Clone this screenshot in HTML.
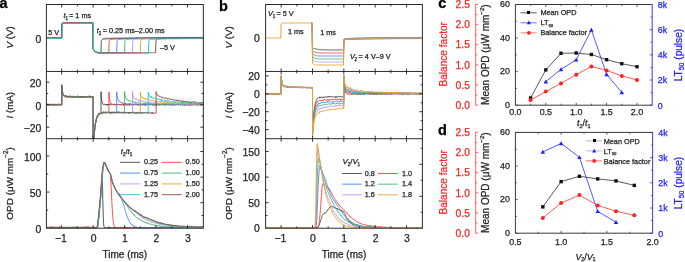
<!DOCTYPE html>
<html><head><meta charset="utf-8"><style>
html,body{margin:0;padding:0;background:#fff;width:685px;height:262px;overflow:hidden;}
svg{display:block;font-family:"Liberation Sans",sans-serif;will-change:transform;}
text{stroke-width:0.25px;paint-order:stroke;}
</style></head><body>
<svg width="685" height="262" viewBox="0 0 685 262">
<rect width="685" height="262" fill="#fff"/>
<defs>
<clipPath id="ca1"><rect x="46.4" y="4.5" width="156.95" height="66.95"/></clipPath>
<clipPath id="ca2"><rect x="46.4" y="71.45" width="156.95" height="67.25"/></clipPath>
<clipPath id="ca3"><rect x="46.4" y="138.7" width="156.95" height="89.5"/></clipPath>
<clipPath id="cb1"><rect x="265.6" y="4.5" width="156.8" height="66.95"/></clipPath>
<clipPath id="cb2"><rect x="265.6" y="71.45" width="156.8" height="67.25"/></clipPath>
<clipPath id="cb3"><rect x="265.6" y="138.7" width="156.8" height="89.5"/></clipPath>
</defs>
<g clip-path="url(#ca1)">
<polyline points="46.2,38.1 46.6,38.1 46.9,38.1 47.2,38.1 47.5,38.1 47.8,38.1 48.1,38.1 48.4,38.1 48.8,38.1 49.1,38.1 49.4,38.1 49.7,38.1 50,38.1 50.3,38.1 50.6,38.1 51,38.1 51.3,38.1 51.6,38.1 51.9,38.1 52.2,38.1 52.5,38.1 52.8,38.1 53.2,38.1 53.5,38.1 53.8,38.1 54.1,38.1 54.4,38.1 54.7,38.1 55,38.1 55.4,38.1 55.7,38.1 56,38.1 56.3,38.1 56.6,38.1 56.9,38.1 57.3,38.1 57.6,38.1 57.9,38.1 58.2,38.1 58.5,38.1 58.8,38.1 59.1,38.1 59.5,38.1 59.8,38.1 60.1,38.1 60.4,38.1 60.7,38.1 61,38.1 61.3,38.1 61.7,38.1 62,24.6 62.3,23.8 62.6,23.4 62.9,23.2 63.2,23.2 63.5,23.1 63.9,23.1 64.2,23.1 64.5,23.1 64.8,23.1 65.1,23.1 65.4,23.1 65.7,23.1 66.1,23.1 66.4,23.1 66.7,23.1 67,23.1 67.3,23.1 67.6,23.1 67.9,23.1 68.3,23.1 68.6,23.1 68.9,23.1 69.2,23.1 69.5,23.1 69.8,23.1 70.1,23.1 70.5,23.1 70.8,23.1 71.1,23.1 71.4,23.1 71.7,23.1 72,23.1 72.4,23.1 72.7,23.1 73,23.1 73.3,23.1 73.6,23.1 73.9,23.1 74.2,23.1 74.6,23.1 74.9,23.1 75.2,23.1 75.5,23.1 75.8,23.1 76.1,23.1 76.4,23.1 76.8,23.1 77.1,23.1 77.4,23.1 77.7,23.1 78,23.1 78.3,23.1 78.6,23.1 79,23.1 79.3,23.1 79.6,23.1 79.9,23.1 80.2,23.1 80.5,23.1 80.8,23.1 81.2,23.1 81.5,23.1 81.8,23.1 82.1,23.1 82.4,23.1 82.7,23.1 83,23.1 83.4,23.1 83.7,23.1 84,23.1 84.3,23.1 84.6,23.1 84.9,23.1 85.3,23.1 85.6,23.1 85.9,23.1 86.2,23.1 86.5,23.1 86.8,23.1 87.1,23.1 87.5,23.1 87.8,23.1 88.1,23.1 88.4,23.1 88.7,23.1 89,23.1 89.3,23.1 89.7,23.1 90,23.1 90.3,23.1 90.6,23.1 90.9,23.1 91.2,23.1 91.5,23.1 91.9,23.1 92.2,23.1 92.5,23.1 92.8,23.1 93.1,23.1 93.4,49.4 93.7,49.9 94.1,50.4 94.4,50.8 94.7,51.2 95,51.5 95.3,51.7 95.6,51.9 95.9,52.1 96.3,52.3 96.6,52.4 96.9,52.5 97.2,52.6 97.5,52.7 97.8,52.7 98.1,52.8 98.5,52.8 98.8,52.9 99.1,52.9 99.4,52.9 99.7,53.0 100,53.0 100.4,53.0 100.7,53.0 101,53.0 101.3,41.2 101.6,40.4 101.9,39.8 102.2,39.5 102.6,39.3 102.9,39.2 103.2,39.1 103.5,39.1 103.8,39.0 104.1,39.0 104.4,39.0 104.8,39.0 105.1,39.0 105.4,38.9 105.7,38.9 106,38.9 106.3,38.9 106.6,38.9 107,38.9 107.3,38.9 107.6,38.9 107.9,38.9 108.2,38.9 108.5,38.8 108.8,38.8 109.2,38.8 109.5,38.8 109.8,38.8 110.1,38.8 110.4,38.8 110.7,38.8 111,38.8 111.4,38.8 111.7,38.8 112,38.7 112.3,38.7 112.6,38.7 112.9,38.7 113.2,38.7 113.6,38.7 113.9,38.7 114.2,38.7 114.5,38.7 114.8,38.7 115.1,38.7 115.5,38.7 115.8,38.7 116.1,38.7 116.4,38.6 116.7,38.6 117,38.6 117.3,38.6 117.7,38.6 118,38.6 118.3,38.6 118.6,38.6 118.9,38.6 119.2,38.6 119.5,38.6 119.9,38.6 120.2,38.6 120.5,38.6 120.8,38.6 121.1,38.6 121.4,38.5 121.7,38.5 122.1,38.5 122.4,38.5 122.7,38.5 123,38.5 123.3,38.5 123.6,38.5 123.9,38.5 124.3,38.5 124.6,38.5 124.9,38.5 125.2,38.5 125.5,38.5 125.8,38.5 126.1,38.5 126.5,38.5 126.8,38.5 127.1,38.5 127.4,38.5 127.7,38.4 128,38.4 128.4,38.4 128.7,38.4 129,38.4 129.3,38.4 129.6,38.4 129.9,38.4 130.2,38.4 130.6,38.4 130.9,38.4 131.2,38.4 131.5,38.4 131.8,38.4 132.1,38.4 132.4,38.4 132.8,38.4 133.1,38.4 133.4,38.4 133.7,38.4 134,38.4 134.3,38.4 134.6,38.4 135,38.4 135.3,38.4 135.6,38.4 135.9,38.4 136.2,38.3 136.5,38.3 136.8,38.3 137.2,38.3 137.5,38.3 137.8,38.3 138.1,38.3 138.4,38.3 138.7,38.3 139,38.3 139.4,38.3 139.7,38.3 140,38.3 140.3,38.3 140.6,38.3 140.9,38.3 141.2,38.3 141.6,38.3 141.9,38.3 142.2,38.3 142.5,38.3 142.8,38.3 143.1,38.3 143.5,38.3 143.8,38.3 144.1,38.3 144.4,38.3 144.7,38.3 145,38.3 145.3,38.3 145.7,38.3 146,38.3 146.3,38.3 146.6,38.3 146.9,38.3 147.2,38.3 147.5,38.3 147.9,38.3 148.2,38.3 148.5,38.3 148.8,38.2 149.1,38.2 149.4,38.2 149.7,38.2 150.1,38.2 150.4,38.2 150.7,38.2 151,38.2 151.3,38.2 151.6,38.2 151.9,38.2 152.3,38.2 152.6,38.2 152.9,38.2 153.2,38.2 153.5,38.2 153.8,38.2 154.1,38.2 154.5,38.2 154.8,38.2 155.1,38.2 155.4,38.2 155.7,38.2 156,38.2 156.4,38.2 156.7,38.2 157,38.2 157.3,38.2 157.6,38.2 157.9,38.2 158.2,38.2 158.6,38.2 158.9,38.2 159.2,38.2 159.5,38.2 159.8,38.2 160.1,38.2 160.4,38.2 160.8,38.2 161.1,38.2 161.4,38.2 161.7,38.2 162,38.2 162.3,38.2 162.6,38.2 163,38.2 163.3,38.2 163.6,38.2 163.9,38.2 164.2,38.2 164.5,38.2 164.8,38.2 165.2,38.2 165.5,38.2 165.8,38.2 166.1,38.2 166.4,38.2 166.7,38.2 167,38.2 167.4,38.2 167.7,38.2 168,38.2 168.3,38.2 168.6,38.2 168.9,38.2 169.2,38.2 169.6,38.2 169.9,38.2 170.2,38.2 170.5,38.2 170.8,38.2 171.1,38.2 171.5,38.2 171.8,38.2 172.1,38.2 172.4,38.2 172.7,38.2 173,38.2 173.3,38.2 173.7,38.2 174,38.2 174.3,38.2 174.6,38.2 174.9,38.2 175.2,38.2 175.5,38.2 175.9,38.2 176.2,38.2 176.5,38.1 176.8,38.1 177.1,38.1 177.4,38.1 177.7,38.1 178.1,38.1 178.4,38.1 178.7,38.1 179,38.1 179.3,38.1 179.6,38.1 179.9,38.1 180.3,38.1 180.6,38.1 180.9,38.1 181.2,38.1 181.5,38.1 181.8,38.1 182.1,38.1 182.5,38.1 182.8,38.1 183.1,38.1 183.4,38.1 183.7,38.1 184,38.1 184.3,38.1 184.7,38.1 185,38.1 185.3,38.1 185.6,38.1 185.9,38.1 186.2,38.1 186.6,38.1 186.9,38.1 187.2,38.1 187.5,38.1 187.8,38.1 188.1,38.1 188.4,38.1 188.8,38.1 189.1,38.1 189.4,38.1 189.7,38.1 190,38.1 190.3,38.1 190.6,38.1 191,38.1 191.3,38.1 191.6,38.1 191.9,38.1 192.2,38.1 192.5,38.1 192.8,38.1 193.2,38.1 193.5,38.1 193.8,38.1 194.1,38.1 194.4,38.1 194.7,38.1 195,38.1 195.4,38.1 195.7,38.1 196,38.1 196.3,38.1 196.6,38.1 196.9,38.1 197.2,38.1 197.6,38.1 197.9,38.1 198.2,38.1 198.5,38.1 198.8,38.1 199.1,38.1 199.5,38.1 199.8,38.1 200.1,38.1 200.4,38.1 200.7,38.1 201,38.1 201.3,38.1 201.7,38.1 202,38.1 202.3,38.1 202.6,38.1 202.9,38.1 203.2,38.1 203.5,38.1" fill="none" stroke="#444444" stroke-width="0.9" stroke-linejoin="round" />
<polyline points="46.2,38.1 46.6,38.1 46.9,38.1 47.2,38.1 47.5,38.1 47.8,38.1 48.1,38.1 48.4,38.1 48.8,38.1 49.1,38.1 49.4,38.1 49.7,38.1 50,38.1 50.3,38.1 50.6,38.1 51,38.1 51.3,38.1 51.6,38.1 51.9,38.1 52.2,38.1 52.5,38.1 52.8,38.1 53.2,38.1 53.5,38.1 53.8,38.1 54.1,38.1 54.4,38.1 54.7,38.1 55,38.1 55.4,38.1 55.7,38.1 56,38.1 56.3,38.1 56.6,38.1 56.9,38.1 57.3,38.1 57.6,38.1 57.9,38.1 58.2,38.1 58.5,38.1 58.8,38.1 59.1,38.1 59.5,38.1 59.8,38.1 60.1,38.1 60.4,38.1 60.7,38.1 61,38.1 61.3,38.1 61.7,38.1 62,24.6 62.3,23.8 62.6,23.4 62.9,23.2 63.2,23.2 63.5,23.1 63.9,23.1 64.2,23.1 64.5,23.1 64.8,23.1 65.1,23.1 65.4,23.1 65.7,23.1 66.1,23.1 66.4,23.1 66.7,23.1 67,23.1 67.3,23.1 67.6,23.1 67.9,23.1 68.3,23.1 68.6,23.1 68.9,23.1 69.2,23.1 69.5,23.1 69.8,23.1 70.1,23.1 70.5,23.1 70.8,23.1 71.1,23.1 71.4,23.1 71.7,23.1 72,23.1 72.4,23.1 72.7,23.1 73,23.1 73.3,23.1 73.6,23.1 73.9,23.1 74.2,23.1 74.6,23.1 74.9,23.1 75.2,23.1 75.5,23.1 75.8,23.1 76.1,23.1 76.4,23.1 76.8,23.1 77.1,23.1 77.4,23.1 77.7,23.1 78,23.1 78.3,23.1 78.6,23.1 79,23.1 79.3,23.1 79.6,23.1 79.9,23.1 80.2,23.1 80.5,23.1 80.8,23.1 81.2,23.1 81.5,23.1 81.8,23.1 82.1,23.1 82.4,23.1 82.7,23.1 83,23.1 83.4,23.1 83.7,23.1 84,23.1 84.3,23.1 84.6,23.1 84.9,23.1 85.3,23.1 85.6,23.1 85.9,23.1 86.2,23.1 86.5,23.1 86.8,23.1 87.1,23.1 87.5,23.1 87.8,23.1 88.1,23.1 88.4,23.1 88.7,23.1 89,23.1 89.3,23.1 89.7,23.1 90,23.1 90.3,23.1 90.6,23.1 90.9,23.1 91.2,23.1 91.5,23.1 91.9,23.1 92.2,23.1 92.5,23.1 92.8,23.1 93.1,23.1 93.4,49.4 93.7,49.9 94.1,50.4 94.4,50.8 94.7,51.2 95,51.5 95.3,51.7 95.6,51.9 95.9,52.1 96.3,52.3 96.6,52.4 96.9,52.5 97.2,52.6 97.5,52.7 97.8,52.7 98.1,52.8 98.5,52.8 98.8,52.9 99.1,52.9 99.4,52.9 99.7,53.0 100,53.0 100.4,53.0 100.7,53.0 101,53.0 101.3,53.0 101.6,53.1 101.9,53.1 102.2,53.1 102.6,53.1 102.9,53.1 103.2,53.1 103.5,53.1 103.8,53.1 104.1,53.1 104.4,53.1 104.8,53.1 105.1,53.1 105.4,53.1 105.7,53.1 106,53.1 106.3,53.1 106.6,53.1 107,53.1 107.3,53.1 107.6,53.1 107.9,53.1 108.2,53.1 108.5,53.1 108.8,53.1 109.2,41.2 109.5,40.4 109.8,39.8 110.1,39.5 110.4,39.3 110.7,39.2 111,39.1 111.4,39.1 111.7,39.0 112,39.0 112.3,39.0 112.6,39.0 112.9,39.0 113.2,38.9 113.6,38.9 113.9,38.9 114.2,38.9 114.5,38.9 114.8,38.9 115.1,38.9 115.5,38.9 115.8,38.9 116.1,38.9 116.4,38.8 116.7,38.8 117,38.8 117.3,38.8 117.7,38.8 118,38.8 118.3,38.8 118.6,38.8 118.9,38.8 119.2,38.8 119.5,38.8 119.9,38.7 120.2,38.7 120.5,38.7 120.8,38.7 121.1,38.7 121.4,38.7 121.7,38.7 122.1,38.7 122.4,38.7 122.7,38.7 123,38.7 123.3,38.7 123.6,38.7 123.9,38.7 124.3,38.6 124.6,38.6 124.9,38.6 125.2,38.6 125.5,38.6 125.8,38.6 126.1,38.6 126.5,38.6 126.8,38.6 127.1,38.6 127.4,38.6 127.7,38.6 128,38.6 128.4,38.6 128.7,38.6 129,38.6 129.3,38.5 129.6,38.5 129.9,38.5 130.2,38.5 130.6,38.5 130.9,38.5 131.2,38.5 131.5,38.5 131.8,38.5 132.1,38.5 132.4,38.5 132.8,38.5 133.1,38.5 133.4,38.5 133.7,38.5 134,38.5 134.3,38.5 134.6,38.5 135,38.5 135.3,38.5 135.6,38.4 135.9,38.4 136.2,38.4 136.5,38.4 136.8,38.4 137.2,38.4 137.5,38.4 137.8,38.4 138.1,38.4 138.4,38.4 138.7,38.4 139,38.4 139.4,38.4 139.7,38.4 140,38.4 140.3,38.4 140.6,38.4 140.9,38.4 141.2,38.4 141.6,38.4 141.9,38.4 142.2,38.4 142.5,38.4 142.8,38.4 143.1,38.4 143.5,38.4 143.8,38.4 144.1,38.3 144.4,38.3 144.7,38.3 145,38.3 145.3,38.3 145.7,38.3 146,38.3 146.3,38.3 146.6,38.3 146.9,38.3 147.2,38.3 147.5,38.3 147.9,38.3 148.2,38.3 148.5,38.3 148.8,38.3 149.1,38.3 149.4,38.3 149.7,38.3 150.1,38.3 150.4,38.3 150.7,38.3 151,38.3 151.3,38.3 151.6,38.3 151.9,38.3 152.3,38.3 152.6,38.3 152.9,38.3 153.2,38.3 153.5,38.3 153.8,38.3 154.1,38.3 154.5,38.3 154.8,38.3 155.1,38.3 155.4,38.3 155.7,38.3 156,38.3 156.4,38.3 156.7,38.2 157,38.2 157.3,38.2 157.6,38.2 157.9,38.2 158.2,38.2 158.6,38.2 158.9,38.2 159.2,38.2 159.5,38.2 159.8,38.2 160.1,38.2 160.4,38.2 160.8,38.2 161.1,38.2 161.4,38.2 161.7,38.2 162,38.2 162.3,38.2 162.6,38.2 163,38.2 163.3,38.2 163.6,38.2 163.9,38.2 164.2,38.2 164.5,38.2 164.8,38.2 165.2,38.2 165.5,38.2 165.8,38.2 166.1,38.2 166.4,38.2 166.7,38.2 167,38.2 167.4,38.2 167.7,38.2 168,38.2 168.3,38.2 168.6,38.2 168.9,38.2 169.2,38.2 169.6,38.2 169.9,38.2 170.2,38.2 170.5,38.2 170.8,38.2 171.1,38.2 171.5,38.2 171.8,38.2 172.1,38.2 172.4,38.2 172.7,38.2 173,38.2 173.3,38.2 173.7,38.2 174,38.2 174.3,38.2 174.6,38.2 174.9,38.2 175.2,38.2 175.5,38.2 175.9,38.2 176.2,38.2 176.5,38.2 176.8,38.2 177.1,38.2 177.4,38.2 177.7,38.2 178.1,38.2 178.4,38.2 178.7,38.2 179,38.2 179.3,38.2 179.6,38.2 179.9,38.2 180.3,38.2 180.6,38.2 180.9,38.2 181.2,38.2 181.5,38.2 181.8,38.2 182.1,38.2 182.5,38.2 182.8,38.2 183.1,38.2 183.4,38.2 183.7,38.2 184,38.2 184.3,38.1 184.7,38.1 185,38.1 185.3,38.1 185.6,38.1 185.9,38.1 186.2,38.1 186.6,38.1 186.9,38.1 187.2,38.1 187.5,38.1 187.8,38.1 188.1,38.1 188.4,38.1 188.8,38.1 189.1,38.1 189.4,38.1 189.7,38.1 190,38.1 190.3,38.1 190.6,38.1 191,38.1 191.3,38.1 191.6,38.1 191.9,38.1 192.2,38.1 192.5,38.1 192.8,38.1 193.2,38.1 193.5,38.1 193.8,38.1 194.1,38.1 194.4,38.1 194.7,38.1 195,38.1 195.4,38.1 195.7,38.1 196,38.1 196.3,38.1 196.6,38.1 196.9,38.1 197.2,38.1 197.6,38.1 197.9,38.1 198.2,38.1 198.5,38.1 198.8,38.1 199.1,38.1 199.5,38.1 199.8,38.1 200.1,38.1 200.4,38.1 200.7,38.1 201,38.1 201.3,38.1 201.7,38.1 202,38.1 202.3,38.1 202.6,38.1 202.9,38.1 203.2,38.1 203.5,38.1" fill="none" stroke="#ff3b3b" stroke-width="0.9" stroke-linejoin="round" />
<polyline points="46.2,38.1 46.6,38.1 46.9,38.1 47.2,38.1 47.5,38.1 47.8,38.1 48.1,38.1 48.4,38.1 48.8,38.1 49.1,38.1 49.4,38.1 49.7,38.1 50,38.1 50.3,38.1 50.6,38.1 51,38.1 51.3,38.1 51.6,38.1 51.9,38.1 52.2,38.1 52.5,38.1 52.8,38.1 53.2,38.1 53.5,38.1 53.8,38.1 54.1,38.1 54.4,38.1 54.7,38.1 55,38.1 55.4,38.1 55.7,38.1 56,38.1 56.3,38.1 56.6,38.1 56.9,38.1 57.3,38.1 57.6,38.1 57.9,38.1 58.2,38.1 58.5,38.1 58.8,38.1 59.1,38.1 59.5,38.1 59.8,38.1 60.1,38.1 60.4,38.1 60.7,38.1 61,38.1 61.3,38.1 61.7,38.1 62,24.6 62.3,23.8 62.6,23.4 62.9,23.2 63.2,23.2 63.5,23.1 63.9,23.1 64.2,23.1 64.5,23.1 64.8,23.1 65.1,23.1 65.4,23.1 65.7,23.1 66.1,23.1 66.4,23.1 66.7,23.1 67,23.1 67.3,23.1 67.6,23.1 67.9,23.1 68.3,23.1 68.6,23.1 68.9,23.1 69.2,23.1 69.5,23.1 69.8,23.1 70.1,23.1 70.5,23.1 70.8,23.1 71.1,23.1 71.4,23.1 71.7,23.1 72,23.1 72.4,23.1 72.7,23.1 73,23.1 73.3,23.1 73.6,23.1 73.9,23.1 74.2,23.1 74.6,23.1 74.9,23.1 75.2,23.1 75.5,23.1 75.8,23.1 76.1,23.1 76.4,23.1 76.8,23.1 77.1,23.1 77.4,23.1 77.7,23.1 78,23.1 78.3,23.1 78.6,23.1 79,23.1 79.3,23.1 79.6,23.1 79.9,23.1 80.2,23.1 80.5,23.1 80.8,23.1 81.2,23.1 81.5,23.1 81.8,23.1 82.1,23.1 82.4,23.1 82.7,23.1 83,23.1 83.4,23.1 83.7,23.1 84,23.1 84.3,23.1 84.6,23.1 84.9,23.1 85.3,23.1 85.6,23.1 85.9,23.1 86.2,23.1 86.5,23.1 86.8,23.1 87.1,23.1 87.5,23.1 87.8,23.1 88.1,23.1 88.4,23.1 88.7,23.1 89,23.1 89.3,23.1 89.7,23.1 90,23.1 90.3,23.1 90.6,23.1 90.9,23.1 91.2,23.1 91.5,23.1 91.9,23.1 92.2,23.1 92.5,23.1 92.8,23.1 93.1,23.1 93.4,49.4 93.7,49.9 94.1,50.4 94.4,50.8 94.7,51.2 95,51.5 95.3,51.7 95.6,51.9 95.9,52.1 96.3,52.3 96.6,52.4 96.9,52.5 97.2,52.6 97.5,52.7 97.8,52.7 98.1,52.8 98.5,52.8 98.8,52.9 99.1,52.9 99.4,52.9 99.7,53.0 100,53.0 100.4,53.0 100.7,53.0 101,53.0 101.3,53.0 101.6,53.1 101.9,53.1 102.2,53.1 102.6,53.1 102.9,53.1 103.2,53.1 103.5,53.1 103.8,53.1 104.1,53.1 104.4,53.1 104.8,53.1 105.1,53.1 105.4,53.1 105.7,53.1 106,53.1 106.3,53.1 106.6,53.1 107,53.1 107.3,53.1 107.6,53.1 107.9,53.1 108.2,53.1 108.5,53.1 108.8,53.1 109.2,53.1 109.5,53.1 109.8,53.1 110.1,53.1 110.4,53.1 110.7,53.1 111,53.1 111.4,53.1 111.7,53.1 112,53.1 112.3,53.1 112.6,53.1 112.9,53.1 113.2,53.1 113.6,53.1 113.9,53.1 114.2,53.1 114.5,53.1 114.8,53.1 115.1,53.1 115.5,53.1 115.8,53.1 116.1,53.1 116.4,53.1 116.7,53.1 117,41.2 117.3,40.4 117.7,39.8 118,39.5 118.3,39.3 118.6,39.2 118.9,39.1 119.2,39.1 119.5,39.0 119.9,39.0 120.2,39.0 120.5,39.0 120.8,39.0 121.1,38.9 121.4,38.9 121.7,38.9 122.1,38.9 122.4,38.9 122.7,38.9 123,38.9 123.3,38.9 123.6,38.9 123.9,38.9 124.3,38.8 124.6,38.8 124.9,38.8 125.2,38.8 125.5,38.8 125.8,38.8 126.1,38.8 126.5,38.8 126.8,38.8 127.1,38.8 127.4,38.8 127.7,38.7 128,38.7 128.4,38.7 128.7,38.7 129,38.7 129.3,38.7 129.6,38.7 129.9,38.7 130.2,38.7 130.6,38.7 130.9,38.7 131.2,38.7 131.5,38.7 131.8,38.7 132.1,38.6 132.4,38.6 132.8,38.6 133.1,38.6 133.4,38.6 133.7,38.6 134,38.6 134.3,38.6 134.6,38.6 135,38.6 135.3,38.6 135.6,38.6 135.9,38.6 136.2,38.6 136.5,38.6 136.8,38.6 137.2,38.5 137.5,38.5 137.8,38.5 138.1,38.5 138.4,38.5 138.7,38.5 139,38.5 139.4,38.5 139.7,38.5 140,38.5 140.3,38.5 140.6,38.5 140.9,38.5 141.2,38.5 141.6,38.5 141.9,38.5 142.2,38.5 142.5,38.5 142.8,38.5 143.1,38.5 143.5,38.4 143.8,38.4 144.1,38.4 144.4,38.4 144.7,38.4 145,38.4 145.3,38.4 145.7,38.4 146,38.4 146.3,38.4 146.6,38.4 146.9,38.4 147.2,38.4 147.5,38.4 147.9,38.4 148.2,38.4 148.5,38.4 148.8,38.4 149.1,38.4 149.4,38.4 149.7,38.4 150.1,38.4 150.4,38.4 150.7,38.4 151,38.4 151.3,38.4 151.6,38.4 151.9,38.3 152.3,38.3 152.6,38.3 152.9,38.3 153.2,38.3 153.5,38.3 153.8,38.3 154.1,38.3 154.5,38.3 154.8,38.3 155.1,38.3 155.4,38.3 155.7,38.3 156,38.3 156.4,38.3 156.7,38.3 157,38.3 157.3,38.3 157.6,38.3 157.9,38.3 158.2,38.3 158.6,38.3 158.9,38.3 159.2,38.3 159.5,38.3 159.8,38.3 160.1,38.3 160.4,38.3 160.8,38.3 161.1,38.3 161.4,38.3 161.7,38.3 162,38.3 162.3,38.3 162.6,38.3 163,38.3 163.3,38.3 163.6,38.3 163.9,38.3 164.2,38.3 164.5,38.2 164.8,38.2 165.2,38.2 165.5,38.2 165.8,38.2 166.1,38.2 166.4,38.2 166.7,38.2 167,38.2 167.4,38.2 167.7,38.2 168,38.2 168.3,38.2 168.6,38.2 168.9,38.2 169.2,38.2 169.6,38.2 169.9,38.2 170.2,38.2 170.5,38.2 170.8,38.2 171.1,38.2 171.5,38.2 171.8,38.2 172.1,38.2 172.4,38.2 172.7,38.2 173,38.2 173.3,38.2 173.7,38.2 174,38.2 174.3,38.2 174.6,38.2 174.9,38.2 175.2,38.2 175.5,38.2 175.9,38.2 176.2,38.2 176.5,38.2 176.8,38.2 177.1,38.2 177.4,38.2 177.7,38.2 178.1,38.2 178.4,38.2 178.7,38.2 179,38.2 179.3,38.2 179.6,38.2 179.9,38.2 180.3,38.2 180.6,38.2 180.9,38.2 181.2,38.2 181.5,38.2 181.8,38.2 182.1,38.2 182.5,38.2 182.8,38.2 183.1,38.2 183.4,38.2 183.7,38.2 184,38.2 184.3,38.2 184.7,38.2 185,38.2 185.3,38.2 185.6,38.2 185.9,38.2 186.2,38.2 186.6,38.2 186.9,38.2 187.2,38.2 187.5,38.2 187.8,38.2 188.1,38.2 188.4,38.2 188.8,38.2 189.1,38.2 189.4,38.2 189.7,38.2 190,38.2 190.3,38.2 190.6,38.2 191,38.2 191.3,38.2 191.6,38.2 191.9,38.2 192.2,38.1 192.5,38.1 192.8,38.1 193.2,38.1 193.5,38.1 193.8,38.1 194.1,38.1 194.4,38.1 194.7,38.1 195,38.1 195.4,38.1 195.7,38.1 196,38.1 196.3,38.1 196.6,38.1 196.9,38.1 197.2,38.1 197.6,38.1 197.9,38.1 198.2,38.1 198.5,38.1 198.8,38.1 199.1,38.1 199.5,38.1 199.8,38.1 200.1,38.1 200.4,38.1 200.7,38.1 201,38.1 201.3,38.1 201.7,38.1 202,38.1 202.3,38.1 202.6,38.1 202.9,38.1 203.2,38.1 203.5,38.1" fill="none" stroke="#3f86ee" stroke-width="0.9" stroke-linejoin="round" />
<polyline points="46.2,38.1 46.6,38.1 46.9,38.1 47.2,38.1 47.5,38.1 47.8,38.1 48.1,38.1 48.4,38.1 48.8,38.1 49.1,38.1 49.4,38.1 49.7,38.1 50,38.1 50.3,38.1 50.6,38.1 51,38.1 51.3,38.1 51.6,38.1 51.9,38.1 52.2,38.1 52.5,38.1 52.8,38.1 53.2,38.1 53.5,38.1 53.8,38.1 54.1,38.1 54.4,38.1 54.7,38.1 55,38.1 55.4,38.1 55.7,38.1 56,38.1 56.3,38.1 56.6,38.1 56.9,38.1 57.3,38.1 57.6,38.1 57.9,38.1 58.2,38.1 58.5,38.1 58.8,38.1 59.1,38.1 59.5,38.1 59.8,38.1 60.1,38.1 60.4,38.1 60.7,38.1 61,38.1 61.3,38.1 61.7,38.1 62,24.6 62.3,23.8 62.6,23.4 62.9,23.2 63.2,23.2 63.5,23.1 63.9,23.1 64.2,23.1 64.5,23.1 64.8,23.1 65.1,23.1 65.4,23.1 65.7,23.1 66.1,23.1 66.4,23.1 66.7,23.1 67,23.1 67.3,23.1 67.6,23.1 67.9,23.1 68.3,23.1 68.6,23.1 68.9,23.1 69.2,23.1 69.5,23.1 69.8,23.1 70.1,23.1 70.5,23.1 70.8,23.1 71.1,23.1 71.4,23.1 71.7,23.1 72,23.1 72.4,23.1 72.7,23.1 73,23.1 73.3,23.1 73.6,23.1 73.9,23.1 74.2,23.1 74.6,23.1 74.9,23.1 75.2,23.1 75.5,23.1 75.8,23.1 76.1,23.1 76.4,23.1 76.8,23.1 77.1,23.1 77.4,23.1 77.7,23.1 78,23.1 78.3,23.1 78.6,23.1 79,23.1 79.3,23.1 79.6,23.1 79.9,23.1 80.2,23.1 80.5,23.1 80.8,23.1 81.2,23.1 81.5,23.1 81.8,23.1 82.1,23.1 82.4,23.1 82.7,23.1 83,23.1 83.4,23.1 83.7,23.1 84,23.1 84.3,23.1 84.6,23.1 84.9,23.1 85.3,23.1 85.6,23.1 85.9,23.1 86.2,23.1 86.5,23.1 86.8,23.1 87.1,23.1 87.5,23.1 87.8,23.1 88.1,23.1 88.4,23.1 88.7,23.1 89,23.1 89.3,23.1 89.7,23.1 90,23.1 90.3,23.1 90.6,23.1 90.9,23.1 91.2,23.1 91.5,23.1 91.9,23.1 92.2,23.1 92.5,23.1 92.8,23.1 93.1,23.1 93.4,49.4 93.7,49.9 94.1,50.4 94.4,50.8 94.7,51.2 95,51.5 95.3,51.7 95.6,51.9 95.9,52.1 96.3,52.3 96.6,52.4 96.9,52.5 97.2,52.6 97.5,52.7 97.8,52.7 98.1,52.8 98.5,52.8 98.8,52.9 99.1,52.9 99.4,52.9 99.7,53.0 100,53.0 100.4,53.0 100.7,53.0 101,53.0 101.3,53.0 101.6,53.1 101.9,53.1 102.2,53.1 102.6,53.1 102.9,53.1 103.2,53.1 103.5,53.1 103.8,53.1 104.1,53.1 104.4,53.1 104.8,53.1 105.1,53.1 105.4,53.1 105.7,53.1 106,53.1 106.3,53.1 106.6,53.1 107,53.1 107.3,53.1 107.6,53.1 107.9,53.1 108.2,53.1 108.5,53.1 108.8,53.1 109.2,53.1 109.5,53.1 109.8,53.1 110.1,53.1 110.4,53.1 110.7,53.1 111,53.1 111.4,53.1 111.7,53.1 112,53.1 112.3,53.1 112.6,53.1 112.9,53.1 113.2,53.1 113.6,53.1 113.9,53.1 114.2,53.1 114.5,53.1 114.8,53.1 115.1,53.1 115.5,53.1 115.8,53.1 116.1,53.1 116.4,53.1 116.7,53.1 117,53.1 117.3,53.1 117.7,53.1 118,53.1 118.3,53.1 118.6,53.1 118.9,53.1 119.2,53.1 119.5,53.1 119.9,53.1 120.2,53.1 120.5,53.1 120.8,53.1 121.1,53.1 121.4,53.1 121.7,53.1 122.1,53.1 122.4,53.1 122.7,53.1 123,53.1 123.3,53.1 123.6,53.1 123.9,53.1 124.3,53.1 124.6,53.1 124.9,41.2 125.2,40.4 125.5,39.8 125.8,39.5 126.1,39.3 126.5,39.2 126.8,39.1 127.1,39.1 127.4,39.0 127.7,39.0 128,39.0 128.4,39.0 128.7,39.0 129,38.9 129.3,38.9 129.6,38.9 129.9,38.9 130.2,38.9 130.6,38.9 130.9,38.9 131.2,38.9 131.5,38.9 131.8,38.9 132.1,38.8 132.4,38.8 132.8,38.8 133.1,38.8 133.4,38.8 133.7,38.8 134,38.8 134.3,38.8 134.6,38.8 135,38.8 135.3,38.8 135.6,38.7 135.9,38.7 136.2,38.7 136.5,38.7 136.8,38.7 137.2,38.7 137.5,38.7 137.8,38.7 138.1,38.7 138.4,38.7 138.7,38.7 139,38.7 139.4,38.7 139.7,38.7 140,38.6 140.3,38.6 140.6,38.6 140.9,38.6 141.2,38.6 141.6,38.6 141.9,38.6 142.2,38.6 142.5,38.6 142.8,38.6 143.1,38.6 143.5,38.6 143.8,38.6 144.1,38.6 144.4,38.6 144.7,38.6 145,38.5 145.3,38.5 145.7,38.5 146,38.5 146.3,38.5 146.6,38.5 146.9,38.5 147.2,38.5 147.5,38.5 147.9,38.5 148.2,38.5 148.5,38.5 148.8,38.5 149.1,38.5 149.4,38.5 149.7,38.5 150.1,38.5 150.4,38.5 150.7,38.5 151,38.5 151.3,38.4 151.6,38.4 151.9,38.4 152.3,38.4 152.6,38.4 152.9,38.4 153.2,38.4 153.5,38.4 153.8,38.4 154.1,38.4 154.5,38.4 154.8,38.4 155.1,38.4 155.4,38.4 155.7,38.4 156,38.4 156.4,38.4 156.7,38.4 157,38.4 157.3,38.4 157.6,38.4 157.9,38.4 158.2,38.4 158.6,38.4 158.9,38.4 159.2,38.4 159.5,38.4 159.8,38.3 160.1,38.3 160.4,38.3 160.8,38.3 161.1,38.3 161.4,38.3 161.7,38.3 162,38.3 162.3,38.3 162.6,38.3 163,38.3 163.3,38.3 163.6,38.3 163.9,38.3 164.2,38.3 164.5,38.3 164.8,38.3 165.2,38.3 165.5,38.3 165.8,38.3 166.1,38.3 166.4,38.3 166.7,38.3 167,38.3 167.4,38.3 167.7,38.3 168,38.3 168.3,38.3 168.6,38.3 168.9,38.3 169.2,38.3 169.6,38.3 169.9,38.3 170.2,38.3 170.5,38.3 170.8,38.3 171.1,38.3 171.5,38.3 171.8,38.3 172.1,38.3 172.4,38.2 172.7,38.2 173,38.2 173.3,38.2 173.7,38.2 174,38.2 174.3,38.2 174.6,38.2 174.9,38.2 175.2,38.2 175.5,38.2 175.9,38.2 176.2,38.2 176.5,38.2 176.8,38.2 177.1,38.2 177.4,38.2 177.7,38.2 178.1,38.2 178.4,38.2 178.7,38.2 179,38.2 179.3,38.2 179.6,38.2 179.9,38.2 180.3,38.2 180.6,38.2 180.9,38.2 181.2,38.2 181.5,38.2 181.8,38.2 182.1,38.2 182.5,38.2 182.8,38.2 183.1,38.2 183.4,38.2 183.7,38.2 184,38.2 184.3,38.2 184.7,38.2 185,38.2 185.3,38.2 185.6,38.2 185.9,38.2 186.2,38.2 186.6,38.2 186.9,38.2 187.2,38.2 187.5,38.2 187.8,38.2 188.1,38.2 188.4,38.2 188.8,38.2 189.1,38.2 189.4,38.2 189.7,38.2 190,38.2 190.3,38.2 190.6,38.2 191,38.2 191.3,38.2 191.6,38.2 191.9,38.2 192.2,38.2 192.5,38.2 192.8,38.2 193.2,38.2 193.5,38.2 193.8,38.2 194.1,38.2 194.4,38.2 194.7,38.2 195,38.2 195.4,38.2 195.7,38.2 196,38.2 196.3,38.2 196.6,38.2 196.9,38.2 197.2,38.2 197.6,38.2 197.9,38.2 198.2,38.2 198.5,38.2 198.8,38.2 199.1,38.2 199.5,38.2 199.8,38.2 200.1,38.1 200.4,38.1 200.7,38.1 201,38.1 201.3,38.1 201.7,38.1 202,38.1 202.3,38.1 202.6,38.1 202.9,38.1 203.2,38.1 203.5,38.1" fill="none" stroke="#3fb46e" stroke-width="0.9" stroke-linejoin="round" />
<polyline points="46.2,38.1 46.6,38.1 46.9,38.1 47.2,38.1 47.5,38.1 47.8,38.1 48.1,38.1 48.4,38.1 48.8,38.1 49.1,38.1 49.4,38.1 49.7,38.1 50,38.1 50.3,38.1 50.6,38.1 51,38.1 51.3,38.1 51.6,38.1 51.9,38.1 52.2,38.1 52.5,38.1 52.8,38.1 53.2,38.1 53.5,38.1 53.8,38.1 54.1,38.1 54.4,38.1 54.7,38.1 55,38.1 55.4,38.1 55.7,38.1 56,38.1 56.3,38.1 56.6,38.1 56.9,38.1 57.3,38.1 57.6,38.1 57.9,38.1 58.2,38.1 58.5,38.1 58.8,38.1 59.1,38.1 59.5,38.1 59.8,38.1 60.1,38.1 60.4,38.1 60.7,38.1 61,38.1 61.3,38.1 61.7,38.1 62,24.6 62.3,23.8 62.6,23.4 62.9,23.2 63.2,23.2 63.5,23.1 63.9,23.1 64.2,23.1 64.5,23.1 64.8,23.1 65.1,23.1 65.4,23.1 65.7,23.1 66.1,23.1 66.4,23.1 66.7,23.1 67,23.1 67.3,23.1 67.6,23.1 67.9,23.1 68.3,23.1 68.6,23.1 68.9,23.1 69.2,23.1 69.5,23.1 69.8,23.1 70.1,23.1 70.5,23.1 70.8,23.1 71.1,23.1 71.4,23.1 71.7,23.1 72,23.1 72.4,23.1 72.7,23.1 73,23.1 73.3,23.1 73.6,23.1 73.9,23.1 74.2,23.1 74.6,23.1 74.9,23.1 75.2,23.1 75.5,23.1 75.8,23.1 76.1,23.1 76.4,23.1 76.8,23.1 77.1,23.1 77.4,23.1 77.7,23.1 78,23.1 78.3,23.1 78.6,23.1 79,23.1 79.3,23.1 79.6,23.1 79.9,23.1 80.2,23.1 80.5,23.1 80.8,23.1 81.2,23.1 81.5,23.1 81.8,23.1 82.1,23.1 82.4,23.1 82.7,23.1 83,23.1 83.4,23.1 83.7,23.1 84,23.1 84.3,23.1 84.6,23.1 84.9,23.1 85.3,23.1 85.6,23.1 85.9,23.1 86.2,23.1 86.5,23.1 86.8,23.1 87.1,23.1 87.5,23.1 87.8,23.1 88.1,23.1 88.4,23.1 88.7,23.1 89,23.1 89.3,23.1 89.7,23.1 90,23.1 90.3,23.1 90.6,23.1 90.9,23.1 91.2,23.1 91.5,23.1 91.9,23.1 92.2,23.1 92.5,23.1 92.8,23.1 93.1,23.1 93.4,49.4 93.7,49.9 94.1,50.4 94.4,50.8 94.7,51.2 95,51.5 95.3,51.7 95.6,51.9 95.9,52.1 96.3,52.3 96.6,52.4 96.9,52.5 97.2,52.6 97.5,52.7 97.8,52.7 98.1,52.8 98.5,52.8 98.8,52.9 99.1,52.9 99.4,52.9 99.7,53.0 100,53.0 100.4,53.0 100.7,53.0 101,53.0 101.3,53.0 101.6,53.1 101.9,53.1 102.2,53.1 102.6,53.1 102.9,53.1 103.2,53.1 103.5,53.1 103.8,53.1 104.1,53.1 104.4,53.1 104.8,53.1 105.1,53.1 105.4,53.1 105.7,53.1 106,53.1 106.3,53.1 106.6,53.1 107,53.1 107.3,53.1 107.6,53.1 107.9,53.1 108.2,53.1 108.5,53.1 108.8,53.1 109.2,53.1 109.5,53.1 109.8,53.1 110.1,53.1 110.4,53.1 110.7,53.1 111,53.1 111.4,53.1 111.7,53.1 112,53.1 112.3,53.1 112.6,53.1 112.9,53.1 113.2,53.1 113.6,53.1 113.9,53.1 114.2,53.1 114.5,53.1 114.8,53.1 115.1,53.1 115.5,53.1 115.8,53.1 116.1,53.1 116.4,53.1 116.7,53.1 117,53.1 117.3,53.1 117.7,53.1 118,53.1 118.3,53.1 118.6,53.1 118.9,53.1 119.2,53.1 119.5,53.1 119.9,53.1 120.2,53.1 120.5,53.1 120.8,53.1 121.1,53.1 121.4,53.1 121.7,53.1 122.1,53.1 122.4,53.1 122.7,53.1 123,53.1 123.3,53.1 123.6,53.1 123.9,53.1 124.3,53.1 124.6,53.1 124.9,53.1 125.2,53.1 125.5,53.1 125.8,53.1 126.1,53.1 126.5,53.1 126.8,53.1 127.1,53.1 127.4,53.1 127.7,53.1 128,53.1 128.4,53.1 128.7,53.1 129,53.1 129.3,53.1 129.6,53.1 129.9,53.1 130.2,53.1 130.6,53.1 130.9,53.1 131.2,53.1 131.5,53.1 131.8,53.1 132.1,53.1 132.4,53.1 132.8,41.2 133.1,40.4 133.4,39.8 133.7,39.5 134,39.3 134.3,39.2 134.6,39.1 135,39.1 135.3,39.0 135.6,39.0 135.9,39.0 136.2,39.0 136.5,39.0 136.8,38.9 137.2,38.9 137.5,38.9 137.8,38.9 138.1,38.9 138.4,38.9 138.7,38.9 139,38.9 139.4,38.9 139.7,38.9 140,38.8 140.3,38.8 140.6,38.8 140.9,38.8 141.2,38.8 141.6,38.8 141.9,38.8 142.2,38.8 142.5,38.8 142.8,38.8 143.1,38.8 143.5,38.7 143.8,38.7 144.1,38.7 144.4,38.7 144.7,38.7 145,38.7 145.3,38.7 145.7,38.7 146,38.7 146.3,38.7 146.6,38.7 146.9,38.7 147.2,38.7 147.5,38.7 147.9,38.6 148.2,38.6 148.5,38.6 148.8,38.6 149.1,38.6 149.4,38.6 149.7,38.6 150.1,38.6 150.4,38.6 150.7,38.6 151,38.6 151.3,38.6 151.6,38.6 151.9,38.6 152.3,38.6 152.6,38.6 152.9,38.5 153.2,38.5 153.5,38.5 153.8,38.5 154.1,38.5 154.5,38.5 154.8,38.5 155.1,38.5 155.4,38.5 155.7,38.5 156,38.5 156.4,38.5 156.7,38.5 157,38.5 157.3,38.5 157.6,38.5 157.9,38.5 158.2,38.5 158.6,38.5 158.9,38.5 159.2,38.4 159.5,38.4 159.8,38.4 160.1,38.4 160.4,38.4 160.8,38.4 161.1,38.4 161.4,38.4 161.7,38.4 162,38.4 162.3,38.4 162.6,38.4 163,38.4 163.3,38.4 163.6,38.4 163.9,38.4 164.2,38.4 164.5,38.4 164.8,38.4 165.2,38.4 165.5,38.4 165.8,38.4 166.1,38.4 166.4,38.4 166.7,38.4 167,38.4 167.4,38.4 167.7,38.3 168,38.3 168.3,38.3 168.6,38.3 168.9,38.3 169.2,38.3 169.6,38.3 169.9,38.3 170.2,38.3 170.5,38.3 170.8,38.3 171.1,38.3 171.5,38.3 171.8,38.3 172.1,38.3 172.4,38.3 172.7,38.3 173,38.3 173.3,38.3 173.7,38.3 174,38.3 174.3,38.3 174.6,38.3 174.9,38.3 175.2,38.3 175.5,38.3 175.9,38.3 176.2,38.3 176.5,38.3 176.8,38.3 177.1,38.3 177.4,38.3 177.7,38.3 178.1,38.3 178.4,38.3 178.7,38.3 179,38.3 179.3,38.3 179.6,38.3 179.9,38.3 180.3,38.2 180.6,38.2 180.9,38.2 181.2,38.2 181.5,38.2 181.8,38.2 182.1,38.2 182.5,38.2 182.8,38.2 183.1,38.2 183.4,38.2 183.7,38.2 184,38.2 184.3,38.2 184.7,38.2 185,38.2 185.3,38.2 185.6,38.2 185.9,38.2 186.2,38.2 186.6,38.2 186.9,38.2 187.2,38.2 187.5,38.2 187.8,38.2 188.1,38.2 188.4,38.2 188.8,38.2 189.1,38.2 189.4,38.2 189.7,38.2 190,38.2 190.3,38.2 190.6,38.2 191,38.2 191.3,38.2 191.6,38.2 191.9,38.2 192.2,38.2 192.5,38.2 192.8,38.2 193.2,38.2 193.5,38.2 193.8,38.2 194.1,38.2 194.4,38.2 194.7,38.2 195,38.2 195.4,38.2 195.7,38.2 196,38.2 196.3,38.2 196.6,38.2 196.9,38.2 197.2,38.2 197.6,38.2 197.9,38.2 198.2,38.2 198.5,38.2 198.8,38.2 199.1,38.2 199.5,38.2 199.8,38.2 200.1,38.2 200.4,38.2 200.7,38.2 201,38.2 201.3,38.2 201.7,38.2 202,38.2 202.3,38.2 202.6,38.2 202.9,38.2 203.2,38.2 203.5,38.2" fill="none" stroke="#c38ef0" stroke-width="0.9" stroke-linejoin="round" />
<polyline points="46.2,38.1 46.6,38.1 46.9,38.1 47.2,38.1 47.5,38.1 47.8,38.1 48.1,38.1 48.4,38.1 48.8,38.1 49.1,38.1 49.4,38.1 49.7,38.1 50,38.1 50.3,38.1 50.6,38.1 51,38.1 51.3,38.1 51.6,38.1 51.9,38.1 52.2,38.1 52.5,38.1 52.8,38.1 53.2,38.1 53.5,38.1 53.8,38.1 54.1,38.1 54.4,38.1 54.7,38.1 55,38.1 55.4,38.1 55.7,38.1 56,38.1 56.3,38.1 56.6,38.1 56.9,38.1 57.3,38.1 57.6,38.1 57.9,38.1 58.2,38.1 58.5,38.1 58.8,38.1 59.1,38.1 59.5,38.1 59.8,38.1 60.1,38.1 60.4,38.1 60.7,38.1 61,38.1 61.3,38.1 61.7,38.1 62,24.6 62.3,23.8 62.6,23.4 62.9,23.2 63.2,23.2 63.5,23.1 63.9,23.1 64.2,23.1 64.5,23.1 64.8,23.1 65.1,23.1 65.4,23.1 65.7,23.1 66.1,23.1 66.4,23.1 66.7,23.1 67,23.1 67.3,23.1 67.6,23.1 67.9,23.1 68.3,23.1 68.6,23.1 68.9,23.1 69.2,23.1 69.5,23.1 69.8,23.1 70.1,23.1 70.5,23.1 70.8,23.1 71.1,23.1 71.4,23.1 71.7,23.1 72,23.1 72.4,23.1 72.7,23.1 73,23.1 73.3,23.1 73.6,23.1 73.9,23.1 74.2,23.1 74.6,23.1 74.9,23.1 75.2,23.1 75.5,23.1 75.8,23.1 76.1,23.1 76.4,23.1 76.8,23.1 77.1,23.1 77.4,23.1 77.7,23.1 78,23.1 78.3,23.1 78.6,23.1 79,23.1 79.3,23.1 79.6,23.1 79.9,23.1 80.2,23.1 80.5,23.1 80.8,23.1 81.2,23.1 81.5,23.1 81.8,23.1 82.1,23.1 82.4,23.1 82.7,23.1 83,23.1 83.4,23.1 83.7,23.1 84,23.1 84.3,23.1 84.6,23.1 84.9,23.1 85.3,23.1 85.6,23.1 85.9,23.1 86.2,23.1 86.5,23.1 86.8,23.1 87.1,23.1 87.5,23.1 87.8,23.1 88.1,23.1 88.4,23.1 88.7,23.1 89,23.1 89.3,23.1 89.7,23.1 90,23.1 90.3,23.1 90.6,23.1 90.9,23.1 91.2,23.1 91.5,23.1 91.9,23.1 92.2,23.1 92.5,23.1 92.8,23.1 93.1,23.1 93.4,49.4 93.7,49.9 94.1,50.4 94.4,50.8 94.7,51.2 95,51.5 95.3,51.7 95.6,51.9 95.9,52.1 96.3,52.3 96.6,52.4 96.9,52.5 97.2,52.6 97.5,52.7 97.8,52.7 98.1,52.8 98.5,52.8 98.8,52.9 99.1,52.9 99.4,52.9 99.7,53.0 100,53.0 100.4,53.0 100.7,53.0 101,53.0 101.3,53.0 101.6,53.1 101.9,53.1 102.2,53.1 102.6,53.1 102.9,53.1 103.2,53.1 103.5,53.1 103.8,53.1 104.1,53.1 104.4,53.1 104.8,53.1 105.1,53.1 105.4,53.1 105.7,53.1 106,53.1 106.3,53.1 106.6,53.1 107,53.1 107.3,53.1 107.6,53.1 107.9,53.1 108.2,53.1 108.5,53.1 108.8,53.1 109.2,53.1 109.5,53.1 109.8,53.1 110.1,53.1 110.4,53.1 110.7,53.1 111,53.1 111.4,53.1 111.7,53.1 112,53.1 112.3,53.1 112.6,53.1 112.9,53.1 113.2,53.1 113.6,53.1 113.9,53.1 114.2,53.1 114.5,53.1 114.8,53.1 115.1,53.1 115.5,53.1 115.8,53.1 116.1,53.1 116.4,53.1 116.7,53.1 117,53.1 117.3,53.1 117.7,53.1 118,53.1 118.3,53.1 118.6,53.1 118.9,53.1 119.2,53.1 119.5,53.1 119.9,53.1 120.2,53.1 120.5,53.1 120.8,53.1 121.1,53.1 121.4,53.1 121.7,53.1 122.1,53.1 122.4,53.1 122.7,53.1 123,53.1 123.3,53.1 123.6,53.1 123.9,53.1 124.3,53.1 124.6,53.1 124.9,53.1 125.2,53.1 125.5,53.1 125.8,53.1 126.1,53.1 126.5,53.1 126.8,53.1 127.1,53.1 127.4,53.1 127.7,53.1 128,53.1 128.4,53.1 128.7,53.1 129,53.1 129.3,53.1 129.6,53.1 129.9,53.1 130.2,53.1 130.6,53.1 130.9,53.1 131.2,53.1 131.5,53.1 131.8,53.1 132.1,53.1 132.4,53.1 132.8,53.1 133.1,53.1 133.4,53.1 133.7,53.1 134,53.1 134.3,53.1 134.6,53.1 135,53.1 135.3,53.1 135.6,53.1 135.9,53.1 136.2,53.1 136.5,53.1 136.8,53.1 137.2,53.1 137.5,53.1 137.8,53.1 138.1,53.1 138.4,53.1 138.7,53.1 139,53.1 139.4,53.1 139.7,53.1 140,53.1 140.3,53.1 140.6,41.2 140.9,40.4 141.2,39.8 141.6,39.5 141.9,39.3 142.2,39.2 142.5,39.1 142.8,39.1 143.1,39.0 143.5,39.0 143.8,39.0 144.1,39.0 144.4,39.0 144.7,38.9 145,38.9 145.3,38.9 145.7,38.9 146,38.9 146.3,38.9 146.6,38.9 146.9,38.9 147.2,38.9 147.5,38.9 147.9,38.8 148.2,38.8 148.5,38.8 148.8,38.8 149.1,38.8 149.4,38.8 149.7,38.8 150.1,38.8 150.4,38.8 150.7,38.8 151,38.8 151.3,38.7 151.6,38.7 151.9,38.7 152.3,38.7 152.6,38.7 152.9,38.7 153.2,38.7 153.5,38.7 153.8,38.7 154.1,38.7 154.5,38.7 154.8,38.7 155.1,38.7 155.4,38.7 155.7,38.6 156,38.6 156.4,38.6 156.7,38.6 157,38.6 157.3,38.6 157.6,38.6 157.9,38.6 158.2,38.6 158.6,38.6 158.9,38.6 159.2,38.6 159.5,38.6 159.8,38.6 160.1,38.6 160.4,38.6 160.8,38.5 161.1,38.5 161.4,38.5 161.7,38.5 162,38.5 162.3,38.5 162.6,38.5 163,38.5 163.3,38.5 163.6,38.5 163.9,38.5 164.2,38.5 164.5,38.5 164.8,38.5 165.2,38.5 165.5,38.5 165.8,38.5 166.1,38.5 166.4,38.5 166.7,38.5 167,38.4 167.4,38.4 167.7,38.4 168,38.4 168.3,38.4 168.6,38.4 168.9,38.4 169.2,38.4 169.6,38.4 169.9,38.4 170.2,38.4 170.5,38.4 170.8,38.4 171.1,38.4 171.5,38.4 171.8,38.4 172.1,38.4 172.4,38.4 172.7,38.4 173,38.4 173.3,38.4 173.7,38.4 174,38.4 174.3,38.4 174.6,38.4 174.9,38.4 175.2,38.4 175.5,38.3 175.9,38.3 176.2,38.3 176.5,38.3 176.8,38.3 177.1,38.3 177.4,38.3 177.7,38.3 178.1,38.3 178.4,38.3 178.7,38.3 179,38.3 179.3,38.3 179.6,38.3 179.9,38.3 180.3,38.3 180.6,38.3 180.9,38.3 181.2,38.3 181.5,38.3 181.8,38.3 182.1,38.3 182.5,38.3 182.8,38.3 183.1,38.3 183.4,38.3 183.7,38.3 184,38.3 184.3,38.3 184.7,38.3 185,38.3 185.3,38.3 185.6,38.3 185.9,38.3 186.2,38.3 186.6,38.3 186.9,38.3 187.2,38.3 187.5,38.3 187.8,38.3 188.1,38.2 188.4,38.2 188.8,38.2 189.1,38.2 189.4,38.2 189.7,38.2 190,38.2 190.3,38.2 190.6,38.2 191,38.2 191.3,38.2 191.6,38.2 191.9,38.2 192.2,38.2 192.5,38.2 192.8,38.2 193.2,38.2 193.5,38.2 193.8,38.2 194.1,38.2 194.4,38.2 194.7,38.2 195,38.2 195.4,38.2 195.7,38.2 196,38.2 196.3,38.2 196.6,38.2 196.9,38.2 197.2,38.2 197.6,38.2 197.9,38.2 198.2,38.2 198.5,38.2 198.8,38.2 199.1,38.2 199.5,38.2 199.8,38.2 200.1,38.2 200.4,38.2 200.7,38.2 201,38.2 201.3,38.2 201.7,38.2 202,38.2 202.3,38.2 202.6,38.2 202.9,38.2 203.2,38.2 203.5,38.2" fill="none" stroke="#e2a526" stroke-width="0.9" stroke-linejoin="round" />
<polyline points="45.8,37.7 46.2,37.7 46.5,37.7 46.8,37.7 47.1,37.7 47.4,37.7 47.7,37.7 48,37.7 48.4,37.7 48.7,37.7 49,37.7 49.3,37.7 49.6,37.7 49.9,37.7 50.2,37.7 50.6,37.7 50.9,37.7 51.2,37.7 51.5,37.7 51.8,37.7 52.1,37.7 52.4,37.7 52.8,37.7 53.1,37.7 53.4,37.7 53.7,37.7 54,37.7 54.3,37.7 54.6,37.7 55,37.7 55.3,37.7 55.6,37.7 55.9,37.7 56.2,37.7 56.5,37.7 56.9,37.7 57.2,37.7 57.5,37.7 57.8,37.7 58.1,37.7 58.4,37.7 58.7,37.7 59.1,37.7 59.4,37.7 59.7,37.7 60,37.7 60.3,37.7 60.6,37.7 60.9,37.7 61.3,37.7 61.6,24.2 61.9,23.4 62.2,23.0 62.5,22.8 62.8,22.8 63.1,22.7 63.5,22.7 63.8,22.7 64.1,22.7 64.4,22.7 64.7,22.7 65,22.7 65.3,22.7 65.7,22.7 66,22.7 66.3,22.7 66.6,22.7 66.9,22.7 67.2,22.7 67.5,22.7 67.9,22.7 68.2,22.7 68.5,22.7 68.8,22.7 69.1,22.7 69.4,22.7 69.7,22.7 70.1,22.7 70.4,22.7 70.7,22.7 71,22.7 71.3,22.7 71.6,22.7 72,22.7 72.3,22.7 72.6,22.7 72.9,22.7 73.2,22.7 73.5,22.7 73.8,22.7 74.2,22.7 74.5,22.7 74.8,22.7 75.1,22.7 75.4,22.7 75.7,22.7 76,22.7 76.4,22.7 76.7,22.7 77,22.7 77.3,22.7 77.6,22.7 77.9,22.7 78.2,22.7 78.6,22.7 78.9,22.7 79.2,22.7 79.5,22.7 79.8,22.7 80.1,22.7 80.4,22.7 80.8,22.7 81.1,22.7 81.4,22.7 81.7,22.7 82,22.7 82.3,22.7 82.6,22.7 83,22.7 83.3,22.7 83.6,22.7 83.9,22.7 84.2,22.7 84.5,22.7 84.9,22.7 85.2,22.7 85.5,22.7 85.8,22.7 86.1,22.7 86.4,22.7 86.7,22.7 87.1,22.7 87.4,22.7 87.7,22.7 88,22.7 88.3,22.7 88.6,22.7 88.9,22.7 89.3,22.7 89.6,22.7 89.9,22.7 90.2,22.7 90.5,22.7 90.8,22.7 91.1,22.7 91.5,22.7 91.8,22.7 92.1,22.7 92.4,22.7 92.7,22.7 93,49.0 93.3,49.5 93.7,50.0 94,50.4 94.3,50.8 94.6,51.1 94.9,51.3 95.2,51.5 95.5,51.7 95.9,51.9 96.2,52.0 96.5,52.1 96.8,52.2 97.1,52.3 97.4,52.3 97.7,52.4 98.1,52.4 98.4,52.5 98.7,52.5 99,52.5 99.3,52.6 99.6,52.6 100,52.6 100.3,52.6 100.6,52.6 100.9,52.6 101.2,52.7 101.5,52.7 101.8,52.7 102.2,52.7 102.5,52.7 102.8,52.7 103.1,52.7 103.4,52.7 103.7,52.7 104,52.7 104.4,52.7 104.7,52.7 105,52.7 105.3,52.7 105.6,52.7 105.9,52.7 106.2,52.7 106.6,52.7 106.9,52.7 107.2,52.7 107.5,52.7 107.8,52.7 108.1,52.7 108.4,52.7 108.8,52.7 109.1,52.7 109.4,52.7 109.7,52.7 110,52.7 110.3,52.7 110.6,52.7 111,52.7 111.3,52.7 111.6,52.7 111.9,52.7 112.2,52.7 112.5,52.7 112.8,52.7 113.2,52.7 113.5,52.7 113.8,52.7 114.1,52.7 114.4,52.7 114.7,52.7 115.1,52.7 115.4,52.7 115.7,52.7 116,52.7 116.3,52.7 116.6,52.7 116.9,52.7 117.3,52.7 117.6,52.7 117.9,52.7 118.2,52.7 118.5,52.7 118.8,52.7 119.1,52.7 119.5,52.7 119.8,52.7 120.1,52.7 120.4,52.7 120.7,52.7 121,52.7 121.3,52.7 121.7,52.7 122,52.7 122.3,52.7 122.6,52.7 122.9,52.7 123.2,52.7 123.5,52.7 123.9,52.7 124.2,52.7 124.5,52.7 124.8,52.7 125.1,52.7 125.4,52.7 125.7,52.7 126.1,52.7 126.4,52.7 126.7,52.7 127,52.7 127.3,52.7 127.6,52.7 128,52.7 128.3,52.7 128.6,52.7 128.9,52.7 129.2,52.7 129.5,52.7 129.8,52.7 130.2,52.7 130.5,52.7 130.8,52.7 131.1,52.7 131.4,52.7 131.7,52.7 132,52.7 132.4,52.7 132.7,52.7 133,52.7 133.3,52.7 133.6,52.7 133.9,52.7 134.2,52.7 134.6,52.7 134.9,52.7 135.2,52.7 135.5,52.7 135.8,52.7 136.1,52.7 136.4,52.7 136.8,52.7 137.1,52.7 137.4,52.7 137.7,52.7 138,52.7 138.3,52.7 138.6,52.7 139,52.7 139.3,52.7 139.6,52.7 139.9,52.7 140.2,52.7 140.5,52.7 140.8,52.7 141.2,52.7 141.5,52.7 141.8,52.7 142.1,52.7 142.4,52.7 142.7,52.7 143.1,52.7 143.4,52.7 143.7,52.7 144,52.7 144.3,52.7 144.6,52.7 144.9,52.7 145.3,52.7 145.6,52.7 145.9,52.7 146.2,52.7 146.5,52.7 146.8,52.7 147.1,52.7 147.5,52.7 147.8,52.7 148.1,52.7 148.4,52.7 148.7,52.7 149,52.7 149.3,52.7 149.7,52.7 150,52.7 150.3,52.7 150.6,52.7 150.9,52.7 151.2,52.7 151.5,52.7 151.9,52.7 152.2,52.7 152.5,52.7 152.8,52.7 153.1,52.7 153.4,52.7 153.7,52.7 154.1,52.7 154.4,52.7 154.7,52.7 155,52.7 155.3,52.7 155.6,52.7 156,40.8 156.3,40.0 156.6,39.4 156.9,39.1 157.2,38.9 157.5,38.8 157.8,38.7 158.2,38.7 158.5,38.6 158.8,38.6 159.1,38.6 159.4,38.6 159.7,38.6 160,38.5 160.4,38.5 160.7,38.5 161,38.5 161.3,38.5 161.6,38.5 161.9,38.5 162.2,38.5 162.6,38.5 162.9,38.5 163.2,38.4 163.5,38.4 163.8,38.4 164.1,38.4 164.4,38.4 164.8,38.4 165.1,38.4 165.4,38.4 165.7,38.4 166,38.4 166.3,38.4 166.6,38.3 167,38.3 167.3,38.3 167.6,38.3 167.9,38.3 168.2,38.3 168.5,38.3 168.8,38.3 169.2,38.3 169.5,38.3 169.8,38.3 170.1,38.3 170.4,38.3 170.7,38.3 171.1,38.2 171.4,38.2 171.7,38.2 172,38.2 172.3,38.2 172.6,38.2 172.9,38.2 173.3,38.2 173.6,38.2 173.9,38.2 174.2,38.2 174.5,38.2 174.8,38.2 175.1,38.2 175.5,38.2 175.8,38.2 176.1,38.1 176.4,38.1 176.7,38.1 177,38.1 177.3,38.1 177.7,38.1 178,38.1 178.3,38.1 178.6,38.1 178.9,38.1 179.2,38.1 179.5,38.1 179.9,38.1 180.2,38.1 180.5,38.1 180.8,38.1 181.1,38.1 181.4,38.1 181.7,38.1 182.1,38.1 182.4,38.0 182.7,38.0 183,38.0 183.3,38.0 183.6,38.0 183.9,38.0 184.3,38.0 184.6,38.0 184.9,38.0 185.2,38.0 185.5,38.0 185.8,38.0 186.2,38.0 186.5,38.0 186.8,38.0 187.1,38.0 187.4,38.0 187.7,38.0 188,38.0 188.4,38.0 188.7,38.0 189,38.0 189.3,38.0 189.6,38.0 189.9,38.0 190.2,38.0 190.6,38.0 190.9,37.9 191.2,37.9 191.5,37.9 191.8,37.9 192.1,37.9 192.4,37.9 192.8,37.9 193.1,37.9 193.4,37.9 193.7,37.9 194,37.9 194.3,37.9 194.6,37.9 195,37.9 195.3,37.9 195.6,37.9 195.9,37.9 196.2,37.9 196.5,37.9 196.8,37.9 197.2,37.9 197.5,37.9 197.8,37.9 198.1,37.9 198.4,37.9 198.7,37.9 199.1,37.9 199.4,37.9 199.7,37.9 200,37.9 200.3,37.9 200.6,37.9 200.9,37.9 201.3,37.9 201.6,37.9 201.9,37.9 202.2,37.9 202.5,37.9 202.8,37.9 203.1,37.9" fill="none" stroke="#8a4d45" stroke-width="1" stroke-linejoin="round" />
<polyline points="46.4,38.4 46.8,38.4 47.1,38.4 47.4,38.4 47.7,38.4 48,38.4 48.3,38.4 48.6,38.4 49,38.4 49.3,38.4 49.6,38.4 49.9,38.4 50.2,38.4 50.5,38.4 50.8,38.4 51.2,38.4 51.5,38.4 51.8,38.4 52.1,38.4 52.4,38.4 52.7,38.4 53,38.4 53.4,38.4 53.7,38.4 54,38.4 54.3,38.4 54.6,38.4 54.9,38.4 55.2,38.4 55.6,38.4 55.9,38.4 56.2,38.4 56.5,38.4 56.8,38.4 57.1,38.4 57.5,38.4 57.8,38.4 58.1,38.4 58.4,38.4 58.7,38.4 59,38.4 59.3,38.4 59.7,38.4 60,38.4 60.3,38.4 60.6,38.4 60.9,38.4 61.2,38.4 61.5,38.4 61.9,38.4 62.2,24.9 62.5,24.1 62.8,23.7 63.1,23.6 63.4,23.5 63.7,23.5 64.1,23.5 64.4,23.5 64.7,23.5 65,23.5 65.3,23.5 65.6,23.5 65.9,23.5 66.3,23.5 66.6,23.5 66.9,23.5 67.2,23.5 67.5,23.5 67.8,23.5 68.1,23.5 68.5,23.5 68.8,23.5 69.1,23.5 69.4,23.5 69.7,23.5 70,23.5 70.3,23.5 70.7,23.5 71,23.5 71.3,23.5 71.6,23.5 71.9,23.5 72.2,23.5 72.6,23.5 72.9,23.5 73.2,23.5 73.5,23.5 73.8,23.5 74.1,23.5 74.4,23.5 74.8,23.5 75.1,23.4 75.4,23.4 75.7,23.4 76,23.4 76.3,23.4 76.6,23.4 77,23.4 77.3,23.4 77.6,23.4 77.9,23.4 78.2,23.4 78.5,23.4 78.8,23.4 79.2,23.4 79.5,23.4 79.8,23.4 80.1,23.4 80.4,23.4 80.7,23.4 81,23.4 81.4,23.4 81.7,23.4 82,23.4 82.3,23.4 82.6,23.4 82.9,23.4 83.2,23.4 83.6,23.4 83.9,23.4 84.2,23.4 84.5,23.4 84.8,23.4 85.1,23.4 85.5,23.4 85.8,23.4 86.1,23.4 86.4,23.4 86.7,23.4 87,23.4 87.3,23.4 87.7,23.4 88,23.4 88.3,23.4 88.6,23.4 88.9,23.4 89.2,23.4 89.5,23.4 89.9,23.4 90.2,23.4 90.5,23.4 90.8,23.4 91.1,23.4 91.4,23.4 91.7,23.4 92.1,23.4 92.4,23.4 92.7,23.4 93,23.4 93.3,23.4 93.6,49.7 93.9,50.3 94.3,50.8 94.6,51.2 94.9,51.5 95.2,51.8 95.5,52.1 95.8,52.3 96.1,52.5 96.5,52.6 96.8,52.7 97.1,52.9 97.4,52.9 97.7,53.0 98,53.1 98.3,53.1 98.7,53.2 99,53.2 99.3,53.3 99.6,53.3 99.9,53.3 100.2,53.3 100.6,53.4 100.9,53.4 101.2,53.4 101.5,53.4 101.8,53.4 102.1,53.4 102.4,53.4 102.8,53.4 103.1,53.4 103.4,53.4 103.7,53.4 104,53.4 104.3,53.4 104.6,53.4 105,53.4 105.3,53.4 105.6,53.4 105.9,53.4 106.2,53.4 106.5,53.4 106.8,53.4 107.2,53.4 107.5,53.4 107.8,53.4 108.1,53.4 108.4,53.4 108.7,53.4 109,53.4 109.4,53.4 109.7,53.4 110,53.4 110.3,53.4 110.6,53.4 110.9,53.4 111.2,53.4 111.6,53.4 111.9,53.4 112.2,53.4 112.5,53.4 112.8,53.4 113.1,53.4 113.4,53.4 113.8,53.4 114.1,53.4 114.4,53.4 114.7,53.4 115,53.4 115.3,53.4 115.7,53.4 116,53.4 116.3,53.4 116.6,53.4 116.9,53.4 117.2,53.4 117.5,53.4 117.9,53.4 118.2,53.4 118.5,53.4 118.8,53.4 119.1,53.4 119.4,53.4 119.7,53.4 120.1,53.4 120.4,53.4 120.7,53.4 121,53.4 121.3,53.4 121.6,53.4 121.9,53.4 122.3,53.4 122.6,53.4 122.9,53.4 123.2,53.4 123.5,53.4 123.8,53.4 124.1,53.4 124.5,53.4 124.8,53.4 125.1,53.4 125.4,53.4 125.7,53.4 126,53.4 126.3,53.4 126.7,53.4 127,53.4 127.3,53.4 127.6,53.4 127.9,53.4 128.2,53.4 128.6,53.4 128.9,53.4 129.2,53.4 129.5,53.4 129.8,53.4 130.1,53.4 130.4,53.4 130.8,53.4 131.1,53.4 131.4,53.4 131.7,53.4 132,53.4 132.3,53.4 132.6,53.4 133,53.4 133.3,53.4 133.6,53.4 133.9,53.4 134.2,53.4 134.5,53.4 134.8,53.4 135.2,53.4 135.5,53.4 135.8,53.4 136.1,53.4 136.4,53.4 136.7,53.4 137,53.4 137.4,53.4 137.7,53.4 138,53.4 138.3,53.4 138.6,53.4 138.9,53.4 139.2,53.4 139.6,53.4 139.9,53.4 140.2,53.4 140.5,53.4 140.8,53.4 141.1,53.4 141.4,53.4 141.8,53.4 142.1,53.4 142.4,53.4 142.7,53.4 143,53.4 143.3,53.4 143.7,53.4 144,53.4 144.3,53.4 144.6,53.4 144.9,53.4 145.2,53.4 145.5,53.4 145.9,53.4 146.2,53.4 146.5,53.4 146.8,53.4 147.1,53.4 147.4,53.4 147.7,53.4 148.1,53.4 148.4,53.4 148.7,41.5 149,40.7 149.3,40.2 149.6,39.9 149.9,39.7 150.3,39.6 150.6,39.5 150.9,39.4 151.2,39.4 151.5,39.4 151.8,39.3 152.1,39.3 152.5,39.3 152.8,39.3 153.1,39.3 153.4,39.3 153.7,39.3 154,39.3 154.3,39.2 154.7,39.2 155,39.2 155.3,39.2 155.6,39.2 155.9,39.2 156.2,39.2 156.6,39.2 156.9,39.2 157.2,39.2 157.5,39.1 157.8,39.1 158.1,39.1 158.4,39.1 158.8,39.1 159.1,39.1 159.4,39.1 159.7,39.1 160,39.1 160.3,39.1 160.6,39.1 161,39.1 161.3,39.1 161.6,39.0 161.9,39.0 162.2,39.0 162.5,39.0 162.8,39.0 163.2,39.0 163.5,39.0 163.8,39.0 164.1,39.0 164.4,39.0 164.7,39.0 165,39.0 165.4,39.0 165.7,39.0 166,38.9 166.3,38.9 166.6,38.9 166.9,38.9 167.2,38.9 167.6,38.9 167.9,38.9 168.2,38.9 168.5,38.9 168.8,38.9 169.1,38.9 169.4,38.9 169.8,38.9 170.1,38.9 170.4,38.9 170.7,38.9 171,38.9 171.3,38.9 171.7,38.8 172,38.8 172.3,38.8 172.6,38.8 172.9,38.8 173.2,38.8 173.5,38.8 173.9,38.8 174.2,38.8 174.5,38.8 174.8,38.8 175.1,38.8 175.4,38.8 175.7,38.8 176.1,38.8 176.4,38.8 176.7,38.8 177,38.8 177.3,38.8 177.6,38.8 177.9,38.8 178.3,38.8 178.6,38.8 178.9,38.7 179.2,38.7 179.5,38.7 179.8,38.7 180.1,38.7 180.5,38.7 180.8,38.7 181.1,38.7 181.4,38.7 181.7,38.7 182,38.7 182.3,38.7 182.7,38.7 183,38.7 183.3,38.7 183.6,38.7 183.9,38.7 184.2,38.7 184.5,38.7 184.9,38.7 185.2,38.7 185.5,38.7 185.8,38.7 186.1,38.7 186.4,38.7 186.8,38.7 187.1,38.7 187.4,38.7 187.7,38.7 188,38.7 188.3,38.7 188.6,38.7 189,38.6 189.3,38.6 189.6,38.6 189.9,38.6 190.2,38.6 190.5,38.6 190.8,38.6 191.2,38.6 191.5,38.6 191.8,38.6 192.1,38.6 192.4,38.6 192.7,38.6 193,38.6 193.4,38.6 193.7,38.6 194,38.6 194.3,38.6 194.6,38.6 194.9,38.6 195.2,38.6 195.6,38.6 195.9,38.6 196.2,38.6 196.5,38.6 196.8,38.6 197.1,38.6 197.4,38.6 197.8,38.6 198.1,38.6 198.4,38.6 198.7,38.6 199,38.6 199.3,38.6 199.7,38.6 200,38.6 200.3,38.6 200.6,38.6 200.9,38.6 201.2,38.6 201.5,38.6 201.9,38.6 202.2,38.6 202.5,38.6 202.8,38.6 203.1,38.6 203.4,38.6 203.7,38.6" fill="none" stroke="#1cc8d4" stroke-width="1" stroke-linejoin="round" />
<polyline points="118.3,38.9 118.6,38.8 118.9,38.7 119.2,38.7 119.5,38.6 119.9,38.6 120.2,38.6 120.5,38.6 120.8,38.6 121.1,38.5 121.4,38.5 121.7,38.5 122.1,38.5 122.4,38.5 122.7,38.5 123,38.5 123.3,38.5 123.6,38.5 123.9,38.5 124.3,38.4 124.6,38.4 124.9,38.4 125.2,38.4 125.5,38.4 125.8,38.4 126.1,38.4 126.5,38.4 126.8,38.4 127.1,38.4 127.4,38.4 127.7,38.3 128,38.3 128.4,38.3 128.7,38.3 129,38.3 129.3,38.3 129.6,38.3 129.9,38.3 130.2,38.3 130.6,38.3 130.9,38.3 131.2,38.3 131.5,38.3 131.8,38.3 132.1,38.2 132.4,38.2 132.8,38.2 133.1,38.2 133.4,38.2 133.7,38.2 134,38.2 134.3,38.2 134.6,38.2 135,38.2 135.3,38.2 135.6,38.2 135.9,38.2 136.2,38.2 136.5,38.2 136.8,38.2 137.2,38.1 137.5,38.1 137.8,38.1 138.1,38.1 138.4,38.1 138.7,38.1 139,38.1 139.4,38.1 139.7,38.1 140,38.1 140.3,38.1 140.6,38.1 140.9,38.1 141.2,38.1 141.6,38.1 141.9,38.1 142.2,38.1 142.5,38.1 142.8,38.1 143.1,38.1 143.5,38.0 143.8,38.0 144.1,38.0 144.4,38.0 144.7,38.0 145,38.0 145.3,38.0 145.7,38.0 146,38.0 146.3,38.0 146.6,38.0 146.9,38.0 147.2,38.0 147.5,38.0 147.9,38.0 148.2,38.0 148.5,38.0 148.8,38.0 149.1,38.0 149.4,38.0 149.7,38.0 150.1,38.0 150.4,38.0 150.7,38.0 151,38.0 151.3,38.0 151.6,38.0 151.9,37.9 152.3,37.9 152.6,37.9 152.9,37.9 153.2,37.9 153.5,37.9 153.8,37.9 154.1,37.9 154.5,37.9 154.8,37.9 155.1,37.9 155.4,37.9 155.7,37.9 156,37.9 156.4,37.9 156.7,37.9 157,37.9 157.3,37.9 157.6,37.9 157.9,37.9 158.2,37.9 158.6,37.9 158.9,37.9 159.2,37.9 159.5,37.9 159.8,37.9 160.1,37.9 160.4,37.9 160.8,37.9 161.1,37.9 161.4,37.9 161.7,37.9 162,37.9 162.3,37.9 162.6,37.9 163,37.9 163.3,37.9 163.6,37.9 163.9,37.9 164.2,37.9 164.5,37.8 164.8,37.8 165.2,37.8 165.5,37.8 165.8,37.8 166.1,37.8 166.4,37.8 166.7,37.8 167,37.8 167.4,37.8 167.7,37.8 168,37.8 168.3,37.8 168.6,37.8 168.9,37.8 169.2,37.8 169.6,37.8 169.9,37.8 170.2,37.8 170.5,37.8 170.8,37.8 171.1,37.8 171.5,37.8 171.8,37.8 172.1,37.8 172.4,37.8 172.7,37.8 173,37.8 173.3,37.8 173.7,37.8 174,37.8 174.3,37.8 174.6,37.8 174.9,37.8 175.2,37.8 175.5,37.8 175.9,37.8 176.2,37.8 176.5,37.8 176.8,37.8 177.1,37.8 177.4,37.8 177.7,37.8 178.1,37.8 178.4,37.8 178.7,37.8 179,37.8 179.3,37.8 179.6,37.8 179.9,37.8 180.3,37.8 180.6,37.8 180.9,37.8 181.2,37.8 181.5,37.8 181.8,37.8 182.1,37.8 182.5,37.8 182.8,37.8 183.1,37.8 183.4,37.8 183.7,37.8 184,37.8 184.3,37.8 184.7,37.8 185,37.8 185.3,37.8 185.6,37.8 185.9,37.8 186.2,37.8 186.6,37.8 186.9,37.8 187.2,37.8 187.5,37.8 187.8,37.8 188.1,37.8 188.4,37.8 188.8,37.8 189.1,37.8 189.4,37.8 189.7,37.8 190,37.8 190.3,37.8 190.6,37.8 191,37.8 191.3,37.8 191.6,37.8 191.9,37.8 192.2,37.7 192.5,37.7 192.8,37.7 193.2,37.7 193.5,37.7 193.8,37.7 194.1,37.7 194.4,37.7 194.7,37.7 195,37.7 195.4,37.7 195.7,37.7 196,37.7 196.3,37.7 196.6,37.7 196.9,37.7 197.2,37.7 197.6,37.7 197.9,37.7 198.2,37.7 198.5,37.7 198.8,37.7 199.1,37.7 199.5,37.7 199.8,37.7 200.1,37.7 200.4,37.7 200.7,37.7 201,37.7 201.3,37.7 201.7,37.7 202,37.7 202.3,37.7 202.6,37.7 202.9,37.7 203.2,37.7 203.5,37.7" fill="none" stroke="#3f86ee" stroke-width="0.5" stroke-linejoin="round" />
<polyline points="102.6,38.6 102.9,38.5 103.2,38.4 103.5,38.3 103.8,38.3 104.1,38.3 104.4,38.2 104.8,38.2 105.1,38.2 105.4,38.2 105.7,38.2 106,38.2 106.3,38.2 106.6,38.2 107,38.1 107.3,38.1 107.6,38.1 107.9,38.1 108.2,38.1 108.5,38.1 108.8,38.1 109.2,38.1 109.5,38.1 109.8,38.1 110.1,38.0 110.4,38.0 110.7,38.0 111,38.0 111.4,38.0 111.7,38.0 112,38.0 112.3,38.0 112.6,38.0 112.9,38.0 113.2,38.0 113.6,38.0 113.9,38.0 114.2,37.9 114.5,37.9 114.8,37.9 115.1,37.9 115.5,37.9 115.8,37.9 116.1,37.9 116.4,37.9 116.7,37.9 117,37.9 117.3,37.9 117.7,37.9 118,37.9 118.3,37.9 118.6,37.8 118.9,37.8 119.2,37.8 119.5,37.8 119.9,37.8 120.2,37.8 120.5,37.8 120.8,37.8 121.1,37.8 121.4,37.8 121.7,37.8 122.1,37.8 122.4,37.8 122.7,37.8 123,37.8 123.3,37.8 123.6,37.8 123.9,37.8 124.3,37.7 124.6,37.7 124.9,37.7 125.2,37.7 125.5,37.7 125.8,37.7 126.1,37.7 126.5,37.7 126.8,37.7 127.1,37.7 127.4,37.7 127.7,37.7 128,37.7 128.4,37.7 128.7,37.7 129,37.7 129.3,37.7 129.6,37.7 129.9,37.7 130.2,37.7 130.6,37.7 130.9,37.7 131.2,37.7 131.5,37.6 131.8,37.6 132.1,37.6 132.4,37.6 132.8,37.6 133.1,37.6 133.4,37.6 133.7,37.6 134,37.6 134.3,37.6 134.6,37.6 135,37.6 135.3,37.6 135.6,37.6 135.9,37.6 136.2,37.6 136.5,37.6 136.8,37.6 137.2,37.6 137.5,37.6 137.8,37.6 138.1,37.6 138.4,37.6 138.7,37.6 139,37.6 139.4,37.6 139.7,37.6 140,37.6 140.3,37.6 140.6,37.6 140.9,37.6 141.2,37.6 141.6,37.5 141.9,37.5 142.2,37.5 142.5,37.5 142.8,37.5 143.1,37.5 143.5,37.5 143.8,37.5 144.1,37.5 144.4,37.5 144.7,37.5 145,37.5 145.3,37.5 145.7,37.5 146,37.5 146.3,37.5 146.6,37.5 146.9,37.5 147.2,37.5 147.5,37.5 147.9,37.5 148.2,37.5 148.5,37.5 148.8,37.5 149.1,37.5 149.4,37.5 149.7,37.5 150.1,37.5 150.4,37.5 150.7,37.5 151,37.5 151.3,37.5 151.6,37.5 151.9,37.5 152.3,37.5 152.6,37.5 152.9,37.5 153.2,37.5 153.5,37.5 153.8,37.5 154.1,37.5 154.5,37.5 154.8,37.5 155.1,37.5 155.4,37.5 155.7,37.5 156,37.5 156.4,37.5 156.7,37.5 157,37.5 157.3,37.5 157.6,37.5 157.9,37.5 158.2,37.5 158.6,37.5 158.9,37.5 159.2,37.4 159.5,37.4 159.8,37.4 160.1,37.4 160.4,37.4 160.8,37.4 161.1,37.4 161.4,37.4 161.7,37.4 162,37.4 162.3,37.4 162.6,37.4 163,37.4 163.3,37.4 163.6,37.4 163.9,37.4 164.2,37.4 164.5,37.4 164.8,37.4 165.2,37.4 165.5,37.4 165.8,37.4 166.1,37.4 166.4,37.4 166.7,37.4 167,37.4 167.4,37.4 167.7,37.4 168,37.4 168.3,37.4 168.6,37.4 168.9,37.4 169.2,37.4 169.6,37.4 169.9,37.4 170.2,37.4 170.5,37.4 170.8,37.4 171.1,37.4 171.5,37.4 171.8,37.4 172.1,37.4 172.4,37.4 172.7,37.4 173,37.4 173.3,37.4 173.7,37.4 174,37.4 174.3,37.4 174.6,37.4 174.9,37.4 175.2,37.4 175.5,37.4 175.9,37.4 176.2,37.4 176.5,37.4 176.8,37.4 177.1,37.4 177.4,37.4 177.7,37.4 178.1,37.4 178.4,37.4 178.7,37.4 179,37.4 179.3,37.4 179.6,37.4 179.9,37.4 180.3,37.4 180.6,37.4 180.9,37.4 181.2,37.4 181.5,37.4 181.8,37.4 182.1,37.4 182.5,37.4 182.8,37.4 183.1,37.4 183.4,37.4 183.7,37.4 184,37.4 184.3,37.4 184.7,37.4 185,37.4 185.3,37.4 185.6,37.4 185.9,37.4 186.2,37.4 186.6,37.4 186.9,37.4 187.2,37.4 187.5,37.4 187.8,37.4 188.1,37.4 188.4,37.4 188.8,37.4 189.1,37.4 189.4,37.4 189.7,37.4 190,37.4 190.3,37.4 190.6,37.4 191,37.4 191.3,37.4 191.6,37.4 191.9,37.4 192.2,37.4 192.5,37.4 192.8,37.4 193.2,37.4 193.5,37.4 193.8,37.4 194.1,37.4 194.4,37.4 194.7,37.4 195,37.4 195.4,37.4 195.7,37.4 196,37.4 196.3,37.4 196.6,37.4 196.9,37.4 197.2,37.4 197.6,37.4 197.9,37.4 198.2,37.4 198.5,37.4 198.8,37.4 199.1,37.4 199.5,37.4 199.8,37.4 200.1,37.4 200.4,37.4 200.7,37.4 201,37.4 201.3,37.4 201.7,37.4 202,37.4 202.3,37.4 202.6,37.4 202.9,37.4 203.2,37.4 203.5,37.4" fill="none" stroke="#444444" stroke-width="0.5" stroke-linejoin="round" />
</g>
<g clip-path="url(#ca2)">
<polyline points="45.9,105.3 46.3,104.5 46.6,104.7 46.9,104.8 47.2,104.4 47.5,104.7 47.8,104.7 48.1,104.1 48.5,105.1 48.8,104.9 49.1,104.5 49.4,104.6 49.7,104.9 50,104.6 50.3,104.6 50.7,104.2 51,104.9 51.3,104.7 51.6,104.8 51.9,104.2 52.2,105.3 52.5,104.8 52.9,104.6 53.2,105.4 53.5,104.7 53.8,104.2 54.1,104.6 54.4,103.9 54.7,105.1 55.1,104.6 55.4,104.4 55.7,105.1 56,104.1 56.3,104.9 56.6,104.0 57,104.5 57.3,104.3 57.6,105.2 57.9,105.3 58.2,104.6 58.5,105.0 58.8,104.6 59.2,104.9 59.5,104.4 59.8,104.1 60.1,104.1 60.4,104.8 60.7,105.5 61,104.8 61.4,104.5 61.7,104.7 61.7,85.7 62,88.8 62.3,91.3 62.6,93.0 62.9,94.0 63.2,94.7 63.6,94.9 63.9,95.9 64.2,95.9 64.5,96.5 64.8,96.1 65.1,95.7 65.4,96.4 65.8,97.0 66.1,96.3 66.4,96.2 66.7,96.1 67,96.2 67.3,96.5 67.6,96.2 68,97.1 68.3,96.5 68.6,96.6 68.9,97.1 69.2,97.2 69.5,96.6 69.8,96.8 70.2,96.9 70.5,96.6 70.8,96.1 71.1,96.9 71.4,97.0 71.7,96.9 72.1,96.4 72.4,96.7 72.7,96.5 73,96.6 73.3,97.2 73.6,97.3 73.9,97.0 74.3,97.0 74.6,97.0 74.9,96.8 75.2,96.8 75.5,96.5 75.8,96.8 76.1,97.6 76.5,97.1 76.8,96.7 77.1,96.6 77.4,96.5 77.7,96.9 78,97.0 78.3,96.3 78.7,97.0 79,96.6 79.3,97.3 79.6,96.9 79.9,97.4 80.2,96.7 80.5,96.7 80.9,97.0 81.2,97.2 81.5,97.1 81.8,96.4 82.1,96.9 82.4,96.9 82.7,96.7 83.1,96.6 83.4,97.5 83.7,96.7 84,96.6 84.3,97.1 84.6,96.9 85,96.9 85.3,97.2 85.6,97.1 85.9,97.0 86.2,97.2 86.5,97.0 86.8,96.7 87.2,96.8 87.5,96.7 87.8,97.0 88.1,96.5 88.4,96.3 88.7,96.9 89,96.4 89.4,96.2 89.7,97.0 90,96.7 90.3,97.1 90.6,96.7 90.9,96.5 91.2,96.5 91.6,96.7 91.9,96.8 92.2,96.6 92.5,96.8 92.8,96.4 93.1,96.9 93.1,149.7 93.1,150.6 93.4,144.1 93.8,139.7 94.1,135.8 94.4,132.4 94.7,129.6 95,125.9 95.3,124.6 95.6,122.9 96,121.3 96.3,119.3 96.6,118.6 96.9,118.2 97.2,116.3 97.5,116.3 97.8,115.9 98.2,114.8 98.5,114.9 98.8,113.9 99.1,113.7 99.4,113.5 99.7,113.6 100.1,113.4 100.4,113.6 100.7,112.8 101,113.0 101,91.7 101.3,97.1 101.6,100.0 101.9,101.2 102.3,103.0 102.6,103.4 102.9,104.1 103.2,104.3 103.5,104.8 103.8,104.6 104.1,103.9 104.5,104.1 104.8,104.9 105.1,104.6 105.4,105.1 105.7,104.8 106,104.4 106.3,105.1 106.7,104.4 107,104.0 107.3,105.4 107.6,104.0 107.9,104.9 108.2,105.0 108.5,104.8 108.9,104.1 109.2,105.1 109.5,104.2 109.8,104.2 110.1,104.6 110.4,105.0 110.7,104.8 111.1,105.0 111.4,104.5 111.7,104.6 112,104.3 112.3,104.6 112.6,104.9 112.9,104.6 113.3,104.9 113.6,104.5 113.9,104.5 114.2,104.7 114.5,104.6 114.8,104.9 115.2,104.8 115.5,105.3 115.8,104.6 116.1,104.6 116.4,104.3 116.7,104.7 117,104.9 117.4,104.4 117.7,104.7 118,105.0 118.3,104.7 118.6,104.5 118.9,105.0 119.2,104.7 119.6,104.8 119.9,105.1 120.2,105.1 120.5,104.6 120.8,104.5 121.1,104.8 121.4,104.7 121.8,104.0 122.1,105.1 122.4,104.7 122.7,105.0 123,104.3 123.3,105.2 123.6,104.5 124,104.7 124.3,104.2 124.6,104.6 124.9,104.6 125.2,104.6 125.5,104.9 125.8,104.7 126.2,105.0 126.5,104.5 126.8,104.4 127.1,104.7 127.4,104.9 127.7,105.1 128.1,105.0 128.4,104.1 128.7,104.8 129,105.2 129.3,104.7 129.6,104.5 129.9,104.8 130.3,104.5 130.6,104.9 130.9,104.7 131.2,105.2 131.5,104.9 131.8,104.4 132.1,104.9 132.5,105.0 132.8,104.5 133.1,104.6 133.4,103.9 133.7,105.0 134,104.5 134.3,104.0 134.7,104.1 135,104.6 135.3,105.0 135.6,104.7 135.9,104.9 136.2,104.3 136.5,104.2 136.9,105.0 137.2,104.9 137.5,104.7 137.8,105.1 138.1,104.4 138.4,104.6 138.7,105.1 139.1,105.3 139.4,104.7 139.7,105.3 140,104.5 140.3,104.8 140.6,104.6 140.9,104.1 141.3,104.8 141.6,105.0 141.9,104.6 142.2,104.7 142.5,105.2 142.8,104.3 143.2,104.2 143.5,104.5 143.8,104.3 144.1,105.2 144.4,104.8 144.7,104.4 145,104.5 145.4,105.7 145.7,104.5 146,104.4 146.3,104.8 146.6,104.9 146.9,104.8 147.2,104.4 147.6,104.3 147.9,104.9 148.2,104.7 148.5,104.1 148.8,105.1 149.1,105.0 149.4,104.6 149.8,104.6 150.1,104.8 150.4,104.5 150.7,104.2 151,104.8 151.3,104.2 151.6,104.8 152,104.2 152.3,104.7 152.6,104.7 152.9,105.3 153.2,104.3 153.5,104.2 153.8,104.5 154.2,104.3 154.5,104.5 154.8,104.8 155.1,105.0 155.4,105.3 155.7,104.4 156.1,105.6 156.4,105.4 156.7,104.6 157,103.9 157.3,104.7 157.6,104.7 157.9,103.9 158.3,104.7 158.6,104.6 158.9,104.4 159.2,104.9 159.5,105.1 159.8,104.5 160.1,104.8 160.5,104.5 160.8,104.4 161.1,104.7 161.4,104.9 161.7,104.5 162,103.9 162.3,104.9 162.7,104.1 163,104.7 163.3,105.3 163.6,104.7 163.9,104.3 164.2,104.2 164.5,105.1 164.9,104.7 165.2,104.9 165.5,105.0 165.8,104.7 166.1,104.6 166.4,104.4 166.7,103.6 167.1,104.2 167.4,104.7 167.7,104.6 168,104.8 168.3,104.7 168.6,104.8 168.9,105.0 169.3,104.4 169.6,104.6 169.9,104.1 170.2,105.0 170.5,104.7 170.8,104.9 171.2,105.2 171.5,105.1 171.8,104.7 172.1,105.0 172.4,104.2 172.7,104.9 173,104.7 173.4,104.1 173.7,105.2 174,104.5 174.3,104.9 174.6,104.6 174.9,105.0 175.2,105.2 175.6,104.4 175.9,104.2 176.2,104.7 176.5,105.0 176.8,104.6 177.1,104.5 177.4,104.9 177.8,103.7 178.1,104.5 178.4,104.2 178.7,104.8 179,104.4 179.3,104.3 179.6,104.6 180,104.2 180.3,104.7 180.6,104.5 180.9,104.6 181.2,104.4 181.5,105.0 181.8,104.7 182.2,104.9 182.5,104.9 182.8,104.4 183.1,104.9 183.4,104.8 183.7,104.8 184,104.6 184.4,104.6 184.7,105.0 185,105.5 185.3,104.4 185.6,104.9 185.9,104.6 186.3,105.0 186.6,104.9 186.9,105.1 187.2,103.7 187.5,104.5 187.8,104.4 188.1,104.7 188.5,104.4 188.8,104.5 189.1,104.9 189.4,105.4 189.7,103.7 190,104.6 190.3,104.8 190.7,104.7 191,104.6 191.3,104.2 191.6,104.4 191.9,105.0 192.2,105.1 192.5,104.7 192.9,104.4 193.2,104.7 193.5,104.6 193.8,104.9 194.1,104.7 194.4,104.5 194.7,104.8 195.1,104.3 195.4,105.0 195.7,105.1 196,104.3 196.3,104.8 196.6,104.4 196.9,105.1 197.3,105.0 197.6,104.6 197.9,105.0 198.2,104.5 198.5,104.5 198.8,104.5 199.2,104.7 199.5,104.6 199.8,104.8 200.1,104.5 200.4,105.0 200.7,105.1 201,104.5 201.4,104.2 201.7,105.0 202,105.1 202.3,104.6 202.6,104.2 202.9,104.8 203.2,105.2" fill="none" stroke="#444444" stroke-width="0.9" stroke-linejoin="round" />
<polyline points="45.9,104.0 46.3,104.9 46.6,104.6 46.9,104.4 47.2,104.9 47.5,104.2 47.8,104.8 48.1,105.2 48.5,104.8 48.8,104.4 49.1,104.1 49.4,104.3 49.7,104.1 50,105.3 50.3,104.6 50.7,104.3 51,104.2 51.3,104.3 51.6,104.6 51.9,104.3 52.2,105.3 52.5,104.4 52.9,104.4 53.2,104.8 53.5,105.2 53.8,105.2 54.1,104.5 54.4,104.8 54.7,104.8 55.1,104.9 55.4,104.8 55.7,104.4 56,104.3 56.3,104.8 56.6,104.3 57,105.2 57.3,104.7 57.6,104.3 57.9,104.6 58.2,104.5 58.5,104.7 58.8,105.0 59.2,104.2 59.5,104.0 59.8,104.8 60.1,104.6 60.4,104.8 60.7,104.9 61,104.6 61.4,105.0 61.7,104.7 61.7,84.7 62,88.8 62.3,91.0 62.6,92.5 62.9,94.3 63.2,95.0 63.6,94.7 63.9,95.3 64.2,96.1 64.5,96.5 64.8,96.0 65.1,96.3 65.4,95.9 65.8,97.3 66.1,96.6 66.4,96.8 66.7,96.8 67,96.9 67.3,96.8 67.6,96.5 68,96.8 68.3,96.6 68.6,97.1 68.9,96.4 69.2,96.4 69.5,96.9 69.8,97.1 70.2,96.7 70.5,96.4 70.8,96.6 71.1,96.5 71.4,97.4 71.7,97.0 72.1,97.2 72.4,96.8 72.7,96.5 73,97.1 73.3,97.3 73.6,97.0 73.9,96.7 74.3,97.1 74.6,96.6 74.9,97.0 75.2,96.5 75.5,96.4 75.8,97.0 76.1,96.9 76.5,97.5 76.8,96.7 77.1,96.8 77.4,96.4 77.7,96.2 78,96.2 78.3,97.0 78.7,96.4 79,97.2 79.3,97.3 79.6,96.7 79.9,97.4 80.2,96.9 80.5,97.2 80.9,96.8 81.2,97.2 81.5,96.5 81.8,97.1 82.1,96.7 82.4,96.8 82.7,97.1 83.1,96.9 83.4,96.8 83.7,97.1 84,97.2 84.3,96.4 84.6,97.1 85,97.1 85.3,96.6 85.6,97.0 85.9,96.4 86.2,97.4 86.5,96.8 86.8,96.9 87.2,97.3 87.5,96.8 87.8,97.1 88.1,96.5 88.4,96.7 88.7,96.4 89,96.8 89.4,97.3 89.7,97.0 90,97.2 90.3,96.5 90.6,96.6 90.9,96.7 91.2,97.1 91.6,97.0 91.9,96.9 92.2,97.1 92.5,96.9 92.8,96.9 93.1,96.9 93.1,149.7 93.1,151.1 93.4,144.5 93.8,139.8 94.1,136.1 94.4,132.0 94.7,129.2 95,126.2 95.3,125.0 95.6,121.7 96,120.5 96.3,119.2 96.6,119.1 96.9,117.7 97.2,116.7 97.5,115.7 97.8,115.7 98.2,115.1 98.5,114.4 98.8,113.8 99.1,113.6 99.4,113.9 99.7,113.7 100.1,113.4 100.4,113.2 100.7,112.5 101,113.0 101.3,112.6 101.6,112.9 101.9,113.0 102.3,112.5 102.6,112.4 102.9,113.0 103.2,112.8 103.5,112.4 103.8,111.5 104.1,112.6 104.5,112.8 104.8,112.9 105.1,112.3 105.4,112.3 105.7,112.4 106,112.8 106.3,112.1 106.7,112.5 107,112.2 107.3,112.6 107.6,112.0 107.9,112.7 108.2,112.4 108.5,112.4 108.9,112.5 108.9,91.9 109.2,96.5 109.5,98.3 109.8,101.0 110.1,101.9 110.4,102.4 110.7,103.5 111.1,103.4 111.4,104.1 111.7,103.6 112,103.7 112.3,104.5 112.6,104.9 112.9,104.5 113.3,104.6 113.6,104.2 113.9,103.9 114.2,104.4 114.5,105.0 114.8,103.9 115.2,104.4 115.5,103.9 115.8,104.6 116.1,104.9 116.4,104.2 116.7,104.5 117,105.1 117.4,104.6 117.7,104.2 118,104.2 118.3,104.0 118.6,104.9 118.9,104.4 119.2,105.0 119.6,105.0 119.9,104.5 120.2,104.5 120.5,105.0 120.8,104.7 121.1,104.8 121.4,104.1 121.8,105.0 122.1,104.4 122.4,103.9 122.7,104.5 123,104.8 123.3,105.4 123.6,104.6 124,104.2 124.3,105.4 124.6,104.8 124.9,104.6 125.2,104.3 125.5,104.3 125.8,105.2 126.2,104.6 126.5,104.5 126.8,104.5 127.1,105.2 127.4,104.5 127.7,104.9 128.1,104.8 128.4,104.8 128.7,104.4 129,104.9 129.3,105.3 129.6,104.7 129.9,104.4 130.3,104.2 130.6,104.8 130.9,104.6 131.2,104.7 131.5,104.7 131.8,104.2 132.1,105.0 132.5,104.8 132.8,104.7 133.1,104.8 133.4,105.0 133.7,104.7 134,104.4 134.3,105.1 134.7,104.5 135,104.4 135.3,104.2 135.6,104.7 135.9,104.3 136.2,104.5 136.5,104.9 136.9,104.7 137.2,105.1 137.5,104.8 137.8,104.6 138.1,104.6 138.4,104.5 138.7,104.9 139.1,104.7 139.4,104.6 139.7,105.0 140,104.7 140.3,104.5 140.6,104.2 140.9,104.9 141.3,104.8 141.6,104.7 141.9,104.5 142.2,104.4 142.5,104.6 142.8,104.8 143.2,104.7 143.5,104.6 143.8,104.5 144.1,104.8 144.4,104.8 144.7,104.4 145,105.0 145.4,105.0 145.7,105.0 146,104.7 146.3,104.6 146.6,104.3 146.9,105.0 147.2,104.0 147.6,104.6 147.9,104.6 148.2,105.0 148.5,104.7 148.8,104.4 149.1,104.2 149.4,104.4 149.8,104.7 150.1,104.7 150.4,104.6 150.7,104.5 151,104.6 151.3,105.0 151.6,104.3 152,104.7 152.3,105.3 152.6,104.9 152.9,104.5 153.2,104.9 153.5,104.4 153.8,104.7 154.2,105.2 154.5,105.4 154.8,104.1 155.1,104.9 155.4,105.4 155.7,104.5 156.1,104.8 156.4,105.2 156.7,104.5 157,104.9 157.3,104.7 157.6,104.0 157.9,104.8 158.3,104.6 158.6,105.0 158.9,105.4 159.2,104.9 159.5,104.6 159.8,104.9 160.1,104.8 160.5,105.1 160.8,104.2 161.1,104.3 161.4,104.0 161.7,104.9 162,104.7 162.3,104.5 162.7,104.4 163,104.5 163.3,104.4 163.6,104.6 163.9,104.5 164.2,105.2 164.5,104.8 164.9,104.4 165.2,104.5 165.5,105.1 165.8,104.9 166.1,104.8 166.4,105.0 166.7,105.3 167.1,104.3 167.4,104.4 167.7,104.1 168,104.9 168.3,104.6 168.6,104.5 168.9,104.4 169.3,104.9 169.6,104.7 169.9,104.5 170.2,105.1 170.5,104.3 170.8,104.3 171.2,105.6 171.5,104.6 171.8,104.5 172.1,104.4 172.4,104.7 172.7,105.0 173,105.0 173.4,104.9 173.7,104.6 174,104.2 174.3,104.8 174.6,105.2 174.9,105.1 175.2,104.6 175.6,105.0 175.9,104.6 176.2,104.7 176.5,104.3 176.8,104.6 177.1,104.7 177.4,104.6 177.8,105.0 178.1,105.4 178.4,105.2 178.7,104.6 179,104.4 179.3,104.5 179.6,104.4 180,104.7 180.3,104.8 180.6,104.8 180.9,104.8 181.2,104.8 181.5,104.7 181.8,104.4 182.2,105.3 182.5,105.1 182.8,104.4 183.1,104.4 183.4,104.5 183.7,104.7 184,105.1 184.4,105.1 184.7,105.1 185,105.1 185.3,105.1 185.6,105.0 185.9,104.9 186.3,104.7 186.6,104.1 186.9,104.7 187.2,105.3 187.5,104.5 187.8,104.5 188.1,105.1 188.5,104.7 188.8,104.5 189.1,105.2 189.4,104.9 189.7,105.0 190,104.5 190.3,104.9 190.7,104.8 191,105.0 191.3,105.1 191.6,105.1 191.9,104.8 192.2,104.9 192.5,104.3 192.9,104.9 193.2,104.9 193.5,104.6 193.8,104.4 194.1,104.7 194.4,104.3 194.7,104.8 195.1,104.8 195.4,104.4 195.7,104.7 196,105.1 196.3,105.1 196.6,105.1 196.9,104.6 197.3,104.6 197.6,104.6 197.9,104.9 198.2,105.5 198.5,105.2 198.8,105.3 199.2,105.2 199.5,104.1 199.8,104.6 200.1,104.5 200.4,105.1 200.7,105.3 201,104.5 201.4,104.7 201.7,104.9 202,104.5 202.3,104.5 202.6,104.5 202.9,105.0 203.2,104.4" fill="none" stroke="#ff3b3b" stroke-width="0.9" stroke-linejoin="round" />
<polyline points="45.9,105.1 46.3,104.7 46.6,105.0 46.9,105.2 47.2,104.5 47.5,104.4 47.8,104.8 48.1,104.3 48.5,104.4 48.8,104.7 49.1,104.8 49.4,104.3 49.7,104.6 50,104.9 50.3,105.2 50.7,104.0 51,105.2 51.3,105.0 51.6,104.3 51.9,104.2 52.2,104.8 52.5,104.6 52.9,104.7 53.2,105.0 53.5,104.6 53.8,104.8 54.1,104.9 54.4,105.0 54.7,105.3 55.1,105.3 55.4,104.8 55.7,104.6 56,105.5 56.3,104.9 56.6,104.8 57,104.3 57.3,105.0 57.6,104.4 57.9,104.5 58.2,104.2 58.5,104.5 58.8,104.7 59.2,104.2 59.5,104.4 59.8,104.7 60.1,104.3 60.4,104.3 60.7,104.4 61,104.2 61.4,104.9 61.7,104.7 61.7,84.7 62,89.0 62.3,91.6 62.6,92.5 62.9,94.1 63.2,94.7 63.6,95.0 63.9,95.6 64.2,95.9 64.5,96.4 64.8,96.6 65.1,95.9 65.4,96.3 65.8,96.6 66.1,96.9 66.4,95.6 66.7,97.0 67,96.5 67.3,97.1 67.6,96.4 68,96.3 68.3,96.6 68.6,97.0 68.9,96.6 69.2,95.8 69.5,96.9 69.8,96.1 70.2,96.3 70.5,96.3 70.8,96.0 71.1,96.3 71.4,96.4 71.7,96.5 72.1,96.7 72.4,96.6 72.7,96.2 73,96.7 73.3,97.1 73.6,97.1 73.9,96.8 74.3,97.0 74.6,97.1 74.9,97.2 75.2,97.4 75.5,96.7 75.8,96.7 76.1,97.3 76.5,97.3 76.8,97.3 77.1,96.0 77.4,96.7 77.7,95.7 78,97.1 78.3,96.8 78.7,96.8 79,96.8 79.3,97.3 79.6,96.7 79.9,97.2 80.2,97.0 80.5,97.0 80.9,97.0 81.2,96.9 81.5,96.5 81.8,97.1 82.1,97.1 82.4,96.8 82.7,97.1 83.1,97.2 83.4,96.4 83.7,96.8 84,96.7 84.3,96.6 84.6,97.0 85,96.6 85.3,96.7 85.6,97.0 85.9,97.0 86.2,97.0 86.5,97.7 86.8,96.7 87.2,97.0 87.5,96.5 87.8,97.1 88.1,97.3 88.4,97.3 88.7,96.7 89,96.8 89.4,97.3 89.7,96.9 90,97.2 90.3,96.6 90.6,97.4 90.9,97.3 91.2,97.1 91.6,96.6 91.9,96.9 92.2,97.0 92.5,97.0 92.8,96.9 93.1,96.9 93.1,149.7 93.1,150.5 93.4,144.8 93.8,140.3 94.1,134.9 94.4,131.5 94.7,128.4 95,126.2 95.3,123.7 95.6,122.7 96,120.9 96.3,119.5 96.6,118.3 96.9,117.6 97.2,116.8 97.5,116.2 97.8,115.3 98.2,115.3 98.5,114.1 98.8,114.8 99.1,112.9 99.4,113.6 99.7,113.2 100.1,113.7 100.4,112.7 100.7,113.8 101,112.5 101.3,113.6 101.6,113.0 101.9,112.8 102.3,112.9 102.6,113.5 102.9,113.0 103.2,111.9 103.5,113.0 103.8,112.7 104.1,112.0 104.5,112.8 104.8,112.1 105.1,112.6 105.4,112.6 105.7,112.3 106,112.8 106.3,112.2 106.7,112.6 107,112.3 107.3,112.5 107.6,113.2 107.9,112.6 108.2,112.1 108.5,112.5 108.9,112.3 109.2,112.5 109.5,112.6 109.8,112.6 110.1,112.6 110.4,112.3 110.7,112.7 111.1,112.9 111.4,112.3 111.7,112.5 112,112.6 112.3,113.0 112.6,112.9 112.9,112.3 113.3,112.6 113.6,112.0 113.9,112.2 114.2,112.6 114.5,112.8 114.8,112.9 115.2,112.5 115.5,112.1 115.8,112.7 116.1,112.5 116.4,112.7 116.7,112.6 116.7,91.8 117,95.2 117.4,97.3 117.7,98.7 118,99.2 118.3,100.3 118.6,100.3 118.9,100.9 119.2,101.8 119.6,101.5 119.9,101.2 120.2,102.3 120.5,102.3 120.8,102.5 121.1,102.4 121.4,102.5 121.8,102.5 122.1,102.4 122.4,103.3 122.7,102.8 123,102.8 123.3,102.9 123.6,103.8 124,103.5 124.3,103.2 124.6,103.4 124.9,103.6 125.2,103.8 125.5,103.0 125.8,103.9 126.2,103.6 126.5,103.5 126.8,103.6 127.1,104.1 127.4,104.5 127.7,103.9 128.1,104.1 128.4,103.7 128.7,104.1 129,104.3 129.3,103.5 129.6,103.9 129.9,104.4 130.3,103.5 130.6,104.0 130.9,104.3 131.2,103.6 131.5,104.0 131.8,104.2 132.1,104.5 132.5,103.8 132.8,104.6 133.1,104.3 133.4,104.7 133.7,104.7 134,104.4 134.3,104.5 134.7,103.7 135,103.8 135.3,104.0 135.6,104.2 135.9,104.6 136.2,103.7 136.5,104.2 136.9,103.9 137.2,103.8 137.5,104.9 137.8,104.4 138.1,104.9 138.4,104.8 138.7,104.0 139.1,103.7 139.4,105.1 139.7,104.2 140,104.0 140.3,104.6 140.6,104.4 140.9,104.2 141.3,104.3 141.6,104.5 141.9,104.4 142.2,104.7 142.5,104.3 142.8,104.3 143.2,104.6 143.5,104.5 143.8,104.8 144.1,104.3 144.4,104.4 144.7,104.0 145,104.9 145.4,103.9 145.7,104.5 146,104.1 146.3,104.5 146.6,104.7 146.9,103.9 147.2,104.4 147.6,103.8 147.9,104.9 148.2,104.3 148.5,103.9 148.8,104.2 149.1,104.9 149.4,105.0 149.8,104.9 150.1,104.2 150.4,104.4 150.7,105.0 151,104.2 151.3,104.3 151.6,104.1 152,104.0 152.3,104.9 152.6,104.7 152.9,104.6 153.2,104.6 153.5,104.8 153.8,105.0 154.2,104.4 154.5,104.3 154.8,104.1 155.1,104.8 155.4,104.3 155.7,103.9 156.1,104.4 156.4,104.5 156.7,104.7 157,104.8 157.3,104.2 157.6,104.2 157.9,104.3 158.3,104.0 158.6,104.4 158.9,104.6 159.2,104.5 159.5,103.9 159.8,104.0 160.1,104.9 160.5,104.1 160.8,104.7 161.1,104.7 161.4,104.4 161.7,104.1 162,104.5 162.3,104.2 162.7,104.4 163,104.5 163.3,104.2 163.6,104.4 163.9,104.4 164.2,104.0 164.5,104.4 164.9,104.2 165.2,103.8 165.5,104.4 165.8,104.4 166.1,104.3 166.4,103.8 166.7,104.7 167.1,104.7 167.4,104.7 167.7,104.6 168,104.0 168.3,104.5 168.6,104.2 168.9,105.2 169.3,104.3 169.6,104.7 169.9,103.9 170.2,104.1 170.5,104.3 170.8,104.7 171.2,104.7 171.5,104.6 171.8,103.8 172.1,104.9 172.4,104.2 172.7,105.0 173,105.1 173.4,104.8 173.7,104.8 174,104.0 174.3,105.4 174.6,104.6 174.9,104.8 175.2,104.2 175.6,104.5 175.9,104.1 176.2,104.4 176.5,104.5 176.8,104.6 177.1,105.0 177.4,104.7 177.8,104.6 178.1,104.5 178.4,105.2 178.7,104.3 179,104.9 179.3,103.8 179.6,104.2 180,104.6 180.3,104.4 180.6,105.5 180.9,105.4 181.2,104.0 181.5,104.1 181.8,104.4 182.2,105.1 182.5,104.9 182.8,104.6 183.1,104.0 183.4,104.2 183.7,103.6 184,104.0 184.4,104.7 184.7,104.8 185,104.0 185.3,104.5 185.6,105.1 185.9,104.6 186.3,104.4 186.6,104.7 186.9,104.7 187.2,104.5 187.5,104.3 187.8,104.4 188.1,104.5 188.5,104.3 188.8,105.0 189.1,104.8 189.4,104.9 189.7,105.2 190,105.1 190.3,105.0 190.7,104.6 191,104.4 191.3,105.3 191.6,104.3 191.9,104.3 192.2,104.2 192.5,104.6 192.9,104.7 193.2,104.9 193.5,104.4 193.8,103.9 194.1,104.6 194.4,104.9 194.7,104.5 195.1,104.5 195.4,104.7 195.7,105.0 196,104.5 196.3,104.0 196.6,104.3 196.9,104.5 197.3,103.9 197.6,104.8 197.9,104.3 198.2,104.7 198.5,104.6 198.8,104.4 199.2,105.1 199.5,104.3 199.8,104.3 200.1,104.6 200.4,104.8 200.7,104.5 201,104.2 201.4,104.8 201.7,104.7 202,105.3 202.3,104.5 202.6,104.6 202.9,104.3 203.2,104.0" fill="none" stroke="#3f86ee" stroke-width="0.9" stroke-linejoin="round" />
<polyline points="45.9,104.7 46.3,105.0 46.6,104.3 46.9,104.5 47.2,104.3 47.5,105.2 47.8,104.5 48.1,104.9 48.5,104.4 48.8,104.7 49.1,104.5 49.4,103.9 49.7,104.7 50,104.9 50.3,104.0 50.7,104.6 51,104.5 51.3,104.3 51.6,104.6 51.9,104.0 52.2,104.8 52.5,105.1 52.9,104.3 53.2,104.7 53.5,105.2 53.8,104.7 54.1,104.5 54.4,104.4 54.7,104.8 55.1,104.7 55.4,104.9 55.7,104.2 56,105.1 56.3,104.6 56.6,104.9 57,104.4 57.3,104.2 57.6,104.5 57.9,104.4 58.2,104.6 58.5,104.9 58.8,105.1 59.2,104.8 59.5,104.5 59.8,104.5 60.1,104.9 60.4,105.1 60.7,104.6 61,104.7 61.4,104.4 61.7,104.7 61.7,85.1 62,89.1 62.3,90.2 62.6,93.0 62.9,93.9 63.2,94.0 63.6,95.5 63.9,95.7 64.2,96.1 64.5,95.7 64.8,97.0 65.1,96.4 65.4,96.3 65.8,97.0 66.1,96.7 66.4,96.8 66.7,96.9 67,95.8 67.3,97.1 67.6,96.5 68,96.7 68.3,96.9 68.6,96.4 68.9,96.7 69.2,96.9 69.5,96.6 69.8,96.8 70.2,96.1 70.5,96.3 70.8,96.3 71.1,96.8 71.4,98.0 71.7,96.8 72.1,96.7 72.4,96.7 72.7,97.1 73,97.0 73.3,96.3 73.6,97.1 73.9,96.7 74.3,97.0 74.6,96.1 74.9,96.2 75.2,97.0 75.5,96.2 75.8,96.9 76.1,96.9 76.5,96.8 76.8,96.9 77.1,96.9 77.4,97.0 77.7,96.7 78,96.8 78.3,97.8 78.7,97.2 79,97.0 79.3,97.0 79.6,96.6 79.9,96.9 80.2,96.8 80.5,97.2 80.9,96.5 81.2,96.0 81.5,96.7 81.8,97.1 82.1,97.7 82.4,97.2 82.7,96.5 83.1,96.8 83.4,96.5 83.7,96.8 84,96.6 84.3,96.3 84.6,97.0 85,96.9 85.3,96.8 85.6,97.0 85.9,97.6 86.2,96.9 86.5,96.8 86.8,97.2 87.2,96.3 87.5,97.2 87.8,96.6 88.1,96.6 88.4,96.9 88.7,97.5 89,96.6 89.4,97.2 89.7,97.0 90,96.4 90.3,97.2 90.6,96.6 90.9,96.4 91.2,96.6 91.6,96.7 91.9,97.1 92.2,96.7 92.5,97.4 92.8,97.0 93.1,96.9 93.1,149.7 93.1,150.3 93.4,144.4 93.8,139.8 94.1,134.8 94.4,131.2 94.7,128.7 95,126.7 95.3,124.3 95.6,122.5 96,120.8 96.3,118.8 96.6,118.4 96.9,116.9 97.2,117.1 97.5,116.1 97.8,115.5 98.2,115.2 98.5,114.8 98.8,114.4 99.1,114.1 99.4,113.6 99.7,113.1 100.1,113.5 100.4,113.8 100.7,113.5 101,113.0 101.3,113.2 101.6,112.7 101.9,112.9 102.3,112.5 102.6,112.8 102.9,113.4 103.2,112.9 103.5,113.1 103.8,112.3 104.1,112.3 104.5,112.6 104.8,112.7 105.1,112.5 105.4,112.9 105.7,112.3 106,113.0 106.3,112.9 106.7,112.1 107,112.7 107.3,112.4 107.6,112.9 107.9,112.3 108.2,112.6 108.5,112.7 108.9,111.6 109.2,111.9 109.5,112.6 109.8,112.5 110.1,112.9 110.4,112.6 110.7,112.1 111.1,112.7 111.4,112.3 111.7,112.5 112,112.4 112.3,112.7 112.6,112.1 112.9,112.2 113.3,111.8 113.6,113.3 113.9,112.2 114.2,112.3 114.5,112.2 114.8,112.4 115.2,112.4 115.5,112.8 115.8,112.7 116.1,112.7 116.4,112.4 116.7,112.6 117,113.0 117.4,112.6 117.7,112.7 118,111.9 118.3,112.8 118.6,112.7 118.9,113.1 119.2,111.7 119.6,112.6 119.9,112.6 120.2,112.7 120.5,112.4 120.8,112.7 121.1,112.9 121.4,112.7 121.8,112.5 122.1,112.6 122.4,112.5 122.7,112.7 123,112.4 123.3,112.0 123.6,113.1 124,112.1 124.3,112.6 124.6,112.7 124.6,91.3 124.9,94.5 125.2,96.0 125.5,97.5 125.8,98.0 126.2,98.3 126.5,99.3 126.8,99.9 127.1,99.8 127.4,99.9 127.7,99.7 128.1,100.2 128.4,100.5 128.7,100.2 129,100.9 129.3,100.7 129.6,100.9 129.9,100.7 130.3,100.8 130.6,101.2 130.9,101.3 131.2,101.4 131.5,101.0 131.8,101.2 132.1,101.6 132.5,101.0 132.8,102.1 133.1,101.9 133.4,101.9 133.7,101.7 134,102.3 134.3,102.0 134.7,102.8 135,102.4 135.3,101.8 135.6,102.6 135.9,102.2 136.2,102.3 136.5,102.4 136.9,102.5 137.2,102.7 137.5,102.9 137.8,102.9 138.1,102.5 138.4,102.3 138.7,102.6 139.1,103.0 139.4,103.2 139.7,103.6 140,102.5 140.3,103.1 140.6,103.0 140.9,103.0 141.3,103.2 141.6,103.1 141.9,103.1 142.2,103.0 142.5,103.4 142.8,103.7 143.2,103.9 143.5,103.2 143.8,103.0 144.1,103.3 144.4,103.1 144.7,103.8 145,103.2 145.4,103.5 145.7,103.0 146,103.4 146.3,103.6 146.6,104.1 146.9,103.4 147.2,103.7 147.6,102.9 147.9,103.2 148.2,103.4 148.5,103.5 148.8,103.8 149.1,103.9 149.4,103.2 149.8,103.9 150.1,103.4 150.4,104.4 150.7,103.9 151,103.8 151.3,103.7 151.6,103.8 152,103.8 152.3,103.6 152.6,104.1 152.9,104.0 153.2,104.1 153.5,103.9 153.8,104.1 154.2,103.6 154.5,105.2 154.8,103.7 155.1,103.8 155.4,104.3 155.7,104.4 156.1,103.7 156.4,103.4 156.7,103.5 157,103.6 157.3,103.7 157.6,103.9 157.9,104.4 158.3,104.4 158.6,103.8 158.9,104.2 159.2,104.3 159.5,104.5 159.8,104.0 160.1,103.8 160.5,104.3 160.8,104.6 161.1,103.9 161.4,104.7 161.7,104.7 162,104.0 162.3,103.5 162.7,103.9 163,104.0 163.3,104.3 163.6,103.5 163.9,104.9 164.2,104.9 164.5,103.9 164.9,103.5 165.2,104.1 165.5,104.3 165.8,104.6 166.1,104.4 166.4,104.1 166.7,103.4 167.1,104.3 167.4,104.4 167.7,104.0 168,104.2 168.3,104.2 168.6,104.1 168.9,103.7 169.3,104.3 169.6,103.7 169.9,104.6 170.2,103.8 170.5,104.3 170.8,103.9 171.2,104.3 171.5,104.1 171.8,104.4 172.1,103.9 172.4,103.6 172.7,104.1 173,104.1 173.4,103.7 173.7,103.9 174,103.6 174.3,104.2 174.6,104.1 174.9,104.2 175.2,105.1 175.6,104.3 175.9,104.3 176.2,104.4 176.5,104.2 176.8,104.0 177.1,104.5 177.4,104.6 177.8,103.2 178.1,104.2 178.4,104.1 178.7,104.0 179,104.7 179.3,104.0 179.6,104.5 180,104.0 180.3,104.1 180.6,104.5 180.9,104.0 181.2,104.2 181.5,103.8 181.8,103.9 182.2,104.5 182.5,104.4 182.8,103.8 183.1,103.8 183.4,105.1 183.7,104.0 184,103.9 184.4,104.4 184.7,104.0 185,104.1 185.3,104.6 185.6,104.6 185.9,104.2 186.3,104.7 186.6,104.2 186.9,104.2 187.2,104.3 187.5,104.1 187.8,104.4 188.1,104.4 188.5,104.0 188.8,104.3 189.1,104.1 189.4,104.1 189.7,104.2 190,104.6 190.3,104.4 190.7,104.7 191,104.8 191.3,104.3 191.6,104.1 191.9,104.0 192.2,104.4 192.5,104.6 192.9,104.8 193.2,103.8 193.5,104.6 193.8,104.7 194.1,105.1 194.4,104.3 194.7,104.3 195.1,103.8 195.4,104.0 195.7,103.9 196,103.9 196.3,104.0 196.6,103.8 196.9,104.3 197.3,104.4 197.6,104.6 197.9,104.3 198.2,104.7 198.5,104.7 198.8,103.8 199.2,104.2 199.5,103.9 199.8,104.0 200.1,104.4 200.4,104.3 200.7,104.8 201,105.0 201.4,104.5 201.7,104.2 202,104.3 202.3,104.3 202.6,104.5 202.9,104.1 203.2,104.5" fill="none" stroke="#3fb46e" stroke-width="0.9" stroke-linejoin="round" />
<polyline points="45.9,104.6 46.3,105.0 46.6,105.2 46.9,105.3 47.2,104.6 47.5,104.2 47.8,104.1 48.1,104.6 48.5,104.2 48.8,104.1 49.1,104.6 49.4,104.3 49.7,104.9 50,105.4 50.3,104.6 50.7,104.8 51,104.1 51.3,104.7 51.6,104.4 51.9,104.3 52.2,104.0 52.5,105.2 52.9,104.1 53.2,104.3 53.5,104.7 53.8,104.8 54.1,104.8 54.4,104.7 54.7,104.4 55.1,105.0 55.4,104.8 55.7,104.2 56,105.2 56.3,104.6 56.6,105.0 57,104.2 57.3,104.3 57.6,104.5 57.9,104.4 58.2,105.0 58.5,104.1 58.8,104.7 59.2,104.3 59.5,104.9 59.8,104.8 60.1,104.5 60.4,105.5 60.7,104.7 61,105.1 61.4,104.2 61.7,104.7 61.7,85.0 62,88.8 62.3,91.3 62.6,92.8 62.9,93.8 63.2,93.7 63.6,95.2 63.9,95.4 64.2,95.9 64.5,96.4 64.8,97.0 65.1,96.5 65.4,96.7 65.8,96.6 66.1,96.7 66.4,96.7 66.7,96.4 67,96.4 67.3,96.7 67.6,97.2 68,96.9 68.3,97.2 68.6,96.2 68.9,96.7 69.2,96.8 69.5,96.8 69.8,96.2 70.2,96.0 70.5,95.9 70.8,96.5 71.1,97.5 71.4,96.8 71.7,96.3 72.1,96.8 72.4,96.6 72.7,96.8 73,96.6 73.3,96.3 73.6,96.6 73.9,97.0 74.3,96.9 74.6,97.2 74.9,96.4 75.2,97.1 75.5,96.8 75.8,96.9 76.1,97.2 76.5,96.8 76.8,96.9 77.1,97.0 77.4,97.0 77.7,97.1 78,97.3 78.3,97.0 78.7,96.7 79,97.7 79.3,96.8 79.6,97.0 79.9,96.6 80.2,96.1 80.5,96.6 80.9,96.9 81.2,97.0 81.5,96.9 81.8,97.1 82.1,97.2 82.4,97.2 82.7,96.9 83.1,96.9 83.4,96.8 83.7,96.6 84,97.4 84.3,96.5 84.6,96.9 85,97.0 85.3,96.1 85.6,97.2 85.9,96.8 86.2,97.0 86.5,96.8 86.8,96.4 87.2,97.0 87.5,96.9 87.8,97.3 88.1,97.1 88.4,96.3 88.7,97.3 89,97.2 89.4,97.2 89.7,97.1 90,96.7 90.3,97.1 90.6,96.8 90.9,97.9 91.2,96.8 91.6,96.5 91.9,96.8 92.2,97.4 92.5,96.7 92.8,96.1 93.1,96.9 93.1,149.7 93.1,151.1 93.4,144.9 93.8,139.6 94.1,135.8 94.4,131.7 94.7,128.6 95,126.8 95.3,124.1 95.6,122.7 96,120.9 96.3,119.9 96.6,118.6 96.9,116.9 97.2,117.0 97.5,116.0 97.8,115.9 98.2,115.1 98.5,115.2 98.8,114.2 99.1,113.3 99.4,113.7 99.7,113.8 100.1,113.3 100.4,113.1 100.7,113.7 101,113.0 101.3,113.3 101.6,112.9 101.9,112.3 102.3,112.4 102.6,112.6 102.9,112.8 103.2,112.4 103.5,112.1 103.8,112.3 104.1,112.4 104.5,112.3 104.8,112.4 105.1,113.2 105.4,112.7 105.7,112.3 106,112.5 106.3,113.1 106.7,112.8 107,112.5 107.3,112.1 107.6,111.9 107.9,112.4 108.2,112.5 108.5,112.0 108.9,112.1 109.2,112.5 109.5,111.8 109.8,111.9 110.1,112.5 110.4,112.7 110.7,112.7 111.1,112.9 111.4,113.1 111.7,112.9 112,112.5 112.3,113.3 112.6,113.2 112.9,112.9 113.3,112.3 113.6,112.7 113.9,111.9 114.2,112.5 114.5,111.7 114.8,112.5 115.2,113.0 115.5,112.6 115.8,113.2 116.1,112.6 116.4,112.7 116.7,112.5 117,112.8 117.4,112.6 117.7,113.1 118,113.2 118.3,112.8 118.6,112.2 118.9,112.8 119.2,113.1 119.6,112.9 119.9,112.8 120.2,113.0 120.5,113.1 120.8,111.8 121.1,113.2 121.4,112.9 121.8,112.8 122.1,112.5 122.4,112.8 122.7,112.9 123,112.2 123.3,113.0 123.6,112.7 124,113.2 124.3,112.9 124.6,112.6 124.9,112.7 125.2,112.9 125.5,112.8 125.8,112.9 126.2,112.5 126.5,112.3 126.8,112.5 127.1,112.2 127.4,112.5 127.7,112.9 128.1,112.2 128.4,112.3 128.7,113.0 129,112.6 129.3,112.8 129.6,112.3 129.9,112.4 130.3,112.7 130.6,113.3 130.9,112.9 131.2,112.2 131.5,112.9 131.8,113.1 132.1,113.0 132.5,112.8 132.5,91.4 132.8,94.3 133.1,96.7 133.4,96.7 133.7,97.8 134,97.9 134.3,98.0 134.7,98.6 135,99.3 135.3,99.5 135.6,98.9 135.9,99.2 136.2,99.2 136.5,98.9 136.9,99.9 137.2,100.3 137.5,100.4 137.8,99.8 138.1,100.6 138.4,100.6 138.7,100.2 139.1,100.4 139.4,100.3 139.7,100.6 140,101.3 140.3,100.4 140.6,100.4 140.9,101.2 141.3,101.0 141.6,100.3 141.9,100.7 142.2,100.9 142.5,101.0 142.8,101.4 143.2,101.7 143.5,101.3 143.8,101.5 144.1,101.3 144.4,101.9 144.7,102.1 145,101.6 145.4,101.5 145.7,102.5 146,102.2 146.3,101.6 146.6,101.4 146.9,101.9 147.2,102.5 147.6,101.9 147.9,102.1 148.2,102.0 148.5,102.5 148.8,102.8 149.1,101.9 149.4,102.3 149.8,102.3 150.1,102.2 150.4,102.1 150.7,102.8 151,102.6 151.3,102.8 151.6,103.1 152,102.5 152.3,102.9 152.6,102.6 152.9,102.7 153.2,102.9 153.5,102.7 153.8,102.3 154.2,103.4 154.5,102.9 154.8,102.5 155.1,102.2 155.4,103.0 155.7,103.2 156.1,103.4 156.4,103.4 156.7,102.9 157,103.3 157.3,102.6 157.6,103.2 157.9,103.5 158.3,103.0 158.6,103.1 158.9,103.2 159.2,103.3 159.5,103.8 159.8,102.9 160.1,103.8 160.5,102.9 160.8,103.1 161.1,103.1 161.4,103.3 161.7,103.2 162,103.6 162.3,103.4 162.7,104.2 163,103.6 163.3,103.4 163.6,103.6 163.9,103.7 164.2,103.4 164.5,103.1 164.9,103.2 165.2,103.6 165.5,103.8 165.8,103.7 166.1,103.5 166.4,103.8 166.7,103.4 167.1,103.7 167.4,104.1 167.7,104.0 168,104.1 168.3,103.5 168.6,103.7 168.9,103.3 169.3,104.0 169.6,103.5 169.9,103.2 170.2,103.5 170.5,103.8 170.8,102.9 171.2,103.2 171.5,104.1 171.8,103.8 172.1,103.7 172.4,103.2 172.7,104.3 173,104.1 173.4,104.0 173.7,103.4 174,104.0 174.3,104.2 174.6,103.7 174.9,103.7 175.2,103.7 175.6,104.0 175.9,103.7 176.2,103.7 176.5,103.3 176.8,103.3 177.1,104.2 177.4,104.4 177.8,104.2 178.1,104.4 178.4,103.7 178.7,103.9 179,104.0 179.3,103.8 179.6,104.5 180,103.4 180.3,103.7 180.6,103.8 180.9,103.7 181.2,104.2 181.5,103.2 181.8,104.3 182.2,104.3 182.5,104.1 182.8,104.4 183.1,104.8 183.4,104.0 183.7,104.2 184,104.1 184.4,104.1 184.7,103.8 185,103.7 185.3,104.2 185.6,103.8 185.9,104.3 186.3,104.3 186.6,103.8 186.9,104.1 187.2,104.0 187.5,104.0 187.8,104.4 188.1,104.0 188.5,104.1 188.8,103.3 189.1,104.2 189.4,103.5 189.7,103.9 190,104.6 190.3,104.7 190.7,103.9 191,103.6 191.3,104.2 191.6,103.9 191.9,104.2 192.2,103.6 192.5,104.5 192.9,104.6 193.2,103.6 193.5,103.8 193.8,103.8 194.1,104.3 194.4,103.4 194.7,104.2 195.1,104.0 195.4,103.8 195.7,104.3 196,103.4 196.3,103.6 196.6,103.8 196.9,104.3 197.3,104.0 197.6,103.8 197.9,104.3 198.2,103.9 198.5,103.9 198.8,104.0 199.2,104.2 199.5,105.1 199.8,103.7 200.1,104.2 200.4,104.1 200.7,104.0 201,104.7 201.4,104.4 201.7,104.4 202,104.0 202.3,103.8 202.6,104.2 202.9,104.0 203.2,103.9" fill="none" stroke="#c38ef0" stroke-width="0.9" stroke-linejoin="round" />
<polyline points="45.9,105.0 46.3,104.3 46.6,104.5 46.9,105.0 47.2,104.7 47.5,105.0 47.8,104.4 48.1,105.0 48.5,104.5 48.8,105.2 49.1,105.0 49.4,104.9 49.7,105.3 50,104.9 50.3,104.5 50.7,105.3 51,104.9 51.3,105.2 51.6,104.8 51.9,105.2 52.2,104.4 52.5,104.3 52.9,104.3 53.2,105.0 53.5,104.1 53.8,104.1 54.1,104.3 54.4,104.8 54.7,104.9 55.1,104.5 55.4,105.0 55.7,104.9 56,105.2 56.3,105.1 56.6,104.5 57,104.8 57.3,104.7 57.6,104.9 57.9,104.8 58.2,104.8 58.5,105.0 58.8,104.8 59.2,105.0 59.5,104.8 59.8,104.7 60.1,105.1 60.4,105.1 60.7,105.2 61,105.0 61.4,104.7 61.7,104.7 61.7,85.1 62,88.9 62.3,90.7 62.6,92.6 62.9,94.7 63.2,94.9 63.6,94.4 63.9,95.7 64.2,96.1 64.5,95.8 64.8,97.1 65.1,96.8 65.4,96.7 65.8,96.4 66.1,96.7 66.4,96.9 66.7,96.7 67,96.4 67.3,96.7 67.6,96.7 68,96.7 68.3,96.3 68.6,96.8 68.9,96.7 69.2,96.8 69.5,96.8 69.8,96.2 70.2,97.0 70.5,97.0 70.8,96.3 71.1,96.7 71.4,96.5 71.7,96.6 72.1,97.1 72.4,97.0 72.7,97.5 73,96.8 73.3,96.4 73.6,96.8 73.9,95.9 74.3,97.4 74.6,96.9 74.9,97.0 75.2,96.9 75.5,96.5 75.8,96.8 76.1,96.6 76.5,96.7 76.8,97.0 77.1,96.4 77.4,97.4 77.7,96.5 78,97.1 78.3,96.6 78.7,96.4 79,97.0 79.3,96.9 79.6,96.8 79.9,96.8 80.2,96.6 80.5,97.0 80.9,96.7 81.2,96.9 81.5,97.3 81.8,96.4 82.1,96.7 82.4,96.6 82.7,96.6 83.1,96.4 83.4,96.8 83.7,96.9 84,96.8 84.3,96.3 84.6,97.1 85,97.1 85.3,96.9 85.6,96.5 85.9,96.6 86.2,97.6 86.5,97.5 86.8,97.1 87.2,96.6 87.5,97.3 87.8,97.0 88.1,97.5 88.4,96.7 88.7,97.1 89,96.8 89.4,97.2 89.7,96.7 90,97.2 90.3,96.8 90.6,96.6 90.9,97.1 91.2,97.0 91.6,96.2 91.9,96.9 92.2,96.9 92.5,97.0 92.8,97.6 93.1,96.9 93.1,149.7 93.1,150.4 93.4,144.7 93.8,139.2 94.1,135.1 94.4,131.8 94.7,128.9 95,126.4 95.3,124.5 95.6,122.7 96,121.3 96.3,119.6 96.6,118.7 96.9,117.3 97.2,116.9 97.5,116.3 97.8,115.4 98.2,113.9 98.5,114.4 98.8,115.2 99.1,114.0 99.4,113.6 99.7,113.6 100.1,113.8 100.4,113.4 100.7,113.1 101,112.6 101.3,112.8 101.6,112.4 101.9,112.9 102.3,113.3 102.6,113.1 102.9,112.5 103.2,112.3 103.5,112.1 103.8,112.8 104.1,112.8 104.5,112.8 104.8,112.7 105.1,112.1 105.4,111.9 105.7,112.9 106,112.2 106.3,113.2 106.7,111.8 107,112.1 107.3,112.2 107.6,112.6 107.9,112.8 108.2,112.3 108.5,112.7 108.9,112.1 109.2,112.3 109.5,112.1 109.8,112.3 110.1,112.3 110.4,112.6 110.7,113.7 111.1,112.1 111.4,112.5 111.7,112.8 112,112.6 112.3,113.0 112.6,112.2 112.9,112.8 113.3,112.3 113.6,112.8 113.9,112.6 114.2,112.7 114.5,112.4 114.8,111.9 115.2,112.2 115.5,112.8 115.8,112.5 116.1,112.8 116.4,112.1 116.7,112.8 117,113.0 117.4,111.8 117.7,112.7 118,113.3 118.3,112.3 118.6,113.0 118.9,112.6 119.2,112.9 119.6,112.5 119.9,112.4 120.2,112.5 120.5,112.5 120.8,112.4 121.1,112.3 121.4,113.0 121.8,112.4 122.1,112.2 122.4,112.3 122.7,112.8 123,111.9 123.3,112.8 123.6,112.9 124,113.1 124.3,112.5 124.6,112.4 124.9,112.7 125.2,112.7 125.5,113.2 125.8,112.7 126.2,112.6 126.5,112.2 126.8,112.6 127.1,112.7 127.4,113.1 127.7,112.8 128.1,113.2 128.4,113.2 128.7,112.5 129,112.3 129.3,112.5 129.6,112.7 129.9,112.5 130.3,113.0 130.6,113.0 130.9,113.2 131.2,112.9 131.5,112.6 131.8,112.9 132.1,112.4 132.5,112.8 132.8,112.5 133.1,113.2 133.4,111.8 133.7,113.1 134,113.1 134.3,112.8 134.7,112.9 135,112.9 135.3,113.3 135.6,113.4 135.9,112.8 136.2,113.4 136.5,112.6 136.9,113.0 137.2,113.0 137.5,112.4 137.8,112.9 138.1,112.6 138.4,113.1 138.7,112.5 139.1,112.2 139.4,112.4 139.7,112.9 140,113.0 140.3,112.9 140.3,91.9 140.6,93.6 140.9,95.5 141.3,95.9 141.6,96.6 141.9,97.4 142.2,97.3 142.5,96.9 142.8,98.0 143.2,97.9 143.5,97.9 143.8,98.6 144.1,98.0 144.4,98.6 144.7,98.5 145,99.5 145.4,98.0 145.7,98.8 146,99.0 146.3,99.3 146.6,98.9 146.9,98.9 147.2,99.7 147.6,99.2 147.9,99.5 148.2,99.5 148.5,99.7 148.8,99.2 149.1,99.5 149.4,99.8 149.8,99.9 150.1,100.3 150.4,100.2 150.7,100.3 151,100.1 151.3,100.7 151.6,100.1 152,100.3 152.3,99.9 152.6,100.1 152.9,100.8 153.2,100.6 153.5,100.0 153.8,100.7 154.2,100.7 154.5,100.4 154.8,101.0 155.1,100.9 155.4,101.0 155.7,101.4 156.1,100.9 156.4,101.5 156.7,101.1 157,101.2 157.3,101.8 157.6,101.5 157.9,101.3 158.3,101.4 158.6,101.6 158.9,101.0 159.2,101.8 159.5,101.6 159.8,101.2 160.1,101.4 160.5,102.0 160.8,101.3 161.1,102.6 161.4,101.5 161.7,102.0 162,101.0 162.3,101.9 162.7,101.8 163,102.2 163.3,102.1 163.6,102.0 163.9,102.9 164.2,102.4 164.5,101.9 164.9,102.3 165.2,101.2 165.5,102.1 165.8,102.7 166.1,102.1 166.4,102.4 166.7,102.0 167.1,102.7 167.4,102.5 167.7,102.5 168,102.8 168.3,103.1 168.6,102.8 168.9,101.9 169.3,102.7 169.6,102.7 169.9,102.2 170.2,102.1 170.5,102.5 170.8,102.6 171.2,102.7 171.5,102.5 171.8,102.8 172.1,102.9 172.4,102.7 172.7,102.9 173,102.6 173.4,102.3 173.7,102.9 174,103.2 174.3,103.8 174.6,102.2 174.9,102.8 175.2,102.6 175.6,103.1 175.9,102.7 176.2,103.0 176.5,103.4 176.8,102.8 177.1,103.0 177.4,103.6 177.8,103.4 178.1,102.5 178.4,103.8 178.7,102.9 179,103.2 179.3,103.0 179.6,103.0 180,102.9 180.3,103.4 180.6,102.9 180.9,102.8 181.2,103.0 181.5,103.2 181.8,102.5 182.2,103.5 182.5,103.0 182.8,103.5 183.1,103.8 183.4,103.4 183.7,103.5 184,103.2 184.4,103.1 184.7,102.7 185,103.3 185.3,103.2 185.6,102.5 185.9,103.5 186.3,103.9 186.6,103.5 186.9,103.8 187.2,103.3 187.5,103.1 187.8,103.5 188.1,103.3 188.5,103.1 188.8,103.8 189.1,103.5 189.4,103.3 189.7,103.6 190,103.4 190.3,103.7 190.7,104.1 191,103.3 191.3,103.1 191.6,104.0 191.9,104.4 192.2,103.3 192.5,103.2 192.9,103.1 193.2,103.6 193.5,103.6 193.8,103.5 194.1,103.9 194.4,103.3 194.7,103.4 195.1,103.2 195.4,104.1 195.7,104.0 196,104.1 196.3,103.3 196.6,104.1 196.9,103.8 197.3,103.9 197.6,103.9 197.9,103.6 198.2,103.6 198.5,103.1 198.8,103.5 199.2,103.6 199.5,103.3 199.8,103.7 200.1,104.2 200.4,103.5 200.7,103.4 201,103.4 201.4,103.8 201.7,104.3 202,103.8 202.3,103.8 202.6,103.3 202.9,103.9 203.2,104.0" fill="none" stroke="#e2a526" stroke-width="0.9" stroke-linejoin="round" />
<polyline points="45.9,104.6 46.3,104.7 46.6,104.5 46.9,104.9 47.2,105.2 47.5,104.8 47.8,104.9 48.1,104.7 48.5,104.5 48.8,104.4 49.1,104.6 49.4,104.7 49.7,104.7 50,105.0 50.3,105.0 50.7,105.2 51,105.0 51.3,104.6 51.6,104.7 51.9,104.1 52.2,105.3 52.5,104.5 52.9,104.6 53.2,105.3 53.5,104.3 53.8,104.5 54.1,104.7 54.4,104.5 54.7,104.7 55.1,104.8 55.4,104.9 55.7,104.7 56,104.9 56.3,104.6 56.6,104.9 57,105.1 57.3,104.1 57.6,104.6 57.9,104.8 58.2,104.0 58.5,103.6 58.8,104.8 59.2,104.5 59.5,105.0 59.8,104.7 60.1,104.7 60.4,104.6 60.7,104.7 61,104.4 61.4,104.5 61.7,104.7 61.7,85.3 62,88.7 62.3,91.4 62.6,92.9 62.9,94.0 63.2,94.5 63.6,95.7 63.9,95.4 64.2,96.1 64.5,95.6 64.8,96.3 65.1,96.5 65.4,96.2 65.8,95.9 66.1,96.4 66.4,96.5 66.7,96.3 67,96.3 67.3,96.9 67.6,96.5 68,96.4 68.3,96.9 68.6,96.6 68.9,96.4 69.2,96.9 69.5,96.5 69.8,97.0 70.2,96.4 70.5,96.8 70.8,97.1 71.1,96.8 71.4,96.9 71.7,96.9 72.1,97.0 72.4,96.7 72.7,96.9 73,96.7 73.3,97.4 73.6,96.4 73.9,97.0 74.3,96.4 74.6,96.9 74.9,97.2 75.2,96.4 75.5,97.4 75.8,96.5 76.1,96.5 76.5,96.9 76.8,96.4 77.1,97.1 77.4,97.0 77.7,95.9 78,96.3 78.3,96.6 78.7,97.0 79,96.5 79.3,96.6 79.6,97.0 79.9,96.5 80.2,96.9 80.5,96.4 80.9,97.2 81.2,97.3 81.5,96.5 81.8,96.0 82.1,96.3 82.4,97.2 82.7,96.7 83.1,97.2 83.4,96.4 83.7,96.5 84,96.8 84.3,97.2 84.6,96.8 85,96.5 85.3,97.0 85.6,96.9 85.9,97.0 86.2,96.8 86.5,96.7 86.8,96.9 87.2,96.0 87.5,97.0 87.8,97.3 88.1,97.1 88.4,96.6 88.7,96.4 89,97.3 89.4,96.7 89.7,96.8 90,97.0 90.3,96.7 90.6,96.9 90.9,97.4 91.2,96.7 91.6,97.6 91.9,97.0 92.2,97.0 92.5,97.2 92.8,97.2 93.1,96.9 93.1,149.7 93.1,151.0 93.4,144.9 93.8,139.6 94.1,136.1 94.4,131.9 94.7,128.7 95,126.7 95.3,124.5 95.6,122.4 96,120.9 96.3,119.8 96.6,119.2 96.9,117.5 97.2,116.3 97.5,115.9 97.8,115.7 98.2,115.0 98.5,114.4 98.8,114.6 99.1,114.3 99.4,113.7 99.7,113.7 100.1,113.2 100.4,113.0 100.7,113.0 101,112.5 101.3,113.0 101.6,112.8 101.9,112.6 102.3,112.8 102.6,112.7 102.9,112.4 103.2,112.4 103.5,112.3 103.8,113.0 104.1,112.0 104.5,112.5 104.8,112.8 105.1,112.2 105.4,112.2 105.7,112.2 106,111.9 106.3,112.9 106.7,112.4 107,112.1 107.3,112.3 107.6,112.5 107.9,112.4 108.2,112.2 108.5,112.7 108.9,112.2 109.2,112.3 109.5,112.5 109.8,112.2 110.1,112.5 110.4,112.3 110.7,113.4 111.1,112.3 111.4,112.7 111.7,112.2 112,112.1 112.3,112.5 112.6,112.4 112.9,112.4 113.3,112.5 113.6,112.8 113.9,113.2 114.2,113.2 114.5,112.5 114.8,113.2 115.2,113.1 115.5,112.3 115.8,112.4 116.1,112.5 116.4,113.2 116.7,112.5 117,112.5 117.4,113.0 117.7,112.5 118,112.5 118.3,112.8 118.6,112.6 118.9,111.7 119.2,112.1 119.6,112.8 119.9,112.1 120.2,113.0 120.5,112.5 120.8,112.7 121.1,112.7 121.4,112.0 121.8,112.3 122.1,112.2 122.4,112.7 122.7,113.1 123,112.5 123.3,112.6 123.6,111.9 124,112.5 124.3,112.5 124.6,112.5 124.9,112.8 125.2,113.1 125.5,112.6 125.8,112.8 126.2,112.1 126.5,112.8 126.8,112.6 127.1,112.0 127.4,112.8 127.7,112.4 128.1,113.0 128.4,112.8 128.7,112.7 129,113.3 129.3,112.6 129.6,112.6 129.9,112.7 130.3,112.7 130.6,112.4 130.9,112.9 131.2,112.8 131.5,112.5 131.8,112.2 132.1,113.1 132.5,113.2 132.8,113.0 133.1,113.1 133.4,113.3 133.7,112.8 134,113.3 134.3,112.7 134.7,112.5 135,112.8 135.3,112.7 135.6,112.9 135.9,113.4 136.2,112.9 136.5,113.1 136.9,113.5 137.2,113.4 137.5,112.8 137.8,112.6 138.1,113.5 138.4,112.4 138.7,112.2 139.1,112.1 139.4,113.2 139.7,112.3 140,112.7 140.3,112.8 140.6,113.3 140.9,112.4 141.3,112.9 141.6,113.0 141.9,113.3 142.2,112.8 142.5,113.0 142.8,112.8 143.2,113.2 143.5,113.2 143.8,112.7 144.1,113.1 144.4,112.4 144.7,112.9 145,112.6 145.4,112.7 145.7,113.2 146,113.6 146.3,113.0 146.6,112.9 146.9,112.8 147.2,113.2 147.6,112.9 147.9,113.3 148.2,112.9 148.2,92.3 148.5,93.9 148.8,94.7 149.1,95.9 149.4,95.9 149.8,95.9 150.1,97.1 150.4,97.6 150.7,97.6 151,97.1 151.3,96.2 151.6,97.2 152,97.8 152.3,97.6 152.6,98.3 152.9,97.6 153.2,98.2 153.5,98.2 153.8,98.3 154.2,97.8 154.5,98.3 154.8,98.6 155.1,98.4 155.4,98.2 155.7,98.6 156.1,98.5 156.4,99.0 156.7,99.3 157,99.2 157.3,99.3 157.6,99.1 157.9,99.3 158.3,98.7 158.6,99.4 158.9,99.8 159.2,99.4 159.5,99.9 159.8,99.2 160.1,99.8 160.5,99.8 160.8,100.0 161.1,100.0 161.4,100.8 161.7,99.0 162,99.6 162.3,100.0 162.7,100.3 163,100.1 163.3,100.1 163.6,99.9 163.9,100.0 164.2,100.2 164.5,101.1 164.9,100.3 165.2,101.6 165.5,101.1 165.8,100.7 166.1,101.1 166.4,101.2 166.7,100.5 167.1,100.4 167.4,101.5 167.7,100.7 168,101.4 168.3,101.4 168.6,100.6 168.9,101.4 169.3,101.4 169.6,101.7 169.9,101.3 170.2,101.5 170.5,101.5 170.8,101.4 171.2,102.1 171.5,101.9 171.8,102.1 172.1,101.7 172.4,102.0 172.7,101.3 173,101.5 173.4,102.1 173.7,101.7 174,101.6 174.3,101.9 174.6,101.3 174.9,101.9 175.2,102.1 175.6,101.8 175.9,101.6 176.2,102.6 176.5,102.2 176.8,101.7 177.1,101.9 177.4,101.5 177.8,101.5 178.1,101.5 178.4,101.9 178.7,102.3 179,102.5 179.3,102.2 179.6,102.6 180,102.5 180.3,101.9 180.6,102.0 180.9,102.5 181.2,102.6 181.5,102.8 181.8,101.9 182.2,101.8 182.5,103.2 182.8,102.4 183.1,102.9 183.4,102.5 183.7,102.1 184,103.1 184.4,102.7 184.7,103.1 185,102.8 185.3,102.3 185.6,102.6 185.9,103.0 186.3,102.4 186.6,102.8 186.9,103.1 187.2,102.3 187.5,102.6 187.8,102.8 188.1,103.1 188.5,102.8 188.8,102.6 189.1,103.0 189.4,102.6 189.7,103.0 190,103.0 190.3,102.8 190.7,103.2 191,103.3 191.3,102.5 191.6,103.1 191.9,102.9 192.2,102.9 192.5,103.0 192.9,103.4 193.2,103.0 193.5,102.9 193.8,102.6 194.1,103.0 194.4,103.1 194.7,102.7 195.1,103.0 195.4,103.3 195.7,103.6 196,103.0 196.3,103.8 196.6,103.5 196.9,103.5 197.3,103.4 197.6,103.2 197.9,103.0 198.2,103.2 198.5,103.2 198.8,103.3 199.2,103.8 199.5,103.9 199.8,103.4 200.1,103.6 200.4,103.0 200.7,102.6 201,103.2 201.4,103.4 201.7,103.8 202,104.2 202.3,103.4 202.6,103.8 202.9,103.7 203.2,103.4" fill="none" stroke="#1cc8d4" stroke-width="0.9" stroke-linejoin="round" />
<polyline points="45.9,105.0 46.3,104.9 46.6,105.3 46.9,104.3 47.2,103.9 47.5,104.8 47.8,105.0 48.1,105.1 48.5,104.5 48.8,104.9 49.1,104.5 49.4,105.0 49.7,104.5 50,104.3 50.3,105.1 50.7,104.3 51,104.2 51.3,105.0 51.6,104.8 51.9,103.9 52.2,105.1 52.5,104.3 52.9,104.6 53.2,104.7 53.5,105.4 53.8,104.7 54.1,105.0 54.4,104.7 54.7,104.9 55.1,104.2 55.4,104.7 55.7,104.5 56,104.4 56.3,104.8 56.6,105.1 57,104.9 57.3,104.6 57.6,105.0 57.9,104.3 58.2,104.8 58.5,104.9 58.8,104.7 59.2,104.6 59.5,104.8 59.8,104.5 60.1,104.6 60.4,105.0 60.7,104.1 61,105.2 61.4,104.9 61.7,104.7 61.7,85.1 62,88.4 62.3,91.1 62.6,92.8 62.9,94.3 63.2,95.1 63.6,95.8 63.9,95.8 64.2,95.3 64.5,95.8 64.8,96.1 65.1,96.5 65.4,95.9 65.8,96.4 66.1,96.5 66.4,96.3 66.7,96.5 67,97.3 67.3,96.6 67.6,97.3 68,96.7 68.3,96.4 68.6,96.8 68.9,96.5 69.2,96.6 69.5,95.9 69.8,96.8 70.2,96.5 70.5,97.1 70.8,96.7 71.1,96.6 71.4,96.3 71.7,96.7 72.1,96.6 72.4,96.5 72.7,97.4 73,96.7 73.3,97.1 73.6,97.3 73.9,96.9 74.3,97.0 74.6,96.9 74.9,97.1 75.2,97.0 75.5,97.0 75.8,96.8 76.1,96.6 76.5,96.6 76.8,96.6 77.1,96.9 77.4,97.3 77.7,96.5 78,96.6 78.3,96.5 78.7,96.8 79,97.2 79.3,96.7 79.6,96.9 79.9,96.0 80.2,96.8 80.5,97.0 80.9,96.6 81.2,96.3 81.5,97.0 81.8,96.8 82.1,97.5 82.4,96.7 82.7,96.8 83.1,96.7 83.4,96.9 83.7,96.2 84,97.3 84.3,97.1 84.6,96.8 85,96.8 85.3,97.1 85.6,97.0 85.9,96.7 86.2,96.8 86.5,97.0 86.8,96.7 87.2,96.8 87.5,96.7 87.8,96.8 88.1,96.4 88.4,96.6 88.7,97.0 89,97.2 89.4,96.9 89.7,95.7 90,96.4 90.3,97.0 90.6,97.5 90.9,97.3 91.2,96.8 91.6,96.8 91.9,96.8 92.2,97.5 92.5,97.0 92.8,96.6 93.1,96.9 93.1,149.7 93.1,150.9 93.4,145.0 93.8,139.1 94.1,135.3 94.4,132.4 94.7,129.3 95,126.0 95.3,124.3 95.6,122.8 96,121.0 96.3,119.2 96.6,118.4 96.9,117.8 97.2,116.9 97.5,115.8 97.8,116.4 98.2,115.1 98.5,114.1 98.8,114.2 99.1,113.1 99.4,113.6 99.7,113.6 100.1,114.2 100.4,113.3 100.7,113.3 101,113.3 101.3,113.0 101.6,112.7 101.9,113.3 102.3,112.9 102.6,113.3 102.9,113.0 103.2,112.3 103.5,112.5 103.8,112.5 104.1,112.5 104.5,112.7 104.8,112.5 105.1,112.3 105.4,113.1 105.7,113.0 106,112.6 106.3,112.2 106.7,112.3 107,112.3 107.3,112.2 107.6,112.2 107.9,112.6 108.2,112.6 108.5,112.7 108.9,112.2 109.2,112.6 109.5,113.2 109.8,112.6 110.1,112.4 110.4,113.5 110.7,112.7 111.1,112.3 111.4,112.9 111.7,112.3 112,112.4 112.3,112.9 112.6,112.4 112.9,112.1 113.3,112.8 113.6,112.9 113.9,112.1 114.2,112.5 114.5,113.0 114.8,112.7 115.2,112.9 115.5,112.6 115.8,112.4 116.1,112.4 116.4,112.5 116.7,112.7 117,111.7 117.4,112.0 117.7,112.6 118,112.9 118.3,112.4 118.6,112.6 118.9,112.3 119.2,112.2 119.6,112.7 119.9,112.6 120.2,112.5 120.5,112.2 120.8,112.7 121.1,112.7 121.4,112.6 121.8,112.6 122.1,112.6 122.4,112.9 122.7,112.8 123,113.3 123.3,113.2 123.6,112.7 124,112.3 124.3,112.9 124.6,112.5 124.9,113.2 125.2,112.2 125.5,112.6 125.8,113.2 126.2,112.7 126.5,113.0 126.8,113.0 127.1,112.6 127.4,113.0 127.7,112.4 128.1,112.6 128.4,113.5 128.7,112.7 129,112.9 129.3,112.4 129.6,113.2 129.9,112.4 130.3,112.5 130.6,112.6 130.9,112.4 131.2,112.3 131.5,112.7 131.8,112.6 132.1,112.7 132.5,112.4 132.8,112.5 133.1,112.7 133.4,112.8 133.7,112.5 134,112.8 134.3,112.7 134.7,113.2 135,113.0 135.3,113.0 135.6,113.2 135.9,112.6 136.2,113.3 136.5,112.9 136.9,112.7 137.2,113.0 137.5,112.5 137.8,113.4 138.1,112.9 138.4,112.3 138.7,112.5 139.1,112.7 139.4,112.7 139.7,113.0 140,113.2 140.3,113.2 140.6,113.0 140.9,112.6 141.3,113.3 141.6,113.3 141.9,112.2 142.2,112.7 142.5,112.8 142.8,112.6 143.2,113.2 143.5,113.0 143.8,112.9 144.1,112.5 144.4,112.2 144.7,112.6 145,112.6 145.4,112.6 145.7,112.2 146,112.4 146.3,112.8 146.6,113.0 146.9,112.7 147.2,112.8 147.6,112.9 147.9,112.9 148.2,113.3 148.5,112.7 148.8,113.0 149.1,112.5 149.4,113.4 149.8,113.2 150.1,113.3 150.4,113.0 150.7,112.9 151,112.5 151.3,113.1 151.6,113.4 152,112.0 152.3,113.6 152.6,112.7 152.9,113.2 153.2,112.7 153.5,112.9 153.8,113.3 154.2,112.9 154.5,113.6 154.8,113.0 155.1,113.2 155.4,112.8 155.7,112.8 156.1,113.0 156.1,91.6 156.4,93.4 156.7,94.7 157,94.8 157.3,94.7 157.6,95.3 157.9,95.2 158.3,96.1 158.6,96.1 158.9,95.8 159.2,96.2 159.5,96.7 159.8,96.7 160.1,96.5 160.5,97.0 160.8,97.0 161.1,96.8 161.4,97.1 161.7,97.8 162,96.9 162.3,97.7 162.7,97.4 163,97.7 163.3,97.8 163.6,97.8 163.9,97.7 164.2,97.9 164.5,98.2 164.9,98.2 165.2,97.6 165.5,98.4 165.8,98.7 166.1,98.7 166.4,98.5 166.7,97.9 167.1,98.8 167.4,98.9 167.7,99.2 168,98.5 168.3,98.8 168.6,98.8 168.9,98.9 169.3,98.5 169.6,99.0 169.9,99.1 170.2,99.2 170.5,99.9 170.8,99.2 171.2,99.3 171.5,99.9 171.8,99.4 172.1,100.1 172.4,99.9 172.7,99.5 173,99.6 173.4,99.9 173.7,99.9 174,100.0 174.3,99.8 174.6,100.3 174.9,99.9 175.2,100.0 175.6,100.2 175.9,99.8 176.2,100.2 176.5,100.3 176.8,99.9 177.1,99.8 177.4,100.9 177.8,100.5 178.1,100.5 178.4,100.4 178.7,101.2 179,100.6 179.3,100.1 179.6,101.0 180,100.5 180.3,101.0 180.6,100.9 180.9,101.4 181.2,101.1 181.5,100.9 181.8,101.5 182.2,102.0 182.5,100.9 182.8,101.5 183.1,101.3 183.4,101.4 183.7,100.8 184,101.0 184.4,101.8 184.7,101.4 185,101.2 185.3,102.0 185.6,101.9 185.9,101.7 186.3,101.2 186.6,101.5 186.9,102.1 187.2,100.9 187.5,101.1 187.8,101.4 188.1,102.0 188.5,101.8 188.8,101.9 189.1,101.8 189.4,101.8 189.7,102.2 190,103.1 190.3,102.0 190.7,102.3 191,101.8 191.3,102.5 191.6,102.0 191.9,102.0 192.2,101.8 192.5,101.8 192.9,101.9 193.2,101.7 193.5,101.6 193.8,102.8 194.1,102.3 194.4,102.5 194.7,102.4 195.1,101.7 195.4,102.2 195.7,101.9 196,102.0 196.3,102.2 196.6,102.3 196.9,102.3 197.3,102.4 197.6,102.2 197.9,102.4 198.2,102.8 198.5,103.2 198.8,102.8 199.2,102.4 199.5,102.6 199.8,102.8 200.1,102.8 200.4,102.9 200.7,102.9 201,102.7 201.4,102.4 201.7,102.0 202,102.9 202.3,102.8 202.6,102.3 202.9,102.6 203.2,102.5" fill="none" stroke="#8a4d45" stroke-width="0.9" stroke-linejoin="round" />
</g>
<g clip-path="url(#ca3)">
<polyline points="45.9,227.7 46.2,227.3 46.4,227.8 46.7,227.1 46.9,227.9 47.2,227.7 47.5,227.9 47.7,227.1 48,227.8 48.2,227.7 48.5,227.1 48.7,227.7 49,227.4 49.2,227.9 49.5,227.4 49.7,227.8 50,227.6 50.2,227.8 50.5,227.8 50.7,227.8 51,227.5 51.2,227.9 51.5,227.9 51.7,227.6 52,227.3 52.2,227.9 52.5,227.8 52.7,227.8 53,227.5 53.2,227.6 53.5,227.6 53.7,227.8 54,227.8 54.2,227.8 54.5,227.1 54.7,227.6 55,227.9 55.3,227.6 55.5,227.8 55.8,227.4 56,227.4 56.3,227.9 56.5,227.7 56.8,227.7 57,227.7 57.3,227.9 57.5,227.7 57.8,227.7 58,227.6 58.3,227.8 58.5,227.7 58.8,227.2 59,227.7 59.3,227.8 59.5,227.7 59.8,227.2 60,227.7 60.3,227.4 60.5,227.8 60.8,227.7 61,227.6 61.3,227.4 61.5,227.8 61.8,227.6 62,227.8 62.3,227.6 62.6,227.6 62.8,227.7 63.1,227.3 63.3,227.7 63.6,227.5 63.8,227.5 64.1,227.5 64.3,227.9 64.6,227.6 64.8,227.7 65.1,227.5 65.3,227.5 65.6,227.4 65.8,227.8 66.1,227.5 66.3,227.6 66.6,227.3 66.8,227.8 67.1,227.8 67.3,227.8 67.6,227.8 67.8,227.9 68.1,227.0 68.3,227.8 68.6,227.9 68.8,227.8 69.1,227.7 69.3,227.6 69.6,227.8 69.8,227.4 70.1,227.1 70.4,227.8 70.6,227.8 70.9,227.4 71.1,227.7 71.4,227.3 71.6,227.3 71.9,227.6 72.1,227.7 72.4,227.7 72.6,227.6 72.9,227.5 73.1,227.6 73.4,227.5 73.6,227.8 73.9,227.8 74.1,227.4 74.4,227.8 74.6,227.4 74.9,227.6 75.1,227.6 75.4,227.5 75.6,227.1 75.9,227.9 76.1,226.9 76.4,227.6 76.6,227.0 76.9,227.7 77.1,227.7 77.4,227.6 77.7,227.7 77.9,227.7 78.2,227.8 78.4,227.4 78.7,227.9 78.9,227.8 79.2,227.5 79.4,227.5 79.7,227.5 79.9,227.7 80.2,227.8 80.4,227.6 80.7,227.8 80.9,227.4 81.2,227.3 81.4,227.7 81.7,227.7 81.9,227.4 82.2,227.4 82.4,227.8 82.7,227.7 82.9,227.3 83.2,227.2 83.4,227.3 83.7,227.8 83.9,227.5 84.2,227.7 84.4,227.9 84.7,227.6 85,227.9 85.2,227.6 85.5,227.4 85.7,227.9 86,227.8 86.2,227.8 86.5,227.6 86.7,227.8 87,227.3 87.2,227.4 87.5,227.8 87.7,227.7 88,227.7 88.2,227.7 88.5,227.4 88.7,227.8 89,227.2 89.2,227.7 89.5,227.6 89.7,227.8 90,227.7 90.2,227.8 90.5,227.8 90.7,227.5 91,227.4 91.2,227.2 91.5,227.8 91.7,227.8 92,227.2 92.2,227.6 92.5,227.7 92.8,227.8 93,227.2 93.3,227.4 93.5,227.8 93.8,227.9 94,227.7 94.3,227.9 94.5,227.7 94.8,227.6 95,227.7 95.3,227.5 95.5,227.5 95.8,227.2 96,227.7 96.3,227.7 96.5,227.1 96.8,227.6 97,227.3 97.3,227.0 97.5,226.6 97.8,225.3 98,222.8 98.3,220.7 98.5,218.4 98.8,215.9 99,213.5 99.3,211.4 99.5,208.0 99.8,205.8 100.1,203.1 100.3,199.9 100.6,197.2 100.8,194.2 101.1,190.8 101.3,186.8 101.6,183.5 101.8,180.0 102.1,177.0 102.3,178.7 102.6,187.8 102.8,199.0 103.1,210.2 103.3,218.1 103.6,222.9 103.8,226.1 104.1,226.6 104.3,227.5 104.6,227.7 104.8,227.4 105.1,227.7 105.3,227.8 105.6,227.5 105.8,227.7 106.1,227.6 106.3,227.8 106.6,227.6 106.8,227.8 107.1,227.5 107.3,227.8 107.6,227.7 107.9,227.5 108.1,227.8 108.4,227.7 108.6,227.8 108.9,227.5 109.1,227.6 109.4,227.8 109.6,227.6 109.9,227.7 110.1,227.7 110.4,227.6 110.6,227.5 110.9,227.8 111.1,227.8 111.4,227.2 111.6,227.3 111.9,227.8 112.1,227.5 112.4,227.3 112.6,227.6 112.9,227.7 113.1,227.8 113.4,227.4 113.6,227.8 113.9,227.5 114.1,227.9 114.4,227.4 114.6,227.2 114.9,227.9 115.2,227.8 115.4,227.3 115.7,227.6 115.9,227.4 116.2,227.5 116.4,227.6 116.7,227.8 116.9,227.4 117.2,227.8 117.4,227.8 117.7,227.0 117.9,227.6 118.2,227.8 118.4,227.7 118.7,227.4 118.9,227.8 119.2,227.7 119.4,227.8 119.7,227.7 119.9,227.5 120.2,227.3 120.4,227.8 120.7,227.7 120.9,227.7 121.2,227.7 121.4,227.7 121.7,227.8 121.9,227.8 122.2,227.6 122.5,227.9 122.7,227.2 123,227.9 123.2,227.9 123.5,227.8 123.7,227.7 124,227.8 124.2,227.5 124.5,227.8 124.7,227.4 125,227.5 125.2,227.0 125.5,227.5 125.7,226.9 126,227.8 126.2,227.8 126.5,227.8 126.7,227.7 127,227.8 127.2,227.9 127.5,227.2 127.7,227.5 128,227.8 128.2,227.7 128.5,227.7 128.7,227.5 129,227.5 129.2,227.7 129.5,227.6 129.7,227.9 130,227.6 130.3,227.4 130.5,227.7 130.8,227.7 131,227.8 131.3,227.7 131.5,227.7 131.8,227.7 132,227.8 132.3,227.8 132.5,227.7 132.8,227.7 133,227.9 133.3,227.6 133.5,227.3 133.8,227.6 134,227.6 134.3,227.7 134.5,227.6 134.8,227.8 135,227.5 135.3,227.5 135.5,227.2 135.8,227.9 136,227.7 136.3,227.5 136.5,227.4 136.8,227.7 137,227.5 137.3,227.8 137.6,227.7 137.8,227.9 138.1,227.1 138.3,227.8 138.6,227.6 138.8,227.7 139.1,227.8 139.3,227.8 139.6,227.8 139.8,227.6 140.1,227.6 140.3,227.7 140.6,227.8 140.8,227.7 141.1,227.5 141.3,227.9 141.6,227.2 141.8,227.7 142.1,227.8 142.3,227.4 142.6,227.5 142.8,227.6 143.1,227.7 143.3,227.5 143.6,227.5 143.8,227.7 144.1,227.6 144.3,227.8 144.6,227.4 144.9,227.4 145.1,227.8 145.4,227.5 145.6,227.6 145.9,227.9 146.1,227.8 146.4,227.6 146.6,227.8 146.9,227.5 147.1,227.5 147.4,227.8 147.6,227.8 147.9,227.3 148.1,227.0 148.4,227.7 148.6,227.3 148.9,227.1 149.1,227.7 149.4,227.7 149.6,227.8 149.9,227.9 150.1,227.9 150.4,227.6 150.6,227.5 150.9,227.6 151.1,227.8 151.4,227.1 151.6,227.3 151.9,227.9 152.1,227.7 152.4,227.2 152.7,227.4 152.9,227.9 153.2,227.5 153.4,227.7 153.7,227.7 153.9,227.8 154.2,227.3 154.4,227.4 154.7,227.8 154.9,227.4 155.2,227.6 155.4,227.5 155.7,227.8 155.9,227.3 156.2,227.8 156.4,226.9 156.7,227.7 156.9,227.8 157.2,227.8 157.4,227.3 157.7,227.8 157.9,227.8 158.2,227.7 158.4,227.8 158.7,227.0 158.9,227.0 159.2,227.7 159.4,227.5 159.7,227.6 160,227.5 160.2,227.7 160.5,227.8 160.7,227.4 161,227.9 161.2,227.8 161.5,227.5 161.7,227.8 162,227.7 162.2,227.9 162.5,227.6 162.7,227.5 163,227.8 163.2,227.8 163.5,227.8 163.7,227.5 164,227.7 164.2,227.7 164.5,227.6 164.7,227.9 165,227.6 165.2,227.8 165.5,227.5 165.7,227.6 166,227.8 166.2,227.8 166.5,227.6 166.7,227.1 167,227.9 167.2,227.8 167.5,227.7 167.8,227.7 168,227.7 168.3,227.4 168.5,227.2 168.8,227.5 169,227.5 169.3,227.4 169.5,227.6 169.8,227.5 170,227.6 170.3,227.4 170.5,227.7 170.8,227.8 171,227.9 171.3,227.3 171.5,227.7 171.8,227.6 172,227.7 172.3,227.5 172.5,227.7 172.8,227.4 173,227.2 173.3,227.6 173.5,227.9 173.8,227.0 174,227.4 174.3,227.5 174.5,227.6 174.8,227.4 175.1,227.4 175.3,227.6 175.6,227.6 175.8,227.4 176.1,227.7 176.3,227.5 176.6,227.8 176.8,227.5 177.1,227.5 177.3,227.6 177.6,227.5 177.8,227.8 178.1,227.6 178.3,227.9 178.6,227.7 178.8,227.5 179.1,227.8 179.3,227.9 179.6,227.3 179.8,227.7 180.1,227.7 180.3,227.8 180.6,227.9 180.8,227.9 181.1,227.6 181.3,227.8 181.6,227.5 181.8,227.6 182.1,227.8 182.4,227.8 182.6,227.7 182.9,227.8 183.1,227.9 183.4,227.5 183.6,227.4 183.9,227.4 184.1,227.4 184.4,227.5 184.6,227.6 184.9,227.7 185.1,227.6 185.4,227.8 185.6,227.7 185.9,227.5 186.1,227.6 186.4,227.9 186.6,227.8 186.9,227.8 187.1,227.7 187.4,227.7 187.6,227.8 187.9,227.5 188.1,227.8 188.4,227.4 188.6,227.6 188.9,227.9 189.1,227.8 189.4,226.8 189.6,227.6 189.9,227.8 190.2,227.7 190.4,227.8 190.7,227.7 190.9,227.9 191.2,227.6 191.4,227.8 191.7,227.8 191.9,227.8 192.2,227.2 192.4,227.5 192.7,227.6 192.9,227.8 193.2,227.3 193.4,227.8 193.7,227.9 193.9,227.7 194.2,227.8 194.4,227.8 194.7,227.6 194.9,227.3 195.2,227.7 195.4,227.4 195.7,227.4 195.9,227.6 196.2,227.4 196.4,227.4 196.7,227.9 196.9,227.6 197.2,227.8 197.5,227.5 197.7,227.9 198,227.6 198.2,227.4 198.5,227.7 198.7,227.8 199,227.6 199.2,227.1 199.5,227.6 199.7,227.5 200,227.8 200.2,227.7 200.5,227.5 200.7,227.6 201,227.6 201.2,227.9 201.5,227.7 201.7,227.8 202,227.6 202.2,227.9 202.5,227.5 202.7,227.4 203,227.9 203.2,227.9" fill="none" stroke="#444444" stroke-width="0.9" stroke-linejoin="round" />
<polyline points="45.9,227.9 46.2,227.8 46.4,227.6 46.7,227.9 46.9,227.7 47.2,227.8 47.5,227.8 47.7,227.7 48,227.5 48.2,227.6 48.5,227.5 48.7,227.7 49,227.8 49.2,227.1 49.5,227.5 49.7,227.4 50,227.7 50.2,227.8 50.5,227.8 50.7,227.8 51,227.6 51.2,227.7 51.5,227.6 51.7,227.5 52,227.7 52.2,227.6 52.5,227.7 52.7,227.6 53,227.8 53.2,227.8 53.5,227.7 53.7,227.8 54,227.2 54.2,227.0 54.5,227.1 54.7,227.5 55,227.8 55.3,227.6 55.5,227.7 55.8,227.9 56,227.8 56.3,227.7 56.5,227.2 56.8,227.1 57,227.1 57.3,227.5 57.5,227.8 57.8,227.7 58,227.9 58.3,227.7 58.5,227.7 58.8,227.6 59,227.5 59.3,227.7 59.5,227.7 59.8,227.8 60,227.6 60.3,227.7 60.5,227.8 60.8,227.8 61,227.9 61.3,227.5 61.5,227.7 61.8,227.8 62,227.1 62.3,227.5 62.6,227.5 62.8,227.7 63.1,227.8 63.3,227.3 63.6,227.8 63.8,227.6 64.1,227.9 64.3,227.6 64.6,227.8 64.8,227.7 65.1,227.8 65.3,227.3 65.6,227.7 65.8,227.3 66.1,227.2 66.3,227.8 66.6,227.6 66.8,227.4 67.1,227.6 67.3,227.8 67.6,227.8 67.8,227.8 68.1,227.8 68.3,227.9 68.6,227.5 68.8,227.6 69.1,227.8 69.3,227.5 69.6,227.1 69.8,227.9 70.1,227.8 70.4,227.8 70.6,227.4 70.9,227.8 71.1,227.4 71.4,227.8 71.6,227.7 71.9,227.9 72.1,227.8 72.4,227.7 72.6,227.7 72.9,227.6 73.1,227.6 73.4,227.8 73.6,227.9 73.9,227.0 74.1,227.9 74.4,227.2 74.6,227.6 74.9,227.6 75.1,227.7 75.4,227.8 75.6,227.4 75.9,227.9 76.1,227.5 76.4,227.8 76.6,227.6 76.9,227.4 77.1,227.4 77.4,227.8 77.7,227.6 77.9,227.7 78.2,227.3 78.4,227.6 78.7,227.4 78.9,227.9 79.2,227.0 79.4,227.9 79.7,227.2 79.9,227.6 80.2,227.5 80.4,227.8 80.7,227.3 80.9,227.1 81.2,227.5 81.4,227.8 81.7,227.5 81.9,227.6 82.2,227.6 82.4,227.4 82.7,227.3 82.9,227.5 83.2,227.9 83.4,227.8 83.7,227.1 83.9,226.9 84.2,227.7 84.4,227.8 84.7,227.2 85,227.8 85.2,227.5 85.5,227.7 85.7,227.8 86,227.9 86.2,227.7 86.5,227.7 86.7,227.8 87,227.1 87.2,227.6 87.5,227.8 87.7,227.0 88,227.9 88.2,227.1 88.5,227.4 88.7,227.6 89,227.5 89.2,227.9 89.5,227.4 89.7,227.2 90,227.8 90.2,227.8 90.5,227.8 90.7,227.7 91,227.7 91.2,227.9 91.5,227.9 91.7,227.5 92,227.2 92.2,227.7 92.5,227.8 92.8,227.4 93,227.8 93.3,227.8 93.5,227.9 93.8,227.7 94,227.7 94.3,227.7 94.5,227.7 94.8,227.5 95,227.7 95.3,227.6 95.5,227.6 95.8,227.4 96,227.6 96.3,227.8 96.5,227.8 96.8,227.4 97,227.4 97.3,227.3 97.5,226.8 97.8,225.3 98,223.2 98.3,220.6 98.5,218.4 98.8,216.2 99,214.0 99.3,211.4 99.5,208.6 99.8,205.7 100.1,202.8 100.3,200.0 100.6,197.3 100.8,194.2 101.1,190.9 101.3,186.9 101.6,183.5 101.8,179.8 102.1,176.6 102.3,173.7 102.6,171.0 102.8,168.3 103.1,167.4 103.3,166.1 103.6,164.7 103.8,163.5 104.1,163.0 104.3,162.7 104.6,162.9 104.8,162.9 105.1,162.9 105.3,163.4 105.6,164.6 105.8,165.1 106.1,166.0 106.3,166.3 106.6,166.9 106.8,167.7 107.1,168.3 107.3,168.8 107.6,169.2 107.9,169.8 108.1,170.6 108.4,170.7 108.6,171.0 108.9,171.9 109.1,172.2 109.4,172.6 109.6,172.9 109.9,173.2 110.1,173.4 110.4,174.9 110.6,177.5 110.9,182.0 111.1,186.4 111.4,191.1 111.6,196.9 111.9,202.4 112.1,207.0 112.4,211.2 112.6,214.5 112.9,218.5 113.1,220.6 113.4,222.5 113.6,223.8 113.9,225.3 114.1,226.2 114.4,226.5 114.6,226.5 114.9,227.5 115.2,227.6 115.4,227.3 115.7,227.4 115.9,227.8 116.2,227.9 116.4,227.8 116.7,227.5 116.9,227.9 117.2,227.5 117.4,227.4 117.7,227.9 117.9,227.7 118.2,227.6 118.4,227.7 118.7,227.4 118.9,227.7 119.2,227.7 119.4,227.4 119.7,227.8 119.9,227.8 120.2,227.7 120.4,227.6 120.7,227.9 120.9,226.9 121.2,227.5 121.4,227.5 121.7,227.9 121.9,227.5 122.2,227.6 122.5,227.7 122.7,227.8 123,227.4 123.2,227.4 123.5,227.6 123.7,227.7 124,227.9 124.2,227.7 124.5,227.2 124.7,227.2 125,227.7 125.2,227.7 125.5,227.8 125.7,227.5 126,227.8 126.2,227.9 126.5,227.8 126.7,227.3 127,227.3 127.2,227.8 127.5,227.7 127.7,227.5 128,227.6 128.2,227.7 128.5,227.5 128.7,227.8 129,227.6 129.2,227.8 129.5,227.7 129.7,227.8 130,227.7 130.3,227.8 130.5,227.8 130.8,227.9 131,227.6 131.3,227.2 131.5,227.8 131.8,227.4 132,227.8 132.3,227.9 132.5,227.9 132.8,227.9 133,227.7 133.3,227.6 133.5,227.8 133.8,227.5 134,227.6 134.3,227.5 134.5,227.8 134.8,227.9 135,227.2 135.3,227.7 135.5,227.8 135.8,227.5 136,227.6 136.3,227.9 136.5,227.7 136.8,227.9 137,227.4 137.3,227.7 137.6,227.6 137.8,227.6 138.1,227.9 138.3,227.9 138.6,227.7 138.8,227.7 139.1,227.9 139.3,227.7 139.6,227.2 139.8,227.9 140.1,227.7 140.3,227.5 140.6,227.4 140.8,227.8 141.1,227.6 141.3,227.2 141.6,227.7 141.8,227.8 142.1,227.1 142.3,227.8 142.6,227.3 142.8,227.8 143.1,227.8 143.3,227.7 143.6,227.5 143.8,227.7 144.1,227.5 144.3,227.4 144.6,227.9 144.9,227.5 145.1,227.8 145.4,227.7 145.6,227.8 145.9,227.7 146.1,227.2 146.4,227.4 146.6,227.8 146.9,227.7 147.1,227.8 147.4,227.9 147.6,227.7 147.9,227.5 148.1,227.5 148.4,227.5 148.6,227.6 148.9,227.6 149.1,227.8 149.4,227.5 149.6,227.9 149.9,227.7 150.1,227.7 150.4,227.5 150.6,227.9 150.9,227.6 151.1,227.1 151.4,227.6 151.6,227.5 151.9,227.3 152.1,227.3 152.4,227.8 152.7,227.8 152.9,227.5 153.2,227.8 153.4,227.6 153.7,227.3 153.9,227.8 154.2,227.6 154.4,227.8 154.7,227.8 154.9,227.4 155.2,227.7 155.4,227.8 155.7,227.3 155.9,227.6 156.2,227.7 156.4,227.9 156.7,227.8 156.9,227.8 157.2,227.9 157.4,227.8 157.7,227.8 157.9,227.6 158.2,227.3 158.4,227.5 158.7,227.2 158.9,227.5 159.2,227.8 159.4,227.6 159.7,227.9 160,227.4 160.2,227.8 160.5,227.2 160.7,226.8 161,227.8 161.2,227.1 161.5,227.4 161.7,227.7 162,227.9 162.2,227.8 162.5,227.6 162.7,227.4 163,227.9 163.2,227.7 163.5,227.6 163.7,227.8 164,227.5 164.2,227.5 164.5,227.5 164.7,227.7 165,227.7 165.2,227.6 165.5,227.5 165.7,227.7 166,227.3 166.2,227.6 166.5,227.7 166.7,227.5 167,227.8 167.2,227.3 167.5,227.8 167.8,227.8 168,227.3 168.3,227.7 168.5,227.6 168.8,227.6 169,227.9 169.3,227.7 169.5,226.8 169.8,227.7 170,227.7 170.3,227.5 170.5,227.5 170.8,227.8 171,227.8 171.3,227.4 171.5,227.7 171.8,227.7 172,227.8 172.3,227.8 172.5,227.9 172.8,227.9 173,227.8 173.3,227.9 173.5,227.4 173.8,227.8 174,227.9 174.3,227.3 174.5,227.5 174.8,227.4 175.1,227.7 175.3,227.4 175.6,227.2 175.8,227.8 176.1,227.1 176.3,227.4 176.6,227.7 176.8,227.7 177.1,227.6 177.3,227.8 177.6,227.6 177.8,227.4 178.1,227.7 178.3,227.2 178.6,227.3 178.8,227.6 179.1,227.7 179.3,227.7 179.6,227.4 179.8,227.8 180.1,227.3 180.3,227.8 180.6,227.8 180.8,227.6 181.1,227.9 181.3,227.8 181.6,227.9 181.8,227.8 182.1,227.7 182.4,227.9 182.6,227.7 182.9,227.5 183.1,227.7 183.4,227.8 183.6,227.6 183.9,227.6 184.1,227.6 184.4,227.7 184.6,227.6 184.9,227.6 185.1,227.3 185.4,227.6 185.6,227.8 185.9,227.8 186.1,227.8 186.4,227.5 186.6,227.9 186.9,227.9 187.1,227.6 187.4,227.7 187.6,227.5 187.9,227.7 188.1,227.5 188.4,227.6 188.6,227.5 188.9,227.6 189.1,227.9 189.4,227.6 189.6,227.8 189.9,227.6 190.2,227.7 190.4,227.6 190.7,227.4 190.9,226.9 191.2,227.7 191.4,227.9 191.7,227.9 191.9,227.5 192.2,227.7 192.4,227.6 192.7,227.8 192.9,227.6 193.2,227.4 193.4,227.2 193.7,227.9 193.9,227.7 194.2,227.4 194.4,227.7 194.7,227.8 194.9,227.5 195.2,227.3 195.4,227.6 195.7,227.6 195.9,227.5 196.2,227.8 196.4,227.9 196.7,227.5 196.9,227.8 197.2,227.4 197.5,227.6 197.7,227.9 198,227.7 198.2,227.9 198.5,227.7 198.7,227.8 199,227.7 199.2,227.6 199.5,227.4 199.7,227.8 200,227.7 200.2,227.8 200.5,227.7 200.7,227.4 201,227.9 201.2,227.9 201.5,227.7 201.7,227.8 202,227.8 202.2,227.9 202.5,227.4 202.7,227.3 203,227.7 203.2,227.8" fill="none" stroke="#ff3b3b" stroke-width="0.9" stroke-linejoin="round" />
<polyline points="45.9,227.7 46.2,227.7 46.4,227.9 46.7,227.7 46.9,227.8 47.2,227.1 47.5,227.7 47.7,227.4 48,227.9 48.2,227.9 48.5,227.5 48.7,227.8 49,227.5 49.2,227.3 49.5,227.8 49.7,227.6 50,227.8 50.2,227.8 50.5,227.7 50.7,227.4 51,227.8 51.2,227.8 51.5,227.8 51.7,227.9 52,227.5 52.2,227.7 52.5,227.6 52.7,227.8 53,227.8 53.2,227.4 53.5,227.8 53.7,227.8 54,227.7 54.2,227.9 54.5,227.8 54.7,227.3 55,227.7 55.3,227.6 55.5,227.7 55.8,227.9 56,227.7 56.3,227.6 56.5,227.6 56.8,227.2 57,227.7 57.3,227.8 57.5,227.7 57.8,227.6 58,227.9 58.3,227.9 58.5,227.7 58.8,227.4 59,227.9 59.3,227.3 59.5,227.6 59.8,227.8 60,227.6 60.3,227.6 60.5,226.8 60.8,227.6 61,227.8 61.3,227.7 61.5,227.9 61.8,227.5 62,227.7 62.3,227.9 62.6,227.7 62.8,227.8 63.1,227.6 63.3,227.2 63.6,227.8 63.8,227.8 64.1,227.6 64.3,227.8 64.6,227.7 64.8,227.5 65.1,227.4 65.3,227.7 65.6,227.7 65.8,227.5 66.1,227.6 66.3,227.7 66.6,227.5 66.8,227.8 67.1,227.8 67.3,227.2 67.6,227.6 67.8,227.4 68.1,227.5 68.3,227.6 68.6,227.7 68.8,227.6 69.1,227.7 69.3,227.5 69.6,227.4 69.8,227.7 70.1,227.7 70.4,227.8 70.6,227.6 70.9,227.4 71.1,227.4 71.4,227.6 71.6,227.5 71.9,227.3 72.1,227.9 72.4,227.5 72.6,227.5 72.9,227.6 73.1,227.9 73.4,227.4 73.6,227.6 73.9,227.6 74.1,227.7 74.4,227.6 74.6,227.6 74.9,227.6 75.1,227.9 75.4,227.8 75.6,227.5 75.9,227.4 76.1,227.8 76.4,227.8 76.6,227.5 76.9,227.4 77.1,227.3 77.4,227.9 77.7,227.5 77.9,227.5 78.2,227.1 78.4,227.8 78.7,227.8 78.9,227.4 79.2,227.9 79.4,227.8 79.7,227.9 79.9,227.8 80.2,227.5 80.4,227.8 80.7,227.7 80.9,227.7 81.2,227.5 81.4,227.8 81.7,227.4 81.9,227.6 82.2,227.8 82.4,227.9 82.7,227.6 82.9,227.7 83.2,227.9 83.4,227.2 83.7,227.0 83.9,227.5 84.2,227.7 84.4,227.7 84.7,227.8 85,227.7 85.2,227.8 85.5,227.8 85.7,227.8 86,227.6 86.2,227.6 86.5,227.4 86.7,227.6 87,227.7 87.2,227.8 87.5,227.6 87.7,227.7 88,227.9 88.2,227.7 88.5,227.6 88.7,227.8 89,227.5 89.2,227.8 89.5,227.8 89.7,227.5 90,227.3 90.2,227.3 90.5,227.5 90.7,227.6 91,227.9 91.2,227.7 91.5,227.5 91.7,227.3 92,227.8 92.2,227.9 92.5,227.8 92.8,227.6 93,227.8 93.3,227.4 93.5,227.8 93.8,227.4 94,227.8 94.3,227.7 94.5,227.8 94.8,227.2 95,227.5 95.3,227.7 95.5,227.8 95.8,227.8 96,227.9 96.3,227.3 96.5,227.8 96.8,227.5 97,227.4 97.3,227.0 97.5,226.8 97.8,225.2 98,223.0 98.3,220.5 98.5,218.6 98.8,216.1 99,213.7 99.3,210.8 99.5,208.3 99.8,205.9 100.1,203.2 100.3,200.2 100.6,197.0 100.8,194.0 101.1,190.7 101.3,187.0 101.6,183.0 101.8,179.7 102.1,176.7 102.3,173.8 102.6,170.9 102.8,169.1 103.1,167.6 103.3,165.8 103.6,164.6 103.8,163.8 104.1,163.1 104.3,162.8 104.6,162.8 104.8,162.4 105.1,163.6 105.3,164.0 105.6,164.3 105.8,165.1 106.1,165.8 106.3,166.5 106.6,166.8 106.8,167.5 107.1,168.1 107.3,168.6 107.6,169.5 107.9,170.0 108.1,170.6 108.4,171.2 108.6,171.5 108.9,171.7 109.1,172.2 109.4,172.3 109.6,172.7 109.9,173.3 110.1,173.4 110.4,173.7 110.6,174.8 110.9,175.5 111.1,176.9 111.4,177.8 111.6,179.2 111.9,179.8 112.1,180.7 112.4,181.7 112.6,182.7 112.9,183.3 113.1,183.7 113.4,184.3 113.6,185.0 113.9,185.6 114.1,186.4 114.4,186.8 114.6,187.5 114.9,188.1 115.2,188.2 115.4,189.0 115.7,189.5 115.9,189.8 116.2,190.5 116.4,190.8 116.7,191.4 116.9,191.3 117.2,192.2 117.4,192.5 117.7,192.9 117.9,193.3 118.2,193.4 118.4,193.3 118.7,193.6 118.9,193.9 119.2,193.8 119.4,193.6 119.7,194.6 119.9,194.8 120.2,195.4 120.4,196.2 120.7,196.5 120.9,197.0 121.2,197.9 121.4,198.3 121.7,198.8 121.9,200.0 122.2,200.9 122.5,201.5 122.7,202.5 123,203.0 123.2,203.8 123.5,204.9 123.7,205.3 124,206.5 124.2,207.4 124.5,208.1 124.7,208.9 125,209.7 125.2,210.4 125.5,211.5 125.7,211.8 126,212.8 126.2,213.9 126.5,214.7 126.7,214.8 127,215.9 127.2,216.8 127.5,217.5 127.7,218.1 128,218.2 128.2,219.3 128.5,219.4 128.7,219.9 129,220.8 129.2,221.0 129.5,221.7 129.7,222.3 130,222.7 130.3,222.9 130.5,223.5 130.8,223.7 131,223.9 131.3,224.5 131.5,224.8 131.8,224.9 132,224.6 132.3,225.3 132.5,225.6 132.8,225.4 133,225.8 133.3,225.5 133.5,225.8 133.8,226.4 134,226.7 134.3,226.8 134.5,226.3 134.8,226.7 135,226.7 135.3,227.2 135.5,227.1 135.8,226.6 136,227.0 136.3,227.0 136.5,227.5 136.8,227.3 137,227.4 137.3,227.6 137.6,227.4 137.8,227.6 138.1,227.7 138.3,227.6 138.6,227.5 138.8,227.7 139.1,227.7 139.3,227.4 139.6,227.7 139.8,227.5 140.1,227.2 140.3,227.6 140.6,227.0 140.8,227.9 141.1,227.1 141.3,227.6 141.6,227.6 141.8,227.6 142.1,227.8 142.3,227.6 142.6,227.8 142.8,227.8 143.1,227.5 143.3,227.8 143.6,227.5 143.8,227.7 144.1,227.8 144.3,227.6 144.6,227.6 144.9,227.7 145.1,227.6 145.4,227.6 145.6,227.8 145.9,227.9 146.1,227.6 146.4,227.9 146.6,227.8 146.9,227.7 147.1,227.7 147.4,227.7 147.6,227.2 147.9,227.9 148.1,227.6 148.4,227.7 148.6,227.8 148.9,227.1 149.1,227.8 149.4,227.8 149.6,227.1 149.9,227.4 150.1,227.6 150.4,227.7 150.6,227.5 150.9,227.7 151.1,227.7 151.4,227.6 151.6,227.8 151.9,227.7 152.1,227.6 152.4,227.6 152.7,227.5 152.9,227.7 153.2,227.8 153.4,227.7 153.7,227.5 153.9,227.7 154.2,227.8 154.4,227.5 154.7,227.7 154.9,227.6 155.2,227.8 155.4,227.9 155.7,227.9 155.9,227.8 156.2,227.5 156.4,227.9 156.7,227.4 156.9,227.4 157.2,227.7 157.4,227.8 157.7,227.7 157.9,227.0 158.2,227.6 158.4,227.5 158.7,227.7 158.9,227.5 159.2,227.7 159.4,227.8 159.7,227.7 160,227.4 160.2,227.5 160.5,227.5 160.7,227.5 161,227.9 161.2,227.5 161.5,227.8 161.7,227.7 162,227.4 162.2,227.9 162.5,227.8 162.7,227.9 163,227.5 163.2,227.3 163.5,227.8 163.7,227.4 164,227.6 164.2,227.5 164.5,227.7 164.7,227.7 165,227.6 165.2,227.7 165.5,227.9 165.7,227.6 166,227.6 166.2,227.8 166.5,227.5 166.7,227.6 167,227.8 167.2,227.7 167.5,227.8 167.8,227.0 168,227.6 168.3,227.8 168.5,227.9 168.8,227.6 169,227.5 169.3,227.7 169.5,227.6 169.8,227.3 170,227.7 170.3,227.2 170.5,227.7 170.8,227.1 171,227.7 171.3,227.3 171.5,227.8 171.8,227.7 172,227.5 172.3,227.0 172.5,227.2 172.8,227.9 173,227.5 173.3,227.8 173.5,226.9 173.8,227.2 174,227.7 174.3,227.7 174.5,227.7 174.8,227.8 175.1,227.8 175.3,227.3 175.6,227.2 175.8,227.3 176.1,227.8 176.3,227.4 176.6,227.9 176.8,227.7 177.1,227.7 177.3,227.8 177.6,227.8 177.8,226.8 178.1,227.3 178.3,227.9 178.6,227.5 178.8,227.9 179.1,227.7 179.3,227.3 179.6,227.9 179.8,227.4 180.1,227.7 180.3,227.3 180.6,227.6 180.8,227.3 181.1,227.8 181.3,227.8 181.6,227.5 181.8,227.7 182.1,227.7 182.4,227.8 182.6,227.9 182.9,227.9 183.1,227.5 183.4,227.6 183.6,227.7 183.9,227.9 184.1,227.2 184.4,227.6 184.6,227.8 184.9,227.5 185.1,227.3 185.4,227.5 185.6,227.3 185.9,227.9 186.1,227.8 186.4,227.6 186.6,227.7 186.9,227.7 187.1,227.5 187.4,227.5 187.6,227.5 187.9,227.8 188.1,227.4 188.4,227.3 188.6,227.4 188.9,227.9 189.1,227.7 189.4,227.6 189.6,227.5 189.9,227.5 190.2,227.7 190.4,227.7 190.7,227.6 190.9,227.7 191.2,227.4 191.4,227.8 191.7,227.8 191.9,227.2 192.2,227.4 192.4,227.6 192.7,227.4 192.9,227.6 193.2,227.7 193.4,227.4 193.7,227.5 193.9,227.3 194.2,227.8 194.4,227.4 194.7,227.8 194.9,227.8 195.2,227.6 195.4,227.4 195.7,226.8 195.9,227.5 196.2,227.6 196.4,227.7 196.7,227.6 196.9,227.9 197.2,227.5 197.5,227.8 197.7,227.7 198,227.9 198.2,227.6 198.5,227.6 198.7,227.6 199,227.4 199.2,227.8 199.5,227.3 199.7,227.7 200,227.8 200.2,227.4 200.5,227.9 200.7,227.9 201,227.9 201.2,227.4 201.5,227.5 201.7,227.3 202,227.6 202.2,226.8 202.5,227.5 202.7,227.6 203,227.8 203.2,227.8" fill="none" stroke="#3f86ee" stroke-width="0.9" stroke-linejoin="round" />
<polyline points="45.9,227.5 46.2,227.5 46.4,227.5 46.7,227.8 46.9,227.8 47.2,227.8 47.5,227.5 47.7,227.4 48,227.7 48.2,227.8 48.5,227.7 48.7,227.7 49,227.8 49.2,227.3 49.5,227.5 49.7,227.8 50,227.6 50.2,227.5 50.5,227.6 50.7,227.3 51,227.7 51.2,227.8 51.5,227.8 51.7,227.0 52,227.9 52.2,227.5 52.5,227.6 52.7,227.7 53,227.9 53.2,227.4 53.5,227.7 53.7,227.1 54,227.7 54.2,227.1 54.5,227.6 54.7,227.5 55,227.7 55.3,227.9 55.5,227.7 55.8,227.5 56,227.5 56.3,227.4 56.5,227.9 56.8,227.9 57,227.7 57.3,227.3 57.5,227.7 57.8,227.2 58,227.7 58.3,227.9 58.5,227.3 58.8,227.3 59,227.2 59.3,227.7 59.5,227.7 59.8,227.8 60,227.2 60.3,227.6 60.5,227.4 60.8,227.4 61,227.6 61.3,227.7 61.5,227.7 61.8,227.4 62,227.8 62.3,227.6 62.6,227.8 62.8,227.8 63.1,227.8 63.3,227.7 63.6,227.8 63.8,227.7 64.1,227.6 64.3,227.7 64.6,227.4 64.8,227.8 65.1,227.7 65.3,227.8 65.6,227.6 65.8,227.7 66.1,227.8 66.3,227.3 66.6,227.8 66.8,227.7 67.1,227.8 67.3,227.8 67.6,227.5 67.8,227.6 68.1,227.5 68.3,227.6 68.6,227.8 68.8,227.4 69.1,227.6 69.3,227.8 69.6,227.8 69.8,227.6 70.1,227.8 70.4,227.8 70.6,227.8 70.9,227.7 71.1,227.7 71.4,227.9 71.6,227.9 71.9,227.7 72.1,227.9 72.4,227.1 72.6,227.5 72.9,227.7 73.1,227.8 73.4,227.7 73.6,227.7 73.9,227.3 74.1,227.4 74.4,227.3 74.6,227.6 74.9,227.5 75.1,227.6 75.4,227.7 75.6,227.8 75.9,227.7 76.1,227.7 76.4,227.6 76.6,227.5 76.9,227.5 77.1,227.8 77.4,227.9 77.7,227.6 77.9,227.9 78.2,227.4 78.4,227.5 78.7,227.5 78.9,227.7 79.2,227.6 79.4,227.7 79.7,227.3 79.9,227.8 80.2,227.6 80.4,227.5 80.7,227.4 80.9,227.8 81.2,227.4 81.4,227.8 81.7,227.4 81.9,227.3 82.2,227.7 82.4,227.6 82.7,227.6 82.9,227.6 83.2,227.8 83.4,227.0 83.7,227.5 83.9,227.7 84.2,227.7 84.4,227.3 84.7,227.5 85,227.8 85.2,227.8 85.5,227.2 85.7,227.8 86,227.7 86.2,227.6 86.5,227.7 86.7,227.8 87,227.8 87.2,227.9 87.5,227.7 87.7,227.8 88,227.8 88.2,227.8 88.5,227.8 88.7,227.8 89,227.9 89.2,227.5 89.5,227.4 89.7,227.7 90,227.6 90.2,227.5 90.5,227.7 90.7,227.7 91,227.5 91.2,227.9 91.5,227.8 91.7,227.5 92,227.4 92.2,227.7 92.5,227.8 92.8,227.4 93,227.5 93.3,227.5 93.5,227.6 93.8,227.7 94,227.8 94.3,227.8 94.5,227.8 94.8,227.6 95,227.8 95.3,227.6 95.5,227.5 95.8,227.7 96,227.8 96.3,227.9 96.5,227.8 96.8,227.5 97,227.3 97.3,227.2 97.5,226.2 97.8,225.3 98,222.9 98.3,220.5 98.5,218.1 98.8,216.3 99,213.8 99.3,211.0 99.5,208.7 99.8,205.9 100.1,203.2 100.3,200.3 100.6,197.3 100.8,194.0 101.1,191.0 101.3,186.8 101.6,183.4 101.8,179.9 102.1,176.6 102.3,173.7 102.6,170.8 102.8,168.9 103.1,167.4 103.3,166.1 103.6,164.7 103.8,163.7 104.1,163.0 104.3,162.5 104.6,162.8 104.8,162.9 105.1,163.1 105.3,163.7 105.6,164.4 105.8,164.8 106.1,165.7 106.3,166.1 106.6,166.6 106.8,167.6 107.1,167.6 107.3,168.5 107.6,169.2 107.9,170.1 108.1,170.6 108.4,170.9 108.6,171.1 108.9,171.7 109.1,172.0 109.4,172.6 109.6,172.7 109.9,172.7 110.1,173.7 110.4,173.5 110.6,174.8 110.9,175.7 111.1,176.4 111.4,177.6 111.6,179.2 111.9,179.8 112.1,181.2 112.4,181.8 112.6,182.6 112.9,182.8 113.1,183.5 113.4,184.5 113.6,185.1 113.9,185.7 114.1,186.5 114.4,186.9 114.6,187.0 114.9,187.7 115.2,188.5 115.4,188.8 115.7,189.6 115.9,190.1 116.2,190.2 116.4,191.0 116.7,191.4 116.9,191.7 117.2,192.3 117.4,192.1 117.7,192.7 117.9,193.3 118.2,193.5 118.4,193.9 118.7,194.5 118.9,194.9 119.2,195.1 119.4,195.8 119.7,195.3 119.9,196.2 120.2,196.7 120.4,196.7 120.7,197.2 120.9,196.9 121.2,197.6 121.4,198.3 121.7,198.4 121.9,198.9 122.2,199.1 122.5,199.1 122.7,199.8 123,199.9 123.2,200.4 123.5,200.4 123.7,200.6 124,201.1 124.2,201.5 124.5,201.9 124.7,201.9 125,202.1 125.2,202.8 125.5,203.0 125.7,203.3 126,203.8 126.2,204.1 126.5,204.8 126.7,205.2 127,205.3 127.2,206.1 127.5,206.5 127.7,206.9 128,207.4 128.2,207.7 128.5,208.2 128.7,208.4 129,209.0 129.2,209.3 129.5,209.7 129.7,210.0 130,210.4 130.3,210.6 130.5,211.0 130.8,211.4 131,211.7 131.3,211.9 131.5,212.0 131.8,212.3 132,212.8 132.3,213.2 132.5,213.4 132.8,213.6 133,213.6 133.3,214.3 133.5,214.4 133.8,214.1 134,215.2 134.3,214.7 134.5,215.5 134.8,215.6 135,215.7 135.3,216.4 135.5,216.3 135.8,216.5 136,216.8 136.3,217.1 136.5,217.4 136.8,217.6 137,217.6 137.3,217.5 137.6,218.2 137.8,218.4 138.1,218.5 138.3,218.6 138.6,218.7 138.8,219.1 139.1,218.7 139.3,219.4 139.6,219.5 139.8,219.4 140.1,220.0 140.3,220.2 140.6,220.2 140.8,220.4 141.1,220.4 141.3,220.8 141.6,220.6 141.8,220.3 142.1,221.0 142.3,221.0 142.6,221.5 142.8,221.4 143.1,221.6 143.3,221.6 143.6,221.7 143.8,221.5 144.1,222.0 144.3,221.9 144.6,221.9 144.9,221.8 145.1,222.5 145.4,222.1 145.6,222.3 145.9,222.9 146.1,222.9 146.4,223.1 146.6,222.3 146.9,222.9 147.1,222.9 147.4,223.5 147.6,223.6 147.9,223.6 148.1,223.4 148.4,222.7 148.6,223.7 148.9,223.8 149.1,223.8 149.4,224.1 149.6,223.9 149.9,224.0 150.1,224.1 150.4,224.3 150.6,224.3 150.9,223.8 151.1,224.3 151.4,224.3 151.6,224.4 151.9,224.5 152.1,224.8 152.4,224.5 152.7,224.6 152.9,224.7 153.2,225.1 153.4,225.2 153.7,224.8 153.9,224.7 154.2,224.7 154.4,225.3 154.7,225.1 154.9,225.3 155.2,225.3 155.4,224.8 155.7,225.6 155.9,225.6 156.2,225.6 156.4,225.3 156.7,225.7 156.9,225.6 157.2,225.4 157.4,225.7 157.7,225.9 157.9,225.9 158.2,226.0 158.4,225.5 158.7,225.6 158.9,226.0 159.2,226.1 159.4,226.1 159.7,225.6 160,226.3 160.2,226.2 160.5,226.3 160.7,226.1 161,226.0 161.2,226.2 161.5,226.4 161.7,226.0 162,226.4 162.2,225.9 162.5,226.5 162.7,226.6 163,226.4 163.2,226.3 163.5,226.5 163.7,226.6 164,226.7 164.2,226.5 164.5,226.0 164.7,226.4 165,226.7 165.2,226.5 165.5,226.7 165.7,226.7 166,226.3 166.2,226.6 166.5,226.7 166.7,226.8 167,226.7 167.2,226.7 167.5,226.9 167.8,227.0 168,227.0 168.3,226.6 168.5,227.0 168.8,226.7 169,226.6 169.3,227.0 169.5,226.9 169.8,226.8 170,226.9 170.3,226.8 170.5,226.7 170.8,226.5 171,226.6 171.3,227.2 171.5,226.3 171.8,227.0 172,226.7 172.3,227.0 172.5,227.1 172.8,227.1 173,227.1 173.3,226.8 173.5,227.1 173.8,227.3 174,227.0 174.3,227.1 174.5,227.3 174.8,227.4 175.1,227.1 175.3,226.9 175.6,227.3 175.8,227.0 176.1,227.0 176.3,227.1 176.6,227.4 176.8,227.4 177.1,227.1 177.3,227.5 177.6,227.4 177.8,226.9 178.1,227.4 178.3,227.4 178.6,227.4 178.8,227.3 179.1,227.1 179.3,227.6 179.6,227.5 179.8,227.5 180.1,227.1 180.3,227.6 180.6,227.4 180.8,227.0 181.1,227.4 181.3,227.2 181.6,227.2 181.8,227.4 182.1,227.3 182.4,227.1 182.6,227.0 182.9,227.5 183.1,227.1 183.4,227.4 183.6,227.4 183.9,227.4 184.1,226.8 184.4,227.6 184.6,227.4 184.9,227.2 185.1,227.4 185.4,227.4 185.6,227.5 185.9,227.5 186.1,227.6 186.4,227.6 186.6,227.5 186.9,227.6 187.1,227.3 187.4,227.6 187.6,227.7 187.9,227.5 188.1,227.2 188.4,227.7 188.6,227.7 188.9,227.5 189.1,227.4 189.4,227.7 189.6,227.5 189.9,227.7 190.2,227.5 190.4,227.7 190.7,227.4 190.9,227.4 191.2,227.0 191.4,227.5 191.7,227.8 191.9,227.7 192.2,227.7 192.4,227.7 192.7,227.7 192.9,227.5 193.2,227.4 193.4,227.8 193.7,227.6 193.9,227.4 194.2,227.8 194.4,227.7 194.7,227.8 194.9,227.6 195.2,227.7 195.4,227.5 195.7,227.3 195.9,227.1 196.2,227.7 196.4,227.5 196.7,227.7 196.9,227.7 197.2,227.7 197.5,227.8 197.7,227.6 198,227.8 198.2,227.7 198.5,227.4 198.7,227.8 199,227.8 199.2,227.8 199.5,227.8 199.7,227.6 200,227.6 200.2,227.8 200.5,227.4 200.7,227.5 201,227.7 201.2,227.3 201.5,227.8 201.7,227.6 202,227.8 202.2,227.4 202.5,227.7 202.7,227.3 203,227.4 203.2,227.8" fill="none" stroke="#3fb46e" stroke-width="0.9" stroke-linejoin="round" />
<polyline points="45.9,227.7 46.2,227.4 46.4,227.6 46.7,227.8 46.9,227.5 47.2,227.4 47.5,227.9 47.7,227.4 48,227.8 48.2,227.7 48.5,227.2 48.7,227.5 49,227.6 49.2,227.7 49.5,227.7 49.7,227.8 50,227.8 50.2,227.8 50.5,227.6 50.7,227.8 51,227.7 51.2,227.9 51.5,227.8 51.7,227.7 52,227.2 52.2,227.8 52.5,227.7 52.7,227.0 53,227.9 53.2,227.7 53.5,227.3 53.7,227.4 54,227.7 54.2,227.4 54.5,227.2 54.7,227.9 55,227.9 55.3,227.3 55.5,227.4 55.8,227.5 56,227.1 56.3,227.5 56.5,227.8 56.8,227.6 57,227.5 57.3,227.8 57.5,227.7 57.8,227.9 58,227.5 58.3,227.7 58.5,227.6 58.8,227.6 59,227.6 59.3,227.6 59.5,227.7 59.8,227.8 60,227.8 60.3,227.7 60.5,227.8 60.8,227.6 61,227.6 61.3,227.3 61.5,227.3 61.8,227.8 62,227.0 62.3,227.4 62.6,227.8 62.8,227.8 63.1,227.7 63.3,227.7 63.6,227.7 63.8,227.9 64.1,227.8 64.3,226.9 64.6,227.7 64.8,227.2 65.1,227.8 65.3,227.8 65.6,227.7 65.8,227.6 66.1,227.6 66.3,227.6 66.6,227.8 66.8,227.8 67.1,227.7 67.3,227.6 67.6,227.6 67.8,227.8 68.1,227.7 68.3,227.6 68.6,227.9 68.8,227.6 69.1,227.6 69.3,227.0 69.6,227.3 69.8,227.5 70.1,227.6 70.4,227.9 70.6,227.9 70.9,227.8 71.1,227.6 71.4,227.4 71.6,227.7 71.9,227.6 72.1,227.7 72.4,227.8 72.6,227.9 72.9,227.8 73.1,227.9 73.4,227.8 73.6,227.8 73.9,227.8 74.1,227.4 74.4,227.7 74.6,227.7 74.9,227.7 75.1,227.6 75.4,227.7 75.6,227.7 75.9,227.1 76.1,227.4 76.4,227.8 76.6,227.4 76.9,227.4 77.1,227.1 77.4,227.8 77.7,227.6 77.9,227.8 78.2,227.6 78.4,227.6 78.7,227.8 78.9,227.9 79.2,227.7 79.4,227.8 79.7,227.8 79.9,227.5 80.2,227.9 80.4,227.8 80.7,227.7 80.9,227.9 81.2,227.7 81.4,227.2 81.7,227.5 81.9,227.4 82.2,227.2 82.4,227.6 82.7,227.1 82.9,227.0 83.2,227.5 83.4,227.6 83.7,227.8 83.9,227.7 84.2,227.1 84.4,227.7 84.7,227.7 85,227.8 85.2,227.5 85.5,227.8 85.7,227.6 86,227.0 86.2,227.6 86.5,227.8 86.7,227.4 87,227.3 87.2,227.2 87.5,227.7 87.7,227.6 88,227.4 88.2,227.7 88.5,227.8 88.7,227.5 89,227.7 89.2,227.8 89.5,227.6 89.7,227.3 90,227.9 90.2,227.6 90.5,227.8 90.7,227.5 91,227.5 91.2,227.5 91.5,227.8 91.7,227.8 92,227.4 92.2,227.4 92.5,227.9 92.8,227.2 93,227.7 93.3,227.7 93.5,227.6 93.8,227.6 94,227.9 94.3,227.5 94.5,227.8 94.8,227.9 95,227.5 95.3,227.5 95.5,227.9 95.8,227.7 96,227.9 96.3,227.8 96.5,227.7 96.8,226.9 97,227.0 97.3,227.1 97.5,226.7 97.8,225.1 98,222.9 98.3,220.7 98.5,218.7 98.8,216.3 99,213.8 99.3,211.2 99.5,208.6 99.8,206.0 100.1,203.0 100.3,200.2 100.6,197.3 100.8,194.2 101.1,190.5 101.3,187.3 101.6,183.1 101.8,180.0 102.1,176.6 102.3,173.7 102.6,171.1 102.8,169.1 103.1,167.5 103.3,166.1 103.6,164.8 103.8,163.3 104.1,162.5 104.3,162.7 104.6,162.3 104.8,162.8 105.1,163.6 105.3,163.9 105.6,164.5 105.8,165.1 106.1,165.9 106.3,166.4 106.6,166.9 106.8,167.6 107.1,168.2 107.3,168.8 107.6,169.4 107.9,169.9 108.1,170.6 108.4,170.9 108.6,171.5 108.9,171.8 109.1,172.3 109.4,172.3 109.6,172.5 109.9,173.0 110.1,173.5 110.4,174.2 110.6,174.8 110.9,175.6 111.1,176.8 111.4,177.9 111.6,178.8 111.9,180.1 112.1,181.2 112.4,181.8 112.6,182.5 112.9,183.2 113.1,184.0 113.4,184.6 113.6,185.1 113.9,185.9 114.1,186.1 114.4,186.9 114.6,187.6 114.9,187.7 115.2,188.2 115.4,188.7 115.7,189.4 115.9,189.9 116.2,190.3 116.4,190.7 116.7,191.1 116.9,191.7 117.2,192.3 117.4,192.6 117.7,192.7 117.9,193.1 118.2,193.7 118.4,194.0 118.7,194.5 118.9,194.6 119.2,195.2 119.4,195.6 119.7,196.1 119.9,196.4 120.2,196.8 120.4,196.8 120.7,197.1 120.9,197.4 121.2,197.7 121.4,198.3 121.7,198.4 121.9,198.9 122.2,199.2 122.5,199.5 122.7,199.4 123,199.8 123.2,200.2 123.5,200.2 123.7,200.8 124,200.9 124.2,201.4 124.5,201.7 124.7,202.2 125,202.1 125.2,202.7 125.5,203.0 125.7,202.4 126,203.1 126.2,203.8 126.5,204.2 126.7,204.3 127,204.5 127.2,204.4 127.5,205.1 127.7,204.7 128,205.7 128.2,205.7 128.5,206.2 128.7,206.5 129,206.6 129.2,206.9 129.5,207.3 129.7,207.6 130,207.5 130.3,208.0 130.5,208.0 130.8,208.2 131,208.6 131.3,208.7 131.5,208.9 131.8,209.1 132,209.2 132.3,209.6 132.5,209.2 132.8,209.5 133,209.9 133.3,209.9 133.5,210.2 133.8,210.5 134,210.9 134.3,211.1 134.5,211.4 134.8,211.7 135,212.0 135.3,212.1 135.5,212.3 135.8,212.6 136,212.9 136.3,212.8 136.5,213.2 136.8,213.1 137,213.8 137.3,214.0 137.6,214.1 137.8,214.1 138.1,214.5 138.3,214.6 138.6,215.0 138.8,215.2 139.1,215.1 139.3,215.7 139.6,215.3 139.8,215.8 140.1,216.3 140.3,216.4 140.6,216.3 140.8,216.6 141.1,216.9 141.3,217.2 141.6,217.3 141.8,217.5 142.1,217.2 142.3,217.8 142.6,218.0 142.8,218.1 143.1,217.9 143.3,218.2 143.6,218.5 143.8,217.6 144.1,218.8 144.3,218.9 144.6,218.8 144.9,219.2 145.1,219.4 145.4,219.5 145.6,219.6 145.9,219.7 146.1,219.8 146.4,220.0 146.6,220.3 146.9,220.2 147.1,220.1 147.4,220.1 147.6,220.6 147.9,220.6 148.1,221.0 148.4,220.7 148.6,220.9 148.9,221.0 149.1,221.0 149.4,221.2 149.6,221.4 149.9,221.7 150.1,221.4 150.4,221.4 150.6,221.9 150.9,222.0 151.1,222.0 151.4,222.0 151.6,222.4 151.9,221.9 152.1,222.5 152.4,222.6 152.7,222.3 152.9,222.7 153.2,222.8 153.4,222.9 153.7,222.6 153.9,222.9 154.2,223.1 154.4,223.1 154.7,222.9 154.9,223.2 155.2,223.4 155.4,223.4 155.7,223.6 155.9,223.1 156.2,223.1 156.4,223.7 156.7,223.6 156.9,223.8 157.2,223.9 157.4,224.0 157.7,223.5 157.9,224.1 158.2,224.0 158.4,224.2 158.7,224.1 158.9,224.1 159.2,224.0 159.4,224.2 159.7,224.4 160,223.9 160.2,224.6 160.5,224.7 160.7,224.7 161,224.5 161.2,224.8 161.5,224.6 161.7,224.7 162,224.9 162.2,224.5 162.5,225.0 162.7,224.9 163,224.4 163.2,225.0 163.5,225.3 163.7,225.0 164,224.6 164.2,225.0 164.5,225.2 164.7,225.4 165,225.4 165.2,225.4 165.5,225.1 165.7,225.4 166,225.4 166.2,225.4 166.5,225.4 166.7,225.5 167,225.5 167.2,225.8 167.5,225.7 167.8,225.4 168,225.9 168.3,225.5 168.5,225.7 168.8,225.7 169,225.8 169.3,225.9 169.5,225.5 169.8,225.7 170,225.7 170.3,226.1 170.5,226.2 170.8,226.0 171,225.7 171.3,226.1 171.5,226.3 171.8,225.8 172,226.3 172.3,226.3 172.5,225.8 172.8,226.2 173,226.2 173.3,226.1 173.5,226.2 173.8,226.5 174,226.0 174.3,226.1 174.5,226.2 174.8,226.1 175.1,226.1 175.3,226.5 175.6,226.1 175.8,226.5 176.1,226.5 176.3,226.5 176.6,226.6 176.8,226.3 177.1,226.7 177.3,226.2 177.6,226.3 177.8,226.7 178.1,226.6 178.3,226.8 178.6,226.3 178.8,226.6 179.1,226.8 179.3,226.4 179.6,226.7 179.8,226.5 180.1,226.6 180.3,226.7 180.6,226.8 180.8,226.9 181.1,226.4 181.3,226.9 181.6,226.3 181.8,226.8 182.1,226.8 182.4,226.8 182.6,226.9 182.9,227.0 183.1,227.1 183.4,227.0 183.6,227.1 183.9,227.2 184.1,226.8 184.4,226.8 184.6,227.0 184.9,227.1 185.1,226.7 185.4,226.8 185.6,226.9 185.9,226.9 186.1,226.7 186.4,226.9 186.6,227.0 186.9,226.7 187.1,227.1 187.4,227.2 187.6,227.2 187.9,227.2 188.1,227.2 188.4,227.3 188.6,227.3 188.9,227.4 189.1,227.1 189.4,226.6 189.6,227.2 189.9,226.7 190.2,227.1 190.4,227.1 190.7,227.4 190.9,227.4 191.2,227.2 191.4,227.4 191.7,227.4 191.9,227.4 192.2,226.7 192.4,227.5 192.7,227.2 192.9,227.1 193.2,227.5 193.4,227.4 193.7,227.5 193.9,227.4 194.2,227.1 194.4,227.5 194.7,227.3 194.9,227.3 195.2,227.2 195.4,227.5 195.7,227.3 195.9,227.3 196.2,227.5 196.4,227.1 196.7,227.1 196.9,227.4 197.2,227.5 197.5,227.5 197.7,227.3 198,227.6 198.2,227.1 198.5,227.6 198.7,227.6 199,227.5 199.2,227.4 199.5,227.4 199.7,227.6 200,227.5 200.2,227.5 200.5,227.6 200.7,227.1 201,227.4 201.2,227.4 201.5,227.4 201.7,227.6 202,227.5 202.2,227.0 202.5,227.6 202.7,227.4 203,227.4 203.2,227.3" fill="none" stroke="#c38ef0" stroke-width="0.9" stroke-linejoin="round" />
<polyline points="45.9,227.7 46.2,227.8 46.4,227.1 46.7,227.9 46.9,227.8 47.2,226.8 47.5,227.9 47.7,227.5 48,227.6 48.2,227.9 48.5,227.6 48.7,227.6 49,227.2 49.2,227.7 49.5,227.8 49.7,227.7 50,227.6 50.2,227.5 50.5,227.8 50.7,227.5 51,227.6 51.2,227.7 51.5,227.4 51.7,227.7 52,227.5 52.2,227.6 52.5,227.6 52.7,227.6 53,227.9 53.2,227.8 53.5,227.3 53.7,227.6 54,227.7 54.2,227.8 54.5,227.8 54.7,227.5 55,227.7 55.3,227.4 55.5,227.7 55.8,227.8 56,227.7 56.3,227.5 56.5,227.6 56.8,227.8 57,227.8 57.3,227.8 57.5,227.7 57.8,227.8 58,227.8 58.3,227.5 58.5,227.9 58.8,227.7 59,227.5 59.3,227.6 59.5,227.8 59.8,227.1 60,227.5 60.3,227.5 60.5,227.6 60.8,227.8 61,227.9 61.3,227.5 61.5,227.8 61.8,227.7 62,227.9 62.3,227.7 62.6,227.7 62.8,227.7 63.1,227.8 63.3,227.4 63.6,227.8 63.8,227.9 64.1,227.5 64.3,227.6 64.6,227.8 64.8,227.8 65.1,227.3 65.3,227.7 65.6,227.7 65.8,227.9 66.1,227.2 66.3,227.5 66.6,227.8 66.8,227.8 67.1,227.7 67.3,227.5 67.6,227.8 67.8,227.8 68.1,227.6 68.3,227.8 68.6,227.7 68.8,227.6 69.1,227.5 69.3,227.5 69.6,227.5 69.8,227.6 70.1,227.7 70.4,227.8 70.6,227.6 70.9,227.6 71.1,227.8 71.4,227.7 71.6,227.5 71.9,227.4 72.1,227.7 72.4,227.5 72.6,227.5 72.9,227.3 73.1,227.4 73.4,227.8 73.6,227.7 73.9,227.7 74.1,227.9 74.4,226.8 74.6,227.1 74.9,227.7 75.1,227.0 75.4,227.4 75.6,227.6 75.9,227.8 76.1,227.8 76.4,227.7 76.6,227.7 76.9,227.3 77.1,227.8 77.4,227.6 77.7,227.3 77.9,227.9 78.2,227.8 78.4,227.5 78.7,227.2 78.9,227.9 79.2,227.9 79.4,227.4 79.7,227.9 79.9,227.3 80.2,227.6 80.4,227.6 80.7,227.3 80.9,227.5 81.2,227.4 81.4,227.9 81.7,227.8 81.9,227.2 82.2,227.8 82.4,227.5 82.7,227.6 82.9,227.6 83.2,227.6 83.4,227.7 83.7,227.5 83.9,227.4 84.2,227.4 84.4,227.8 84.7,227.7 85,227.3 85.2,227.2 85.5,227.5 85.7,227.6 86,227.1 86.2,227.8 86.5,227.4 86.7,227.6 87,227.6 87.2,227.3 87.5,227.8 87.7,227.4 88,227.4 88.2,227.8 88.5,227.8 88.7,227.2 89,227.5 89.2,227.8 89.5,227.4 89.7,227.8 90,227.9 90.2,227.9 90.5,227.7 90.7,227.6 91,227.5 91.2,227.8 91.5,227.6 91.7,227.8 92,227.9 92.2,227.9 92.5,227.5 92.8,227.5 93,227.8 93.3,227.6 93.5,227.7 93.8,227.9 94,227.7 94.3,227.7 94.5,227.9 94.8,227.5 95,227.6 95.3,227.9 95.5,227.8 95.8,227.8 96,227.7 96.3,227.3 96.5,227.7 96.8,227.4 97,227.1 97.3,226.4 97.5,226.5 97.8,225.2 98,223.0 98.3,220.6 98.5,218.6 98.8,216.1 99,214.0 99.3,210.9 99.5,208.5 99.8,205.9 100.1,203.0 100.3,200.4 100.6,197.1 100.8,194.1 101.1,190.8 101.3,187.1 101.6,183.1 101.8,179.8 102.1,176.5 102.3,173.5 102.6,170.9 102.8,169.0 103.1,167.1 103.3,166.1 103.6,164.7 103.8,163.6 104.1,162.8 104.3,162.9 104.6,162.2 104.8,163.1 105.1,163.1 105.3,163.3 105.6,164.7 105.8,165.1 106.1,165.8 106.3,166.5 106.6,166.8 106.8,167.3 107.1,168.1 107.3,168.4 107.6,169.3 107.9,169.8 108.1,170.7 108.4,170.4 108.6,171.5 108.9,171.8 109.1,171.4 109.4,172.5 109.6,172.5 109.9,173.1 110.1,173.4 110.4,174.2 110.6,174.8 110.9,175.8 111.1,176.8 111.4,177.5 111.6,179.1 111.9,179.6 112.1,181.2 112.4,182.0 112.6,182.6 112.9,183.1 113.1,183.5 113.4,183.9 113.6,185.3 113.9,185.5 114.1,186.2 114.4,186.9 114.6,187.2 114.9,187.9 115.2,188.1 115.4,188.8 115.7,189.4 115.9,190.1 116.2,190.4 116.4,190.6 116.7,191.3 116.9,191.7 117.2,191.8 117.4,192.5 117.7,192.7 117.9,193.2 118.2,193.2 118.4,194.2 118.7,194.2 118.9,194.9 119.2,195.0 119.4,195.5 119.7,196.0 119.9,196.2 120.2,196.6 120.4,196.8 120.7,197.0 120.9,197.5 121.2,197.4 121.4,198.3 121.7,198.5 121.9,198.7 122.2,198.7 122.5,199.5 122.7,199.9 123,199.5 123.2,200.1 123.5,200.4 123.7,200.6 124,201.3 124.2,201.0 124.5,201.8 124.7,201.8 125,202.4 125.2,202.8 125.5,203.0 125.7,202.8 126,203.6 126.2,203.7 126.5,203.1 126.7,204.3 127,204.8 127.2,204.8 127.5,205.2 127.7,205.5 128,205.8 128.2,205.9 128.5,206.3 128.7,206.6 129,206.5 129.2,207.1 129.5,207.3 129.7,207.1 130,207.5 130.3,208.0 130.5,208.2 130.8,208.5 131,208.4 131.3,208.9 131.5,208.8 131.8,209.3 132,209.1 132.3,209.5 132.5,209.6 132.8,209.4 133,209.8 133.3,210.1 133.5,210.0 133.8,210.5 134,210.2 134.3,210.8 134.5,210.5 134.8,210.9 135,211.0 135.3,211.1 135.5,211.4 135.8,211.5 136,211.3 136.3,211.8 136.5,211.7 136.8,212.2 137,212.5 137.3,212.9 137.6,213.0 137.8,213.2 138.1,212.5 138.3,213.5 138.6,213.4 138.8,213.7 139.1,213.8 139.3,214.0 139.6,214.6 139.8,214.2 140.1,214.4 140.3,214.8 140.6,215.2 140.8,215.4 141.1,215.4 141.3,215.4 141.6,215.9 141.8,215.7 142.1,215.5 142.3,216.3 142.6,216.5 142.8,216.6 143.1,216.5 143.3,216.9 143.6,216.9 143.8,216.7 144.1,217.4 144.3,217.5 144.6,217.5 144.9,217.7 145.1,217.9 145.4,217.8 145.6,217.2 145.9,218.3 146.1,218.3 146.4,218.7 146.6,218.5 146.9,218.8 147.1,218.6 147.4,219.1 147.6,219.2 147.9,219.1 148.1,219.4 148.4,219.4 148.6,219.6 148.9,219.8 149.1,219.7 149.4,219.6 149.6,220.1 149.9,220.2 150.1,219.8 150.4,220.3 150.6,219.9 150.9,220.0 151.1,220.7 151.4,220.5 151.6,220.9 151.9,220.7 152.1,221.1 152.4,220.8 152.7,221.2 152.9,221.4 153.2,221.2 153.4,221.3 153.7,221.5 153.9,221.6 154.2,221.6 154.4,221.9 154.7,221.6 154.9,221.8 155.2,221.1 155.4,222.1 155.7,222.0 155.9,221.8 156.2,222.1 156.4,222.4 156.7,222.4 156.9,222.2 157.2,222.6 157.4,222.4 157.7,222.7 157.9,222.7 158.2,222.9 158.4,222.6 158.7,223.1 158.9,222.5 159.2,223.2 159.4,223.2 159.7,223.3 160,223.1 160.2,223.5 160.5,223.5 160.7,223.0 161,223.3 161.2,223.7 161.5,223.6 161.7,223.3 162,223.5 162.2,223.6 162.5,223.7 162.7,224.1 163,223.8 163.2,223.9 163.5,223.7 163.7,224.3 164,224.3 164.2,224.1 164.5,224.0 164.7,224.1 165,224.5 165.2,224.4 165.5,224.4 165.7,224.6 166,224.7 166.2,224.9 166.5,225.0 166.7,224.9 167,224.9 167.2,225.1 167.5,225.1 167.8,225.1 168,225.1 168.3,225.0 168.5,225.2 168.8,225.3 169,225.1 169.3,225.3 169.5,224.8 169.8,224.8 170,225.2 170.3,225.4 170.5,225.5 170.8,225.7 171,225.1 171.3,225.3 171.5,225.5 171.8,225.5 172,225.0 172.3,225.9 172.5,225.4 172.8,225.8 173,225.6 173.3,225.6 173.5,225.6 173.8,225.6 174,226.0 174.3,225.5 174.5,225.8 174.8,225.9 175.1,225.5 175.3,225.7 175.6,225.9 175.8,226.0 176.1,225.6 176.3,226.1 176.6,226.3 176.8,226.0 177.1,225.6 177.3,226.3 177.6,226.3 177.8,225.9 178.1,226.1 178.3,226.4 178.6,226.3 178.8,226.4 179.1,226.3 179.3,226.4 179.6,226.3 179.8,226.3 180.1,226.6 180.3,226.3 180.6,226.6 180.8,226.7 181.1,226.3 181.3,226.5 181.6,226.0 181.8,226.3 182.1,226.5 182.4,226.7 182.6,226.5 182.9,226.6 183.1,226.2 183.4,226.0 183.6,226.4 183.9,226.5 184.1,226.7 184.4,226.8 184.6,226.8 184.9,226.9 185.1,226.8 185.4,226.5 185.6,226.7 185.9,226.9 186.1,226.8 186.4,226.8 186.6,227.0 186.9,226.5 187.1,226.3 187.4,226.9 187.6,226.9 187.9,226.7 188.1,227.0 188.4,226.9 188.6,226.8 188.9,226.9 189.1,226.9 189.4,226.6 189.6,227.1 189.9,226.9 190.2,227.0 190.4,226.9 190.7,226.9 190.9,226.8 191.2,227.0 191.4,226.6 191.7,226.9 191.9,227.0 192.2,226.8 192.4,226.8 192.7,226.9 192.9,227.2 193.2,227.2 193.4,226.8 193.7,227.1 193.9,227.0 194.2,227.3 194.4,227.1 194.7,227.3 194.9,227.2 195.2,227.2 195.4,227.2 195.7,227.4 195.9,227.3 196.2,227.3 196.4,227.1 196.7,226.9 196.9,227.3 197.2,227.2 197.5,227.4 197.7,227.4 198,226.9 198.2,226.9 198.5,227.4 198.7,227.4 199,227.0 199.2,227.3 199.5,226.8 199.7,227.3 200,227.1 200.2,227.4 200.5,226.5 200.7,227.3 201,227.2 201.2,227.3 201.5,227.5 201.7,227.1 202,227.1 202.2,227.0 202.5,227.0 202.7,227.2 203,227.5 203.2,227.0" fill="none" stroke="#e2a526" stroke-width="0.9" stroke-linejoin="round" />
<polyline points="46.2,228.0 46.5,227.4 46.7,228.2 47,228.2 47.2,228.0 47.5,228.1 47.8,228.3 48,227.8 48.3,228.1 48.5,228.0 48.8,227.9 49,228.2 49.3,227.9 49.5,228.0 49.8,227.7 50,228.1 50.3,227.9 50.5,227.6 50.8,228.2 51,227.7 51.3,228.2 51.5,227.9 51.8,228.1 52,228.3 52.3,228.0 52.5,228.3 52.8,228.0 53,227.9 53.3,227.9 53.5,227.7 53.8,228.2 54,228.3 54.3,228.2 54.5,228.2 54.8,228.1 55,228.1 55.3,228.1 55.6,228.1 55.8,228.0 56.1,228.1 56.3,228.2 56.6,228.1 56.8,228.3 57.1,228.1 57.3,228.3 57.6,228.2 57.8,228.2 58.1,228.2 58.3,227.9 58.6,227.7 58.8,228.1 59.1,228.2 59.3,228.0 59.6,228.1 59.8,227.9 60.1,228.0 60.3,228.1 60.6,227.8 60.8,228.2 61.1,228.1 61.3,227.9 61.6,228.2 61.8,228.2 62.1,228.1 62.3,228.1 62.6,228.1 62.9,228.2 63.1,228.0 63.4,228.2 63.6,228.1 63.9,228.3 64.1,228.2 64.4,228.2 64.6,228.0 64.9,228.2 65.1,228.2 65.4,227.5 65.6,228.1 65.9,227.8 66.1,228.0 66.4,228.2 66.6,228.3 66.9,227.5 67.1,227.6 67.4,228.0 67.6,227.8 67.9,228.1 68.1,227.9 68.4,227.2 68.6,228.1 68.9,228.3 69.1,228.2 69.4,228.2 69.6,228.3 69.9,228.1 70.1,227.7 70.4,228.2 70.7,227.9 70.9,227.8 71.2,227.9 71.4,227.8 71.7,228.2 71.9,228.0 72.2,227.6 72.4,228.3 72.7,228.1 72.9,227.8 73.2,228.2 73.4,227.9 73.7,228.1 73.9,228.1 74.2,228.2 74.4,228.2 74.7,228.0 74.9,227.7 75.2,228.2 75.4,228.1 75.7,228.0 75.9,228.1 76.2,228.1 76.4,228.2 76.7,228.2 76.9,228.2 77.2,228.3 77.4,228.0 77.7,228.0 78,228.2 78.2,228.2 78.5,228.1 78.7,228.0 79,228.1 79.2,228.2 79.5,228.2 79.7,228.3 80,228.1 80.2,227.9 80.5,228.0 80.7,228.2 81,228.3 81.2,228.1 81.5,228.2 81.7,228.0 82,228.1 82.2,227.6 82.5,228.3 82.7,228.1 83,228.3 83.2,228.2 83.5,227.3 83.7,227.9 84,228.0 84.2,227.8 84.5,228.0 84.7,228.0 85,228.1 85.3,227.7 85.5,227.8 85.8,228.3 86,228.0 86.3,228.0 86.5,228.2 86.8,227.7 87,228.2 87.3,228.2 87.5,228.2 87.8,228.0 88,227.6 88.3,228.3 88.5,228.2 88.8,228.2 89,227.9 89.3,228.3 89.5,227.9 89.8,228.2 90,228.2 90.3,228.2 90.5,227.8 90.8,228.2 91,228.0 91.3,228.3 91.5,228.1 91.8,228.1 92,228.0 92.3,228.2 92.5,227.4 92.8,227.9 93.1,227.8 93.3,228.2 93.6,228.2 93.8,228.0 94.1,228.2 94.3,228.3 94.6,228.1 94.8,228.1 95.1,228.0 95.3,227.9 95.6,228.3 95.8,228.0 96.1,228.3 96.3,228.1 96.6,228.3 96.8,227.4 97.1,227.8 97.3,227.8 97.6,227.4 97.8,227.1 98.1,225.0 98.3,223.2 98.6,220.7 98.8,218.5 99.1,216.8 99.3,214.0 99.6,211.8 99.8,209.1 100.1,206.3 100.4,203.1 100.6,200.6 100.9,197.6 101.1,194.6 101.4,190.4 101.6,187.3 101.9,183.7 102.1,180.3 102.4,177.1 102.6,174.3 102.9,171.6 103.1,169.1 103.4,167.4 103.6,166.2 103.9,165.1 104.1,163.3 104.4,163.4 104.6,162.5 104.9,163.1 105.1,163.4 105.4,163.7 105.6,164.5 105.9,164.7 106.1,165.5 106.4,166.3 106.6,166.6 106.9,167.4 107.1,168.0 107.4,168.6 107.6,168.8 107.9,169.7 108.2,170.4 108.4,171.0 108.7,171.2 108.9,171.4 109.2,172.1 109.4,172.3 109.7,172.9 109.9,172.7 110.2,173.5 110.4,174.1 110.7,174.6 110.9,174.9 111.2,176.2 111.4,177.1 111.7,178.3 111.9,179.5 112.2,180.5 112.4,181.1 112.7,182.3 112.9,183.0 113.2,183.5 113.4,184.2 113.7,184.6 113.9,185.5 114.2,186.0 114.4,186.7 114.7,187.3 114.9,187.5 115.2,188.3 115.5,189.0 115.7,189.5 116,189.9 116.2,190.1 116.5,190.7 116.7,191.2 117,191.8 117.2,192.3 117.5,192.7 117.7,193.0 118,193.5 118.2,193.9 118.5,194.1 118.7,194.2 119,194.8 119.2,194.8 119.5,195.5 119.7,195.8 120,196.5 120.2,196.9 120.5,196.8 120.7,197.2 121,197.3 121.2,197.8 121.5,198.4 121.7,198.6 122,198.7 122.2,199.0 122.5,199.5 122.8,199.9 123,200.1 123.3,200.3 123.5,200.0 123.8,201.1 124,200.8 124.3,201.2 124.5,201.7 124.8,202.2 125,202.5 125.3,202.7 125.5,203.1 125.8,203.5 126,203.4 126.3,203.9 126.5,204.1 126.8,204.6 127,204.4 127.3,204.9 127.5,205.1 127.8,205.4 128,205.8 128.3,206.1 128.5,206.5 128.8,206.5 129,207.0 129.3,206.6 129.5,207.2 129.8,207.6 130,207.6 130.3,207.9 130.6,207.8 130.8,208.5 131.1,208.9 131.3,209.0 131.6,209.0 131.8,209.2 132.1,209.6 132.3,209.6 132.6,209.2 132.8,210.0 133.1,209.9 133.3,210.2 133.6,210.4 133.8,210.6 134.1,210.9 134.3,210.9 134.6,211.1 134.8,211.4 135.1,210.9 135.3,211.2 135.6,211.5 135.8,211.8 136.1,212.0 136.3,212.3 136.6,212.4 136.8,212.3 137.1,212.8 137.3,212.5 137.6,213.2 137.9,213.2 138.1,213.4 138.4,213.8 138.6,213.8 138.9,213.9 139.1,214.0 139.4,214.3 139.6,214.7 139.9,214.9 140.1,214.9 140.4,215.0 140.6,215.3 140.9,215.4 141.1,215.0 141.4,216.1 141.6,215.8 141.9,216.2 142.1,216.0 142.4,216.3 142.6,216.7 142.9,216.6 143.1,216.7 143.4,217.3 143.6,217.3 143.9,217.5 144.1,216.8 144.4,217.4 144.6,217.4 144.9,217.2 145.2,217.7 145.4,218.1 145.7,218.2 145.9,217.9 146.2,217.9 146.4,218.2 146.7,218.3 146.9,218.4 147.2,218.6 147.4,218.7 147.7,218.6 147.9,218.7 148.2,218.3 148.4,219.0 148.7,219.2 148.9,219.0 149.2,219.2 149.4,219.4 149.7,218.8 149.9,219.2 150.2,219.7 150.4,219.8 150.7,220.0 150.9,220.0 151.2,220.1 151.4,220.0 151.7,220.4 151.9,220.3 152.2,220.6 152.4,220.5 152.7,220.6 153,221.1 153.2,220.9 153.5,221.1 153.7,220.8 154,221.3 154.2,221.3 154.5,221.7 154.7,221.5 155,221.3 155.2,221.8 155.5,222.1 155.7,222.2 156,222.1 156.2,222.2 156.5,222.5 156.7,222.3 157,222.4 157.2,222.5 157.5,222.6 157.7,222.9 158,222.9 158.2,222.8 158.5,223.1 158.7,223.1 159,223.4 159.2,223.4 159.5,223.4 159.7,223.6 160,223.6 160.3,223.4 160.5,223.4 160.8,223.3 161,223.9 161.3,223.7 161.5,224.0 161.8,223.5 162,224.1 162.3,224.3 162.5,224.3 162.8,224.4 163,224.3 163.3,224.1 163.5,224.2 163.8,224.0 164,224.6 164.3,224.6 164.5,224.4 164.8,224.5 165,224.7 165.3,224.7 165.5,224.9 165.8,224.7 166,225.0 166.3,224.9 166.5,225.1 166.8,225.4 167,225.2 167.3,225.3 167.5,225.5 167.8,225.4 168.1,225.3 168.3,225.6 168.6,225.7 168.8,225.6 169.1,225.8 169.3,225.7 169.6,225.8 169.8,225.8 170.1,225.9 170.3,225.5 170.6,225.9 170.8,225.9 171.1,225.7 171.3,225.3 171.6,225.9 171.8,226.0 172.1,225.7 172.3,225.8 172.6,226.0 172.8,226.1 173.1,225.6 173.3,226.0 173.6,226.4 173.8,226.4 174.1,226.3 174.3,226.1 174.6,226.4 174.8,226.2 175.1,226.5 175.4,226.3 175.6,226.5 175.9,226.4 176.1,226.6 176.4,226.4 176.6,226.6 176.9,226.3 177.1,226.7 177.4,226.6 177.6,226.7 177.9,226.8 178.1,226.7 178.4,226.8 178.6,226.6 178.9,226.7 179.1,226.6 179.4,226.9 179.6,226.8 179.9,226.9 180.1,226.5 180.4,226.6 180.6,226.8 180.9,226.9 181.1,226.9 181.4,226.7 181.6,227.0 181.9,226.7 182.1,226.7 182.4,227.1 182.7,226.6 182.9,227.0 183.2,226.9 183.4,227.0 183.7,227.1 183.9,227.1 184.2,227.0 184.4,227.1 184.7,227.1 184.9,226.8 185.2,227.1 185.4,227.2 185.7,226.7 185.9,227.2 186.2,227.1 186.4,227.3 186.7,227.0 186.9,227.3 187.2,226.5 187.4,226.7 187.7,227.4 187.9,227.1 188.2,227.1 188.4,227.1 188.7,227.4 188.9,227.2 189.2,227.2 189.4,227.4 189.7,227.5 189.9,227.1 190.2,227.4 190.5,227.5 190.7,227.1 191,227.3 191.2,227.5 191.5,227.4 191.7,227.5 192,227.6 192.2,227.4 192.5,227.3 192.7,227.2 193,227.3 193.2,227.6 193.5,227.3 193.7,227.7 194,227.1 194.2,227.6 194.5,227.6 194.7,227.6 195,227.5 195.2,227.6 195.5,227.5 195.7,227.6 196,227.7 196.2,227.7 196.5,227.6 196.7,227.6 197,227.8 197.2,227.8 197.5,227.8 197.8,227.8 198,227.6 198.3,227.6 198.5,227.8 198.8,227.7 199,227.9 199.3,227.6 199.5,227.5 199.8,227.7 200,227.5 200.3,227.8 200.5,227.6 200.8,227.4 201,227.6 201.3,227.4 201.5,227.7 201.8,227.5 202,227.6 202.3,227.8 202.5,227.9 202.8,227.2 203,227.8 203.3,227.9 203.5,227.5" fill="none" stroke="#1cc8d4" stroke-width="0.9" stroke-linejoin="round" />
<polyline points="45.7,227.5 45.9,227.4 46.2,227.3 46.4,227.5 46.7,227.4 46.9,227.4 47.2,227.3 47.5,227.3 47.7,227.3 48,227.0 48.2,227.4 48.5,227.2 48.7,227.4 49,227.3 49.2,227.2 49.5,226.8 49.7,227.3 50,226.8 50.2,227.5 50.5,227.4 50.7,227.2 51,226.9 51.2,227.5 51.5,227.4 51.7,226.9 52,227.3 52.2,226.6 52.5,227.5 52.7,227.3 53,227.3 53.2,227.5 53.5,227.4 53.7,227.4 54,226.9 54.2,227.0 54.5,227.5 54.8,227.4 55,227.0 55.3,227.2 55.5,227.2 55.8,227.3 56,227.2 56.3,227.4 56.5,227.1 56.8,227.1 57,227.4 57.3,227.3 57.5,227.1 57.8,227.2 58,227.5 58.3,227.2 58.5,227.1 58.8,227.2 59,227.5 59.3,226.6 59.5,227.0 59.8,227.0 60,227.1 60.3,227.5 60.5,227.3 60.8,227.4 61,227.2 61.3,226.8 61.5,227.3 61.8,227.2 62,227.3 62.3,227.4 62.6,227.5 62.8,227.2 63.1,227.5 63.3,227.4 63.6,227.5 63.8,227.4 64.1,227.5 64.3,227.1 64.6,227.3 64.8,227.4 65.1,227.3 65.3,227.4 65.6,227.4 65.8,227.4 66.1,227.3 66.3,227.1 66.6,227.5 66.8,227.5 67.1,227.3 67.3,227.5 67.6,227.3 67.8,227.5 68.1,227.0 68.3,227.4 68.6,227.4 68.8,227.5 69.1,227.2 69.3,227.4 69.6,227.5 69.9,227.3 70.1,227.5 70.4,227.3 70.6,226.9 70.9,227.2 71.1,227.3 71.4,227.3 71.6,227.3 71.9,227.3 72.1,227.3 72.4,227.1 72.6,227.0 72.9,227.3 73.1,227.1 73.4,227.1 73.6,227.4 73.9,227.3 74.1,227.4 74.4,227.4 74.6,227.0 74.9,227.2 75.1,227.4 75.4,227.5 75.6,227.3 75.9,227.3 76.1,227.4 76.4,227.4 76.6,227.5 76.9,226.7 77.2,227.3 77.4,227.0 77.7,227.3 77.9,227.2 78.2,227.4 78.4,226.9 78.7,227.5 78.9,227.3 79.2,227.4 79.4,227.5 79.7,227.2 79.9,227.4 80.2,227.2 80.4,227.5 80.7,227.4 80.9,227.5 81.2,227.4 81.4,227.1 81.7,227.0 81.9,227.5 82.2,227.5 82.4,227.4 82.7,227.5 82.9,227.4 83.2,227.2 83.4,226.9 83.7,227.1 83.9,227.5 84.2,227.0 84.4,227.4 84.7,227.2 85,227.5 85.2,227.1 85.5,227.2 85.7,226.6 86,227.4 86.2,227.1 86.5,227.5 86.7,227.4 87,227.2 87.2,227.4 87.5,227.3 87.7,226.5 88,226.6 88.2,227.5 88.5,227.4 88.7,227.2 89,227.1 89.2,227.3 89.5,227.0 89.7,226.9 90,227.4 90.2,227.2 90.5,227.0 90.7,227.2 91,227.4 91.2,227.3 91.5,227.3 91.7,227.5 92,227.3 92.3,227.5 92.5,227.2 92.8,227.4 93,227.2 93.3,227.3 93.5,227.0 93.8,227.1 94,227.3 94.3,227.5 94.5,227.3 94.8,227.4 95,227.4 95.3,227.5 95.5,227.2 95.8,227.3 96,227.1 96.3,227.3 96.5,227.0 96.8,227.2 97,227.0 97.3,226.3 97.5,224.8 97.8,222.7 98,220.4 98.3,218.2 98.5,215.6 98.8,213.5 99,210.9 99.3,208.3 99.5,205.7 99.8,202.8 100.1,199.8 100.3,196.6 100.6,193.9 100.8,190.6 101.1,186.7 101.3,182.9 101.6,179.6 101.8,176.2 102.1,173.4 102.3,170.7 102.6,168.7 102.8,166.7 103.1,165.9 103.3,164.3 103.6,162.4 103.8,162.7 104.1,162.5 104.3,162.1 104.6,162.3 104.8,162.5 105.1,163.8 105.3,164.0 105.6,164.8 105.8,165.2 106.1,166.2 106.3,166.5 106.6,167.1 106.8,167.4 107.1,168.4 107.4,169.2 107.6,169.8 107.9,169.9 108.1,170.4 108.4,171.0 108.6,171.5 108.9,171.6 109.1,172.1 109.4,172.5 109.6,172.6 109.9,173.2 110.1,173.9 110.4,174.5 110.6,175.5 110.9,176.4 111.1,177.3 111.4,178.7 111.6,179.6 111.9,180.5 112.1,181.6 112.4,182.3 112.6,182.8 112.9,183.1 113.1,184.3 113.4,184.8 113.6,185.3 113.9,185.7 114.1,186.6 114.4,186.9 114.7,187.5 114.9,188.3 115.2,188.5 115.4,189.3 115.7,189.5 115.9,190.1 116.2,190.1 116.4,190.8 116.7,191.4 116.9,191.7 117.2,192.1 117.4,192.7 117.7,193.2 117.9,193.5 118.2,193.8 118.4,193.6 118.7,194.3 118.9,195.0 119.2,195.3 119.4,194.9 119.7,196.0 119.9,196.0 120.2,196.5 120.4,196.9 120.7,197.0 120.9,197.6 121.2,198.0 121.4,197.7 121.7,198.3 121.9,198.4 122.2,199.0 122.5,199.3 122.7,199.7 123,200.1 123.2,200.1 123.5,200.4 123.7,200.8 124,200.9 124.2,201.5 124.5,201.5 124.7,202.1 125,201.9 125.2,202.3 125.5,203.0 125.7,202.9 126,203.3 126.2,203.6 126.5,204.0 126.7,204.1 127,204.6 127.2,204.6 127.5,204.8 127.7,205.1 128,205.6 128.2,205.4 128.5,205.9 128.7,206.3 129,206.7 129.2,206.8 129.5,206.8 129.8,207.0 130,207.6 130.3,207.8 130.5,208.0 130.8,208.0 131,208.1 131.3,208.5 131.5,208.7 131.8,208.6 132,208.5 132.3,209.1 132.5,209.6 132.8,209.6 133,209.9 133.3,209.9 133.5,210.0 133.8,209.9 134,210.5 134.3,210.6 134.5,210.1 134.8,210.5 135,211.0 135.3,210.9 135.5,211.4 135.8,211.4 136,211.8 136.3,211.6 136.5,211.8 136.8,212.2 137,212.5 137.3,212.6 137.6,212.5 137.8,212.9 138.1,213.0 138.3,212.9 138.6,213.4 138.8,213.8 139.1,214.0 139.3,214.2 139.6,214.3 139.8,214.5 140.1,214.3 140.3,214.9 140.6,215.0 140.8,215.1 141.1,214.4 141.3,214.8 141.6,215.3 141.8,215.8 142.1,216.0 142.3,216.0 142.6,216.3 142.8,216.2 143.1,216.5 143.3,216.7 143.6,216.4 143.8,216.5 144.1,217.1 144.3,217.2 144.6,217.2 144.9,217.4 145.1,217.4 145.4,217.3 145.6,217.2 145.9,217.3 146.1,217.7 146.4,217.7 146.6,217.7 146.9,217.7 147.1,217.2 147.4,217.9 147.6,217.9 147.9,218.4 148.1,218.5 148.4,218.4 148.6,218.3 148.9,218.6 149.1,218.8 149.4,218.8 149.6,218.9 149.9,219.1 150.1,218.9 150.4,219.2 150.6,219.2 150.9,219.6 151.1,219.7 151.4,219.7 151.6,219.4 151.9,219.8 152.2,219.7 152.4,220.4 152.7,220.0 152.9,220.4 153.2,220.4 153.4,220.8 153.7,220.9 153.9,220.6 154.2,220.9 154.4,220.7 154.7,221.4 154.9,220.9 155.2,221.2 155.4,221.0 155.7,221.6 155.9,221.4 156.2,221.9 156.4,222.0 156.7,222.1 156.9,222.0 157.2,222.1 157.4,221.8 157.7,222.4 157.9,222.5 158.2,222.3 158.4,222.6 158.7,222.6 158.9,222.0 159.2,222.5 159.4,222.9 159.7,222.9 160,223.1 160.2,222.7 160.5,223.1 160.7,222.9 161,223.2 161.2,222.5 161.5,223.3 161.7,223.4 162,223.3 162.2,223.7 162.5,223.7 162.7,223.0 163,223.9 163.2,223.7 163.5,224.0 163.7,223.9 164,223.8 164.2,224.1 164.5,223.7 164.7,223.9 165,224.2 165.2,224.2 165.5,224.2 165.7,224.2 166,224.6 166.2,224.3 166.5,224.5 166.7,224.4 167,224.2 167.3,224.7 167.5,224.4 167.8,224.9 168,224.3 168.3,224.7 168.5,225.0 168.8,224.3 169,224.7 169.3,224.9 169.5,225.1 169.8,224.5 170,224.3 170.3,224.8 170.5,224.8 170.8,225.3 171,225.1 171.3,224.9 171.5,225.1 171.8,224.8 172,225.5 172.3,225.0 172.5,225.5 172.8,225.2 173,225.3 173.3,225.2 173.5,225.3 173.8,225.6 174,225.3 174.3,225.8 174.6,225.6 174.8,225.5 175.1,225.5 175.3,225.7 175.6,225.1 175.8,225.5 176.1,225.5 176.3,225.9 176.6,226.0 176.8,225.9 177.1,225.7 177.3,225.5 177.6,225.8 177.8,225.3 178.1,225.7 178.3,226.0 178.6,226.2 178.8,225.9 179.1,225.9 179.3,225.9 179.6,225.9 179.8,226.3 180.1,226.2 180.3,226.2 180.6,226.0 180.8,226.3 181.1,226.0 181.3,226.2 181.6,226.3 181.8,226.2 182.1,226.2 182.4,226.1 182.6,226.4 182.9,226.0 183.1,226.5 183.4,226.3 183.6,225.9 183.9,226.3 184.1,226.4 184.4,226.2 184.6,226.5 184.9,226.1 185.1,226.6 185.4,226.3 185.6,226.2 185.9,226.2 186.1,226.3 186.4,226.6 186.6,226.5 186.9,226.4 187.1,226.5 187.4,226.7 187.6,226.7 187.9,226.4 188.1,226.5 188.4,226.1 188.6,226.6 188.9,226.7 189.1,226.3 189.4,226.3 189.7,226.2 189.9,226.7 190.2,226.7 190.4,226.7 190.7,226.4 190.9,226.4 191.2,226.4 191.4,226.2 191.7,226.9 191.9,226.4 192.2,226.9 192.4,226.5 192.7,226.9 192.9,226.7 193.2,226.5 193.4,226.7 193.7,227.0 193.9,226.5 194.2,226.6 194.4,226.6 194.7,226.9 194.9,226.9 195.2,227.0 195.4,227.0 195.7,226.9 195.9,226.6 196.2,226.6 196.4,227.0 196.7,227.1 196.9,226.8 197.2,226.5 197.5,226.8 197.7,226.9 198,227.1 198.2,226.6 198.5,226.9 198.7,227.0 199,227.1 199.2,227.1 199.5,227.1 199.7,226.5 200,226.8 200.2,227.0 200.5,227.1 200.7,226.7 201,226.4 201.2,227.0 201.5,226.5 201.7,227.0 202,227.1 202.2,226.9 202.5,226.8 202.7,226.8 203,226.9" fill="none" stroke="#8a4d45" stroke-width="0.9" stroke-linejoin="round" />
</g>
<g clip-path="url(#cb1)">
<polyline points="311.5,23.0 311.9,23.0 312.2,23.0 312.5,47.9 312.8,48.0 313.1,48.2 313.4,48.3 313.7,48.4 314.1,48.5 314.4,48.6 314.7,48.7 315,48.8 315.3,48.8 315.6,48.9 315.9,49.0 316.3,49.1 316.6,49.1 316.9,49.2 317.2,49.2 317.5,49.3 317.8,49.3 318.1,49.4 318.4,49.4 318.8,49.4 319.1,49.5 319.4,49.5 319.7,49.5 320,49.6 320.3,49.6 320.6,49.6 321,49.7 321.3,49.7 321.6,49.7 321.9,49.7 322.2,49.7 322.5,49.8 322.8,49.8 323.1,49.8 323.5,49.8 323.8,49.8 324.1,49.8 324.4,49.8 324.7,49.8 325,49.9 325.3,49.9 325.7,49.9 326,49.9 326.3,49.9 326.6,49.9 326.9,49.9 327.2,49.9 327.5,49.9 327.9,49.9 328.2,49.9 328.5,49.9 328.8,49.9 329.1,49.9 329.4,49.9 329.7,49.9 330,49.9 330.4,50.0 330.7,50.0 331,50.0 331.3,50.0 331.6,50.0 331.9,50.0 332.2,50.0 332.6,50.0 332.9,50.0 333.2,50.0 333.5,50.0 333.8,50.0 334.1,50.0 334.4,50.0 334.7,50.0 335.1,50.0 335.4,50.0 335.7,50.0 336,50.0 336.3,50.0 336.6,50.0 336.9,50.0 337.3,50.0 337.6,50.0 337.9,50.0 338.2,50.0 338.5,50.0 338.8,50.0 339.1,50.0 339.5,50.0 339.8,50.0 340.1,50.0 340.4,50.0 340.7,50.0 341,50.0 341.3,50.0 341.6,50.0 342,50.0 342.3,50.0 342.6,50.0 342.9,50.0 343.2,50.0 343.5,50.0 343.8,40.4 344.2,39.4 344.5,38.9 344.8,38.7 345.1,38.6 345.4,38.6 345.7,38.6 346,38.5 346.3,38.5 346.7,38.5 347,38.5 347.3,38.5 347.6,38.5 347.9,38.5 348.2,38.5 348.5,38.5 348.9,38.4 349.2,38.4 349.5,38.4 349.8,38.4 350.1,38.4 350.4,38.4 350.7,38.4 351.1,38.4 351.4,38.4 351.7,38.4 352,38.4 352.3,38.4 352.6,38.3 352.9,38.3 353.2,38.3 353.6,38.3 353.9,38.3 354.2,38.3 354.5,38.3 354.8,38.3 355.1,38.3 355.4,38.3 355.8,38.3 356.1,38.3 356.4,38.3 356.7,38.2 357,38.2 357.3,38.2 357.6,38.2 357.9,38.2 358.3,38.2 358.6,38.2 358.9,38.2 359.2,38.2 359.5,38.2 359.8,38.2 360.1,38.2 360.5,38.2 360.8,38.2 361.1,38.2 361.4,38.1 361.7,38.1 362,38.1 362.3,38.1 362.7,38.1 363,38.1 363.3,38.1 363.6,38.1 363.9,38.1 364.2,38.1 364.5,38.1 364.8,38.1 365.2,38.1 365.5,38.1 365.8,38.1 366.1,38.1 366.4,38.1 366.7,38.1 367,38.1 367.4,38.0 367.7,38.0 368,38.0 368.3,38.0 368.6,38.0 368.9,38.0 369.2,38.0 369.5,38.0 369.9,38.0 370.2,38.0 370.5,38.0 370.8,38.0 371.1,38.0 371.4,38.0 371.7,38.0 372.1,38.0 372.4,38.0 372.7,38.0 373,38.0 373.3,38.0 373.6,38.0 373.9,38.0 374.2,37.9 374.6,37.9 374.9,37.9 375.2,37.9 375.5,37.9 375.8,37.9 376.1,37.9 376.4,37.9 376.8,37.9 377.1,37.9 377.4,37.9 377.7,37.9 378,37.9 378.3,37.9 378.6,37.9 379,37.9 379.3,37.9 379.6,37.9 379.9,37.9 380.2,37.9 380.5,37.9 380.8,37.9 381.1,37.9 381.5,37.9 381.8,37.9 382.1,37.9 382.4,37.9 382.7,37.9 383,37.9 383.3,37.8 383.7,37.8 384,37.8 384.3,37.8 384.6,37.8 384.9,37.8 385.2,37.8 385.5,37.8 385.8,37.8 386.2,37.8 386.5,37.8 386.8,37.8 387.1,37.8 387.4,37.8 387.7,37.8 388,37.8 388.4,37.8 388.7,37.8 389,37.8 389.3,37.8 389.6,37.8 389.9,37.8 390.2,37.8 390.6,37.8 390.9,37.8 391.2,37.8 391.5,37.8 391.8,37.8 392.1,37.8 392.4,37.8 392.7,37.8 393.1,37.8 393.4,37.8 393.7,37.8 394,37.8 394.3,37.8 394.6,37.8 394.9,37.8 395.3,37.8 395.6,37.8 395.9,37.7 396.2,37.7 396.5,37.7 396.8,37.7 397.1,37.7 397.4,37.7 397.8,37.7 398.1,37.7 398.4,37.7 398.7,37.7 399,37.7 399.3,37.7 399.6,37.7 400,37.7 400.3,37.7 400.6,37.7 400.9,37.7 401.2,37.7 401.5,37.7 401.8,37.7 402.2,37.7 402.5,37.7 402.8,37.7 403.1,37.7 403.4,37.7 403.7,37.7 404,37.7 404.3,37.7 404.7,37.7 405,37.7 405.3,37.7 405.6,37.7 405.9,37.7 406.2,37.7 406.5,37.7 406.9,37.7 407.2,37.7 407.5,37.7 407.8,37.7 408.1,37.7 408.4,37.7 408.7,37.7 409,37.7 409.4,37.7 409.7,37.7 410,37.7 410.3,37.7 410.6,37.7 410.9,37.7 411.2,37.7 411.6,37.7 411.9,37.7 412.2,37.7 412.5,37.7 412.8,37.7 413.1,37.7 413.4,37.7 413.8,37.7 414.1,37.7 414.4,37.7 414.7,37.7 415,37.7 415.3,37.7 415.6,37.7 415.9,37.7 416.3,37.7 416.6,37.7 416.9,37.7 417.2,37.7 417.5,37.7 417.8,37.6 418.1,37.6 418.5,37.6 418.8,37.6 419.1,37.6 419.4,37.6 419.7,37.6 420,37.6 420.3,37.6 420.6,37.6 421,37.6 421.3,37.6 421.6,37.6 421.9,37.6 422.2,37.6" fill="none" stroke="#444444" stroke-width="0.9" stroke-linejoin="round" />
<polyline points="311.5,23.0 311.9,23.0 312.2,23.0 312.5,50.0 312.8,50.5 313.1,50.9 313.4,51.2 313.7,51.5 314.1,51.7 314.4,51.9 314.7,52.1 315,52.2 315.3,52.3 315.6,52.4 315.9,52.5 316.3,52.6 316.6,52.7 316.9,52.7 317.2,52.8 317.5,52.8 317.8,52.8 318.1,52.9 318.4,52.9 318.8,52.9 319.1,52.9 319.4,52.9 319.7,52.9 320,52.9 320.3,53.0 320.6,53.0 321,53.0 321.3,53.0 321.6,53.0 321.9,53.0 322.2,53.0 322.5,53.0 322.8,53.0 323.1,53.0 323.5,53.0 323.8,53.0 324.1,53.0 324.4,53.0 324.7,53.0 325,53.0 325.3,53.0 325.7,53.0 326,53.0 326.3,53.0 326.6,53.0 326.9,53.0 327.2,53.0 327.5,53.0 327.9,53.0 328.2,53.0 328.5,53.0 328.8,53.0 329.1,53.0 329.4,53.0 329.7,53.0 330,53.0 330.4,53.0 330.7,53.0 331,53.0 331.3,53.0 331.6,53.0 331.9,53.0 332.2,53.0 332.6,53.0 332.9,53.0 333.2,53.0 333.5,53.0 333.8,53.0 334.1,53.0 334.4,53.0 334.7,53.0 335.1,53.0 335.4,53.0 335.7,53.0 336,53.0 336.3,53.0 336.6,53.0 336.9,53.0 337.3,53.0 337.6,53.0 337.9,53.0 338.2,53.0 338.5,53.0 338.8,53.0 339.1,53.0 339.5,53.0 339.8,53.0 340.1,53.0 340.4,53.0 340.7,53.0 341,53.0 341.3,53.0 341.6,53.0 342,53.0 342.3,53.0 342.6,53.0 342.9,53.0 343.2,53.0 343.5,53.0 343.8,41.3 344.2,40.3 344.5,39.8 344.8,39.6 345.1,39.5 345.4,39.5 345.7,39.5 346,39.4 346.3,39.4 346.7,39.4 347,39.4 347.3,39.4 347.6,39.4 347.9,39.4 348.2,39.4 348.5,39.4 348.9,39.3 349.2,39.3 349.5,39.3 349.8,39.3 350.1,39.3 350.4,39.3 350.7,39.3 351.1,39.3 351.4,39.3 351.7,39.3 352,39.3 352.3,39.3 352.6,39.2 352.9,39.2 353.2,39.2 353.6,39.2 353.9,39.2 354.2,39.2 354.5,39.2 354.8,39.2 355.1,39.2 355.4,39.2 355.8,39.2 356.1,39.2 356.4,39.2 356.7,39.1 357,39.1 357.3,39.1 357.6,39.1 357.9,39.1 358.3,39.1 358.6,39.1 358.9,39.1 359.2,39.1 359.5,39.1 359.8,39.1 360.1,39.1 360.5,39.1 360.8,39.1 361.1,39.1 361.4,39.0 361.7,39.0 362,39.0 362.3,39.0 362.7,39.0 363,39.0 363.3,39.0 363.6,39.0 363.9,39.0 364.2,39.0 364.5,39.0 364.8,39.0 365.2,39.0 365.5,39.0 365.8,39.0 366.1,39.0 366.4,39.0 366.7,39.0 367,39.0 367.4,38.9 367.7,38.9 368,38.9 368.3,38.9 368.6,38.9 368.9,38.9 369.2,38.9 369.5,38.9 369.9,38.9 370.2,38.9 370.5,38.9 370.8,38.9 371.1,38.9 371.4,38.9 371.7,38.9 372.1,38.9 372.4,38.9 372.7,38.9 373,38.9 373.3,38.9 373.6,38.9 373.9,38.9 374.2,38.8 374.6,38.8 374.9,38.8 375.2,38.8 375.5,38.8 375.8,38.8 376.1,38.8 376.4,38.8 376.8,38.8 377.1,38.8 377.4,38.8 377.7,38.8 378,38.8 378.3,38.8 378.6,38.8 379,38.8 379.3,38.8 379.6,38.8 379.9,38.8 380.2,38.8 380.5,38.8 380.8,38.8 381.1,38.8 381.5,38.8 381.8,38.8 382.1,38.8 382.4,38.8 382.7,38.8 383,38.8 383.3,38.7 383.7,38.7 384,38.7 384.3,38.7 384.6,38.7 384.9,38.7 385.2,38.7 385.5,38.7 385.8,38.7 386.2,38.7 386.5,38.7 386.8,38.7 387.1,38.7 387.4,38.7 387.7,38.7 388,38.7 388.4,38.7 388.7,38.7 389,38.7 389.3,38.7 389.6,38.7 389.9,38.7 390.2,38.7 390.6,38.7 390.9,38.7 391.2,38.7 391.5,38.7 391.8,38.7 392.1,38.7 392.4,38.7 392.7,38.7 393.1,38.7 393.4,38.7 393.7,38.7 394,38.7 394.3,38.7 394.6,38.7 394.9,38.7 395.3,38.7 395.6,38.7 395.9,38.6 396.2,38.6 396.5,38.6 396.8,38.6 397.1,38.6 397.4,38.6 397.8,38.6 398.1,38.6 398.4,38.6 398.7,38.6 399,38.6 399.3,38.6 399.6,38.6 400,38.6 400.3,38.6 400.6,38.6 400.9,38.6 401.2,38.6 401.5,38.6 401.8,38.6 402.2,38.6 402.5,38.6 402.8,38.6 403.1,38.6 403.4,38.6 403.7,38.6 404,38.6 404.3,38.6 404.7,38.6 405,38.6 405.3,38.6 405.6,38.6 405.9,38.6 406.2,38.6 406.5,38.6 406.9,38.6 407.2,38.6 407.5,38.6 407.8,38.6 408.1,38.6 408.4,38.6 408.7,38.6 409,38.6 409.4,38.6 409.7,38.6 410,38.6 410.3,38.6 410.6,38.6 410.9,38.6 411.2,38.6 411.6,38.6 411.9,38.6 412.2,38.6 412.5,38.6 412.8,38.6 413.1,38.6 413.4,38.6 413.8,38.6 414.1,38.6 414.4,38.6 414.7,38.6 415,38.6 415.3,38.6 415.6,38.6 415.9,38.6 416.3,38.6 416.6,38.6 416.9,38.6 417.2,38.6 417.5,38.6 417.8,38.5 418.1,38.5 418.5,38.5 418.8,38.5 419.1,38.5 419.4,38.5 419.7,38.5 420,38.5 420.3,38.5 420.6,38.5 421,38.5 421.3,38.5 421.6,38.5 421.9,38.5 422.2,38.5" fill="none" stroke="#ff3b3b" stroke-width="0.9" stroke-linejoin="round" />
<polyline points="311.5,23.0 311.9,23.0 312.2,23.0 312.5,53.0 312.8,53.5 313.1,54.0 313.4,54.4 313.7,54.7 314.1,54.9 314.4,55.1 314.7,55.3 315,55.4 315.3,55.5 315.6,55.6 315.9,55.7 316.3,55.7 316.6,55.8 316.9,55.8 317.2,55.9 317.5,55.9 317.8,55.9 318.1,55.9 318.4,55.9 318.8,55.9 319.1,56.0 319.4,56.0 319.7,56.0 320,56.0 320.3,56.0 320.6,56.0 321,56.0 321.3,56.0 321.6,56.0 321.9,56.0 322.2,56.0 322.5,56.0 322.8,56.0 323.1,56.0 323.5,56.0 323.8,56.0 324.1,56.0 324.4,56.0 324.7,56.0 325,56.0 325.3,56.0 325.7,56.0 326,56.0 326.3,56.0 326.6,56.0 326.9,56.0 327.2,56.0 327.5,56.0 327.9,56.0 328.2,56.0 328.5,56.0 328.8,56.0 329.1,56.0 329.4,56.0 329.7,56.0 330,56.0 330.4,56.0 330.7,56.0 331,56.0 331.3,56.0 331.6,56.0 331.9,56.0 332.2,56.0 332.6,56.0 332.9,56.0 333.2,56.0 333.5,56.0 333.8,56.0 334.1,56.0 334.4,56.0 334.7,56.0 335.1,56.0 335.4,56.0 335.7,56.0 336,56.0 336.3,56.0 336.6,56.0 336.9,56.0 337.3,56.0 337.6,56.0 337.9,56.0 338.2,56.0 338.5,56.0 338.8,56.0 339.1,56.0 339.5,56.0 339.8,56.0 340.1,56.0 340.4,56.0 340.7,56.0 341,56.0 341.3,56.0 341.6,56.0 342,56.0 342.3,56.0 342.6,56.0 342.9,56.0 343.2,56.0 343.5,56.0 343.8,40.5 344.2,39.5 344.5,39.1 344.8,38.9 345.1,38.8 345.4,38.7 345.7,38.7 346,38.7 346.3,38.7 346.7,38.7 347,38.7 347.3,38.6 347.6,38.6 347.9,38.6 348.2,38.6 348.5,38.6 348.9,38.6 349.2,38.6 349.5,38.6 349.8,38.6 350.1,38.6 350.4,38.6 350.7,38.5 351.1,38.5 351.4,38.5 351.7,38.5 352,38.5 352.3,38.5 352.6,38.5 352.9,38.5 353.2,38.5 353.6,38.5 353.9,38.5 354.2,38.5 354.5,38.4 354.8,38.4 355.1,38.4 355.4,38.4 355.8,38.4 356.1,38.4 356.4,38.4 356.7,38.4 357,38.4 357.3,38.4 357.6,38.4 357.9,38.4 358.3,38.4 358.6,38.4 358.9,38.3 359.2,38.3 359.5,38.3 359.8,38.3 360.1,38.3 360.5,38.3 360.8,38.3 361.1,38.3 361.4,38.3 361.7,38.3 362,38.3 362.3,38.3 362.7,38.3 363,38.3 363.3,38.3 363.6,38.3 363.9,38.3 364.2,38.2 364.5,38.2 364.8,38.2 365.2,38.2 365.5,38.2 365.8,38.2 366.1,38.2 366.4,38.2 366.7,38.2 367,38.2 367.4,38.2 367.7,38.2 368,38.2 368.3,38.2 368.6,38.2 368.9,38.2 369.2,38.2 369.5,38.2 369.9,38.2 370.2,38.2 370.5,38.1 370.8,38.1 371.1,38.1 371.4,38.1 371.7,38.1 372.1,38.1 372.4,38.1 372.7,38.1 373,38.1 373.3,38.1 373.6,38.1 373.9,38.1 374.2,38.1 374.6,38.1 374.9,38.1 375.2,38.1 375.5,38.1 375.8,38.1 376.1,38.1 376.4,38.1 376.8,38.1 377.1,38.1 377.4,38.1 377.7,38.1 378,38.1 378.3,38.0 378.6,38.0 379,38.0 379.3,38.0 379.6,38.0 379.9,38.0 380.2,38.0 380.5,38.0 380.8,38.0 381.1,38.0 381.5,38.0 381.8,38.0 382.1,38.0 382.4,38.0 382.7,38.0 383,38.0 383.3,38.0 383.7,38.0 384,38.0 384.3,38.0 384.6,38.0 384.9,38.0 385.2,38.0 385.5,38.0 385.8,38.0 386.2,38.0 386.5,38.0 386.8,38.0 387.1,38.0 387.4,38.0 387.7,38.0 388,38.0 388.4,38.0 388.7,38.0 389,37.9 389.3,37.9 389.6,37.9 389.9,37.9 390.2,37.9 390.6,37.9 390.9,37.9 391.2,37.9 391.5,37.9 391.8,37.9 392.1,37.9 392.4,37.9 392.7,37.9 393.1,37.9 393.4,37.9 393.7,37.9 394,37.9 394.3,37.9 394.6,37.9 394.9,37.9 395.3,37.9 395.6,37.9 395.9,37.9 396.2,37.9 396.5,37.9 396.8,37.9 397.1,37.9 397.4,37.9 397.8,37.9 398.1,37.9 398.4,37.9 398.7,37.9 399,37.9 399.3,37.9 399.6,37.9 400,37.9 400.3,37.9 400.6,37.9 400.9,37.9 401.2,37.9 401.5,37.9 401.8,37.9 402.2,37.9 402.5,37.9 402.8,37.9 403.1,37.9 403.4,37.9 403.7,37.9 404,37.9 404.3,37.9 404.7,37.9 405,37.8 405.3,37.8 405.6,37.8 405.9,37.8 406.2,37.8 406.5,37.8 406.9,37.8 407.2,37.8 407.5,37.8 407.8,37.8 408.1,37.8 408.4,37.8 408.7,37.8 409,37.8 409.4,37.8 409.7,37.8 410,37.8 410.3,37.8 410.6,37.8 410.9,37.8 411.2,37.8 411.6,37.8 411.9,37.8 412.2,37.8 412.5,37.8 412.8,37.8 413.1,37.8 413.4,37.8 413.8,37.8 414.1,37.8 414.4,37.8 414.7,37.8 415,37.8 415.3,37.8 415.6,37.8 415.9,37.8 416.3,37.8 416.6,37.8 416.9,37.8 417.2,37.8 417.5,37.8 417.8,37.8 418.1,37.8 418.5,37.8 418.8,37.8 419.1,37.8 419.4,37.8 419.7,37.8 420,37.8 420.3,37.8 420.6,37.8 421,37.8 421.3,37.8 421.6,37.8 421.9,37.8 422.2,37.8" fill="none" stroke="#3f86ee" stroke-width="0.9" stroke-linejoin="round" />
<polyline points="311.5,23.0 311.9,23.0 312.2,23.0 312.5,56.0 312.8,56.5 313.1,57.0 313.4,57.4 313.7,57.7 314.1,57.9 314.4,58.1 314.7,58.3 315,58.4 315.3,58.5 315.6,58.6 315.9,58.7 316.3,58.7 316.6,58.8 316.9,58.8 317.2,58.9 317.5,58.9 317.8,58.9 318.1,58.9 318.4,58.9 318.8,58.9 319.1,59.0 319.4,59.0 319.7,59.0 320,59.0 320.3,59.0 320.6,59.0 321,59.0 321.3,59.0 321.6,59.0 321.9,59.0 322.2,59.0 322.5,59.0 322.8,59.0 323.1,59.0 323.5,59.0 323.8,59.0 324.1,59.0 324.4,59.0 324.7,59.0 325,59.0 325.3,59.0 325.7,59.0 326,59.0 326.3,59.0 326.6,59.0 326.9,59.0 327.2,59.0 327.5,59.0 327.9,59.0 328.2,59.0 328.5,59.0 328.8,59.0 329.1,59.0 329.4,59.0 329.7,59.0 330,59.0 330.4,59.0 330.7,59.0 331,59.0 331.3,59.0 331.6,59.0 331.9,59.0 332.2,59.0 332.6,59.0 332.9,59.0 333.2,59.0 333.5,59.0 333.8,59.0 334.1,59.0 334.4,59.0 334.7,59.0 335.1,59.0 335.4,59.0 335.7,59.0 336,59.0 336.3,59.0 336.6,59.0 336.9,59.0 337.3,59.0 337.6,59.0 337.9,59.0 338.2,59.0 338.5,59.0 338.8,59.0 339.1,59.0 339.5,59.0 339.8,59.0 340.1,59.0 340.4,59.0 340.7,59.0 341,59.0 341.3,59.0 341.6,59.0 342,59.0 342.3,59.0 342.6,59.0 342.9,59.0 343.2,59.0 343.5,59.0 343.8,41.1 344.2,40.1 344.5,39.7 344.8,39.5 345.1,39.4 345.4,39.3 345.7,39.3 346,39.3 346.3,39.3 346.7,39.3 347,39.3 347.3,39.2 347.6,39.2 347.9,39.2 348.2,39.2 348.5,39.2 348.9,39.2 349.2,39.2 349.5,39.2 349.8,39.2 350.1,39.2 350.4,39.2 350.7,39.1 351.1,39.1 351.4,39.1 351.7,39.1 352,39.1 352.3,39.1 352.6,39.1 352.9,39.1 353.2,39.1 353.6,39.1 353.9,39.1 354.2,39.1 354.5,39.0 354.8,39.0 355.1,39.0 355.4,39.0 355.8,39.0 356.1,39.0 356.4,39.0 356.7,39.0 357,39.0 357.3,39.0 357.6,39.0 357.9,39.0 358.3,39.0 358.6,39.0 358.9,38.9 359.2,38.9 359.5,38.9 359.8,38.9 360.1,38.9 360.5,38.9 360.8,38.9 361.1,38.9 361.4,38.9 361.7,38.9 362,38.9 362.3,38.9 362.7,38.9 363,38.9 363.3,38.9 363.6,38.9 363.9,38.9 364.2,38.8 364.5,38.8 364.8,38.8 365.2,38.8 365.5,38.8 365.8,38.8 366.1,38.8 366.4,38.8 366.7,38.8 367,38.8 367.4,38.8 367.7,38.8 368,38.8 368.3,38.8 368.6,38.8 368.9,38.8 369.2,38.8 369.5,38.8 369.9,38.8 370.2,38.8 370.5,38.7 370.8,38.7 371.1,38.7 371.4,38.7 371.7,38.7 372.1,38.7 372.4,38.7 372.7,38.7 373,38.7 373.3,38.7 373.6,38.7 373.9,38.7 374.2,38.7 374.6,38.7 374.9,38.7 375.2,38.7 375.5,38.7 375.8,38.7 376.1,38.7 376.4,38.7 376.8,38.7 377.1,38.7 377.4,38.7 377.7,38.7 378,38.7 378.3,38.6 378.6,38.6 379,38.6 379.3,38.6 379.6,38.6 379.9,38.6 380.2,38.6 380.5,38.6 380.8,38.6 381.1,38.6 381.5,38.6 381.8,38.6 382.1,38.6 382.4,38.6 382.7,38.6 383,38.6 383.3,38.6 383.7,38.6 384,38.6 384.3,38.6 384.6,38.6 384.9,38.6 385.2,38.6 385.5,38.6 385.8,38.6 386.2,38.6 386.5,38.6 386.8,38.6 387.1,38.6 387.4,38.6 387.7,38.6 388,38.6 388.4,38.6 388.7,38.6 389,38.5 389.3,38.5 389.6,38.5 389.9,38.5 390.2,38.5 390.6,38.5 390.9,38.5 391.2,38.5 391.5,38.5 391.8,38.5 392.1,38.5 392.4,38.5 392.7,38.5 393.1,38.5 393.4,38.5 393.7,38.5 394,38.5 394.3,38.5 394.6,38.5 394.9,38.5 395.3,38.5 395.6,38.5 395.9,38.5 396.2,38.5 396.5,38.5 396.8,38.5 397.1,38.5 397.4,38.5 397.8,38.5 398.1,38.5 398.4,38.5 398.7,38.5 399,38.5 399.3,38.5 399.6,38.5 400,38.5 400.3,38.5 400.6,38.5 400.9,38.5 401.2,38.5 401.5,38.5 401.8,38.5 402.2,38.5 402.5,38.5 402.8,38.5 403.1,38.5 403.4,38.5 403.7,38.5 404,38.5 404.3,38.5 404.7,38.5 405,38.4 405.3,38.4 405.6,38.4 405.9,38.4 406.2,38.4 406.5,38.4 406.9,38.4 407.2,38.4 407.5,38.4 407.8,38.4 408.1,38.4 408.4,38.4 408.7,38.4 409,38.4 409.4,38.4 409.7,38.4 410,38.4 410.3,38.4 410.6,38.4 410.9,38.4 411.2,38.4 411.6,38.4 411.9,38.4 412.2,38.4 412.5,38.4 412.8,38.4 413.1,38.4 413.4,38.4 413.8,38.4 414.1,38.4 414.4,38.4 414.7,38.4 415,38.4 415.3,38.4 415.6,38.4 415.9,38.4 416.3,38.4 416.6,38.4 416.9,38.4 417.2,38.4 417.5,38.4 417.8,38.4 418.1,38.4 418.5,38.4 418.8,38.4 419.1,38.4 419.4,38.4 419.7,38.4 420,38.4 420.3,38.4 420.6,38.4 421,38.4 421.3,38.4 421.6,38.4 421.9,38.4 422.2,38.4" fill="none" stroke="#3fb46e" stroke-width="0.9" stroke-linejoin="round" />
<polyline points="311.5,23.0 311.9,23.0 312.2,23.0 312.5,59.0 312.8,59.5 313.1,60.0 313.4,60.4 313.7,60.7 314.1,60.9 314.4,61.1 314.7,61.3 315,61.4 315.3,61.5 315.6,61.6 315.9,61.7 316.3,61.7 316.6,61.8 316.9,61.8 317.2,61.9 317.5,61.9 317.8,61.9 318.1,61.9 318.4,61.9 318.8,61.9 319.1,62.0 319.4,62.0 319.7,62.0 320,62.0 320.3,62.0 320.6,62.0 321,62.0 321.3,62.0 321.6,62.0 321.9,62.0 322.2,62.0 322.5,62.0 322.8,62.0 323.1,62.0 323.5,62.0 323.8,62.0 324.1,62.0 324.4,62.0 324.7,62.0 325,62.0 325.3,62.0 325.7,62.0 326,62.0 326.3,62.0 326.6,62.0 326.9,62.0 327.2,62.0 327.5,62.0 327.9,62.0 328.2,62.0 328.5,62.0 328.8,62.0 329.1,62.0 329.4,62.0 329.7,62.0 330,62.0 330.4,62.0 330.7,62.0 331,62.0 331.3,62.0 331.6,62.0 331.9,62.0 332.2,62.0 332.6,62.0 332.9,62.0 333.2,62.0 333.5,62.0 333.8,62.0 334.1,62.0 334.4,62.0 334.7,62.0 335.1,62.0 335.4,62.0 335.7,62.0 336,62.0 336.3,62.0 336.6,62.0 336.9,62.0 337.3,62.0 337.6,62.0 337.9,62.0 338.2,62.0 338.5,62.0 338.8,62.0 339.1,62.0 339.5,62.0 339.8,62.0 340.1,62.0 340.4,62.0 340.7,62.0 341,62.0 341.3,62.0 341.6,62.0 342,62.0 342.3,62.0 342.6,62.0 342.9,62.0 343.2,62.0 343.5,62.0 343.8,40.8 344.2,39.8 344.5,39.4 344.8,39.2 345.1,39.1 345.4,39.0 345.7,39.0 346,39.0 346.3,39.0 346.7,39.0 347,39.0 347.3,38.9 347.6,38.9 347.9,38.9 348.2,38.9 348.5,38.9 348.9,38.9 349.2,38.9 349.5,38.9 349.8,38.9 350.1,38.9 350.4,38.9 350.7,38.8 351.1,38.8 351.4,38.8 351.7,38.8 352,38.8 352.3,38.8 352.6,38.8 352.9,38.8 353.2,38.8 353.6,38.8 353.9,38.8 354.2,38.8 354.5,38.7 354.8,38.7 355.1,38.7 355.4,38.7 355.8,38.7 356.1,38.7 356.4,38.7 356.7,38.7 357,38.7 357.3,38.7 357.6,38.7 357.9,38.7 358.3,38.7 358.6,38.7 358.9,38.6 359.2,38.6 359.5,38.6 359.8,38.6 360.1,38.6 360.5,38.6 360.8,38.6 361.1,38.6 361.4,38.6 361.7,38.6 362,38.6 362.3,38.6 362.7,38.6 363,38.6 363.3,38.6 363.6,38.6 363.9,38.6 364.2,38.5 364.5,38.5 364.8,38.5 365.2,38.5 365.5,38.5 365.8,38.5 366.1,38.5 366.4,38.5 366.7,38.5 367,38.5 367.4,38.5 367.7,38.5 368,38.5 368.3,38.5 368.6,38.5 368.9,38.5 369.2,38.5 369.5,38.5 369.9,38.5 370.2,38.5 370.5,38.4 370.8,38.4 371.1,38.4 371.4,38.4 371.7,38.4 372.1,38.4 372.4,38.4 372.7,38.4 373,38.4 373.3,38.4 373.6,38.4 373.9,38.4 374.2,38.4 374.6,38.4 374.9,38.4 375.2,38.4 375.5,38.4 375.8,38.4 376.1,38.4 376.4,38.4 376.8,38.4 377.1,38.4 377.4,38.4 377.7,38.4 378,38.4 378.3,38.3 378.6,38.3 379,38.3 379.3,38.3 379.6,38.3 379.9,38.3 380.2,38.3 380.5,38.3 380.8,38.3 381.1,38.3 381.5,38.3 381.8,38.3 382.1,38.3 382.4,38.3 382.7,38.3 383,38.3 383.3,38.3 383.7,38.3 384,38.3 384.3,38.3 384.6,38.3 384.9,38.3 385.2,38.3 385.5,38.3 385.8,38.3 386.2,38.3 386.5,38.3 386.8,38.3 387.1,38.3 387.4,38.3 387.7,38.3 388,38.3 388.4,38.3 388.7,38.3 389,38.2 389.3,38.2 389.6,38.2 389.9,38.2 390.2,38.2 390.6,38.2 390.9,38.2 391.2,38.2 391.5,38.2 391.8,38.2 392.1,38.2 392.4,38.2 392.7,38.2 393.1,38.2 393.4,38.2 393.7,38.2 394,38.2 394.3,38.2 394.6,38.2 394.9,38.2 395.3,38.2 395.6,38.2 395.9,38.2 396.2,38.2 396.5,38.2 396.8,38.2 397.1,38.2 397.4,38.2 397.8,38.2 398.1,38.2 398.4,38.2 398.7,38.2 399,38.2 399.3,38.2 399.6,38.2 400,38.2 400.3,38.2 400.6,38.2 400.9,38.2 401.2,38.2 401.5,38.2 401.8,38.2 402.2,38.2 402.5,38.2 402.8,38.2 403.1,38.2 403.4,38.2 403.7,38.2 404,38.2 404.3,38.2 404.7,38.2 405,38.1 405.3,38.1 405.6,38.1 405.9,38.1 406.2,38.1 406.5,38.1 406.9,38.1 407.2,38.1 407.5,38.1 407.8,38.1 408.1,38.1 408.4,38.1 408.7,38.1 409,38.1 409.4,38.1 409.7,38.1 410,38.1 410.3,38.1 410.6,38.1 410.9,38.1 411.2,38.1 411.6,38.1 411.9,38.1 412.2,38.1 412.5,38.1 412.8,38.1 413.1,38.1 413.4,38.1 413.8,38.1 414.1,38.1 414.4,38.1 414.7,38.1 415,38.1 415.3,38.1 415.6,38.1 415.9,38.1 416.3,38.1 416.6,38.1 416.9,38.1 417.2,38.1 417.5,38.1 417.8,38.1 418.1,38.1 418.5,38.1 418.8,38.1 419.1,38.1 419.4,38.1 419.7,38.1 420,38.1 420.3,38.1 420.6,38.1 421,38.1 421.3,38.1 421.6,38.1 421.9,38.1 422.2,38.1" fill="none" stroke="#c38ef0" stroke-width="0.9" stroke-linejoin="round" />
<polyline points="265.5,38.0 265.8,38.0 266.1,38.0 266.4,38.0 266.7,38.0 267,38.0 267.3,38.0 267.7,38.0 268,38.0 268.3,38.0 268.6,38.0 268.9,38.0 269.2,38.0 269.5,38.0 269.9,38.0 270.2,38.0 270.5,38.0 270.8,38.0 271.1,38.0 271.4,38.0 271.7,38.0 272,38.0 272.4,38.0 272.7,38.0 273,38.0 273.3,38.0 273.6,38.0 273.9,38.0 274.2,38.0 274.6,38.0 274.9,38.0 275.2,38.0 275.5,38.0 275.8,38.0 276.1,38.0 276.4,38.0 276.8,38.0 277.1,38.0 277.4,38.0 277.7,38.0 278,38.0 278.3,38.0 278.6,38.0 278.9,38.0 279.3,38.0 279.6,38.0 279.9,38.0 280.2,38.0 280.5,38.0 280.8,38.0 281.1,24.5 281.5,23.7 281.8,23.3 282.1,23.1 282.4,23.1 282.7,23.0 283,23.0 283.3,23.0 283.6,23.0 284,23.0 284.3,23.0 284.6,23.0 284.9,23.0 285.2,23.0 285.5,23.0 285.8,23.0 286.2,23.0 286.5,23.0 286.8,23.0 287.1,23.0 287.4,23.0 287.7,23.0 288,23.0 288.4,23.0 288.7,23.0 289,23.0 289.3,23.0 289.6,23.0 289.9,23.0 290.2,23.0 290.5,23.0 290.9,23.0 291.2,23.0 291.5,23.0 291.8,23.0 292.1,23.0 292.4,23.0 292.7,23.0 293.1,23.0 293.4,23.0 293.7,23.0 294,23.0 294.3,23.0 294.6,23.0 294.9,23.0 295.2,23.0 295.6,23.0 295.9,23.0 296.2,23.0 296.5,23.0 296.8,23.0 297.1,23.0 297.4,23.0 297.8,23.0 298.1,23.0 298.4,23.0 298.7,23.0 299,23.0 299.3,23.0 299.6,23.0 300,23.0 300.3,23.0 300.6,23.0 300.9,23.0 301.2,23.0 301.5,23.0 301.8,23.0 302.1,23.0 302.5,23.0 302.8,23.0 303.1,23.0 303.4,23.0 303.7,23.0 304,23.0 304.3,23.0 304.7,23.0 305,23.0 305.3,23.0 305.6,23.0 305.9,23.0 306.2,23.0 306.5,23.0 306.8,23.0 307.2,23.0 307.5,23.0 307.8,23.0 308.1,23.0 308.4,23.0 308.7,23.0 309,23.0 309.4,23.0 309.7,23.0 310,23.0 310.3,23.0 310.6,23.0 310.9,23.0 311.2,23.0 311.5,23.0 311.9,23.0 312.2,23.0 312.5,62.6 312.8,63.2 313.1,63.6 313.4,64.0 313.7,64.2 314.1,64.4 314.4,64.6 314.7,64.7 315,64.8 315.3,64.8 315.6,64.9 315.9,64.9 316.3,64.9 316.6,64.9 316.9,65.0 317.2,65.0 317.5,65.0 317.8,65.0 318.1,65.0 318.4,65.0 318.8,65.0 319.1,65.0 319.4,65.0 319.7,65.0 320,65.0 320.3,65.0 320.6,65.0 321,65.0 321.3,65.0 321.6,65.0 321.9,65.0 322.2,65.0 322.5,65.0 322.8,65.0 323.1,65.0 323.5,65.0 323.8,65.0 324.1,65.0 324.4,65.0 324.7,65.0 325,65.0 325.3,65.0 325.7,65.0 326,65.0 326.3,65.0 326.6,65.0 326.9,65.0 327.2,65.0 327.5,65.0 327.9,65.0 328.2,65.0 328.5,65.0 328.8,65.0 329.1,65.0 329.4,65.0 329.7,65.0 330,65.0 330.4,65.0 330.7,65.0 331,65.0 331.3,65.0 331.6,65.0 331.9,65.0 332.2,65.0 332.6,65.0 332.9,65.0 333.2,65.0 333.5,65.0 333.8,65.0 334.1,65.0 334.4,65.0 334.7,65.0 335.1,65.0 335.4,65.0 335.7,65.0 336,65.0 336.3,65.0 336.6,65.0 336.9,65.0 337.3,65.0 337.6,65.0 337.9,65.0 338.2,65.0 338.5,65.0 338.8,65.0 339.1,65.0 339.5,65.0 339.8,65.0 340.1,65.0 340.4,65.0 340.7,65.0 341,65.0 341.3,65.0 341.6,65.0 342,65.0 342.3,65.0 342.6,65.0 342.9,65.0 343.2,65.0 343.5,65.0 343.8,40.8 344.2,39.8 344.5,39.4 344.8,39.2 345.1,39.1 345.4,39.0 345.7,39.0 346,39.0 346.3,39.0 346.7,39.0 347,39.0 347.3,38.9 347.6,38.9 347.9,38.9 348.2,38.9 348.5,38.9 348.9,38.9 349.2,38.9 349.5,38.9 349.8,38.9 350.1,38.9 350.4,38.9 350.7,38.8 351.1,38.8 351.4,38.8 351.7,38.8 352,38.8 352.3,38.8 352.6,38.8 352.9,38.8 353.2,38.8 353.6,38.8 353.9,38.8 354.2,38.8 354.5,38.7 354.8,38.7 355.1,38.7 355.4,38.7 355.8,38.7 356.1,38.7 356.4,38.7 356.7,38.7 357,38.7 357.3,38.7 357.6,38.7 357.9,38.7 358.3,38.7 358.6,38.7 358.9,38.6 359.2,38.6 359.5,38.6 359.8,38.6 360.1,38.6 360.5,38.6 360.8,38.6 361.1,38.6 361.4,38.6 361.7,38.6 362,38.6 362.3,38.6 362.7,38.6 363,38.6 363.3,38.6 363.6,38.6 363.9,38.6 364.2,38.5 364.5,38.5 364.8,38.5 365.2,38.5 365.5,38.5 365.8,38.5 366.1,38.5 366.4,38.5 366.7,38.5 367,38.5 367.4,38.5 367.7,38.5 368,38.5 368.3,38.5 368.6,38.5 368.9,38.5 369.2,38.5 369.5,38.5 369.9,38.5 370.2,38.5 370.5,38.4 370.8,38.4 371.1,38.4 371.4,38.4 371.7,38.4 372.1,38.4 372.4,38.4 372.7,38.4 373,38.4 373.3,38.4 373.6,38.4 373.9,38.4 374.2,38.4 374.6,38.4 374.9,38.4 375.2,38.4 375.5,38.4 375.8,38.4 376.1,38.4 376.4,38.4 376.8,38.4 377.1,38.4 377.4,38.4 377.7,38.4 378,38.4 378.3,38.3 378.6,38.3 379,38.3 379.3,38.3 379.6,38.3 379.9,38.3 380.2,38.3 380.5,38.3 380.8,38.3 381.1,38.3 381.5,38.3 381.8,38.3 382.1,38.3 382.4,38.3 382.7,38.3 383,38.3 383.3,38.3 383.7,38.3 384,38.3 384.3,38.3 384.6,38.3 384.9,38.3 385.2,38.3 385.5,38.3 385.8,38.3 386.2,38.3 386.5,38.3 386.8,38.3 387.1,38.3 387.4,38.3 387.7,38.3 388,38.3 388.4,38.3 388.7,38.3 389,38.2 389.3,38.2 389.6,38.2 389.9,38.2 390.2,38.2 390.6,38.2 390.9,38.2 391.2,38.2 391.5,38.2 391.8,38.2 392.1,38.2 392.4,38.2 392.7,38.2 393.1,38.2 393.4,38.2 393.7,38.2 394,38.2 394.3,38.2 394.6,38.2 394.9,38.2 395.3,38.2 395.6,38.2 395.9,38.2 396.2,38.2 396.5,38.2 396.8,38.2 397.1,38.2 397.4,38.2 397.8,38.2 398.1,38.2 398.4,38.2 398.7,38.2 399,38.2 399.3,38.2 399.6,38.2 400,38.2 400.3,38.2 400.6,38.2 400.9,38.2 401.2,38.2 401.5,38.2 401.8,38.2 402.2,38.2 402.5,38.2 402.8,38.2 403.1,38.2 403.4,38.2 403.7,38.2 404,38.2 404.3,38.2 404.7,38.2 405,38.1 405.3,38.1 405.6,38.1 405.9,38.1 406.2,38.1 406.5,38.1 406.9,38.1 407.2,38.1 407.5,38.1 407.8,38.1 408.1,38.1 408.4,38.1 408.7,38.1 409,38.1 409.4,38.1 409.7,38.1 410,38.1 410.3,38.1 410.6,38.1 410.9,38.1 411.2,38.1 411.6,38.1 411.9,38.1 412.2,38.1 412.5,38.1 412.8,38.1 413.1,38.1 413.4,38.1 413.8,38.1 414.1,38.1 414.4,38.1 414.7,38.1 415,38.1 415.3,38.1 415.6,38.1 415.9,38.1 416.3,38.1 416.6,38.1 416.9,38.1 417.2,38.1 417.5,38.1 417.8,38.1 418.1,38.1 418.5,38.1 418.8,38.1 419.1,38.1 419.4,38.1 419.7,38.1 420,38.1 420.3,38.1 420.6,38.1 421,38.1 421.3,38.1 421.6,38.1 421.9,38.1 422.2,38.1" fill="none" stroke="#e2a526" stroke-width="1" stroke-linejoin="round" />
</g>
<g clip-path="url(#cb2)">
<polyline points="265.5,93.9 265.8,93.9 266.1,94.2 266.4,93.8 266.7,93.1 267,93.8 267.3,94.1 267.7,93.4 268,93.9 268.3,93.9 268.6,93.5 268.9,93.7 269.2,93.5 269.5,94.2 269.9,94.0 270.2,93.8 270.5,94.0 270.8,94.0 271.1,93.5 271.4,93.4 271.7,93.4 272,93.4 272.4,94.0 272.7,94.1 273,94.3 273.3,93.4 273.6,93.8 273.9,94.2 274.2,94.3 274.6,93.7 274.9,93.7 275.2,93.7 275.5,93.9 275.8,94.0 276.1,94.1 276.4,93.7 276.8,94.2 277.1,93.5 277.4,94.0 277.7,94.2 278,94.1 278.3,93.9 278.6,93.7 278.9,93.8 279.3,93.6 279.6,93.6 279.9,93.5 280.2,94.1 280.5,93.5 280.8,93.6 281.1,93.8 281.1,76.3 281.5,79.4 281.8,82.1 282.1,83.6 282.4,84.3 282.7,85.2 283,85.0 283.3,85.7 283.6,86.4 284,86.2 284.3,86.3 284.6,87.1 284.9,86.6 285.2,86.0 285.5,86.8 285.8,85.8 286.2,86.7 286.5,86.7 286.8,86.5 287.1,86.4 287.4,86.6 287.7,87.5 288,86.4 288.4,86.5 288.7,86.7 289,86.7 289.3,87.4 289.6,87.0 289.9,86.8 290.2,87.1 290.5,87.0 290.9,86.9 291.2,86.9 291.5,86.9 291.8,87.0 292.1,86.9 292.4,87.0 292.7,87.5 293.1,86.7 293.4,87.2 293.7,87.3 294,87.1 294.3,87.1 294.6,87.5 294.9,87.1 295.2,87.4 295.6,87.4 295.9,87.3 296.2,87.3 296.5,87.5 296.8,87.7 297.1,87.0 297.4,87.6 297.8,87.1 298.1,87.1 298.4,87.4 298.7,87.4 299,86.9 299.3,87.9 299.6,87.3 300,87.6 300.3,87.5 300.6,87.6 300.9,87.5 301.2,87.6 301.5,87.5 301.8,87.4 302.1,87.8 302.5,87.6 302.8,87.6 303.1,87.4 303.4,87.3 303.7,87.6 304,87.1 304.3,88.0 304.7,87.5 305,87.5 305.3,87.4 305.6,87.6 305.9,87.8 306.2,87.8 306.5,87.4 306.8,87.3 307.2,87.6 307.5,87.6 307.8,87.4 308.1,88.0 308.4,87.4 308.7,87.4 309,88.0 309.4,87.6 309.7,87.6 310,87.4 310.3,87.3 310.6,87.5 310.9,87.2 311.2,87.9 311.5,87.8 311.9,88.3 312.2,87.7 312.5,87.7 312.5,135.9 312.5,135.7 312.8,129.2 313.1,123.0 313.4,118.7 313.7,114.4 314.1,110.9 314.4,108.7 314.7,106.6 315,105.1 315.3,103.4 315.6,102.5 315.9,101.5 316.3,100.4 316.6,99.7 316.9,99.3 317.2,98.6 317.5,98.7 317.8,98.6 318.1,98.1 318.4,97.8 318.8,97.4 319.1,97.8 319.4,97.9 319.7,96.8 320,98.0 320.3,97.8 320.6,97.1 321,97.2 321.3,97.2 321.6,97.3 321.9,97.0 322.2,97.2 322.5,97.3 322.8,97.8 323.1,97.0 323.5,96.8 323.8,97.3 324.1,97.0 324.4,97.1 324.7,97.0 325,96.9 325.3,96.9 325.7,96.8 326,96.8 326.3,96.8 326.6,97.5 326.9,96.9 327.2,96.7 327.5,96.7 327.9,97.3 328.2,96.8 328.5,97.0 328.8,96.4 329.1,96.3 329.4,97.0 329.7,96.4 330,97.0 330.4,97.2 330.7,96.7 331,96.8 331.3,96.8 331.6,96.7 331.9,96.8 332.2,96.8 332.6,96.8 332.9,96.9 333.2,97.0 333.5,97.0 333.8,96.9 334.1,96.7 334.4,97.0 334.7,97.1 335.1,96.9 335.4,96.8 335.7,97.5 336,96.2 336.3,97.1 336.6,96.9 336.9,97.3 337.3,97.4 337.6,97.1 337.9,96.7 338.2,97.0 338.5,96.5 338.8,96.9 339.1,96.6 339.5,97.0 339.8,96.4 340.1,96.8 340.4,96.9 340.7,96.8 341,96.8 341.3,96.6 341.6,96.8 342,97.3 342.3,96.7 342.6,96.5 342.9,96.6 343.2,96.7 343.5,97.1 343.8,96.8 343.8,75.8 344.2,82.9 344.5,87.3 344.8,89.3 345.1,91.2 345.4,92.1 345.7,93.1 346,93.4 346.3,93.6 346.7,93.3 347,93.7 347.3,93.9 347.6,93.9 347.9,93.8 348.2,94.1 348.5,94.2 348.9,94.1 349.2,93.8 349.5,94.0 349.8,93.8 350.1,93.9 350.4,94.3 350.7,94.0 351.1,94.1 351.4,94.4 351.7,93.9 352,94.1 352.3,93.7 352.6,94.4 352.9,94.1 353.2,94.3 353.6,94.3 353.9,94.1 354.2,94.3 354.5,93.7 354.8,93.9 355.1,93.6 355.4,94.4 355.8,94.3 356.1,94.5 356.4,94.5 356.7,94.5 357,94.0 357.3,93.7 357.6,94.0 357.9,94.7 358.3,94.2 358.6,94.4 358.9,94.3 359.2,94.3 359.5,94.0 359.8,93.8 360.1,94.3 360.5,93.8 360.8,94.6 361.1,94.2 361.4,94.3 361.7,94.1 362,93.6 362.3,93.8 362.7,94.3 363,93.7 363.3,93.7 363.6,94.5 363.9,93.5 364.2,94.0 364.5,94.2 364.8,94.6 365.2,94.4 365.5,94.2 365.8,93.6 366.1,94.0 366.4,93.6 366.7,94.1 367,93.7 367.4,94.3 367.7,94.2 368,93.9 368.3,94.2 368.6,94.1 368.9,94.1 369.2,94.0 369.5,94.3 369.9,94.1 370.2,93.9 370.5,94.2 370.8,93.8 371.1,94.4 371.4,94.3 371.7,93.4 372.1,94.0 372.4,94.0 372.7,94.0 373,94.2 373.3,94.4 373.6,94.5 373.9,93.5 374.2,94.3 374.6,93.5 374.9,94.3 375.2,94.2 375.5,93.8 375.8,93.9 376.1,93.9 376.4,94.4 376.8,93.9 377.1,93.9 377.4,94.1 377.7,94.5 378,93.8 378.3,94.1 378.6,93.8 379,94.3 379.3,93.7 379.6,94.1 379.9,94.1 380.2,93.9 380.5,94.3 380.8,94.5 381.1,94.0 381.5,94.1 381.8,94.1 382.1,94.3 382.4,94.2 382.7,94.0 383,94.0 383.3,93.8 383.7,93.9 384,94.0 384.3,94.5 384.6,94.2 384.9,93.4 385.2,93.8 385.5,94.3 385.8,94.3 386.2,93.5 386.5,94.0 386.8,94.4 387.1,93.8 387.4,93.9 387.7,94.0 388,93.7 388.4,94.3 388.7,94.0 389,94.0 389.3,93.8 389.6,94.3 389.9,93.9 390.2,93.7 390.6,93.9 390.9,93.6 391.2,93.8 391.5,94.6 391.8,93.7 392.1,93.7 392.4,94.0 392.7,94.1 393.1,94.1 393.4,94.0 393.7,93.5 394,93.8 394.3,93.3 394.6,94.2 394.9,94.1 395.3,94.2 395.6,93.5 395.9,93.4 396.2,94.0 396.5,93.7 396.8,93.6 397.1,93.7 397.4,93.5 397.8,93.4 398.1,94.1 398.4,94.0 398.7,94.2 399,94.0 399.3,94.0 399.6,94.1 400,93.9 400.3,94.0 400.6,93.9 400.9,93.3 401.2,94.0 401.5,94.4 401.8,94.4 402.2,93.9 402.5,94.0 402.8,94.0 403.1,94.4 403.4,94.4 403.7,93.7 404,93.7 404.3,93.8 404.7,93.8 405,94.4 405.3,93.4 405.6,93.6 405.9,93.5 406.2,93.7 406.5,94.1 406.9,93.6 407.2,94.2 407.5,94.4 407.8,94.0 408.1,94.3 408.4,93.9 408.7,94.0 409,93.8 409.4,94.3 409.7,94.0 410,94.1 410.3,94.2 410.6,94.2 410.9,93.6 411.2,94.0 411.6,93.7 411.9,93.8 412.2,93.9 412.5,94.1 412.8,93.9 413.1,93.9 413.4,94.3 413.8,94.1 414.1,93.3 414.4,94.0 414.7,93.8 415,94.1 415.3,94.1 415.6,94.4 415.9,93.8 416.3,94.2 416.6,93.9 416.9,93.7 417.2,93.5 417.5,94.0 417.8,94.3 418.1,93.8 418.5,94.2 418.8,93.9 419.1,94.2 419.4,93.9 419.7,94.1 420,93.6 420.3,94.1 420.6,94.5 421,94.2 421.3,93.8 421.6,93.4 421.9,94.0 422.2,93.6" fill="none" stroke="#444444" stroke-width="0.9" stroke-linejoin="round" />
<polyline points="265.5,93.8 265.8,94.1 266.1,93.1 266.4,93.7 266.7,93.8 267,94.0 267.3,93.9 267.7,94.3 268,93.9 268.3,94.0 268.6,93.2 268.9,93.8 269.2,93.7 269.5,93.8 269.9,94.1 270.2,93.4 270.5,93.0 270.8,94.3 271.1,93.8 271.4,93.7 271.7,94.2 272,94.0 272.4,93.9 272.7,93.9 273,94.0 273.3,93.5 273.6,93.8 273.9,94.4 274.2,94.0 274.6,93.9 274.9,94.4 275.2,93.9 275.5,94.3 275.8,93.9 276.1,93.8 276.4,93.9 276.8,93.9 277.1,93.4 277.4,94.4 277.7,94.0 278,94.5 278.3,93.6 278.6,93.7 278.9,93.5 279.3,93.8 279.6,94.0 279.9,94.4 280.2,93.7 280.5,93.7 280.8,94.1 281.1,93.8 281.1,76.1 281.5,79.1 281.8,81.4 282.1,82.9 282.4,84.5 282.7,84.7 283,85.2 283.3,86.0 283.6,85.7 284,86.4 284.3,85.8 284.6,86.1 284.9,86.8 285.2,86.6 285.5,86.2 285.8,86.2 286.2,86.1 286.5,86.7 286.8,86.5 287.1,86.7 287.4,86.6 287.7,87.5 288,87.1 288.4,86.3 288.7,86.9 289,86.4 289.3,86.9 289.6,86.8 289.9,86.9 290.2,86.8 290.5,86.3 290.9,87.1 291.2,86.4 291.5,86.7 291.8,86.8 292.1,87.1 292.4,86.7 292.7,87.0 293.1,87.1 293.4,87.7 293.7,86.9 294,87.2 294.3,87.3 294.6,87.1 294.9,87.2 295.2,87.5 295.6,87.0 295.9,86.4 296.2,87.2 296.5,87.3 296.8,87.4 297.1,87.4 297.4,87.6 297.8,87.3 298.1,87.2 298.4,87.0 298.7,87.0 299,87.6 299.3,87.2 299.6,87.1 300,87.8 300.3,87.0 300.6,87.7 300.9,87.1 301.2,87.3 301.5,87.3 301.8,87.6 302.1,87.4 302.5,87.8 302.8,87.3 303.1,88.1 303.4,87.4 303.7,87.0 304,87.2 304.3,87.3 304.7,87.6 305,87.1 305.3,87.9 305.6,87.3 305.9,87.4 306.2,87.9 306.5,87.0 306.8,88.2 307.2,87.3 307.5,87.0 307.8,88.1 308.1,87.6 308.4,87.1 308.7,87.8 309,88.1 309.4,88.1 309.7,87.8 310,87.4 310.3,87.5 310.6,87.9 310.9,87.8 311.2,87.6 311.5,88.1 311.9,87.3 312.2,88.2 312.5,87.7 312.5,135.9 312.5,135.5 312.8,129.4 313.1,124.3 313.4,120.3 313.7,116.9 314.1,113.2 314.4,111.0 314.7,109.2 315,107.7 315.3,106.2 315.6,105.1 315.9,105.0 316.3,104.0 316.6,103.2 316.9,103.0 317.2,102.2 317.5,101.4 317.8,101.1 318.1,101.6 318.4,101.2 318.8,101.0 319.1,100.6 319.4,100.8 319.7,100.7 320,101.0 320.3,100.9 320.6,100.2 321,100.9 321.3,100.6 321.6,100.7 321.9,100.2 322.2,100.5 322.5,99.7 322.8,100.5 323.1,99.9 323.5,100.2 323.8,99.9 324.1,100.0 324.4,100.0 324.7,99.6 325,100.0 325.3,100.3 325.7,100.0 326,100.3 326.3,100.6 326.6,99.9 326.9,100.3 327.2,99.9 327.5,99.5 327.9,100.1 328.2,99.4 328.5,99.8 328.8,100.5 329.1,99.6 329.4,99.4 329.7,99.6 330,99.9 330.4,100.0 330.7,99.5 331,99.5 331.3,99.9 331.6,99.7 331.9,100.0 332.2,99.4 332.6,100.1 332.9,99.7 333.2,99.6 333.5,99.1 333.8,99.5 334.1,99.6 334.4,100.0 334.7,99.7 335.1,99.3 335.4,99.2 335.7,99.9 336,99.2 336.3,100.1 336.6,99.6 336.9,99.4 337.3,99.3 337.6,100.0 337.9,99.5 338.2,99.6 338.5,98.9 338.8,99.6 339.1,99.2 339.5,98.8 339.8,99.4 340.1,99.5 340.4,99.1 340.7,100.4 341,99.1 341.3,99.2 341.6,99.6 342,99.6 342.3,99.6 342.6,99.4 342.9,99.9 343.2,99.2 343.5,98.9 343.8,99.4 343.8,75.6 344.2,81.7 344.5,85.4 344.8,88.3 345.1,89.1 345.4,89.9 345.7,90.5 346,90.9 346.3,91.6 346.7,91.3 347,92.3 347.3,91.7 347.6,91.9 347.9,92.2 348.2,91.8 348.5,92.4 348.9,92.5 349.2,93.0 349.5,92.8 349.8,91.9 350.1,92.8 350.4,92.5 350.7,92.5 351.1,92.6 351.4,93.5 351.7,92.8 352,93.0 352.3,93.3 352.6,93.6 352.9,92.9 353.2,93.1 353.6,93.2 353.9,93.2 354.2,93.1 354.5,92.8 354.8,93.0 355.1,92.9 355.4,92.9 355.8,93.1 356.1,93.2 356.4,93.0 356.7,93.1 357,93.5 357.3,93.5 357.6,93.0 357.9,92.7 358.3,94.1 358.6,93.3 358.9,93.9 359.2,93.3 359.5,93.9 359.8,93.5 360.1,93.3 360.5,93.2 360.8,93.3 361.1,93.1 361.4,93.5 361.7,93.4 362,93.5 362.3,93.5 362.7,93.0 363,93.5 363.3,93.4 363.6,93.7 363.9,93.9 364.2,93.3 364.5,92.7 364.8,93.4 365.2,93.4 365.5,93.1 365.8,93.5 366.1,93.3 366.4,93.6 366.7,93.0 367,93.5 367.4,93.4 367.7,93.4 368,93.7 368.3,93.2 368.6,93.3 368.9,93.7 369.2,93.0 369.5,93.6 369.9,93.2 370.2,92.7 370.5,93.9 370.8,93.9 371.1,93.5 371.4,93.1 371.7,92.9 372.1,93.5 372.4,93.9 372.7,93.0 373,93.4 373.3,93.9 373.6,93.7 373.9,93.4 374.2,94.1 374.6,93.1 374.9,93.6 375.2,93.8 375.5,93.0 375.8,93.3 376.1,93.3 376.4,94.3 376.8,93.4 377.1,93.4 377.4,93.3 377.7,94.3 378,94.1 378.3,93.2 378.6,93.2 379,93.7 379.3,93.5 379.6,93.6 379.9,93.3 380.2,92.9 380.5,93.5 380.8,93.2 381.1,94.3 381.5,93.6 381.8,93.6 382.1,93.6 382.4,93.3 382.7,93.6 383,93.2 383.3,93.5 383.7,93.7 384,93.5 384.3,92.7 384.6,93.7 384.9,93.3 385.2,93.8 385.5,93.6 385.8,93.5 386.2,93.7 386.5,93.3 386.8,93.5 387.1,93.4 387.4,93.7 387.7,93.8 388,93.3 388.4,93.4 388.7,93.3 389,94.1 389.3,93.3 389.6,93.5 389.9,93.5 390.2,93.3 390.6,93.7 390.9,93.5 391.2,93.9 391.5,93.3 391.8,93.7 392.1,94.2 392.4,93.8 392.7,93.6 393.1,93.8 393.4,93.2 393.7,93.7 394,93.7 394.3,93.7 394.6,93.7 394.9,93.8 395.3,93.4 395.6,93.4 395.9,93.3 396.2,93.7 396.5,93.0 396.8,93.5 397.1,93.3 397.4,93.6 397.8,94.3 398.1,93.4 398.4,93.9 398.7,94.0 399,93.2 399.3,93.5 399.6,93.7 400,93.3 400.3,93.5 400.6,93.5 400.9,93.6 401.2,93.4 401.5,93.9 401.8,93.8 402.2,93.6 402.5,93.7 402.8,93.1 403.1,93.1 403.4,93.2 403.7,93.7 404,94.0 404.3,93.4 404.7,93.2 405,93.3 405.3,93.7 405.6,93.2 405.9,93.3 406.2,93.8 406.5,94.0 406.9,93.6 407.2,93.6 407.5,93.5 407.8,93.8 408.1,92.7 408.4,93.7 408.7,93.7 409,93.5 409.4,93.5 409.7,93.7 410,93.5 410.3,93.8 410.6,93.4 410.9,93.7 411.2,93.9 411.6,93.3 411.9,93.9 412.2,93.7 412.5,93.7 412.8,94.0 413.1,93.8 413.4,93.4 413.8,93.8 414.1,94.0 414.4,93.5 414.7,93.6 415,93.5 415.3,93.5 415.6,93.4 415.9,93.9 416.3,94.0 416.6,93.2 416.9,93.6 417.2,93.5 417.5,93.9 417.8,94.0 418.1,93.8 418.5,94.0 418.8,93.9 419.1,93.8 419.4,93.8 419.7,94.0 420,93.5 420.3,93.3 420.6,93.9 421,93.9 421.3,94.1 421.6,93.6 421.9,93.3 422.2,93.8" fill="none" stroke="#ff3b3b" stroke-width="0.9" stroke-linejoin="round" />
<polyline points="265.5,94.2 265.8,93.6 266.1,93.8 266.4,93.6 266.7,93.4 267,94.2 267.3,93.7 267.7,94.3 268,93.7 268.3,93.3 268.6,93.5 268.9,93.5 269.2,93.6 269.5,93.7 269.9,93.7 270.2,94.3 270.5,93.1 270.8,93.5 271.1,93.8 271.4,94.0 271.7,93.8 272,93.8 272.4,94.0 272.7,93.7 273,93.7 273.3,93.9 273.6,93.4 273.9,93.8 274.2,93.6 274.6,93.9 274.9,93.7 275.2,94.2 275.5,94.0 275.8,93.9 276.1,93.6 276.4,94.0 276.8,93.2 277.1,94.1 277.4,94.1 277.7,93.9 278,94.0 278.3,93.4 278.6,93.7 278.9,93.5 279.3,94.0 279.6,94.0 279.9,94.3 280.2,93.5 280.5,93.5 280.8,93.9 281.1,93.8 281.1,75.7 281.5,79.1 281.8,81.7 282.1,83.1 282.4,84.0 282.7,85.2 283,85.3 283.3,85.2 283.6,85.8 284,86.1 284.3,86.0 284.6,86.6 284.9,86.4 285.2,86.6 285.5,86.7 285.8,86.4 286.2,86.5 286.5,86.6 286.8,86.5 287.1,87.1 287.4,86.4 287.7,86.3 288,86.9 288.4,86.7 288.7,86.4 289,87.0 289.3,87.1 289.6,86.6 289.9,86.5 290.2,87.1 290.5,87.1 290.9,87.2 291.2,86.9 291.5,87.2 291.8,87.5 292.1,87.2 292.4,87.2 292.7,87.4 293.1,87.2 293.4,87.1 293.7,87.2 294,87.4 294.3,87.3 294.6,87.4 294.9,87.1 295.2,87.2 295.6,86.8 295.9,87.5 296.2,87.4 296.5,87.0 296.8,87.4 297.1,87.1 297.4,87.5 297.8,87.9 298.1,87.4 298.4,87.1 298.7,87.2 299,87.5 299.3,87.3 299.6,87.6 300,86.9 300.3,87.8 300.6,87.4 300.9,87.4 301.2,87.8 301.5,87.7 301.8,86.9 302.1,87.1 302.5,87.8 302.8,87.4 303.1,87.2 303.4,87.7 303.7,87.5 304,87.7 304.3,87.3 304.7,87.4 305,87.5 305.3,87.6 305.6,87.9 305.9,87.1 306.2,87.4 306.5,87.4 306.8,87.6 307.2,87.4 307.5,87.6 307.8,87.9 308.1,87.7 308.4,88.0 308.7,87.6 309,87.1 309.4,87.6 309.7,87.7 310,87.5 310.3,87.6 310.6,88.1 310.9,87.8 311.2,87.4 311.5,87.3 311.9,87.9 312.2,87.9 312.5,87.7 312.5,135.9 312.5,135.5 312.8,130.0 313.1,125.3 313.4,121.7 313.7,118.5 314.1,116.3 314.4,113.2 314.7,111.1 315,110.1 315.3,109.2 315.6,107.6 315.9,106.8 316.3,106.5 316.6,105.8 316.9,105.7 317.2,104.8 317.5,105.4 317.8,104.6 318.1,104.3 318.4,103.5 318.8,103.8 319.1,104.1 319.4,103.3 319.7,103.8 320,103.4 320.3,103.4 320.6,103.1 321,103.2 321.3,102.3 321.6,102.8 321.9,102.6 322.2,102.7 322.5,102.5 322.8,102.2 323.1,102.7 323.5,102.6 323.8,102.5 324.1,102.7 324.4,102.3 324.7,102.6 325,102.6 325.3,102.0 325.7,102.5 326,102.2 326.3,102.3 326.6,102.1 326.9,102.6 327.2,102.3 327.5,101.3 327.9,101.8 328.2,101.7 328.5,102.0 328.8,102.2 329.1,102.0 329.4,101.5 329.7,101.3 330,101.9 330.4,101.8 330.7,102.1 331,102.0 331.3,101.9 331.6,102.3 331.9,101.9 332.2,102.0 332.6,101.7 332.9,101.9 333.2,102.3 333.5,101.4 333.8,101.4 334.1,101.6 334.4,102.0 334.7,101.7 335.1,101.5 335.4,101.8 335.7,101.6 336,101.6 336.3,101.2 336.6,101.1 336.9,101.7 337.3,101.4 337.6,101.8 337.9,102.2 338.2,101.8 338.5,101.2 338.8,101.6 339.1,101.4 339.5,101.6 339.8,101.8 340.1,101.4 340.4,101.7 340.7,101.5 341,101.6 341.3,101.7 341.6,101.4 342,101.8 342.3,101.8 342.6,101.2 342.9,101.4 343.2,101.4 343.5,100.8 343.8,101.4 343.8,75.6 344.2,81.5 344.5,84.6 344.8,86.5 345.1,87.9 345.4,88.9 345.7,88.9 346,90.1 346.3,89.8 346.7,90.1 347,90.1 347.3,90.6 347.6,90.4 347.9,90.8 348.2,90.7 348.5,91.4 348.9,91.5 349.2,91.0 349.5,90.9 349.8,91.0 350.1,91.7 350.4,91.2 350.7,91.4 351.1,91.7 351.4,92.2 351.7,91.9 352,91.8 352.3,92.2 352.6,91.5 352.9,91.7 353.2,92.4 353.6,92.5 353.9,92.4 354.2,92.4 354.5,92.2 354.8,92.2 355.1,92.9 355.4,92.1 355.8,92.8 356.1,92.4 356.4,92.0 356.7,92.7 357,92.3 357.3,92.7 357.6,92.7 357.9,93.3 358.3,92.5 358.6,92.1 358.9,92.8 359.2,92.9 359.5,92.6 359.8,92.5 360.1,92.9 360.5,93.0 360.8,92.7 361.1,93.0 361.4,92.8 361.7,92.8 362,92.5 362.3,92.7 362.7,93.1 363,93.2 363.3,93.2 363.6,92.9 363.9,92.9 364.2,92.7 364.5,92.7 364.8,92.8 365.2,93.2 365.5,93.3 365.8,93.1 366.1,93.1 366.4,92.7 366.7,92.9 367,93.2 367.4,93.0 367.7,93.2 368,92.6 368.3,93.5 368.6,92.9 368.9,92.8 369.2,93.1 369.5,91.9 369.9,93.0 370.2,93.7 370.5,92.9 370.8,93.3 371.1,92.6 371.4,92.7 371.7,92.6 372.1,93.5 372.4,92.5 372.7,93.2 373,92.9 373.3,93.3 373.6,92.8 373.9,92.9 374.2,93.2 374.6,92.6 374.9,92.5 375.2,93.7 375.5,93.2 375.8,93.3 376.1,93.1 376.4,93.3 376.8,93.2 377.1,93.3 377.4,92.8 377.7,92.4 378,93.0 378.3,93.6 378.6,93.0 379,92.6 379.3,93.6 379.6,93.5 379.9,93.0 380.2,93.4 380.5,93.4 380.8,92.8 381.1,93.6 381.5,93.4 381.8,93.3 382.1,93.5 382.4,92.6 382.7,93.2 383,93.7 383.3,93.6 383.7,92.8 384,93.4 384.3,93.0 384.6,93.4 384.9,93.0 385.2,93.7 385.5,93.9 385.8,93.6 386.2,93.6 386.5,93.3 386.8,93.2 387.1,93.7 387.4,93.5 387.7,93.4 388,93.1 388.4,93.0 388.7,93.6 389,93.6 389.3,93.3 389.6,93.3 389.9,92.9 390.2,93.1 390.6,93.0 390.9,93.5 391.2,93.3 391.5,93.3 391.8,93.1 392.1,93.4 392.4,92.8 392.7,93.9 393.1,93.3 393.4,93.5 393.7,93.5 394,93.1 394.3,93.8 394.6,93.4 394.9,93.3 395.3,93.7 395.6,93.1 395.9,93.6 396.2,93.9 396.5,93.2 396.8,93.5 397.1,93.0 397.4,93.4 397.8,93.5 398.1,92.9 398.4,93.9 398.7,94.0 399,92.8 399.3,93.5 399.6,93.3 400,93.3 400.3,93.5 400.6,93.4 400.9,93.3 401.2,93.5 401.5,93.3 401.8,93.5 402.2,93.2 402.5,93.7 402.8,94.0 403.1,93.4 403.4,93.3 403.7,93.8 404,92.8 404.3,93.4 404.7,93.1 405,93.3 405.3,93.1 405.6,93.3 405.9,93.8 406.2,93.2 406.5,93.4 406.9,93.8 407.2,93.6 407.5,93.7 407.8,93.4 408.1,93.3 408.4,93.3 408.7,93.3 409,93.0 409.4,92.7 409.7,93.3 410,93.5 410.3,93.3 410.6,93.8 410.9,93.8 411.2,93.5 411.6,93.3 411.9,93.6 412.2,93.3 412.5,93.4 412.8,93.2 413.1,93.3 413.4,93.6 413.8,93.3 414.1,93.6 414.4,93.5 414.7,93.5 415,93.6 415.3,92.8 415.6,93.3 415.9,93.6 416.3,93.9 416.6,93.6 416.9,94.2 417.2,93.9 417.5,93.5 417.8,93.1 418.1,93.4 418.5,93.4 418.8,93.5 419.1,93.6 419.4,93.1 419.7,93.6 420,93.4 420.3,93.3 420.6,93.1 421,93.6 421.3,93.3 421.6,92.8 421.9,93.5 422.2,93.4" fill="none" stroke="#3f86ee" stroke-width="0.9" stroke-linejoin="round" />
<polyline points="265.5,93.3 265.8,94.0 266.1,93.7 266.4,93.9 266.7,93.4 267,93.6 267.3,93.9 267.7,94.0 268,93.6 268.3,93.0 268.6,93.9 268.9,93.7 269.2,94.2 269.5,93.5 269.9,93.9 270.2,93.4 270.5,93.9 270.8,93.7 271.1,93.9 271.4,93.8 271.7,93.7 272,94.3 272.4,94.2 272.7,93.8 273,93.5 273.3,93.6 273.6,94.1 273.9,93.8 274.2,93.6 274.6,93.6 274.9,94.2 275.2,93.8 275.5,93.5 275.8,94.3 276.1,93.9 276.4,93.4 276.8,93.4 277.1,93.9 277.4,93.6 277.7,93.7 278,94.3 278.3,94.4 278.6,94.3 278.9,93.9 279.3,93.9 279.6,93.5 279.9,93.5 280.2,93.8 280.5,93.9 280.8,94.1 281.1,93.8 281.1,76.2 281.5,79.4 281.8,81.7 282.1,83.2 282.4,84.5 282.7,84.5 283,85.9 283.3,85.8 283.6,85.5 284,86.2 284.3,86.7 284.6,86.1 284.9,86.5 285.2,86.4 285.5,86.9 285.8,86.6 286.2,86.4 286.5,86.7 286.8,86.8 287.1,86.7 287.4,86.5 287.7,86.3 288,86.7 288.4,86.3 288.7,86.5 289,86.8 289.3,87.1 289.6,87.1 289.9,86.3 290.2,87.2 290.5,86.3 290.9,87.0 291.2,87.0 291.5,87.2 291.8,87.0 292.1,87.3 292.4,86.9 292.7,87.0 293.1,87.3 293.4,86.9 293.7,86.9 294,87.1 294.3,86.7 294.6,87.1 294.9,86.9 295.2,87.6 295.6,87.6 295.9,87.4 296.2,87.9 296.5,87.3 296.8,87.2 297.1,87.4 297.4,87.4 297.8,87.2 298.1,87.4 298.4,87.0 298.7,87.1 299,87.4 299.3,87.0 299.6,87.7 300,87.5 300.3,87.2 300.6,87.8 300.9,87.5 301.2,87.9 301.5,87.4 301.8,87.3 302.1,87.6 302.5,87.2 302.8,87.8 303.1,87.6 303.4,86.5 303.7,87.5 304,87.6 304.3,87.2 304.7,87.5 305,87.5 305.3,87.0 305.6,87.7 305.9,87.6 306.2,87.4 306.5,87.5 306.8,87.6 307.2,87.9 307.5,87.8 307.8,87.6 308.1,87.5 308.4,87.5 308.7,87.9 309,87.8 309.4,87.5 309.7,88.1 310,87.9 310.3,87.4 310.6,87.8 310.9,87.8 311.2,87.8 311.5,87.9 311.9,87.6 312.2,87.6 312.5,87.7 312.5,135.9 312.5,135.5 312.8,130.7 313.1,126.3 313.4,122.2 313.7,119.8 314.1,117.5 314.4,115.4 314.7,113.6 315,112.6 315.3,111.1 315.6,109.8 315.9,110.0 316.3,108.4 316.6,108.4 316.9,108.4 317.2,107.3 317.5,107.5 317.8,106.8 318.1,106.5 318.4,105.9 318.8,106.4 319.1,105.9 319.4,106.1 319.7,105.5 320,105.7 320.3,105.6 320.6,105.9 321,105.6 321.3,105.0 321.6,105.5 321.9,105.1 322.2,104.9 322.5,104.9 322.8,105.3 323.1,104.5 323.5,104.7 323.8,104.5 324.1,104.8 324.4,104.7 324.7,104.3 325,104.6 325.3,104.5 325.7,104.5 326,104.6 326.3,104.8 326.6,104.4 326.9,104.4 327.2,104.6 327.5,104.3 327.9,104.2 328.2,104.1 328.5,104.0 328.8,104.0 329.1,104.2 329.4,103.5 329.7,104.0 330,104.1 330.4,104.4 330.7,104.5 331,103.6 331.3,103.8 331.6,103.9 331.9,103.4 332.2,103.7 332.6,103.9 332.9,103.8 333.2,103.3 333.5,104.0 333.8,103.5 334.1,103.8 334.4,103.3 334.7,103.7 335.1,104.0 335.4,104.0 335.7,104.0 336,103.8 336.3,103.4 336.6,103.2 336.9,104.0 337.3,103.2 337.6,103.3 337.9,103.8 338.2,103.6 338.5,103.9 338.8,103.4 339.1,103.8 339.5,104.4 339.8,103.3 340.1,103.5 340.4,103.3 340.7,103.4 341,103.3 341.3,103.7 341.6,103.7 342,103.5 342.3,103.7 342.6,103.1 342.9,103.5 343.2,103.2 343.5,103.7 343.8,103.4 343.8,76.0 344.2,80.1 344.5,83.6 344.8,85.1 345.1,86.6 345.4,87.8 345.7,88.7 346,88.6 346.3,88.9 346.7,89.2 347,89.2 347.3,88.9 347.6,89.8 347.9,89.8 348.2,89.9 348.5,90.1 348.9,90.2 349.2,90.3 349.5,90.6 349.8,90.4 350.1,90.9 350.4,90.5 350.7,90.6 351.1,90.5 351.4,90.6 351.7,90.2 352,90.7 352.3,91.0 352.6,91.4 352.9,91.0 353.2,91.2 353.6,91.3 353.9,91.4 354.2,90.9 354.5,91.4 354.8,92.2 355.1,91.9 355.4,91.5 355.8,91.8 356.1,92.1 356.4,91.8 356.7,92.0 357,92.0 357.3,91.7 357.6,92.0 357.9,91.7 358.3,92.0 358.6,92.2 358.9,92.0 359.2,92.3 359.5,92.3 359.8,92.2 360.1,92.1 360.5,92.0 360.8,92.3 361.1,92.4 361.4,92.6 361.7,91.8 362,92.5 362.3,92.3 362.7,92.3 363,92.1 363.3,93.1 363.6,92.7 363.9,92.5 364.2,92.7 364.5,92.1 364.8,92.5 365.2,92.6 365.5,92.6 365.8,92.2 366.1,92.5 366.4,93.1 366.7,92.9 367,92.8 367.4,92.8 367.7,93.4 368,92.8 368.3,92.5 368.6,92.2 368.9,92.7 369.2,92.7 369.5,92.2 369.9,92.6 370.2,92.7 370.5,92.7 370.8,92.1 371.1,92.4 371.4,92.4 371.7,93.1 372.1,92.7 372.4,92.5 372.7,93.0 373,92.3 373.3,92.7 373.6,93.0 373.9,92.6 374.2,92.5 374.6,92.3 374.9,92.6 375.2,93.1 375.5,93.0 375.8,93.2 376.1,92.7 376.4,93.6 376.8,92.4 377.1,92.6 377.4,92.2 377.7,93.0 378,93.0 378.3,93.5 378.6,92.8 379,92.8 379.3,91.9 379.6,92.2 379.9,92.9 380.2,92.7 380.5,93.1 380.8,92.6 381.1,93.0 381.5,93.0 381.8,92.5 382.1,93.2 382.4,93.3 382.7,93.0 383,93.2 383.3,93.2 383.7,92.9 384,93.2 384.3,93.6 384.6,92.7 384.9,93.1 385.2,92.9 385.5,93.0 385.8,92.9 386.2,92.9 386.5,93.1 386.8,92.9 387.1,93.1 387.4,92.4 387.7,93.3 388,92.9 388.4,92.9 388.7,93.4 389,93.3 389.3,93.3 389.6,93.3 389.9,93.2 390.2,92.8 390.6,93.3 390.9,93.2 391.2,93.3 391.5,93.1 391.8,93.1 392.1,92.9 392.4,93.5 392.7,92.9 393.1,93.3 393.4,93.0 393.7,92.8 394,93.1 394.3,92.7 394.6,93.1 394.9,93.1 395.3,92.9 395.6,93.0 395.9,93.2 396.2,93.2 396.5,92.8 396.8,93.2 397.1,93.0 397.4,92.9 397.8,93.1 398.1,93.1 398.4,93.4 398.7,93.2 399,93.0 399.3,93.8 399.6,93.6 400,92.6 400.3,92.8 400.6,92.9 400.9,93.5 401.2,92.9 401.5,93.2 401.8,93.1 402.2,93.6 402.5,93.1 402.8,93.4 403.1,93.2 403.4,93.6 403.7,93.4 404,93.5 404.3,93.2 404.7,93.2 405,93.6 405.3,93.8 405.6,93.2 405.9,93.4 406.2,93.0 406.5,93.7 406.9,92.9 407.2,93.4 407.5,93.4 407.8,93.1 408.1,92.9 408.4,93.3 408.7,93.6 409,92.9 409.4,93.2 409.7,92.5 410,93.2 410.3,92.9 410.6,93.1 410.9,93.3 411.2,93.1 411.6,93.5 411.9,93.6 412.2,93.7 412.5,93.3 412.8,93.2 413.1,93.5 413.4,93.6 413.8,93.2 414.1,93.3 414.4,93.3 414.7,93.6 415,93.2 415.3,92.6 415.6,93.5 415.9,93.6 416.3,93.4 416.6,93.6 416.9,93.3 417.2,93.0 417.5,93.5 417.8,93.2 418.1,93.0 418.5,93.7 418.8,93.3 419.1,92.5 419.4,93.5 419.7,93.4 420,93.2 420.3,93.2 420.6,93.5 421,93.6 421.3,93.6 421.6,93.7 421.9,93.2 422.2,93.9" fill="none" stroke="#3fb46e" stroke-width="0.9" stroke-linejoin="round" />
<polyline points="265.5,94.6 265.8,93.8 266.1,93.9 266.4,94.0 266.7,94.2 267,93.4 267.3,94.1 267.7,93.6 268,93.8 268.3,93.9 268.6,94.0 268.9,93.8 269.2,93.9 269.5,94.1 269.9,93.9 270.2,94.2 270.5,93.7 270.8,93.2 271.1,93.8 271.4,93.8 271.7,93.8 272,93.3 272.4,93.4 272.7,93.7 273,93.8 273.3,93.7 273.6,94.1 273.9,93.9 274.2,93.9 274.6,93.7 274.9,93.3 275.2,93.9 275.5,93.7 275.8,93.9 276.1,94.3 276.4,93.8 276.8,94.4 277.1,93.6 277.4,93.6 277.7,93.5 278,93.8 278.3,93.2 278.6,93.9 278.9,93.9 279.3,94.0 279.6,93.9 279.9,94.0 280.2,94.0 280.5,93.8 280.8,93.9 281.1,93.8 281.1,75.7 281.5,79.2 281.8,82.0 282.1,82.7 282.4,84.5 282.7,85.1 283,84.9 283.3,85.2 283.6,85.7 284,86.2 284.3,86.1 284.6,86.5 284.9,86.3 285.2,86.0 285.5,86.6 285.8,86.7 286.2,86.5 286.5,86.5 286.8,86.2 287.1,86.9 287.4,87.1 287.7,86.7 288,86.3 288.4,86.3 288.7,86.7 289,86.4 289.3,86.6 289.6,86.5 289.9,86.9 290.2,86.5 290.5,87.2 290.9,87.4 291.2,87.4 291.5,86.5 291.8,87.3 292.1,87.1 292.4,87.2 292.7,87.2 293.1,87.3 293.4,87.2 293.7,87.2 294,87.1 294.3,86.9 294.6,87.5 294.9,87.1 295.2,87.1 295.6,87.5 295.9,87.4 296.2,87.2 296.5,87.2 296.8,86.7 297.1,86.9 297.4,87.2 297.8,87.4 298.1,87.4 298.4,87.0 298.7,87.2 299,87.4 299.3,87.6 299.6,87.1 300,87.1 300.3,87.0 300.6,87.4 300.9,87.5 301.2,87.7 301.5,87.4 301.8,87.7 302.1,87.5 302.5,87.5 302.8,87.1 303.1,88.0 303.4,87.4 303.7,87.9 304,87.7 304.3,87.4 304.7,87.4 305,87.8 305.3,87.4 305.6,87.3 305.9,87.3 306.2,87.3 306.5,87.4 306.8,88.0 307.2,87.6 307.5,87.9 307.8,87.7 308.1,87.6 308.4,87.5 308.7,87.3 309,87.7 309.4,87.7 309.7,87.7 310,87.6 310.3,87.8 310.6,87.5 310.9,87.3 311.2,87.5 311.5,87.2 311.9,87.8 312.2,88.2 312.5,87.7 312.5,135.9 312.5,135.7 312.8,131.5 313.1,128.1 313.4,124.3 313.7,121.9 314.1,119.9 314.4,118.3 314.7,116.5 315,115.0 315.3,114.0 315.6,113.0 315.9,112.5 316.3,112.1 316.6,111.6 316.9,110.8 317.2,110.8 317.5,109.8 317.8,110.0 318.1,110.1 318.4,109.5 318.8,109.2 319.1,109.5 319.4,109.4 319.7,108.8 320,108.1 320.3,108.8 320.6,109.0 321,108.1 321.3,108.9 321.6,107.9 321.9,108.4 322.2,108.3 322.5,108.1 322.8,107.6 323.1,108.0 323.5,107.2 323.8,107.6 324.1,107.5 324.4,107.5 324.7,107.0 325,107.1 325.3,106.7 325.7,107.7 326,107.2 326.3,106.9 326.6,107.1 326.9,107.0 327.2,107.4 327.5,106.7 327.9,107.2 328.2,106.3 328.5,106.7 328.8,106.8 329.1,106.6 329.4,106.9 329.7,106.6 330,106.3 330.4,106.3 330.7,106.8 331,106.4 331.3,106.3 331.6,105.9 331.9,105.9 332.2,106.0 332.6,106.4 332.9,106.5 333.2,106.0 333.5,106.7 333.8,106.2 334.1,106.1 334.4,106.1 334.7,105.8 335.1,106.3 335.4,106.0 335.7,106.1 336,105.4 336.3,105.5 336.6,106.1 336.9,106.3 337.3,105.7 337.6,105.7 337.9,105.8 338.2,105.6 338.5,105.4 338.8,105.4 339.1,106.1 339.5,105.5 339.8,105.9 340.1,105.2 340.4,105.8 340.7,106.0 341,105.5 341.3,105.9 341.6,105.6 342,106.3 342.3,105.5 342.6,105.4 342.9,105.2 343.2,105.4 343.5,105.7 343.8,105.4 343.8,75.7 344.2,80.6 344.5,82.7 344.8,84.6 345.1,86.1 345.4,86.3 345.7,87.0 346,87.3 346.3,87.4 346.7,88.0 347,87.4 347.3,88.0 347.6,88.4 347.9,88.7 348.2,88.5 348.5,88.5 348.9,89.5 349.2,89.3 349.5,89.4 349.8,89.4 350.1,89.8 350.4,89.7 350.7,89.3 351.1,89.8 351.4,90.2 351.7,89.5 352,89.9 352.3,90.2 352.6,90.3 352.9,90.2 353.2,90.5 353.6,90.6 353.9,91.1 354.2,90.4 354.5,90.7 354.8,90.5 355.1,91.2 355.4,91.0 355.8,91.2 356.1,91.2 356.4,91.6 356.7,91.1 357,91.3 357.3,91.4 357.6,91.0 357.9,90.9 358.3,91.6 358.6,91.5 358.9,91.7 359.2,91.5 359.5,91.5 359.8,91.5 360.1,91.7 360.5,91.6 360.8,91.6 361.1,92.1 361.4,92.1 361.7,91.8 362,92.3 362.3,91.7 362.7,92.2 363,92.3 363.3,91.9 363.6,92.5 363.9,91.7 364.2,92.0 364.5,91.9 364.8,92.5 365.2,92.2 365.5,91.9 365.8,92.1 366.1,92.0 366.4,92.5 366.7,92.0 367,92.0 367.4,92.4 367.7,92.1 368,92.4 368.3,92.4 368.6,92.2 368.9,91.9 369.2,91.7 369.5,92.4 369.9,92.3 370.2,92.6 370.5,92.5 370.8,92.4 371.1,92.3 371.4,92.7 371.7,91.5 372.1,92.0 372.4,92.6 372.7,92.5 373,92.3 373.3,92.4 373.6,92.8 373.9,92.7 374.2,92.6 374.6,92.1 374.9,92.9 375.2,92.4 375.5,92.8 375.8,92.8 376.1,92.1 376.4,92.2 376.8,92.2 377.1,92.3 377.4,92.8 377.7,93.0 378,92.7 378.3,92.6 378.6,92.5 379,93.1 379.3,92.7 379.6,92.5 379.9,92.7 380.2,92.9 380.5,92.6 380.8,92.6 381.1,92.3 381.5,92.9 381.8,92.5 382.1,93.0 382.4,92.8 382.7,92.8 383,92.6 383.3,92.9 383.7,92.5 384,92.9 384.3,93.3 384.6,93.5 384.9,92.5 385.2,93.0 385.5,92.9 385.8,92.7 386.2,93.1 386.5,92.5 386.8,93.0 387.1,92.6 387.4,93.3 387.7,93.0 388,93.6 388.4,93.3 388.7,93.0 389,92.5 389.3,92.2 389.6,93.0 389.9,92.8 390.2,93.2 390.6,92.7 390.9,93.0 391.2,92.7 391.5,93.1 391.8,93.1 392.1,92.5 392.4,93.0 392.7,93.3 393.1,93.1 393.4,93.3 393.7,92.7 394,92.5 394.3,92.8 394.6,92.6 394.9,93.5 395.3,93.0 395.6,93.3 395.9,93.5 396.2,93.1 396.5,92.4 396.8,92.3 397.1,93.2 397.4,93.3 397.8,92.7 398.1,93.2 398.4,93.2 398.7,93.1 399,92.7 399.3,93.4 399.6,92.8 400,93.2 400.3,92.6 400.6,92.8 400.9,93.3 401.2,92.8 401.5,92.6 401.8,93.0 402.2,93.0 402.5,92.7 402.8,93.2 403.1,93.3 403.4,93.2 403.7,93.6 404,92.9 404.3,93.5 404.7,93.1 405,92.7 405.3,92.7 405.6,92.6 405.9,92.5 406.2,93.2 406.5,92.6 406.9,93.0 407.2,93.2 407.5,93.1 407.8,93.4 408.1,92.8 408.4,92.9 408.7,93.5 409,93.4 409.4,93.1 409.7,92.8 410,92.9 410.3,93.4 410.6,93.7 410.9,93.0 411.2,93.1 411.6,92.9 411.9,93.5 412.2,93.2 412.5,93.3 412.8,93.0 413.1,93.5 413.4,93.3 413.8,93.5 414.1,93.1 414.4,93.0 414.7,93.3 415,93.3 415.3,93.6 415.6,93.6 415.9,92.8 416.3,92.7 416.6,93.6 416.9,93.1 417.2,93.1 417.5,93.4 417.8,93.3 418.1,93.2 418.5,93.4 418.8,93.1 419.1,93.2 419.4,93.1 419.7,93.3 420,93.1 420.3,93.7 420.6,93.4 421,93.2 421.3,93.6 421.6,93.4 421.9,93.5 422.2,93.4" fill="none" stroke="#c38ef0" stroke-width="0.9" stroke-linejoin="round" />
<polyline points="265.5,93.4 265.8,94.1 266.1,94.1 266.4,93.7 266.7,94.5 267,93.4 267.3,94.1 267.7,93.7 268,93.8 268.3,94.1 268.6,94.1 268.9,94.0 269.2,93.4 269.5,94.1 269.9,93.6 270.2,93.8 270.5,93.9 270.8,93.4 271.1,94.1 271.4,93.7 271.7,93.5 272,93.6 272.4,93.4 272.7,93.5 273,93.9 273.3,93.9 273.6,94.2 273.9,94.5 274.2,94.1 274.6,93.1 274.9,94.0 275.2,93.9 275.5,94.0 275.8,94.1 276.1,93.9 276.4,94.1 276.8,94.0 277.1,94.4 277.4,93.6 277.7,93.5 278,93.7 278.3,94.6 278.6,93.2 278.9,93.7 279.3,93.5 279.6,93.8 279.9,93.9 280.2,93.5 280.5,94.2 280.8,94.4 281.1,93.8 281.1,75.8 281.5,79.5 281.8,81.3 282.1,82.8 282.4,84.4 282.7,85.1 283,85.0 283.3,85.8 283.6,86.3 284,85.9 284.3,85.7 284.6,86.4 284.9,86.7 285.2,86.4 285.5,86.6 285.8,86.3 286.2,86.6 286.5,86.5 286.8,86.7 287.1,86.8 287.4,86.6 287.7,86.7 288,86.3 288.4,86.2 288.7,86.6 289,86.8 289.3,86.7 289.6,86.8 289.9,86.8 290.2,86.7 290.5,86.7 290.9,86.9 291.2,87.2 291.5,86.9 291.8,86.5 292.1,86.7 292.4,86.8 292.7,87.1 293.1,87.4 293.4,86.3 293.7,86.9 294,86.9 294.3,87.8 294.6,86.9 294.9,87.3 295.2,87.6 295.6,87.0 295.9,87.2 296.2,87.2 296.5,87.3 296.8,87.0 297.1,87.3 297.4,87.1 297.8,87.1 298.1,87.8 298.4,86.9 298.7,87.6 299,87.3 299.3,87.3 299.6,87.2 300,87.4 300.3,87.6 300.6,87.1 300.9,87.6 301.2,86.8 301.5,87.2 301.8,87.1 302.1,87.4 302.5,87.7 302.8,87.3 303.1,87.6 303.4,87.4 303.7,87.9 304,87.0 304.3,87.0 304.7,87.4 305,86.9 305.3,87.6 305.6,87.6 305.9,87.3 306.2,87.3 306.5,87.6 306.8,87.7 307.2,87.5 307.5,87.8 307.8,87.4 308.1,87.7 308.4,87.9 308.7,87.9 309,87.3 309.4,87.4 309.7,87.4 310,87.7 310.3,87.8 310.6,87.3 310.9,87.3 311.2,87.7 311.5,87.0 311.9,88.0 312.2,87.7 312.5,87.7 312.5,135.9 312.5,135.6 312.8,132.2 313.1,128.7 313.4,125.8 313.7,124.5 314.1,121.9 314.4,120.4 314.7,119.2 315,118.0 315.3,117.3 315.6,116.2 315.9,116.0 316.3,115.2 316.6,114.8 316.9,114.6 317.2,113.6 317.5,113.6 317.8,113.6 318.1,113.4 318.4,112.8 318.8,112.5 319.1,112.8 319.4,111.8 319.7,112.5 320,111.5 320.3,111.6 320.6,112.1 321,111.7 321.3,111.3 321.6,111.8 321.9,111.5 322.2,111.1 322.5,111.3 322.8,111.2 323.1,110.9 323.5,111.1 323.8,111.0 324.1,110.3 324.4,110.7 324.7,110.7 325,110.7 325.3,110.2 325.7,110.7 326,109.9 326.3,110.1 326.6,110.1 326.9,110.2 327.2,110.0 327.5,110.1 327.9,110.1 328.2,110.5 328.5,109.8 328.8,110.0 329.1,109.7 329.4,109.7 329.7,109.4 330,109.5 330.4,110.0 330.7,109.5 331,109.6 331.3,109.1 331.6,109.6 331.9,109.5 332.2,109.4 332.6,109.6 332.9,109.3 333.2,109.0 333.5,109.3 333.8,109.3 334.1,109.6 334.4,109.0 334.7,109.1 335.1,109.4 335.4,109.0 335.7,109.6 336,109.6 336.3,108.9 336.6,109.1 336.9,109.1 337.3,108.6 337.6,108.6 337.9,109.1 338.2,109.0 338.5,108.6 338.8,108.5 339.1,108.3 339.5,108.2 339.8,108.9 340.1,108.7 340.4,108.5 340.7,108.2 341,108.3 341.3,108.6 341.6,108.1 342,108.5 342.3,108.3 342.6,107.7 342.9,108.6 343.2,108.2 343.5,107.8 343.8,108.4 343.8,75.8 344.2,79.2 344.5,82.2 344.8,83.3 345.1,84.4 345.4,85.4 345.7,85.1 346,86.0 346.3,86.5 346.7,86.7 347,86.4 347.3,87.0 347.6,87.6 347.9,87.0 348.2,87.2 348.5,87.7 348.9,87.7 349.2,87.8 349.5,88.5 349.8,87.9 350.1,88.5 350.4,88.0 350.7,87.6 351.1,88.6 351.4,88.9 351.7,88.7 352,89.4 352.3,89.0 352.6,89.3 352.9,89.3 353.2,89.0 353.6,89.8 353.9,89.9 354.2,90.0 354.5,90.0 354.8,90.1 355.1,90.1 355.4,90.3 355.8,90.1 356.1,89.8 356.4,90.3 356.7,90.5 357,90.0 357.3,90.3 357.6,90.7 357.9,90.3 358.3,91.3 358.6,90.8 358.9,91.0 359.2,90.9 359.5,91.1 359.8,90.8 360.1,90.6 360.5,90.5 360.8,90.5 361.1,90.7 361.4,90.4 361.7,91.0 362,90.8 362.3,90.9 362.7,90.9 363,91.4 363.3,91.0 363.6,91.0 363.9,91.8 364.2,91.3 364.5,91.8 364.8,91.3 365.2,91.4 365.5,91.6 365.8,91.1 366.1,92.0 366.4,92.1 366.7,91.5 367,92.0 367.4,91.7 367.7,91.5 368,92.2 368.3,91.4 368.6,91.7 368.9,92.1 369.2,91.7 369.5,92.0 369.9,91.5 370.2,91.8 370.5,91.9 370.8,91.5 371.1,91.7 371.4,91.8 371.7,91.9 372.1,92.0 372.4,91.9 372.7,91.5 373,92.1 373.3,92.4 373.6,92.1 373.9,92.0 374.2,92.1 374.6,92.3 374.9,91.7 375.2,92.6 375.5,92.1 375.8,92.7 376.1,92.0 376.4,91.9 376.8,92.3 377.1,92.5 377.4,92.4 377.7,92.3 378,92.4 378.3,92.4 378.6,92.6 379,92.3 379.3,92.5 379.6,92.2 379.9,92.3 380.2,92.1 380.5,92.3 380.8,92.2 381.1,91.9 381.5,92.7 381.8,92.5 382.1,92.6 382.4,93.1 382.7,91.8 383,92.6 383.3,92.5 383.7,92.8 384,92.3 384.3,92.3 384.6,92.2 384.9,92.7 385.2,93.1 385.5,92.3 385.8,92.6 386.2,92.6 386.5,92.4 386.8,92.0 387.1,92.8 387.4,92.1 387.7,92.9 388,92.2 388.4,92.9 388.7,93.0 389,92.5 389.3,92.3 389.6,92.6 389.9,92.6 390.2,92.3 390.6,92.6 390.9,92.9 391.2,92.8 391.5,93.0 391.8,92.2 392.1,92.4 392.4,92.7 392.7,92.6 393.1,93.0 393.4,92.3 393.7,93.2 394,93.0 394.3,92.9 394.6,92.6 394.9,92.3 395.3,92.3 395.6,93.0 395.9,92.7 396.2,93.3 396.5,92.9 396.8,92.4 397.1,93.1 397.4,92.7 397.8,92.8 398.1,93.0 398.4,92.4 398.7,92.5 399,93.2 399.3,92.4 399.6,92.5 400,92.4 400.3,92.5 400.6,92.7 400.9,92.7 401.2,92.5 401.5,92.7 401.8,92.9 402.2,92.2 402.5,92.7 402.8,92.8 403.1,92.3 403.4,93.2 403.7,92.9 404,92.8 404.3,93.0 404.7,93.0 405,92.8 405.3,92.8 405.6,92.5 405.9,93.0 406.2,93.0 406.5,92.6 406.9,93.1 407.2,93.4 407.5,92.5 407.8,93.5 408.1,93.3 408.4,93.3 408.7,92.9 409,93.5 409.4,92.9 409.7,93.2 410,92.8 410.3,92.6 410.6,93.2 410.9,93.4 411.2,92.6 411.6,93.0 411.9,92.8 412.2,92.7 412.5,92.9 412.8,93.3 413.1,93.5 413.4,93.2 413.8,93.1 414.1,93.2 414.4,92.8 414.7,93.1 415,92.9 415.3,93.1 415.6,92.5 415.9,93.2 416.3,93.0 416.6,93.1 416.9,93.1 417.2,93.5 417.5,93.0 417.8,92.6 418.1,93.4 418.5,93.3 418.8,92.9 419.1,93.4 419.4,93.4 419.7,92.7 420,92.8 420.3,92.7 420.6,93.6 421,92.6 421.3,92.8 421.6,93.2 421.9,93.5 422.2,93.5" fill="none" stroke="#e2a526" stroke-width="1" stroke-linejoin="round" />
</g>
<g clip-path="url(#cb3)">
<polyline points="265.5,228.0 265.7,227.9 266,227.7 266.2,227.9 266.5,228.0 266.7,228.0 267,227.9 267.2,227.9 267.5,228.0 267.7,227.8 268,228.1 268.2,227.9 268.5,227.7 268.7,227.8 269,227.9 269.2,227.9 269.5,228.0 269.7,228.0 270,228.1 270.2,227.9 270.5,227.9 270.7,227.5 271,228.0 271.2,227.5 271.5,227.9 271.7,227.9 272,227.9 272.2,227.8 272.5,227.3 272.7,227.9 273,227.9 273.2,227.7 273.5,227.8 273.7,227.9 274,228.1 274.2,227.9 274.5,228.0 274.7,227.8 275,228.1 275.2,227.7 275.5,227.9 275.7,227.7 276,228.0 276.2,228.0 276.5,227.4 276.8,227.8 277,227.9 277.3,228.0 277.5,228.0 277.8,227.9 278,227.7 278.3,228.1 278.5,227.9 278.8,228.1 279,227.8 279.3,227.6 279.5,227.6 279.8,227.9 280,227.9 280.3,228.0 280.5,228.0 280.8,227.9 281,227.6 281.3,228.1 281.5,227.7 281.8,227.4 282,228.1 282.3,227.8 282.5,228.0 282.8,228.0 283,227.8 283.3,227.4 283.5,228.0 283.8,227.9 284,227.5 284.3,227.8 284.5,227.9 284.8,228.1 285,227.8 285.3,227.5 285.5,228.0 285.8,227.6 286,227.6 286.3,227.9 286.5,228.0 286.8,227.9 287,227.6 287.3,227.9 287.5,228.0 287.8,227.9 288,227.5 288.3,227.6 288.5,227.8 288.8,227.9 289,228.1 289.3,227.8 289.5,227.9 289.8,227.7 290,227.9 290.3,228.1 290.5,227.3 290.8,228.0 291,227.4 291.3,227.8 291.5,227.7 291.8,227.5 292,227.5 292.3,228.1 292.6,227.8 292.8,228.1 293.1,227.6 293.3,227.9 293.6,227.6 293.8,228.1 294.1,227.7 294.3,227.6 294.6,227.8 294.8,227.7 295.1,227.9 295.3,227.5 295.6,227.2 295.8,227.6 296.1,227.6 296.3,227.9 296.6,227.8 296.8,227.8 297.1,227.9 297.3,227.9 297.6,227.7 297.8,228.1 298.1,227.6 298.3,227.8 298.6,227.9 298.8,228.1 299.1,228.0 299.3,227.8 299.6,227.9 299.8,227.8 300.1,227.2 300.3,228.1 300.6,227.8 300.8,227.7 301.1,228.1 301.3,227.8 301.6,227.8 301.8,228.0 302.1,227.4 302.3,227.9 302.6,228.0 302.8,227.5 303.1,228.0 303.3,227.3 303.6,227.8 303.8,228.1 304.1,227.7 304.3,227.8 304.6,227.9 304.8,227.1 305.1,227.8 305.3,227.8 305.6,227.7 305.8,227.8 306.1,228.0 306.3,227.8 306.6,228.0 306.8,228.1 307.1,227.9 307.3,227.9 307.6,227.7 307.9,227.9 308.1,227.6 308.4,227.9 308.6,227.6 308.9,227.8 309.1,227.9 309.4,227.6 309.6,228.0 309.9,227.8 310.1,227.7 310.4,228.0 310.6,227.8 310.9,228.1 311.1,227.8 311.4,228.1 311.6,227.8 311.9,227.9 312.1,227.6 312.4,227.9 312.6,228.0 312.9,227.6 313.1,228.0 313.4,227.9 313.6,227.6 313.9,228.0 314.1,227.6 314.4,227.6 314.6,227.2 314.9,228.1 315.1,227.8 315.4,228.0 315.6,227.4 315.9,228.0 316.1,228.1 316.4,227.2 316.6,227.3 316.9,227.5 317.1,227.6 317.4,227.5 317.6,227.2 317.9,226.7 318.1,226.7 318.4,226.4 318.6,226.2 318.9,225.7 319.1,224.9 319.4,224.7 319.6,223.6 319.9,223.1 320.1,222.1 320.4,221.1 320.6,220.8 320.9,219.6 321.1,219.2 321.4,218.5 321.6,217.7 321.9,216.6 322.1,216.0 322.4,215.2 322.6,215.0 322.9,214.5 323.1,214.3 323.4,214.0 323.7,213.8 323.9,213.7 324.2,213.7 324.4,213.4 324.7,212.6 324.9,213.4 325.2,213.0 325.4,212.9 325.7,212.7 325.9,212.4 326.2,212.2 326.4,211.8 326.7,211.9 326.9,211.5 327.2,210.8 327.4,210.4 327.7,210.3 327.9,209.9 328.2,209.0 328.4,209.2 328.7,208.9 328.9,208.4 329.2,208.0 329.4,207.7 329.7,207.2 329.9,207.1 330.2,207.0 330.4,206.5 330.7,206.8 330.9,206.4 331.2,206.7 331.4,206.7 331.7,206.8 331.9,206.7 332.2,206.9 332.4,206.6 332.7,206.8 332.9,207.0 333.2,207.1 333.4,206.8 333.7,207.5 333.9,207.6 334.2,207.7 334.4,207.7 334.7,207.6 334.9,208.0 335.2,208.1 335.4,208.3 335.7,207.9 335.9,208.4 336.2,208.7 336.4,208.5 336.7,208.6 336.9,208.4 337.2,208.9 337.4,208.4 337.7,209.3 337.9,209.2 338.2,209.4 338.4,209.3 338.7,209.1 338.9,209.6 339.2,209.7 339.5,209.9 339.7,209.9 340,210.3 340.2,210.3 340.5,210.0 340.7,210.7 341,209.9 341.2,210.7 341.5,210.3 341.7,211.1 342,211.2 342.2,211.2 342.5,211.1 342.7,211.5 343,211.3 343.2,211.9 343.5,212.0 343.7,212.3 344,212.5 344.2,212.7 344.5,213.0 344.7,213.5 345,214.1 345.2,214.4 345.5,215.5 345.7,216.2 346,216.9 346.2,217.5 346.5,218.0 346.7,218.5 347,218.4 347.2,219.2 347.5,219.4 347.7,220.1 348,220.4 348.2,220.5 348.5,220.9 348.7,221.3 349,221.0 349.2,221.8 349.5,222.1 349.7,221.6 350,222.0 350.2,222.8 350.5,222.9 350.7,222.6 351,222.7 351.2,222.5 351.5,223.5 351.7,223.6 352,224.0 352.2,223.8 352.5,224.0 352.7,224.5 353,224.3 353.2,224.8 353.5,224.5 353.7,225.1 354,224.8 354.2,225.0 354.5,225.3 354.7,225.0 355,225.2 355.3,225.2 355.5,225.1 355.8,225.6 356,225.7 356.3,225.8 356.5,225.4 356.8,226.0 357,225.9 357.3,226.0 357.5,225.8 357.8,226.2 358,226.5 358.3,226.6 358.5,226.4 358.8,226.8 359,226.9 359.3,227.0 359.5,226.7 359.8,226.9 360,226.6 360.3,226.8 360.5,227.0 360.8,226.7 361,227.1 361.3,227.0 361.5,227.1 361.8,227.5 362,227.3 362.3,227.4 362.5,227.4 362.8,227.5 363,227.2 363.3,227.5 363.5,227.6 363.8,226.8 364,227.2 364.3,227.5 364.5,227.3 364.8,227.5 365,227.4 365.3,227.5 365.5,227.4 365.8,227.3 366,227.3 366.3,227.4 366.5,227.8 366.8,227.8 367,227.8 367.3,227.3 367.5,227.8 367.8,227.9 368,227.6 368.3,227.5 368.5,227.8 368.8,228.0 369,227.8 369.3,227.8 369.5,227.9 369.8,227.7 370,227.8 370.3,227.9 370.6,227.5 370.8,227.0 371.1,227.7 371.3,227.9 371.6,228.0 371.8,227.8 372.1,228.0 372.3,228.0 372.6,228.0 372.8,227.7 373.1,227.6 373.3,228.0 373.6,228.0 373.8,227.9 374.1,228.1 374.3,227.8 374.6,227.8 374.8,228.0 375.1,228.0 375.3,227.7 375.6,227.5 375.8,227.7 376.1,227.9 376.3,227.8 376.6,228.0 376.8,227.9 377.1,227.8 377.3,228.0 377.6,227.3 377.8,227.8 378.1,228.1 378.3,227.6 378.6,228.1 378.8,227.8 379.1,227.8 379.3,228.0 379.6,227.7 379.8,227.8 380.1,227.6 380.3,227.8 380.6,227.7 380.8,227.6 381.1,228.1 381.3,227.8 381.6,227.8 381.8,227.9 382.1,227.6 382.3,227.9 382.6,228.1 382.8,228.1 383.1,227.3 383.3,227.8 383.6,228.1 383.8,228.1 384.1,227.7 384.3,227.7 384.6,227.9 384.8,228.0 385.1,228.0 385.3,227.9 385.6,227.9 385.8,228.0 386.1,227.7 386.4,227.9 386.6,227.9 386.9,227.7 387.1,228.1 387.4,227.5 387.6,228.1 387.9,228.0 388.1,227.8 388.4,227.8 388.6,228.0 388.9,227.7 389.1,228.0 389.4,228.1 389.6,228.0 389.9,227.7 390.1,227.8 390.4,227.9 390.6,227.5 390.9,227.9 391.1,227.9 391.4,228.0 391.6,227.8 391.9,227.9 392.1,227.9 392.4,227.9 392.6,228.0 392.9,227.6 393.1,227.7 393.4,228.1 393.6,228.0 393.9,227.8 394.1,227.9 394.4,227.7 394.6,227.7 394.9,227.8 395.1,228.1 395.4,227.8 395.6,228.1 395.9,227.8 396.1,227.9 396.4,227.7 396.6,228.0 396.9,227.8 397.1,228.1 397.4,227.6 397.6,227.9 397.9,227.9 398.1,228.1 398.4,227.7 398.6,228.0 398.9,228.1 399.1,227.9 399.4,227.7 399.6,228.1 399.9,227.7 400.1,227.5 400.4,227.8 400.6,227.9 400.9,227.9 401.1,227.8 401.4,228.0 401.6,227.7 401.9,227.8 402.2,227.8 402.4,227.9 402.7,227.5 402.9,227.4 403.2,227.9 403.4,227.9 403.7,227.8 403.9,227.9 404.2,228.1 404.4,227.6 404.7,227.9 404.9,227.9 405.2,227.9 405.4,227.8 405.7,227.6 405.9,228.0 406.2,227.7 406.4,227.0 406.7,227.4 406.9,227.9 407.2,227.8 407.4,227.9 407.7,227.7 407.9,227.6 408.2,227.7 408.4,227.9 408.7,227.4 408.9,227.9 409.2,227.5 409.4,228.1 409.7,228.0 409.9,227.6 410.2,228.0 410.4,227.6 410.7,228.0 410.9,228.0 411.2,227.6 411.4,227.9 411.7,227.9 411.9,227.5 412.2,228.1 412.4,227.9 412.7,227.9 412.9,227.2 413.2,227.9 413.4,228.1 413.7,227.9 413.9,228.1 414.2,227.6 414.4,227.8 414.7,227.8 414.9,227.7 415.2,227.6 415.4,227.8 415.7,228.0 415.9,227.6 416.2,227.8 416.4,227.6 416.7,227.8 416.9,227.9 417.2,228.0 417.4,227.4 417.7,227.9 418,228.0 418.2,227.7 418.5,228.1 418.7,227.5 419,227.8 419.2,227.7 419.5,228.0 419.7,227.6 420,227.9 420.2,227.5 420.5,227.5 420.7,227.9 421,227.5 421.2,227.7 421.5,227.9 421.7,227.9 422,227.8 422.2,227.7" fill="none" stroke="#444444" stroke-width="0.9" stroke-linejoin="round" />
<polyline points="265.5,227.4 265.7,228.1 266,227.8 266.2,227.5 266.5,227.9 266.7,228.1 267,228.0 267.2,228.0 267.5,227.9 267.7,228.0 268,227.7 268.2,227.4 268.5,227.3 268.7,227.7 269,227.8 269.2,227.7 269.5,228.1 269.7,228.1 270,227.8 270.2,228.0 270.5,228.0 270.7,227.9 271,228.1 271.2,227.9 271.5,228.1 271.7,227.4 272,228.0 272.2,227.5 272.5,228.0 272.7,227.9 273,228.1 273.2,228.0 273.5,227.4 273.7,227.6 274,227.7 274.2,228.1 274.5,227.8 274.7,228.1 275,227.8 275.2,227.5 275.5,227.9 275.7,227.5 276,228.1 276.2,228.0 276.5,227.6 276.8,228.1 277,227.9 277.3,227.9 277.5,227.8 277.8,228.0 278,228.0 278.3,227.9 278.5,227.7 278.8,228.1 279,227.9 279.3,227.8 279.5,227.8 279.8,227.6 280,227.5 280.3,228.1 280.5,227.7 280.8,227.9 281,228.0 281.3,228.1 281.5,227.9 281.8,227.9 282,228.0 282.3,227.5 282.5,228.1 282.8,227.8 283,228.0 283.3,227.2 283.5,227.8 283.8,227.9 284,227.5 284.3,228.0 284.5,227.9 284.8,227.8 285,228.0 285.3,227.9 285.5,227.7 285.8,227.9 286,227.5 286.3,227.8 286.5,228.0 286.8,227.6 287,227.7 287.3,227.4 287.5,228.1 287.8,228.0 288,228.0 288.3,227.5 288.5,227.6 288.8,227.3 289,227.7 289.3,228.1 289.5,227.9 289.8,227.9 290,227.8 290.3,228.1 290.5,228.0 290.8,227.8 291,228.0 291.3,227.4 291.5,227.9 291.8,227.8 292,228.0 292.3,227.2 292.6,228.1 292.8,227.9 293.1,228.0 293.3,228.0 293.6,227.6 293.8,227.7 294.1,227.9 294.3,228.1 294.6,227.3 294.8,227.7 295.1,228.0 295.3,227.8 295.6,227.8 295.8,227.5 296.1,227.9 296.3,227.7 296.6,228.0 296.8,227.5 297.1,228.0 297.3,227.8 297.6,227.9 297.8,227.6 298.1,227.7 298.3,228.0 298.6,227.7 298.8,228.1 299.1,228.0 299.3,227.7 299.6,227.9 299.8,227.4 300.1,227.9 300.3,227.9 300.6,228.0 300.8,227.9 301.1,228.0 301.3,227.9 301.6,227.9 301.8,228.1 302.1,228.0 302.3,228.0 302.6,227.9 302.8,227.8 303.1,227.6 303.3,228.0 303.6,227.9 303.8,227.9 304.1,228.0 304.3,227.8 304.6,227.5 304.8,227.9 305.1,227.9 305.3,228.0 305.6,227.6 305.8,227.7 306.1,227.4 306.3,227.1 306.6,227.8 306.8,228.0 307.1,227.6 307.3,227.9 307.6,227.9 307.9,227.9 308.1,228.0 308.4,227.6 308.6,228.1 308.9,227.9 309.1,227.9 309.4,227.5 309.6,227.8 309.9,227.7 310.1,228.0 310.4,228.0 310.6,228.0 310.9,228.0 311.1,227.2 311.4,227.8 311.6,228.0 311.9,228.1 312.1,227.7 312.4,227.8 312.6,227.9 312.9,228.0 313.1,228.0 313.4,227.6 313.6,227.6 313.9,227.8 314.1,227.3 314.4,227.7 314.6,228.0 314.9,227.9 315.1,227.8 315.4,227.9 315.6,227.9 315.9,227.6 316.1,227.2 316.4,228.0 316.6,228.0 316.9,228.1 317.1,228.0 317.4,227.3 317.6,227.9 317.9,227.6 318.1,226.5 318.4,226.1 318.6,225.3 318.9,224.3 319.1,222.8 319.4,220.6 319.6,218.5 319.9,215.8 320.1,213.3 320.4,209.8 320.6,207.6 320.9,203.9 321.1,200.1 321.4,195.6 321.6,192.3 321.9,188.9 322.1,187.6 322.4,185.7 322.6,184.2 322.9,183.6 323.1,183.3 323.4,183.6 323.7,183.4 323.9,183.6 324.2,183.7 324.4,184.6 324.7,184.7 324.9,185.2 325.2,185.3 325.4,185.5 325.7,185.7 325.9,185.9 326.2,186.3 326.4,186.0 326.7,186.7 326.9,187.2 327.2,186.9 327.4,187.7 327.7,188.0 327.9,187.8 328.2,188.1 328.4,188.5 328.7,188.4 328.9,189.3 329.2,188.7 329.4,190.0 329.7,190.1 329.9,190.6 330.2,190.6 330.4,191.4 330.7,191.5 330.9,192.3 331.2,192.5 331.4,192.9 331.7,193.3 331.9,194.2 332.2,194.2 332.4,195.0 332.7,195.4 332.9,195.4 333.2,196.2 333.4,196.6 333.7,196.8 333.9,197.4 334.2,197.7 334.4,198.3 334.7,198.8 334.9,199.1 335.2,199.4 335.4,199.8 335.7,200.1 335.9,200.6 336.2,200.7 336.4,201.7 336.7,201.8 336.9,202.2 337.2,202.4 337.4,202.9 337.7,203.1 337.9,203.6 338.2,203.8 338.4,204.3 338.7,204.3 338.9,204.7 339.2,205.3 339.5,205.1 339.7,205.6 340,205.4 340.2,206.3 340.5,206.6 340.7,206.9 341,206.9 341.2,207.1 341.5,207.4 341.7,207.9 342,207.9 342.2,208.3 342.5,208.4 342.7,208.7 343,209.0 343.2,209.3 343.5,209.4 343.7,209.8 344,209.6 344.2,210.5 344.5,210.6 344.7,210.9 345,211.3 345.2,211.1 345.5,211.8 345.7,211.9 346,212.1 346.2,212.3 346.5,212.9 346.7,213.0 347,213.5 347.2,213.6 347.5,213.6 347.7,214.0 348,214.2 348.2,214.7 348.5,215.1 348.7,215.2 349,215.3 349.2,215.7 349.5,215.7 349.7,216.3 350,216.5 350.2,216.8 350.5,216.6 350.7,217.2 351,217.1 351.2,217.7 351.5,218.1 351.7,218.3 352,218.5 352.2,218.6 352.5,218.7 352.7,218.7 353,219.2 353.2,219.2 353.5,219.4 353.7,219.2 354,219.6 354.2,220.2 354.5,220.3 354.7,220.2 355,220.3 355.3,220.8 355.5,221.0 355.8,221.0 356,220.9 356.3,221.1 356.5,221.4 356.8,221.8 357,222.0 357.3,222.0 357.5,221.6 357.8,222.1 358,222.1 358.3,222.4 358.5,222.8 358.8,222.8 359,223.1 359.3,223.0 359.5,222.7 359.8,223.4 360,223.2 360.3,223.4 360.5,223.5 360.8,223.9 361,223.9 361.3,223.5 361.5,223.9 361.8,224.2 362,224.3 362.3,224.3 362.5,224.4 362.8,224.2 363,224.5 363.3,224.5 363.5,224.7 363.8,224.7 364,224.8 364.3,224.4 364.5,224.7 364.8,224.6 365,224.9 365.3,225.0 365.5,224.8 365.8,225.2 366,225.1 366.3,225.3 366.5,225.1 366.8,225.1 367,225.4 367.3,225.2 367.5,225.4 367.8,225.4 368,225.6 368.3,225.2 368.5,225.5 368.8,225.3 369,225.6 369.3,225.9 369.5,225.4 369.8,225.7 370,225.6 370.3,225.6 370.6,226.1 370.8,225.8 371.1,225.5 371.3,225.8 371.6,226.2 371.8,226.1 372.1,226.2 372.3,226.2 372.6,226.3 372.8,226.0 373.1,226.5 373.3,226.1 373.6,226.4 373.8,226.2 374.1,226.3 374.3,226.3 374.6,225.6 374.8,226.6 375.1,226.5 375.3,226.5 375.6,226.5 375.8,226.6 376.1,226.6 376.3,226.9 376.6,226.7 376.8,226.5 377.1,226.9 377.3,226.8 377.6,226.5 377.8,226.5 378.1,226.7 378.3,227.0 378.6,226.7 378.8,227.1 379.1,227.1 379.3,227.0 379.6,226.7 379.8,226.9 380.1,226.8 380.3,227.1 380.6,226.7 380.8,227.1 381.1,227.1 381.3,226.8 381.6,226.5 381.8,226.8 382.1,227.1 382.3,227.1 382.6,227.1 382.8,227.4 383.1,227.3 383.3,227.4 383.6,227.3 383.8,227.3 384.1,227.3 384.3,227.2 384.6,227.0 384.8,227.5 385.1,227.4 385.3,227.0 385.6,227.4 385.8,227.2 386.1,226.7 386.4,227.5 386.6,227.5 386.9,227.3 387.1,227.0 387.4,227.5 387.6,227.1 387.9,227.6 388.1,227.6 388.4,227.4 388.6,227.7 388.9,227.4 389.1,227.5 389.4,227.7 389.6,227.7 389.9,227.8 390.1,227.5 390.4,226.8 390.6,227.8 390.9,227.4 391.1,227.8 391.4,227.4 391.6,227.4 391.9,227.6 392.1,227.2 392.4,227.9 392.6,227.7 392.9,227.2 393.1,227.8 393.4,227.5 393.6,227.5 393.9,227.5 394.1,227.9 394.4,228.0 394.6,227.9 394.9,228.0 395.1,227.5 395.4,227.8 395.6,227.9 395.9,227.4 396.1,228.0 396.4,227.9 396.6,227.9 396.9,227.5 397.1,228.0 397.4,227.9 397.6,227.8 397.9,227.6 398.1,227.6 398.4,228.1 398.6,227.8 398.9,227.9 399.1,228.1 399.4,227.7 399.6,228.0 399.9,227.5 400.1,228.1 400.4,228.0 400.6,228.0 400.9,227.8 401.1,228.0 401.4,227.8 401.6,227.9 401.9,227.9 402.2,227.9 402.4,227.5 402.7,227.7 402.9,227.8 403.2,227.4 403.4,228.1 403.7,227.7 403.9,227.6 404.2,227.7 404.4,228.1 404.7,228.0 404.9,227.4 405.2,228.1 405.4,227.7 405.7,228.0 405.9,227.9 406.2,228.0 406.4,227.7 406.7,227.7 406.9,228.1 407.2,228.0 407.4,227.9 407.7,227.8 407.9,227.5 408.2,227.6 408.4,227.5 408.7,227.9 408.9,228.1 409.2,228.1 409.4,227.9 409.7,228.1 409.9,228.0 410.2,227.8 410.4,227.7 410.7,228.1 410.9,227.9 411.2,228.0 411.4,227.7 411.7,227.6 411.9,227.9 412.2,228.0 412.4,227.9 412.7,227.7 412.9,228.1 413.2,228.0 413.4,227.4 413.7,227.8 413.9,227.7 414.2,227.4 414.4,227.6 414.7,227.9 414.9,227.9 415.2,227.5 415.4,227.8 415.7,228.0 415.9,227.9 416.2,227.6 416.4,227.5 416.7,227.4 416.9,228.0 417.2,227.9 417.4,227.4 417.7,227.9 418,227.7 418.2,228.0 418.5,227.6 418.7,227.8 419,227.7 419.2,227.9 419.5,227.9 419.7,227.7 420,227.9 420.2,228.1 420.5,227.9 420.7,227.7 421,227.3 421.2,227.7 421.5,228.0 421.7,227.8 422,227.9 422.2,227.5" fill="none" stroke="#ff3b3b" stroke-width="0.9" stroke-linejoin="round" />
<polyline points="265.5,228.0 265.7,227.9 266,228.0 266.2,227.9 266.5,228.1 266.7,228.0 267,227.8 267.2,227.9 267.5,227.4 267.7,228.0 268,227.6 268.2,228.0 268.5,228.0 268.7,227.8 269,227.7 269.2,228.0 269.5,227.8 269.7,227.7 270,228.0 270.2,228.0 270.5,227.5 270.7,227.8 271,228.0 271.2,227.9 271.5,227.9 271.7,228.0 272,227.9 272.2,227.6 272.5,228.0 272.7,228.0 273,227.6 273.2,227.8 273.5,227.8 273.7,227.7 274,227.9 274.2,227.6 274.5,228.0 274.7,227.4 275,228.0 275.2,227.9 275.5,227.9 275.7,227.8 276,227.6 276.2,228.0 276.5,227.3 276.8,227.9 277,227.9 277.3,227.8 277.5,227.5 277.8,227.8 278,227.9 278.3,227.6 278.5,227.9 278.8,227.9 279,227.9 279.3,228.1 279.5,227.9 279.8,227.4 280,227.6 280.3,227.9 280.5,227.8 280.8,228.1 281,227.4 281.3,227.4 281.5,227.8 281.8,228.0 282,228.0 282.3,228.0 282.5,227.6 282.8,228.0 283,228.0 283.3,227.9 283.5,227.8 283.8,227.9 284,227.7 284.3,227.9 284.5,228.1 284.8,227.8 285,228.0 285.3,227.5 285.5,227.8 285.8,227.9 286,227.7 286.3,227.8 286.5,227.7 286.8,227.4 287,227.3 287.3,228.0 287.5,227.9 287.8,228.0 288,227.9 288.3,227.9 288.5,227.8 288.8,227.7 289,227.7 289.3,228.0 289.5,228.0 289.8,228.1 290,227.4 290.3,227.7 290.5,227.9 290.8,227.8 291,227.9 291.3,227.8 291.5,227.8 291.8,227.9 292,227.5 292.3,227.8 292.6,228.0 292.8,228.1 293.1,227.9 293.3,227.5 293.6,227.9 293.8,228.0 294.1,228.0 294.3,227.6 294.6,228.0 294.8,227.4 295.1,227.9 295.3,227.8 295.6,227.9 295.8,227.9 296.1,227.6 296.3,228.0 296.6,227.9 296.8,227.9 297.1,227.8 297.3,228.1 297.6,227.7 297.8,228.0 298.1,227.7 298.3,227.6 298.6,227.6 298.8,227.7 299.1,227.9 299.3,228.0 299.6,228.0 299.8,227.8 300.1,228.0 300.3,227.6 300.6,228.0 300.8,228.1 301.1,227.5 301.3,228.1 301.6,228.1 301.8,227.5 302.1,227.4 302.3,228.0 302.6,228.1 302.8,228.0 303.1,227.9 303.3,228.0 303.6,227.8 303.8,227.5 304.1,227.8 304.3,228.1 304.6,228.0 304.8,228.0 305.1,227.9 305.3,227.7 305.6,227.5 305.8,228.0 306.1,228.0 306.3,228.1 306.6,227.9 306.8,228.0 307.1,228.0 307.3,227.3 307.6,227.5 307.9,227.7 308.1,227.8 308.4,227.6 308.6,228.0 308.9,227.9 309.1,228.1 309.4,227.9 309.6,228.1 309.9,227.6 310.1,228.1 310.4,227.5 310.6,227.9 310.9,228.0 311.1,227.8 311.4,227.9 311.6,227.7 311.9,228.0 312.1,228.0 312.4,228.0 312.6,227.8 312.9,227.8 313.1,227.9 313.4,228.0 313.6,228.0 313.9,227.5 314.1,227.7 314.4,228.1 314.6,227.7 314.9,227.8 315.1,227.8 315.4,228.0 315.6,228.0 315.9,227.6 316.1,225.7 316.4,224.1 316.6,222.1 316.9,218.2 317.1,212.3 317.4,205.6 317.6,198.4 317.9,192.1 318.1,187.1 318.4,182.4 318.6,178.3 318.9,173.9 319.1,170.1 319.4,167.7 319.6,166.1 319.9,165.4 320.1,166.0 320.4,166.8 320.6,167.7 320.9,168.5 321.1,169.8 321.4,170.4 321.6,171.0 321.9,171.5 322.1,172.3 322.4,172.4 322.6,173.3 322.9,173.8 323.1,174.4 323.4,175.0 323.7,175.1 323.9,175.7 324.2,176.4 324.4,176.9 324.7,177.6 324.9,178.0 325.2,179.2 325.4,179.7 325.7,180.3 325.9,181.2 326.2,181.9 326.4,182.3 326.7,183.4 326.9,184.2 327.2,184.6 327.4,185.8 327.7,186.5 327.9,187.0 328.2,187.9 328.4,188.6 328.7,189.1 328.9,189.9 329.2,190.6 329.4,191.1 329.7,191.9 329.9,192.6 330.2,193.0 330.4,193.8 330.7,194.4 330.9,194.9 331.2,195.7 331.4,195.9 331.7,196.5 331.9,197.2 332.2,197.4 332.4,197.9 332.7,198.1 332.9,198.6 333.2,199.3 333.4,199.7 333.7,199.8 333.9,200.0 334.2,200.8 334.4,201.4 334.7,201.3 334.9,202.0 335.2,202.0 335.4,202.8 335.7,203.0 335.9,203.1 336.2,203.8 336.4,204.3 336.7,204.3 336.9,204.9 337.2,205.3 337.4,205.7 337.7,206.1 337.9,206.2 338.2,206.8 338.4,207.1 338.7,207.7 338.9,207.8 339.2,208.2 339.5,208.7 339.7,209.0 340,209.1 340.2,209.7 340.5,210.2 340.7,210.5 341,210.6 341.2,211.4 341.5,211.3 341.7,211.8 342,212.3 342.2,212.7 342.5,213.0 342.7,213.4 343,213.4 343.2,213.9 343.5,214.1 343.7,214.8 344,215.1 344.2,215.2 344.5,215.7 344.7,215.9 345,216.4 345.2,216.6 345.5,216.3 345.7,216.9 346,217.3 346.2,217.4 346.5,217.4 346.7,218.2 347,218.4 347.2,218.5 347.5,218.6 347.7,219.0 348,219.1 348.2,219.0 348.5,219.4 348.7,219.9 349,220.2 349.2,220.3 349.5,220.1 349.7,220.6 350,220.5 350.2,220.7 350.5,221.3 350.7,221.4 351,221.8 351.2,221.9 351.5,221.7 351.7,222.2 352,222.2 352.2,222.5 352.5,222.8 352.7,222.6 353,222.6 353.2,223.0 353.5,223.3 353.7,223.3 354,223.3 354.2,223.5 354.5,223.8 354.7,223.7 355,224.1 355.3,224.2 355.5,224.2 355.8,224.5 356,224.5 356.3,224.6 356.5,224.7 356.8,224.7 357,224.0 357.3,224.9 357.5,224.8 357.8,225.1 358,225.1 358.3,225.1 358.5,224.9 358.8,225.4 359,225.4 359.3,225.3 359.5,225.3 359.8,225.7 360,225.5 360.3,225.2 360.5,225.6 360.8,226.0 361,225.7 361.3,226.1 361.5,225.7 361.8,226.0 362,226.0 362.3,225.9 362.5,226.3 362.8,225.9 363,226.1 363.3,226.3 363.5,226.4 363.8,226.5 364,226.4 364.3,226.4 364.5,226.4 364.8,226.4 365,226.5 365.3,226.7 365.5,226.6 365.8,226.5 366,226.7 366.3,226.8 366.5,226.8 366.8,226.8 367,226.7 367.3,226.8 367.5,226.9 367.8,226.8 368,226.7 368.3,226.7 368.5,226.8 368.8,226.5 369,226.9 369.3,226.9 369.5,227.1 369.8,226.3 370,226.9 370.3,227.0 370.6,227.1 370.8,226.8 371.1,227.0 371.3,226.8 371.6,226.9 371.8,226.7 372.1,226.7 372.3,227.2 372.6,227.3 372.8,226.9 373.1,227.2 373.3,227.0 373.6,227.1 373.8,226.9 374.1,227.1 374.3,226.9 374.6,227.3 374.8,227.1 375.1,227.4 375.3,227.0 375.6,227.3 375.8,227.4 376.1,227.5 376.3,227.4 376.6,226.8 376.8,227.3 377.1,227.1 377.3,227.4 377.6,227.3 377.8,227.3 378.1,227.2 378.3,227.6 378.6,227.6 378.8,227.4 379.1,227.3 379.3,227.1 379.6,227.2 379.8,227.4 380.1,227.6 380.3,227.5 380.6,227.4 380.8,227.6 381.1,227.5 381.3,227.5 381.6,227.3 381.8,227.5 382.1,227.7 382.3,227.2 382.6,227.7 382.8,226.8 383.1,227.6 383.3,227.7 383.6,227.4 383.8,227.7 384.1,227.3 384.3,227.6 384.6,227.4 384.8,226.9 385.1,227.5 385.3,227.6 385.6,227.7 385.8,227.7 386.1,227.8 386.4,227.7 386.6,227.7 386.9,227.3 387.1,227.4 387.4,227.6 387.6,227.5 387.9,227.5 388.1,227.8 388.4,227.8 388.6,227.9 388.9,227.3 389.1,227.6 389.4,227.8 389.6,227.1 389.9,227.7 390.1,227.7 390.4,227.6 390.6,227.4 390.9,227.8 391.1,227.5 391.4,227.8 391.6,227.6 391.9,227.6 392.1,227.8 392.4,227.7 392.6,227.6 392.9,227.9 393.1,227.9 393.4,228.0 393.6,228.0 393.9,228.0 394.1,227.9 394.4,227.9 394.6,227.9 394.9,228.0 395.1,228.0 395.4,227.6 395.6,227.7 395.9,227.7 396.1,228.1 396.4,228.0 396.6,227.7 396.9,227.9 397.1,227.9 397.4,227.4 397.6,227.7 397.9,227.8 398.1,227.9 398.4,227.8 398.6,228.0 398.9,227.9 399.1,227.9 399.4,227.8 399.6,228.1 399.9,228.0 400.1,227.9 400.4,228.0 400.6,228.1 400.9,228.0 401.1,227.7 401.4,227.8 401.6,227.6 401.9,228.0 402.2,228.0 402.4,227.7 402.7,227.7 402.9,227.6 403.2,227.7 403.4,227.8 403.7,227.6 403.9,227.8 404.2,227.6 404.4,227.7 404.7,228.1 404.9,227.6 405.2,227.9 405.4,227.7 405.7,227.8 405.9,227.8 406.2,228.1 406.4,227.5 406.7,227.9 406.9,227.8 407.2,228.0 407.4,227.5 407.7,227.8 407.9,227.6 408.2,228.0 408.4,227.8 408.7,227.4 408.9,227.9 409.2,228.0 409.4,227.5 409.7,227.5 409.9,227.9 410.2,227.9 410.4,227.8 410.7,227.9 410.9,228.0 411.2,227.8 411.4,227.6 411.7,227.8 411.9,227.6 412.2,227.9 412.4,227.8 412.7,227.9 412.9,228.0 413.2,228.1 413.4,228.1 413.7,227.9 413.9,228.0 414.2,228.1 414.4,227.8 414.7,227.7 414.9,227.8 415.2,228.0 415.4,228.1 415.7,228.0 415.9,227.7 416.2,227.9 416.4,228.0 416.7,227.4 416.9,228.0 417.2,227.3 417.4,227.9 417.7,227.9 418,228.0 418.2,227.9 418.5,227.7 418.7,228.1 419,227.9 419.2,227.9 419.5,227.8 419.7,228.0 420,227.9 420.2,227.7 420.5,227.9 420.7,227.8 421,228.1 421.2,227.8 421.5,227.6 421.7,227.9 422,228.0 422.2,227.8" fill="none" stroke="#3f86ee" stroke-width="0.9" stroke-linejoin="round" />
<polyline points="265.5,228.0 265.7,228.1 266,227.9 266.2,228.0 266.5,227.6 266.7,227.6 267,227.8 267.2,227.3 267.5,227.8 267.7,227.5 268,228.0 268.2,227.8 268.5,227.8 268.7,227.9 269,227.9 269.2,227.7 269.5,228.0 269.7,227.8 270,228.1 270.2,228.0 270.5,227.6 270.7,228.1 271,228.0 271.2,228.0 271.5,227.8 271.7,227.8 272,227.3 272.2,228.1 272.5,227.7 272.7,227.6 273,228.0 273.2,228.0 273.5,228.0 273.7,227.7 274,228.0 274.2,227.8 274.5,227.8 274.7,227.8 275,227.5 275.2,227.6 275.5,227.8 275.7,228.0 276,227.8 276.2,228.0 276.5,227.9 276.8,227.8 277,227.7 277.3,227.8 277.5,227.5 277.8,228.1 278,227.7 278.3,227.6 278.5,227.9 278.8,227.7 279,227.9 279.3,228.1 279.5,227.8 279.8,227.5 280,227.8 280.3,227.8 280.5,228.0 280.8,227.9 281,228.1 281.3,228.0 281.5,227.9 281.8,227.9 282,227.8 282.3,227.6 282.5,227.9 282.8,228.1 283,227.6 283.3,227.9 283.5,228.0 283.8,228.0 284,227.9 284.3,227.9 284.5,228.0 284.8,227.8 285,227.9 285.3,228.1 285.5,227.9 285.8,227.9 286,227.9 286.3,227.4 286.5,228.0 286.8,227.9 287,227.9 287.3,228.1 287.5,228.0 287.8,227.7 288,228.0 288.3,228.1 288.5,227.9 288.8,228.0 289,227.8 289.3,227.7 289.5,227.6 289.8,228.0 290,227.7 290.3,228.1 290.5,227.7 290.8,227.7 291,227.9 291.3,228.1 291.5,227.6 291.8,227.8 292,227.5 292.3,227.7 292.6,228.0 292.8,228.0 293.1,227.9 293.3,228.0 293.6,227.7 293.8,227.8 294.1,228.0 294.3,227.7 294.6,228.0 294.8,227.4 295.1,228.1 295.3,227.6 295.6,228.1 295.8,227.5 296.1,228.1 296.3,227.9 296.6,227.8 296.8,227.6 297.1,228.0 297.3,227.9 297.6,227.7 297.8,227.9 298.1,227.8 298.3,227.8 298.6,228.0 298.8,227.7 299.1,227.9 299.3,227.8 299.6,228.0 299.8,228.0 300.1,228.0 300.3,228.0 300.6,227.4 300.8,227.5 301.1,228.0 301.3,228.0 301.6,227.6 301.8,227.7 302.1,227.7 302.3,227.9 302.6,227.8 302.8,227.8 303.1,227.8 303.3,227.8 303.6,227.5 303.8,227.2 304.1,228.1 304.3,227.5 304.6,227.9 304.8,227.9 305.1,227.7 305.3,227.5 305.6,227.9 305.8,227.7 306.1,227.3 306.3,227.9 306.6,227.6 306.8,228.0 307.1,227.9 307.3,228.1 307.6,227.8 307.9,227.5 308.1,227.7 308.4,228.1 308.6,227.9 308.9,227.9 309.1,228.0 309.4,228.0 309.6,227.8 309.9,227.8 310.1,228.0 310.4,228.1 310.6,228.0 310.9,227.6 311.1,227.8 311.4,227.7 311.6,228.0 311.9,227.9 312.1,228.0 312.4,227.8 312.6,227.2 312.9,227.8 313.1,227.9 313.4,227.5 313.6,228.0 313.9,227.5 314.1,227.9 314.4,227.7 314.6,227.5 314.9,228.1 315.1,227.4 315.4,227.6 315.6,225.8 315.9,222.3 316.1,217.0 316.4,211.9 316.6,203.7 316.9,193.1 317.1,182.1 317.4,174.2 317.6,169.2 317.9,165.4 318.1,162.0 318.4,159.6 318.6,158.1 318.9,157.8 319.1,158.3 319.4,159.5 319.6,160.7 319.9,161.8 320.1,163.2 320.4,164.3 320.6,164.9 320.9,165.8 321.1,167.1 321.4,168.4 321.6,169.4 321.9,170.1 322.1,171.6 322.4,172.6 322.6,173.6 322.9,174.3 323.1,175.7 323.4,176.6 323.7,177.2 323.9,177.8 324.2,179.3 324.4,179.7 324.7,181.1 324.9,181.7 325.2,182.5 325.4,183.3 325.7,184.5 325.9,185.5 326.2,186.3 326.4,186.7 326.7,187.6 326.9,188.7 327.2,189.3 327.4,190.0 327.7,190.7 327.9,191.5 328.2,192.2 328.4,192.8 328.7,193.3 328.9,193.9 329.2,194.8 329.4,195.4 329.7,195.8 329.9,196.1 330.2,196.9 330.4,197.4 330.7,198.2 330.9,198.8 331.2,199.0 331.4,199.9 331.7,200.2 331.9,200.9 332.2,201.0 332.4,202.0 332.7,202.0 332.9,202.7 333.2,203.1 333.4,204.1 333.7,204.4 333.9,204.9 334.2,205.5 334.4,205.6 334.7,206.2 334.9,206.2 335.2,206.7 335.4,207.7 335.7,208.0 335.9,208.4 336.2,208.8 336.4,209.2 336.7,209.7 336.9,210.1 337.2,210.3 337.4,210.9 337.7,210.7 337.9,211.6 338.2,211.7 338.4,212.3 338.7,212.7 338.9,212.7 339.2,213.4 339.5,213.6 339.7,213.9 340,214.3 340.2,214.8 340.5,214.8 340.7,215.4 341,215.0 341.2,215.8 341.5,216.3 341.7,216.6 342,216.8 342.2,216.9 342.5,217.5 342.7,217.8 343,217.6 343.2,218.1 343.5,218.5 343.7,218.8 344,219.0 344.2,219.0 344.5,219.6 344.7,219.4 345,219.9 345.2,220.0 345.5,220.2 345.7,219.8 346,220.4 346.2,220.7 346.5,220.7 346.7,220.9 347,221.3 347.2,221.3 347.5,221.5 347.7,221.4 348,221.7 348.2,221.7 348.5,222.1 348.7,222.2 349,222.5 349.2,222.7 349.5,222.8 349.7,222.8 350,222.9 350.2,222.6 350.5,223.2 350.7,223.5 351,223.5 351.2,223.6 351.5,223.6 351.7,223.9 352,224.0 352.2,223.4 352.5,223.7 352.7,224.3 353,223.9 353.2,223.7 353.5,224.5 353.7,224.4 354,224.1 354.2,224.7 354.5,224.8 354.7,224.8 355,224.6 355.3,224.9 355.5,224.6 355.8,225.3 356,225.0 356.3,225.2 356.5,225.3 356.8,225.4 357,225.6 357.3,225.7 357.5,225.6 357.8,225.6 358,225.4 358.3,225.9 358.5,225.9 358.8,225.7 359,225.8 359.3,226.1 359.5,226.2 359.8,226.0 360,226.3 360.3,226.5 360.5,226.5 360.8,226.5 361,226.4 361.3,226.0 361.5,226.1 361.8,226.4 362,226.7 362.3,226.6 362.5,226.4 362.8,226.5 363,226.8 363.3,226.8 363.5,226.8 363.8,226.9 364,226.7 364.3,226.8 364.5,226.7 364.8,226.9 365,226.9 365.3,226.7 365.5,226.6 365.8,227.0 366,227.0 366.3,226.7 366.5,226.8 366.8,226.6 367,227.0 367.3,227.2 367.5,226.7 367.8,226.7 368,227.2 368.3,226.5 368.5,227.0 368.8,226.6 369,227.0 369.3,227.1 369.5,227.2 369.8,226.6 370,226.7 370.3,227.4 370.6,227.2 370.8,227.1 371.1,227.2 371.3,227.2 371.6,227.4 371.8,227.4 372.1,227.3 372.3,226.7 372.6,227.4 372.8,226.9 373.1,227.5 373.3,227.2 373.6,227.2 373.8,226.6 374.1,227.4 374.3,227.4 374.6,227.5 374.8,227.3 375.1,227.7 375.3,227.4 375.6,227.3 375.8,227.7 376.1,227.3 376.3,227.6 376.6,227.6 376.8,227.3 377.1,227.6 377.3,227.7 377.6,227.6 377.8,227.7 378.1,227.4 378.3,227.7 378.6,227.2 378.8,227.5 379.1,227.2 379.3,227.5 379.6,227.2 379.8,227.5 380.1,227.8 380.3,227.7 380.6,227.8 380.8,227.7 381.1,227.4 381.3,227.7 381.6,227.7 381.8,227.6 382.1,227.4 382.3,227.8 382.6,227.8 382.8,227.6 383.1,227.3 383.3,227.5 383.6,227.5 383.8,227.7 384.1,227.5 384.3,227.2 384.6,227.5 384.8,227.7 385.1,227.2 385.3,227.4 385.6,227.7 385.8,227.4 386.1,227.8 386.4,227.9 386.6,227.7 386.9,227.8 387.1,227.8 387.4,227.5 387.6,227.8 387.9,227.7 388.1,227.5 388.4,227.1 388.6,227.4 388.9,227.9 389.1,227.8 389.4,227.3 389.6,227.8 389.9,227.9 390.1,227.7 390.4,227.9 390.6,227.7 390.9,227.8 391.1,227.9 391.4,227.9 391.6,227.0 391.9,227.2 392.1,227.7 392.4,227.7 392.6,227.9 392.9,227.9 393.1,227.8 393.4,227.7 393.6,227.8 393.9,227.8 394.1,227.6 394.4,228.0 394.6,227.8 394.9,227.7 395.1,227.5 395.4,227.8 395.6,227.9 395.9,227.7 396.1,227.6 396.4,227.8 396.6,227.4 396.9,227.4 397.1,227.9 397.4,227.6 397.6,227.2 397.9,227.7 398.1,228.0 398.4,227.6 398.6,228.0 398.9,227.8 399.1,227.7 399.4,227.9 399.6,227.8 399.9,227.9 400.1,228.0 400.4,227.8 400.6,227.8 400.9,227.8 401.1,228.0 401.4,227.8 401.6,228.0 401.9,227.9 402.2,227.8 402.4,227.7 402.7,227.9 402.9,227.8 403.2,227.6 403.4,227.8 403.7,227.8 403.9,227.6 404.2,227.5 404.4,227.4 404.7,227.9 404.9,227.9 405.2,228.0 405.4,227.9 405.7,227.5 405.9,227.8 406.2,227.5 406.4,227.9 406.7,227.7 406.9,228.0 407.2,227.8 407.4,227.8 407.7,227.5 407.9,227.3 408.2,228.0 408.4,227.7 408.7,227.8 408.9,227.7 409.2,227.8 409.4,227.8 409.7,227.6 409.9,227.9 410.2,228.0 410.4,227.3 410.7,227.5 410.9,227.2 411.2,227.9 411.4,227.9 411.7,227.7 411.9,227.9 412.2,227.8 412.4,227.7 412.7,227.8 412.9,227.6 413.2,227.2 413.4,227.7 413.7,227.7 413.9,227.6 414.2,228.0 414.4,227.9 414.7,227.9 414.9,227.4 415.2,227.8 415.4,227.9 415.7,227.9 415.9,228.0 416.2,227.9 416.4,227.9 416.7,227.7 416.9,227.6 417.2,227.8 417.4,227.8 417.7,228.0 418,227.9 418.2,227.8 418.5,227.8 418.7,227.8 419,227.7 419.2,227.9 419.5,227.9 419.7,228.0 420,228.0 420.2,228.0 420.5,228.1 420.7,228.0 421,227.5 421.2,227.8 421.5,227.9 421.7,227.9 422,227.7 422.2,228.1" fill="none" stroke="#3fb46e" stroke-width="0.9" stroke-linejoin="round" />
<polyline points="265.5,227.8 265.7,228.1 266,227.8 266.2,227.7 266.5,227.8 266.7,228.1 267,227.9 267.2,228.0 267.5,228.1 267.7,227.9 268,228.0 268.2,227.3 268.5,228.0 268.7,228.1 269,227.9 269.2,228.1 269.5,228.0 269.7,228.0 270,227.6 270.2,227.6 270.5,227.6 270.7,227.8 271,227.8 271.2,227.7 271.5,228.1 271.7,227.9 272,228.0 272.2,228.1 272.5,228.0 272.7,227.7 273,228.1 273.2,227.9 273.5,228.0 273.7,228.1 274,227.9 274.2,227.6 274.5,227.7 274.7,227.7 275,227.6 275.2,228.0 275.5,228.1 275.7,227.8 276,227.5 276.2,227.9 276.5,227.1 276.8,227.7 277,228.1 277.3,227.6 277.5,227.8 277.8,227.8 278,227.9 278.3,227.7 278.5,228.0 278.8,228.1 279,227.6 279.3,227.8 279.5,228.0 279.8,227.8 280,227.2 280.3,228.1 280.5,227.9 280.8,228.0 281,228.0 281.3,227.9 281.5,227.6 281.8,228.0 282,227.8 282.3,228.0 282.5,228.0 282.8,227.7 283,227.4 283.3,227.1 283.5,228.1 283.8,227.7 284,227.5 284.3,227.9 284.5,227.9 284.8,228.0 285,228.0 285.3,227.8 285.5,227.9 285.8,228.0 286,227.9 286.3,227.9 286.5,227.7 286.8,228.0 287,227.9 287.3,227.9 287.5,227.9 287.8,227.7 288,228.0 288.3,228.1 288.5,228.0 288.8,227.6 289,228.0 289.3,227.9 289.5,227.7 289.8,227.9 290,227.8 290.3,228.0 290.5,227.9 290.8,227.4 291,227.8 291.3,227.7 291.5,227.7 291.8,227.5 292,227.8 292.3,228.1 292.6,228.0 292.8,228.1 293.1,227.9 293.3,228.0 293.6,228.0 293.8,227.6 294.1,228.1 294.3,227.0 294.6,228.1 294.8,228.0 295.1,227.7 295.3,227.9 295.6,227.9 295.8,227.6 296.1,227.6 296.3,228.0 296.6,228.0 296.8,227.7 297.1,228.1 297.3,227.9 297.6,227.7 297.8,227.8 298.1,227.5 298.3,227.3 298.6,227.7 298.8,228.0 299.1,227.5 299.3,227.9 299.6,227.8 299.8,228.0 300.1,227.2 300.3,227.6 300.6,227.9 300.8,227.9 301.1,227.8 301.3,227.9 301.6,227.8 301.8,227.8 302.1,227.5 302.3,227.7 302.6,227.9 302.8,227.8 303.1,228.0 303.3,227.8 303.6,228.0 303.8,227.6 304.1,227.7 304.3,227.9 304.6,227.9 304.8,228.1 305.1,228.1 305.3,227.8 305.6,227.6 305.8,227.7 306.1,227.8 306.3,227.7 306.6,227.2 306.8,227.8 307.1,227.7 307.3,228.0 307.6,228.0 307.9,227.7 308.1,227.9 308.4,227.5 308.6,227.7 308.9,227.8 309.1,228.0 309.4,227.8 309.6,227.9 309.9,227.8 310.1,227.9 310.4,228.0 310.6,227.4 310.9,227.6 311.1,228.0 311.4,227.8 311.6,227.8 311.9,227.8 312.1,227.8 312.4,227.5 312.6,227.7 312.9,227.7 313.1,227.9 313.4,227.7 313.6,228.1 313.9,227.8 314.1,227.8 314.4,227.6 314.6,227.6 314.9,227.9 315.1,227.7 315.4,225.3 315.6,221.3 315.9,216.4 316.1,208.3 316.4,194.0 316.6,178.4 316.9,166.0 317.1,158.5 317.4,151.6 317.6,148.2 317.9,148.9 318.1,150.0 318.4,151.5 318.6,152.7 318.9,154.5 319.1,155.9 319.4,157.2 319.6,158.7 319.9,160.6 320.1,162.4 320.4,164.3 320.6,165.7 320.9,167.1 321.1,169.3 321.4,170.7 321.6,172.7 321.9,174.1 322.1,175.2 322.4,176.8 322.6,178.5 322.9,179.8 323.1,181.1 323.4,182.4 323.7,183.7 323.9,185.0 324.2,185.8 324.4,187.1 324.7,187.5 324.9,189.0 325.2,190.1 325.4,190.9 325.7,191.7 325.9,192.4 326.2,192.2 326.4,193.5 326.7,194.3 326.9,194.9 327.2,195.3 327.4,196.5 327.7,196.8 327.9,197.6 328.2,197.9 328.4,198.5 328.7,199.2 328.9,200.0 329.2,200.4 329.4,201.2 329.7,201.7 329.9,202.4 330.2,202.5 330.4,203.1 330.7,204.0 330.9,204.5 331.2,205.4 331.4,205.6 331.7,206.7 331.9,207.1 332.2,207.9 332.4,208.0 332.7,208.7 332.9,209.4 333.2,209.7 333.4,210.7 333.7,211.2 333.9,211.7 334.2,212.1 334.4,212.6 334.7,212.9 334.9,213.6 335.2,213.9 335.4,214.1 335.7,214.7 335.9,214.5 336.2,214.7 336.4,215.5 336.7,216.1 336.9,216.4 337.2,216.8 337.4,216.9 337.7,217.5 337.9,217.7 338.2,217.8 338.4,218.0 338.7,218.0 338.9,218.9 339.2,219.1 339.5,219.5 339.7,219.4 340,219.4 340.2,219.3 340.5,220.3 340.7,219.8 341,220.3 341.2,220.2 341.5,221.0 341.7,221.0 342,221.0 342.2,221.3 342.5,221.0 342.7,221.9 343,222.0 343.2,221.7 343.5,222.3 343.7,222.2 344,222.6 344.2,222.5 344.5,222.5 344.7,223.0 345,223.2 345.2,223.1 345.5,223.4 345.7,223.0 346,223.7 346.2,223.4 346.5,223.7 346.7,224.0 347,224.0 347.2,223.9 347.5,224.0 347.7,224.3 348,224.4 348.2,224.6 348.5,224.2 348.7,224.5 349,224.8 349.2,224.8 349.5,225.1 349.7,224.8 350,225.1 350.2,224.9 350.5,225.3 350.7,225.3 351,225.3 351.2,225.3 351.5,225.3 351.7,225.2 352,225.7 352.2,225.5 352.5,225.8 352.7,225.8 353,225.9 353.2,225.8 353.5,225.5 353.7,226.1 354,225.7 354.2,226.1 354.5,225.7 354.7,226.2 355,226.4 355.3,226.4 355.5,225.9 355.8,226.3 356,226.4 356.3,226.1 356.5,226.1 356.8,226.7 357,226.6 357.3,226.5 357.5,226.5 357.8,226.7 358,226.5 358.3,226.5 358.5,226.3 358.8,226.5 359,226.7 359.3,226.9 359.5,227.0 359.8,227.0 360,226.6 360.3,226.8 360.5,226.9 360.8,226.8 361,226.9 361.3,227.0 361.5,227.0 361.8,226.7 362,227.2 362.3,227.0 362.5,227.3 362.8,226.8 363,227.0 363.3,227.4 363.5,227.3 363.8,226.9 364,227.1 364.3,227.3 364.5,227.2 364.8,227.4 365,227.2 365.3,227.3 365.5,227.1 365.8,227.4 366,227.6 366.3,227.5 366.5,227.0 366.8,227.3 367,227.6 367.3,227.1 367.5,227.1 367.8,227.5 368,227.7 368.3,227.5 368.5,227.7 368.8,227.6 369,227.7 369.3,227.7 369.5,227.3 369.8,227.2 370,227.8 370.3,227.5 370.6,227.6 370.8,227.7 371.1,227.8 371.3,227.4 371.6,227.5 371.8,227.8 372.1,227.8 372.3,227.5 372.6,227.8 372.8,227.4 373.1,227.7 373.3,227.7 373.6,227.6 373.8,227.5 374.1,227.3 374.3,227.1 374.6,227.9 374.8,227.9 375.1,227.7 375.3,227.8 375.6,227.7 375.8,227.8 376.1,227.4 376.3,227.9 376.6,227.8 376.8,227.7 377.1,227.7 377.3,227.6 377.6,227.8 377.8,227.9 378.1,227.6 378.3,227.9 378.6,227.9 378.8,227.8 379.1,227.6 379.3,227.6 379.6,227.8 379.8,227.6 380.1,227.4 380.3,227.9 380.6,227.9 380.8,227.6 381.1,227.9 381.3,227.6 381.6,227.9 381.8,227.7 382.1,228.0 382.3,227.8 382.6,227.6 382.8,227.9 383.1,227.3 383.3,227.5 383.6,228.0 383.8,227.6 384.1,227.8 384.3,227.8 384.6,227.9 384.8,227.7 385.1,227.9 385.3,227.7 385.6,227.5 385.8,228.0 386.1,227.8 386.4,227.4 386.6,227.8 386.9,227.9 387.1,227.9 387.4,227.3 387.6,227.9 387.9,227.6 388.1,228.0 388.4,227.5 388.6,227.9 388.9,228.0 389.1,228.0 389.4,227.9 389.6,228.0 389.9,227.5 390.1,227.8 390.4,227.9 390.6,227.5 390.9,227.8 391.1,227.8 391.4,227.5 391.6,227.9 391.9,227.7 392.1,227.6 392.4,227.8 392.6,227.9 392.9,227.6 393.1,227.8 393.4,227.6 393.6,227.9 393.9,227.8 394.1,227.8 394.4,227.5 394.6,227.9 394.9,227.2 395.1,228.0 395.4,227.9 395.6,227.9 395.9,227.8 396.1,227.6 396.4,227.9 396.6,227.9 396.9,227.7 397.1,228.0 397.4,227.8 397.6,228.0 397.9,227.7 398.1,228.0 398.4,227.8 398.6,228.0 398.9,228.0 399.1,228.0 399.4,227.3 399.6,228.0 399.9,227.7 400.1,227.7 400.4,227.7 400.6,227.7 400.9,227.6 401.1,227.8 401.4,227.8 401.6,227.9 401.9,227.9 402.2,227.7 402.4,227.1 402.7,228.0 402.9,228.0 403.2,227.8 403.4,227.9 403.7,228.0 403.9,228.0 404.2,227.9 404.4,227.8 404.7,227.6 404.9,227.4 405.2,228.1 405.4,227.3 405.7,227.9 405.9,228.1 406.2,227.6 406.4,228.0 406.7,227.7 406.9,228.0 407.2,228.0 407.4,228.0 407.7,228.0 407.9,227.4 408.2,227.9 408.4,228.0 408.7,228.0 408.9,228.1 409.2,228.1 409.4,228.0 409.7,227.9 409.9,227.3 410.2,227.6 410.4,228.0 410.7,227.9 410.9,227.6 411.2,227.6 411.4,227.3 411.7,227.8 411.9,227.3 412.2,227.8 412.4,228.1 412.7,227.9 412.9,228.0 413.2,228.0 413.4,227.6 413.7,228.0 413.9,228.0 414.2,227.9 414.4,227.7 414.7,227.8 414.9,227.9 415.2,228.0 415.4,227.8 415.7,227.4 415.9,227.6 416.2,227.8 416.4,227.9 416.7,228.0 416.9,227.9 417.2,227.8 417.4,227.9 417.7,228.0 418,227.7 418.2,228.1 418.5,227.7 418.7,228.0 419,227.9 419.2,227.8 419.5,227.9 419.7,228.0 420,227.9 420.2,227.8 420.5,227.9 420.7,227.5 421,228.1 421.2,228.0 421.5,228.0 421.7,228.0 422,228.0 422.2,227.8" fill="none" stroke="#c38ef0" stroke-width="0.9" stroke-linejoin="round" />
<polyline points="265.5,227.8 265.7,228.1 266,227.8 266.2,227.3 266.5,227.7 266.7,228.0 267,228.0 267.2,227.4 267.5,227.8 267.7,227.6 268,227.9 268.2,227.9 268.5,227.8 268.7,228.0 269,227.8 269.2,228.0 269.5,227.9 269.7,228.1 270,227.9 270.2,228.1 270.5,227.5 270.7,228.1 271,227.7 271.2,227.6 271.5,227.6 271.7,228.0 272,227.8 272.2,228.0 272.5,227.7 272.7,227.9 273,228.0 273.2,227.5 273.5,227.7 273.7,227.8 274,227.9 274.2,227.9 274.5,228.1 274.7,227.7 275,227.0 275.2,227.6 275.5,228.0 275.7,228.0 276,227.9 276.2,227.7 276.5,227.9 276.8,227.7 277,227.8 277.3,227.3 277.5,227.8 277.8,228.0 278,228.1 278.3,227.8 278.5,227.6 278.8,227.8 279,228.1 279.3,227.8 279.5,227.8 279.8,227.8 280,228.1 280.3,227.9 280.5,227.7 280.8,227.8 281,227.4 281.3,227.7 281.5,228.0 281.8,227.9 282,228.0 282.3,227.8 282.5,228.0 282.8,227.8 283,228.0 283.3,227.8 283.5,227.4 283.8,227.8 284,227.7 284.3,228.1 284.5,227.8 284.8,228.0 285,228.0 285.3,227.2 285.5,227.6 285.8,227.8 286,227.7 286.3,227.7 286.5,228.0 286.8,228.0 287,228.0 287.3,228.0 287.5,228.1 287.8,228.0 288,227.5 288.3,227.8 288.5,227.7 288.8,227.7 289,228.0 289.3,227.8 289.5,228.0 289.8,227.3 290,227.6 290.3,227.6 290.5,228.1 290.8,227.9 291,227.9 291.3,227.7 291.5,227.8 291.8,227.8 292,227.4 292.3,228.1 292.6,228.0 292.8,227.9 293.1,227.8 293.3,227.9 293.6,227.8 293.8,228.0 294.1,228.0 294.3,227.0 294.6,228.1 294.8,227.6 295.1,228.0 295.3,228.0 295.6,227.7 295.8,228.1 296.1,228.0 296.3,227.9 296.6,227.9 296.8,228.0 297.1,227.9 297.3,227.5 297.6,227.9 297.8,227.6 298.1,227.9 298.3,228.1 298.6,227.9 298.8,228.0 299.1,228.0 299.3,227.9 299.6,228.0 299.8,227.5 300.1,228.0 300.3,228.0 300.6,227.6 300.8,228.0 301.1,227.7 301.3,227.4 301.6,227.8 301.8,227.8 302.1,227.8 302.3,228.1 302.6,227.7 302.8,227.9 303.1,227.6 303.3,227.9 303.6,227.9 303.8,227.9 304.1,228.0 304.3,228.0 304.6,227.8 304.8,228.0 305.1,227.7 305.3,227.9 305.6,227.7 305.8,227.9 306.1,228.0 306.3,227.8 306.6,227.9 306.8,227.8 307.1,228.0 307.3,227.8 307.6,228.1 307.9,227.7 308.1,228.0 308.4,228.0 308.6,227.5 308.9,228.0 309.1,227.8 309.4,227.6 309.6,227.7 309.9,228.0 310.1,227.9 310.4,227.7 310.6,227.9 310.9,228.0 311.1,227.7 311.4,228.0 311.6,227.9 311.9,227.8 312.1,227.2 312.4,228.0 312.6,228.0 312.9,227.8 313.1,227.7 313.4,227.8 313.6,227.7 313.9,227.4 314.1,228.0 314.4,228.0 314.6,228.0 314.9,227.0 315.1,225.5 315.4,222.1 315.6,217.7 315.9,206.8 316.1,189.1 316.4,173.0 316.6,161.0 316.9,150.4 317.1,144.0 317.4,143.7 317.6,145.4 317.9,147.0 318.1,149.0 318.4,150.8 318.6,152.2 318.9,154.1 319.1,156.0 319.4,158.0 319.6,159.4 319.9,161.3 320.1,162.8 320.4,164.2 320.6,165.9 320.9,167.0 321.1,168.5 321.4,169.9 321.6,171.6 321.9,172.3 322.1,174.3 322.4,175.6 322.6,176.9 322.9,178.3 323.1,179.9 323.4,181.2 323.7,182.3 323.9,183.5 324.2,185.1 324.4,186.3 324.7,187.7 324.9,188.8 325.2,189.9 325.4,191.3 325.7,193.0 325.9,194.3 326.2,195.5 326.4,196.5 326.7,197.7 326.9,198.2 327.2,199.4 327.4,200.5 327.7,201.0 327.9,201.7 328.2,202.5 328.4,202.3 328.7,203.6 328.9,203.7 329.2,204.8 329.4,205.0 329.7,205.5 329.9,206.2 330.2,206.7 330.4,207.2 330.7,208.2 330.9,208.3 331.2,209.1 331.4,209.9 331.7,210.5 331.9,211.0 332.2,211.9 332.4,211.8 332.7,212.9 332.9,213.4 333.2,213.9 333.4,214.1 333.7,214.9 333.9,215.5 334.2,215.6 334.4,216.1 334.7,216.6 334.9,216.9 335.2,216.9 335.4,217.2 335.7,217.6 335.9,218.1 336.2,218.5 336.4,218.7 336.7,219.0 336.9,219.0 337.2,219.6 337.4,219.8 337.7,220.3 337.9,220.6 338.2,220.6 338.4,221.3 338.7,221.6 338.9,221.8 339.2,221.9 339.5,222.2 339.7,222.3 340,222.5 340.2,222.4 340.5,222.7 340.7,222.8 341,223.0 341.2,223.3 341.5,223.4 341.7,223.9 342,224.0 342.2,224.2 342.5,224.4 342.7,224.1 343,223.9 343.2,224.7 343.5,225.0 343.7,225.1 344,225.3 344.2,225.2 344.5,225.4 344.7,225.7 345,225.6 345.2,225.8 345.5,225.4 345.7,225.8 346,226.0 346.2,226.0 346.5,226.2 346.7,226.2 347,226.1 347.2,226.3 347.5,226.0 347.7,226.3 348,225.8 348.2,226.4 348.5,226.5 348.7,226.5 349,226.8 349.2,226.4 349.5,226.3 349.7,226.2 350,226.8 350.2,226.8 350.5,226.3 350.7,226.9 351,226.9 351.2,226.9 351.5,227.1 351.7,227.1 352,227.0 352.2,227.1 352.5,227.2 352.7,227.2 353,227.3 353.2,226.8 353.5,227.0 353.7,227.2 354,227.5 354.2,227.5 354.5,227.4 354.7,227.5 355,227.2 355.3,227.5 355.5,227.6 355.8,227.6 356,227.7 356.3,227.2 356.5,227.7 356.8,227.7 357,227.3 357.3,227.6 357.5,227.3 357.8,227.4 358,227.4 358.3,227.5 358.5,227.6 358.8,227.8 359,227.3 359.3,227.8 359.5,227.8 359.8,227.7 360,227.6 360.3,227.7 360.5,227.9 360.8,227.5 361,227.9 361.3,227.8 361.5,227.4 361.8,227.3 362,227.4 362.3,227.9 362.5,227.6 362.8,227.9 363,228.0 363.3,227.9 363.5,227.5 363.8,227.9 364,227.7 364.3,227.6 364.5,228.0 364.8,227.9 365,227.9 365.3,227.8 365.5,227.7 365.8,227.9 366,227.7 366.3,227.6 366.5,228.0 366.8,227.4 367,228.1 367.3,227.7 367.5,227.7 367.8,228.1 368,227.6 368.3,227.2 368.5,228.0 368.8,227.8 369,227.9 369.3,227.7 369.5,227.8 369.8,227.9 370,227.9 370.3,228.1 370.6,228.0 370.8,228.0 371.1,227.7 371.3,227.3 371.6,227.8 371.8,227.7 372.1,227.7 372.3,228.0 372.6,227.5 372.8,227.7 373.1,228.0 373.3,227.6 373.6,227.8 373.8,227.6 374.1,227.9 374.3,228.0 374.6,228.0 374.8,228.1 375.1,228.1 375.3,227.7 375.6,227.5 375.8,227.8 376.1,227.4 376.3,227.8 376.6,227.6 376.8,227.9 377.1,227.9 377.3,227.8 377.6,227.9 377.8,227.8 378.1,227.8 378.3,228.1 378.6,228.0 378.8,227.7 379.1,227.9 379.3,228.0 379.6,227.8 379.8,227.8 380.1,228.0 380.3,228.0 380.6,228.1 380.8,227.9 381.1,228.0 381.3,227.7 381.6,227.9 381.8,228.0 382.1,227.8 382.3,227.8 382.6,227.7 382.8,227.8 383.1,227.9 383.3,227.8 383.6,227.8 383.8,228.0 384.1,227.5 384.3,227.8 384.6,227.8 384.8,228.0 385.1,227.6 385.3,227.8 385.6,228.0 385.8,227.6 386.1,227.3 386.4,227.8 386.6,227.9 386.9,228.0 387.1,227.9 387.4,227.8 387.6,227.8 387.9,228.0 388.1,228.0 388.4,227.8 388.6,227.9 388.9,227.8 389.1,228.1 389.4,227.9 389.6,227.7 389.9,227.9 390.1,227.9 390.4,227.8 390.6,227.9 390.9,228.1 391.1,227.8 391.4,227.8 391.6,227.9 391.9,227.6 392.1,227.8 392.4,227.8 392.6,228.0 392.9,228.0 393.1,228.0 393.4,227.5 393.6,227.9 393.9,227.9 394.1,228.1 394.4,227.7 394.6,228.0 394.9,227.3 395.1,227.5 395.4,227.8 395.6,227.4 395.9,228.1 396.1,227.9 396.4,227.9 396.6,227.4 396.9,227.9 397.1,227.9 397.4,228.0 397.6,228.1 397.9,227.8 398.1,228.0 398.4,227.9 398.6,227.6 398.9,227.7 399.1,227.7 399.4,228.0 399.6,227.9 399.9,228.0 400.1,227.9 400.4,227.8 400.6,228.0 400.9,228.0 401.1,227.6 401.4,227.9 401.6,227.7 401.9,227.9 402.2,228.0 402.4,227.6 402.7,228.0 402.9,228.1 403.2,228.1 403.4,227.6 403.7,228.0 403.9,227.8 404.2,228.0 404.4,227.2 404.7,227.7 404.9,228.0 405.2,228.0 405.4,227.9 405.7,228.0 405.9,227.9 406.2,227.8 406.4,228.0 406.7,227.8 406.9,228.1 407.2,227.5 407.4,227.5 407.7,227.7 407.9,228.1 408.2,227.6 408.4,228.1 408.7,228.1 408.9,227.7 409.2,227.9 409.4,227.7 409.7,228.0 409.9,227.5 410.2,227.6 410.4,228.0 410.7,227.7 410.9,228.1 411.2,227.8 411.4,228.0 411.7,227.6 411.9,228.0 412.2,228.1 412.4,227.9 412.7,228.0 412.9,227.4 413.2,227.7 413.4,227.9 413.7,228.1 413.9,228.0 414.2,228.0 414.4,228.0 414.7,228.0 414.9,228.0 415.2,227.8 415.4,227.7 415.7,227.5 415.9,227.8 416.2,227.7 416.4,227.9 416.7,227.9 416.9,228.1 417.2,228.0 417.4,227.9 417.7,228.0 418,227.9 418.2,228.0 418.5,227.7 418.7,228.1 419,227.4 419.2,228.0 419.5,227.9 419.7,228.0 420,227.5 420.2,227.9 420.5,228.0 420.7,227.8 421,227.7 421.2,228.1 421.5,227.9 421.7,227.8 422,227.5 422.2,227.9" fill="none" stroke="#e2a526" stroke-width="0.9" stroke-linejoin="round" />
</g>
<rect x="46.4" y="4.5" width="156.95" height="223.7" fill="none" stroke="#2a2a2a" stroke-width="1"/>
<line x1="46.4" y1="71.45" x2="203.35" y2="71.45" stroke="#2a2a2a" stroke-width="1" />
<line x1="46.4" y1="138.7" x2="203.35" y2="138.7" stroke="#2a2a2a" stroke-width="1" />
<line x1="61.67" y1="4.5" x2="61.67" y2="7.5" stroke="#2a2a2a" stroke-width="0.95" />
<line x1="61.67" y1="71.45" x2="61.67" y2="74.45" stroke="#2a2a2a" stroke-width="0.95" />
<line x1="61.67" y1="71.45" x2="61.67" y2="68.45" stroke="#2a2a2a" stroke-width="0.95" />
<line x1="61.67" y1="138.7" x2="61.67" y2="141.7" stroke="#2a2a2a" stroke-width="0.95" />
<line x1="61.67" y1="138.7" x2="61.67" y2="135.7" stroke="#2a2a2a" stroke-width="0.95" />
<line x1="61.67" y1="228.2" x2="61.67" y2="225.2" stroke="#2a2a2a" stroke-width="0.95" />
<line x1="77.4" y1="4.5" x2="77.4" y2="6.3" stroke="#2a2a2a" stroke-width="0.95" />
<line x1="77.4" y1="71.45" x2="77.4" y2="73.25" stroke="#2a2a2a" stroke-width="0.95" />
<line x1="77.4" y1="71.45" x2="77.4" y2="69.65" stroke="#2a2a2a" stroke-width="0.95" />
<line x1="77.4" y1="138.7" x2="77.4" y2="140.5" stroke="#2a2a2a" stroke-width="0.95" />
<line x1="77.4" y1="138.7" x2="77.4" y2="136.9" stroke="#2a2a2a" stroke-width="0.95" />
<line x1="77.4" y1="228.2" x2="77.4" y2="226.4" stroke="#2a2a2a" stroke-width="0.95" />
<line x1="93.13" y1="4.5" x2="93.13" y2="7.5" stroke="#2a2a2a" stroke-width="0.95" />
<line x1="93.13" y1="71.45" x2="93.13" y2="74.45" stroke="#2a2a2a" stroke-width="0.95" />
<line x1="93.13" y1="71.45" x2="93.13" y2="68.45" stroke="#2a2a2a" stroke-width="0.95" />
<line x1="93.13" y1="138.7" x2="93.13" y2="141.7" stroke="#2a2a2a" stroke-width="0.95" />
<line x1="93.13" y1="138.7" x2="93.13" y2="135.7" stroke="#2a2a2a" stroke-width="0.95" />
<line x1="93.13" y1="228.2" x2="93.13" y2="225.2" stroke="#2a2a2a" stroke-width="0.95" />
<line x1="108.86" y1="4.5" x2="108.86" y2="6.3" stroke="#2a2a2a" stroke-width="0.95" />
<line x1="108.86" y1="71.45" x2="108.86" y2="73.25" stroke="#2a2a2a" stroke-width="0.95" />
<line x1="108.86" y1="71.45" x2="108.86" y2="69.65" stroke="#2a2a2a" stroke-width="0.95" />
<line x1="108.86" y1="138.7" x2="108.86" y2="140.5" stroke="#2a2a2a" stroke-width="0.95" />
<line x1="108.86" y1="138.7" x2="108.86" y2="136.9" stroke="#2a2a2a" stroke-width="0.95" />
<line x1="108.86" y1="228.2" x2="108.86" y2="226.4" stroke="#2a2a2a" stroke-width="0.95" />
<line x1="124.59" y1="4.5" x2="124.59" y2="7.5" stroke="#2a2a2a" stroke-width="0.95" />
<line x1="124.59" y1="71.45" x2="124.59" y2="74.45" stroke="#2a2a2a" stroke-width="0.95" />
<line x1="124.59" y1="71.45" x2="124.59" y2="68.45" stroke="#2a2a2a" stroke-width="0.95" />
<line x1="124.59" y1="138.7" x2="124.59" y2="141.7" stroke="#2a2a2a" stroke-width="0.95" />
<line x1="124.59" y1="138.7" x2="124.59" y2="135.7" stroke="#2a2a2a" stroke-width="0.95" />
<line x1="124.59" y1="228.2" x2="124.59" y2="225.2" stroke="#2a2a2a" stroke-width="0.95" />
<line x1="140.32" y1="4.5" x2="140.32" y2="6.3" stroke="#2a2a2a" stroke-width="0.95" />
<line x1="140.32" y1="71.45" x2="140.32" y2="73.25" stroke="#2a2a2a" stroke-width="0.95" />
<line x1="140.32" y1="71.45" x2="140.32" y2="69.65" stroke="#2a2a2a" stroke-width="0.95" />
<line x1="140.32" y1="138.7" x2="140.32" y2="140.5" stroke="#2a2a2a" stroke-width="0.95" />
<line x1="140.32" y1="138.7" x2="140.32" y2="136.9" stroke="#2a2a2a" stroke-width="0.95" />
<line x1="140.32" y1="228.2" x2="140.32" y2="226.4" stroke="#2a2a2a" stroke-width="0.95" />
<line x1="156.05" y1="4.5" x2="156.05" y2="7.5" stroke="#2a2a2a" stroke-width="0.95" />
<line x1="156.05" y1="71.45" x2="156.05" y2="74.45" stroke="#2a2a2a" stroke-width="0.95" />
<line x1="156.05" y1="71.45" x2="156.05" y2="68.45" stroke="#2a2a2a" stroke-width="0.95" />
<line x1="156.05" y1="138.7" x2="156.05" y2="141.7" stroke="#2a2a2a" stroke-width="0.95" />
<line x1="156.05" y1="138.7" x2="156.05" y2="135.7" stroke="#2a2a2a" stroke-width="0.95" />
<line x1="156.05" y1="228.2" x2="156.05" y2="225.2" stroke="#2a2a2a" stroke-width="0.95" />
<line x1="171.78" y1="4.5" x2="171.78" y2="6.3" stroke="#2a2a2a" stroke-width="0.95" />
<line x1="171.78" y1="71.45" x2="171.78" y2="73.25" stroke="#2a2a2a" stroke-width="0.95" />
<line x1="171.78" y1="71.45" x2="171.78" y2="69.65" stroke="#2a2a2a" stroke-width="0.95" />
<line x1="171.78" y1="138.7" x2="171.78" y2="140.5" stroke="#2a2a2a" stroke-width="0.95" />
<line x1="171.78" y1="138.7" x2="171.78" y2="136.9" stroke="#2a2a2a" stroke-width="0.95" />
<line x1="171.78" y1="228.2" x2="171.78" y2="226.4" stroke="#2a2a2a" stroke-width="0.95" />
<line x1="187.51" y1="4.5" x2="187.51" y2="7.5" stroke="#2a2a2a" stroke-width="0.95" />
<line x1="187.51" y1="71.45" x2="187.51" y2="74.45" stroke="#2a2a2a" stroke-width="0.95" />
<line x1="187.51" y1="71.45" x2="187.51" y2="68.45" stroke="#2a2a2a" stroke-width="0.95" />
<line x1="187.51" y1="138.7" x2="187.51" y2="141.7" stroke="#2a2a2a" stroke-width="0.95" />
<line x1="187.51" y1="138.7" x2="187.51" y2="135.7" stroke="#2a2a2a" stroke-width="0.95" />
<line x1="187.51" y1="228.2" x2="187.51" y2="225.2" stroke="#2a2a2a" stroke-width="0.95" />
<line x1="46.4" y1="127.2" x2="49.4" y2="127.2" stroke="#2a2a2a" stroke-width="0.95" />
<line x1="203.35" y1="127.2" x2="200.35" y2="127.2" stroke="#2a2a2a" stroke-width="0.95" />
<line x1="46.4" y1="115.95" x2="48.2" y2="115.95" stroke="#2a2a2a" stroke-width="0.95" />
<line x1="203.35" y1="115.95" x2="201.55" y2="115.95" stroke="#2a2a2a" stroke-width="0.95" />
<line x1="46.4" y1="104.7" x2="49.4" y2="104.7" stroke="#2a2a2a" stroke-width="0.95" />
<line x1="203.35" y1="104.7" x2="200.35" y2="104.7" stroke="#2a2a2a" stroke-width="0.95" />
<line x1="46.4" y1="93.45" x2="48.2" y2="93.45" stroke="#2a2a2a" stroke-width="0.95" />
<line x1="203.35" y1="93.45" x2="201.55" y2="93.45" stroke="#2a2a2a" stroke-width="0.95" />
<line x1="46.4" y1="82.2" x2="49.4" y2="82.2" stroke="#2a2a2a" stroke-width="0.95" />
<line x1="203.35" y1="82.2" x2="200.35" y2="82.2" stroke="#2a2a2a" stroke-width="0.95" />
<line x1="46.4" y1="210.07" x2="48.2" y2="210.07" stroke="#2a2a2a" stroke-width="0.95" />
<line x1="46.4" y1="192.05" x2="49.4" y2="192.05" stroke="#2a2a2a" stroke-width="0.95" />
<line x1="46.4" y1="174.03" x2="48.2" y2="174.03" stroke="#2a2a2a" stroke-width="0.95" />
<line x1="46.4" y1="156" x2="49.4" y2="156" stroke="#2a2a2a" stroke-width="0.95" />
<line x1="203.35" y1="215.5" x2="201.55" y2="215.5" stroke="#2a2a2a" stroke-width="0.95" />
<line x1="203.35" y1="202.7" x2="200.35" y2="202.7" stroke="#2a2a2a" stroke-width="0.95" />
<line x1="203.35" y1="189.9" x2="201.55" y2="189.9" stroke="#2a2a2a" stroke-width="0.95" />
<line x1="203.35" y1="177.1" x2="200.35" y2="177.1" stroke="#2a2a2a" stroke-width="0.95" />
<line x1="203.35" y1="164.3" x2="201.55" y2="164.3" stroke="#2a2a2a" stroke-width="0.95" />
<line x1="203.35" y1="151.5" x2="200.35" y2="151.5" stroke="#2a2a2a" stroke-width="0.95" />
<rect x="265.6" y="4.5" width="156.8" height="223.7" fill="none" stroke="#2a2a2a" stroke-width="1"/>
<line x1="265.6" y1="71.45" x2="422.4" y2="71.45" stroke="#2a2a2a" stroke-width="1" />
<line x1="265.6" y1="138.7" x2="422.4" y2="138.7" stroke="#2a2a2a" stroke-width="1" />
<line x1="281.14" y1="4.5" x2="281.14" y2="7.5" stroke="#2a2a2a" stroke-width="0.95" />
<line x1="281.14" y1="71.45" x2="281.14" y2="74.45" stroke="#2a2a2a" stroke-width="0.95" />
<line x1="281.14" y1="71.45" x2="281.14" y2="68.45" stroke="#2a2a2a" stroke-width="0.95" />
<line x1="281.14" y1="138.7" x2="281.14" y2="141.7" stroke="#2a2a2a" stroke-width="0.95" />
<line x1="281.14" y1="138.7" x2="281.14" y2="135.7" stroke="#2a2a2a" stroke-width="0.95" />
<line x1="281.14" y1="228.2" x2="281.14" y2="225.2" stroke="#2a2a2a" stroke-width="0.95" />
<line x1="296.81" y1="4.5" x2="296.81" y2="6.3" stroke="#2a2a2a" stroke-width="0.95" />
<line x1="296.81" y1="71.45" x2="296.81" y2="73.25" stroke="#2a2a2a" stroke-width="0.95" />
<line x1="296.81" y1="71.45" x2="296.81" y2="69.65" stroke="#2a2a2a" stroke-width="0.95" />
<line x1="296.81" y1="138.7" x2="296.81" y2="140.5" stroke="#2a2a2a" stroke-width="0.95" />
<line x1="296.81" y1="138.7" x2="296.81" y2="136.9" stroke="#2a2a2a" stroke-width="0.95" />
<line x1="296.81" y1="228.2" x2="296.81" y2="226.4" stroke="#2a2a2a" stroke-width="0.95" />
<line x1="312.49" y1="4.5" x2="312.49" y2="7.5" stroke="#2a2a2a" stroke-width="0.95" />
<line x1="312.49" y1="71.45" x2="312.49" y2="74.45" stroke="#2a2a2a" stroke-width="0.95" />
<line x1="312.49" y1="71.45" x2="312.49" y2="68.45" stroke="#2a2a2a" stroke-width="0.95" />
<line x1="312.49" y1="138.7" x2="312.49" y2="141.7" stroke="#2a2a2a" stroke-width="0.95" />
<line x1="312.49" y1="138.7" x2="312.49" y2="135.7" stroke="#2a2a2a" stroke-width="0.95" />
<line x1="312.49" y1="228.2" x2="312.49" y2="225.2" stroke="#2a2a2a" stroke-width="0.95" />
<line x1="328.17" y1="4.5" x2="328.17" y2="6.3" stroke="#2a2a2a" stroke-width="0.95" />
<line x1="328.17" y1="71.45" x2="328.17" y2="73.25" stroke="#2a2a2a" stroke-width="0.95" />
<line x1="328.17" y1="71.45" x2="328.17" y2="69.65" stroke="#2a2a2a" stroke-width="0.95" />
<line x1="328.17" y1="138.7" x2="328.17" y2="140.5" stroke="#2a2a2a" stroke-width="0.95" />
<line x1="328.17" y1="138.7" x2="328.17" y2="136.9" stroke="#2a2a2a" stroke-width="0.95" />
<line x1="328.17" y1="228.2" x2="328.17" y2="226.4" stroke="#2a2a2a" stroke-width="0.95" />
<line x1="343.84" y1="4.5" x2="343.84" y2="7.5" stroke="#2a2a2a" stroke-width="0.95" />
<line x1="343.84" y1="71.45" x2="343.84" y2="74.45" stroke="#2a2a2a" stroke-width="0.95" />
<line x1="343.84" y1="71.45" x2="343.84" y2="68.45" stroke="#2a2a2a" stroke-width="0.95" />
<line x1="343.84" y1="138.7" x2="343.84" y2="141.7" stroke="#2a2a2a" stroke-width="0.95" />
<line x1="343.84" y1="138.7" x2="343.84" y2="135.7" stroke="#2a2a2a" stroke-width="0.95" />
<line x1="343.84" y1="228.2" x2="343.84" y2="225.2" stroke="#2a2a2a" stroke-width="0.95" />
<line x1="359.51" y1="4.5" x2="359.51" y2="6.3" stroke="#2a2a2a" stroke-width="0.95" />
<line x1="359.51" y1="71.45" x2="359.51" y2="73.25" stroke="#2a2a2a" stroke-width="0.95" />
<line x1="359.51" y1="71.45" x2="359.51" y2="69.65" stroke="#2a2a2a" stroke-width="0.95" />
<line x1="359.51" y1="138.7" x2="359.51" y2="140.5" stroke="#2a2a2a" stroke-width="0.95" />
<line x1="359.51" y1="138.7" x2="359.51" y2="136.9" stroke="#2a2a2a" stroke-width="0.95" />
<line x1="359.51" y1="228.2" x2="359.51" y2="226.4" stroke="#2a2a2a" stroke-width="0.95" />
<line x1="375.19" y1="4.5" x2="375.19" y2="7.5" stroke="#2a2a2a" stroke-width="0.95" />
<line x1="375.19" y1="71.45" x2="375.19" y2="74.45" stroke="#2a2a2a" stroke-width="0.95" />
<line x1="375.19" y1="71.45" x2="375.19" y2="68.45" stroke="#2a2a2a" stroke-width="0.95" />
<line x1="375.19" y1="138.7" x2="375.19" y2="141.7" stroke="#2a2a2a" stroke-width="0.95" />
<line x1="375.19" y1="138.7" x2="375.19" y2="135.7" stroke="#2a2a2a" stroke-width="0.95" />
<line x1="375.19" y1="228.2" x2="375.19" y2="225.2" stroke="#2a2a2a" stroke-width="0.95" />
<line x1="390.87" y1="4.5" x2="390.87" y2="6.3" stroke="#2a2a2a" stroke-width="0.95" />
<line x1="390.87" y1="71.45" x2="390.87" y2="73.25" stroke="#2a2a2a" stroke-width="0.95" />
<line x1="390.87" y1="71.45" x2="390.87" y2="69.65" stroke="#2a2a2a" stroke-width="0.95" />
<line x1="390.87" y1="138.7" x2="390.87" y2="140.5" stroke="#2a2a2a" stroke-width="0.95" />
<line x1="390.87" y1="138.7" x2="390.87" y2="136.9" stroke="#2a2a2a" stroke-width="0.95" />
<line x1="390.87" y1="228.2" x2="390.87" y2="226.4" stroke="#2a2a2a" stroke-width="0.95" />
<line x1="406.54" y1="4.5" x2="406.54" y2="7.5" stroke="#2a2a2a" stroke-width="0.95" />
<line x1="406.54" y1="71.45" x2="406.54" y2="74.45" stroke="#2a2a2a" stroke-width="0.95" />
<line x1="406.54" y1="71.45" x2="406.54" y2="68.45" stroke="#2a2a2a" stroke-width="0.95" />
<line x1="406.54" y1="138.7" x2="406.54" y2="141.7" stroke="#2a2a2a" stroke-width="0.95" />
<line x1="406.54" y1="138.7" x2="406.54" y2="135.7" stroke="#2a2a2a" stroke-width="0.95" />
<line x1="406.54" y1="228.2" x2="406.54" y2="225.2" stroke="#2a2a2a" stroke-width="0.95" />
<line x1="265.6" y1="129.6" x2="268.6" y2="129.6" stroke="#2a2a2a" stroke-width="0.95" />
<line x1="422.4" y1="129.6" x2="419.4" y2="129.6" stroke="#2a2a2a" stroke-width="0.95" />
<line x1="265.6" y1="120.65" x2="267.4" y2="120.65" stroke="#2a2a2a" stroke-width="0.95" />
<line x1="422.4" y1="120.65" x2="420.6" y2="120.65" stroke="#2a2a2a" stroke-width="0.95" />
<line x1="265.6" y1="111.7" x2="268.6" y2="111.7" stroke="#2a2a2a" stroke-width="0.95" />
<line x1="422.4" y1="111.7" x2="419.4" y2="111.7" stroke="#2a2a2a" stroke-width="0.95" />
<line x1="265.6" y1="102.75" x2="267.4" y2="102.75" stroke="#2a2a2a" stroke-width="0.95" />
<line x1="422.4" y1="102.75" x2="420.6" y2="102.75" stroke="#2a2a2a" stroke-width="0.95" />
<line x1="265.6" y1="93.8" x2="268.6" y2="93.8" stroke="#2a2a2a" stroke-width="0.95" />
<line x1="422.4" y1="93.8" x2="419.4" y2="93.8" stroke="#2a2a2a" stroke-width="0.95" />
<line x1="265.6" y1="84.85" x2="267.4" y2="84.85" stroke="#2a2a2a" stroke-width="0.95" />
<line x1="422.4" y1="84.85" x2="420.6" y2="84.85" stroke="#2a2a2a" stroke-width="0.95" />
<line x1="265.6" y1="75.9" x2="268.6" y2="75.9" stroke="#2a2a2a" stroke-width="0.95" />
<line x1="422.4" y1="75.9" x2="419.4" y2="75.9" stroke="#2a2a2a" stroke-width="0.95" />
<line x1="265.6" y1="215.5" x2="267.4" y2="215.5" stroke="#2a2a2a" stroke-width="0.95" />
<line x1="265.6" y1="202.7" x2="268.6" y2="202.7" stroke="#2a2a2a" stroke-width="0.95" />
<line x1="265.6" y1="189.9" x2="267.4" y2="189.9" stroke="#2a2a2a" stroke-width="0.95" />
<line x1="265.6" y1="177.1" x2="268.6" y2="177.1" stroke="#2a2a2a" stroke-width="0.95" />
<line x1="265.6" y1="164.3" x2="267.4" y2="164.3" stroke="#2a2a2a" stroke-width="0.95" />
<line x1="265.6" y1="151.5" x2="268.6" y2="151.5" stroke="#2a2a2a" stroke-width="0.95" />
<line x1="422.4" y1="212.3" x2="420.6" y2="212.3" stroke="#2a2a2a" stroke-width="0.95" />
<line x1="422.4" y1="196.3" x2="419.4" y2="196.3" stroke="#2a2a2a" stroke-width="0.95" />
<line x1="422.4" y1="180.3" x2="420.6" y2="180.3" stroke="#2a2a2a" stroke-width="0.95" />
<line x1="422.4" y1="164.3" x2="419.4" y2="164.3" stroke="#2a2a2a" stroke-width="0.95" />
<line x1="422.4" y1="148.3" x2="420.6" y2="148.3" stroke="#2a2a2a" stroke-width="0.95" />
<text x="41.4" y="42.6" font-size="10.4" fill="#222" stroke="#222" text-anchor="end" >0</text>
<text x="41.4" y="87" font-size="10.4" fill="#222" stroke="#222" text-anchor="end" >20</text>
<text x="41.4" y="109.5" font-size="10.4" fill="#222" stroke="#222" text-anchor="end" >0</text>
<text x="41.4" y="132" font-size="10.4" fill="#222" stroke="#222" text-anchor="end" >&#8722;20</text>
<text x="41.4" y="160.8" font-size="10.4" fill="#222" stroke="#222" text-anchor="end" >100</text>
<text x="41.4" y="196.85" font-size="10.4" fill="#222" stroke="#222" text-anchor="end" >50</text>
<text x="41.4" y="232.9" font-size="10.4" fill="#222" stroke="#222" text-anchor="end" >0</text>
<text x="259.8" y="42" font-size="10.4" fill="#222" stroke="#222" text-anchor="end" >0</text>
<text x="259.8" y="79.9" font-size="10.4" fill="#222" stroke="#222" text-anchor="end" >20</text>
<text x="259.8" y="97.8" font-size="10.4" fill="#222" stroke="#222" text-anchor="end" >0</text>
<text x="259.8" y="115.7" font-size="10.4" fill="#222" stroke="#222" text-anchor="end" >&#8722;20</text>
<text x="259.8" y="133.6" font-size="10.4" fill="#222" stroke="#222" text-anchor="end" >&#8722;40</text>
<text x="259.8" y="155.5" font-size="10.4" fill="#222" stroke="#222" text-anchor="end" >150</text>
<text x="259.8" y="181.1" font-size="10.4" fill="#222" stroke="#222" text-anchor="end" >100</text>
<text x="259.8" y="206.7" font-size="10.4" fill="#222" stroke="#222" text-anchor="end" >50</text>
<text x="259.8" y="232.3" font-size="10.4" fill="#222" stroke="#222" text-anchor="end" >0</text>
<text x="60.87" y="241.6" font-size="10.4" fill="#222" stroke="#222" text-anchor="middle" >&#8722;1</text>
<text x="93.53" y="241.6" font-size="10.4" fill="#222" stroke="#222" text-anchor="middle" >0</text>
<text x="124.99" y="241.6" font-size="10.4" fill="#222" stroke="#222" text-anchor="middle" >1</text>
<text x="156.45" y="241.6" font-size="10.4" fill="#222" stroke="#222" text-anchor="middle" >2</text>
<text x="187.91" y="241.6" font-size="10.4" fill="#222" stroke="#222" text-anchor="middle" >3</text>
<text x="280.34" y="241.6" font-size="10.4" fill="#222" stroke="#222" text-anchor="middle" >&#8722;1</text>
<text x="312.89" y="241.6" font-size="10.4" fill="#222" stroke="#222" text-anchor="middle" >0</text>
<text x="344.24" y="241.6" font-size="10.4" fill="#222" stroke="#222" text-anchor="middle" >1</text>
<text x="375.59" y="241.6" font-size="10.4" fill="#222" stroke="#222" text-anchor="middle" >2</text>
<text x="406.94" y="241.6" font-size="10.4" fill="#222" stroke="#222" text-anchor="middle" >3</text>
<text x="124.88" y="257.6" font-size="10" fill="#222" stroke="#222" text-anchor="middle" >Time (ms)</text>
<text x="344" y="257.6" font-size="10" fill="#222" stroke="#222" text-anchor="middle" >Time (ms)</text>
<text transform="translate(13,37.4) rotate(-90)" x="0" y="0" font-size="9.7" fill="#222" stroke="#222" text-anchor="middle" ><tspan font-style="italic">V</tspan> (V)</text>
<text transform="translate(13,105.2) rotate(-90)" x="0" y="0" font-size="9.7" fill="#222" stroke="#222" text-anchor="middle" ><tspan font-style="italic">I</tspan> (mA)</text>
<text transform="translate(13,183.4) rotate(-90)" x="0" y="0" font-size="9.95" fill="#222" stroke="#222" text-anchor="middle" >OPD (&#956;W mm<tspan dy="-4.6" font-size="6.3">&#8722;2</tspan><tspan dy="4.6">)</tspan></text>
<text transform="translate(231.9,37.4) rotate(-90)" x="0" y="0" font-size="9.7" fill="#222" stroke="#222" text-anchor="middle" ><tspan font-style="italic">V</tspan> (V)</text>
<text transform="translate(231.9,105.2) rotate(-90)" x="0" y="0" font-size="9.7" fill="#222" stroke="#222" text-anchor="middle" ><tspan font-style="italic">I</tspan> (mA)</text>
<text transform="translate(231.9,183.4) rotate(-90)" x="0" y="0" font-size="9.95" fill="#222" stroke="#222" text-anchor="middle" >OPD (&#956;W mm<tspan dy="-4.6" font-size="6.3">&#8722;2</tspan><tspan dy="4.6">)</tspan></text>
<text x="-0.6" y="7.7" font-size="14.5" fill="#000" stroke="#000" text-anchor="start" font-weight="bold">a</text>
<text x="219" y="10.5" font-size="14.5" fill="#000" stroke="#000" text-anchor="start" font-weight="bold">b</text>
<text x="438.2" y="8" font-size="14.5" fill="#000" stroke="#000" text-anchor="start" font-weight="bold">c</text>
<text x="437.9" y="134.8" font-size="14.5" fill="#000" stroke="#000" text-anchor="start" font-weight="bold">d</text>
<text x="63.4" y="17.9" font-size="7.25" fill="#222" stroke="#222" text-anchor="start" ><tspan font-style="italic">t</tspan><tspan font-size="4.6" dy="1.9">1</tspan><tspan dy="-1.9" dx="-0.9"> = 1 ms</tspan></text>
<text x="48.2" y="34.9" font-size="7.25" fill="#222" stroke="#222" text-anchor="start" >5 V</text>
<text x="96.8" y="32.7" font-size="7.25" fill="#222" stroke="#222" text-anchor="start" ><tspan font-style="italic">t</tspan><tspan font-size="4.6" dy="1.9">2</tspan><tspan dy="-1.9" dx="-0.6"> = 0.25 ms&#8211;2.00 ms</tspan></text>
<text x="159.9" y="50.4" font-size="7.25" fill="#222" stroke="#222" text-anchor="start" >&#8211;5 V</text>
<text x="268" y="15.9" font-size="7.25" fill="#222" stroke="#222" text-anchor="start" ><tspan font-style="italic">V</tspan><tspan font-size="4.6" dy="1.9" dx="-0.2">1</tspan><tspan dy="-1.9" dx="-0.7"> = 5 V</tspan></text>
<text x="288" y="33.9" font-size="7.25" fill="#222" stroke="#222" text-anchor="start" >1 ms</text>
<text x="320.2" y="34.9" font-size="7.25" fill="#222" stroke="#222" text-anchor="start" >1 ms</text>
<text x="349.9" y="58.7" font-size="7.25" fill="#222" stroke="#222" text-anchor="start" ><tspan font-style="italic">V</tspan><tspan font-size="4.6" dy="1.9" dx="-0.2">2</tspan><tspan dy="-1.9" dx="-0.5"> = 4 V&#8211;9 V</tspan></text>
<text x="120.8" y="154" font-size="7.6" fill="#222" stroke="#222" text-anchor="start" ><tspan font-style="italic">t</tspan><tspan font-size="4.6" dy="1.6">2</tspan><tspan dy="-1.6">/</tspan><tspan font-style="italic">t</tspan><tspan font-size="4.6" dy="1.6">1</tspan></text>
<line x1="120.2" y1="162.3" x2="140.2" y2="162.3" stroke="#444444" stroke-width="0.9" />
<text x="144" y="164.2" font-size="7.25" fill="#222" stroke="#222" text-anchor="start" >0.25</text>
<line x1="161.8" y1="162.3" x2="181.8" y2="162.3" stroke="#ff3b3b" stroke-width="0.9" />
<text x="185.6" y="164.2" font-size="7.25" fill="#222" stroke="#222" text-anchor="start" >0.50</text>
<line x1="120.2" y1="173.1" x2="140.2" y2="173.1" stroke="#3f86ee" stroke-width="0.9" />
<text x="144" y="175" font-size="7.25" fill="#222" stroke="#222" text-anchor="start" >0.75</text>
<line x1="161.8" y1="173.1" x2="181.8" y2="173.1" stroke="#3fb46e" stroke-width="0.9" />
<text x="185.6" y="175" font-size="7.25" fill="#222" stroke="#222" text-anchor="start" >1.00</text>
<line x1="120.2" y1="183.9" x2="140.2" y2="183.9" stroke="#c38ef0" stroke-width="0.9" />
<text x="144" y="185.8" font-size="7.25" fill="#222" stroke="#222" text-anchor="start" >1.25</text>
<line x1="161.8" y1="183.9" x2="181.8" y2="183.9" stroke="#e2a526" stroke-width="0.9" />
<text x="185.6" y="185.8" font-size="7.25" fill="#222" stroke="#222" text-anchor="start" >1.50</text>
<line x1="120.2" y1="194.7" x2="140.2" y2="194.7" stroke="#1cc8d4" stroke-width="0.9" />
<text x="144" y="196.6" font-size="7.25" fill="#222" stroke="#222" text-anchor="start" >1.75</text>
<line x1="161.8" y1="194.7" x2="181.8" y2="194.7" stroke="#8a4d45" stroke-width="0.9" />
<text x="185.6" y="196.6" font-size="7.25" fill="#222" stroke="#222" text-anchor="start" >2.00</text>
<text x="342.6" y="163.9" font-size="8" fill="#222" stroke="#222" text-anchor="start" ><tspan font-style="italic">V</tspan><tspan font-size="4.6" dy="1.6" dx="-0.3">2</tspan><tspan dy="-1.6">/</tspan><tspan font-style="italic">V</tspan><tspan font-size="4.6" dy="1.6" dx="-0.4">1</tspan></text>
<line x1="342.2" y1="173.5" x2="361.8" y2="173.5" stroke="#444444" stroke-width="0.9" />
<text x="364.7" y="175.7" font-size="7.25" fill="#222" stroke="#222" text-anchor="start" >0.8</text>
<line x1="378" y1="173.5" x2="397.6" y2="173.5" stroke="#ff3b3b" stroke-width="0.9" />
<text x="402" y="175.7" font-size="7.25" fill="#222" stroke="#222" text-anchor="start" >1.0</text>
<line x1="342.2" y1="184.15" x2="361.8" y2="184.15" stroke="#3f86ee" stroke-width="0.9" />
<text x="364.7" y="186.35" font-size="7.25" fill="#222" stroke="#222" text-anchor="start" >1.2</text>
<line x1="378" y1="184.15" x2="397.6" y2="184.15" stroke="#3fb46e" stroke-width="0.9" />
<text x="402" y="186.35" font-size="7.25" fill="#222" stroke="#222" text-anchor="start" >1.4</text>
<line x1="342.2" y1="194.8" x2="361.8" y2="194.8" stroke="#c38ef0" stroke-width="0.9" />
<text x="364.7" y="197" font-size="7.25" fill="#222" stroke="#222" text-anchor="start" >1.6</text>
<line x1="378" y1="194.8" x2="397.6" y2="194.8" stroke="#e2a526" stroke-width="0.9" />
<text x="402" y="197" font-size="7.25" fill="#222" stroke="#222" text-anchor="start" >1.8</text>
<line x1="475.7" y1="4.5" x2="475.7" y2="105.2" stroke="#ff2020" stroke-width="0.7" />
<line x1="475.7" y1="105.2" x2="478.1" y2="105.2" stroke="#ff2020" stroke-width="0.7" />
<text x="469.9" y="108.9" font-size="10.3" fill="#ff2020" stroke="#ff2020" text-anchor="end" >0.0</text>
<line x1="475.7" y1="95.13" x2="477.2" y2="95.13" stroke="#ff2020" stroke-width="0.7" />
<line x1="475.7" y1="85.06" x2="478.1" y2="85.06" stroke="#ff2020" stroke-width="0.7" />
<text x="469.9" y="88.76" font-size="10.3" fill="#ff2020" stroke="#ff2020" text-anchor="end" >0.5</text>
<line x1="475.7" y1="74.99" x2="477.2" y2="74.99" stroke="#ff2020" stroke-width="0.7" />
<line x1="475.7" y1="64.92" x2="478.1" y2="64.92" stroke="#ff2020" stroke-width="0.7" />
<text x="469.9" y="68.62" font-size="10.3" fill="#ff2020" stroke="#ff2020" text-anchor="end" >1.0</text>
<line x1="475.7" y1="54.85" x2="477.2" y2="54.85" stroke="#ff2020" stroke-width="0.7" />
<line x1="475.7" y1="44.78" x2="478.1" y2="44.78" stroke="#ff2020" stroke-width="0.7" />
<text x="469.9" y="48.48" font-size="10.3" fill="#ff2020" stroke="#ff2020" text-anchor="end" >1.5</text>
<line x1="475.7" y1="34.71" x2="477.2" y2="34.71" stroke="#ff2020" stroke-width="0.7" />
<line x1="475.7" y1="24.64" x2="478.1" y2="24.64" stroke="#ff2020" stroke-width="0.7" />
<text x="469.9" y="28.34" font-size="10.3" fill="#ff2020" stroke="#ff2020" text-anchor="end" >2.0</text>
<line x1="475.7" y1="14.57" x2="477.2" y2="14.57" stroke="#ff2020" stroke-width="0.7" />
<line x1="475.7" y1="4.5" x2="478.1" y2="4.5" stroke="#ff2020" stroke-width="0.7" />
<text x="469.9" y="8.2" font-size="10.3" fill="#ff2020" stroke="#ff2020" text-anchor="end" >2.5</text>
<line x1="515.4" y1="4.5" x2="652.2" y2="4.5" stroke="#3a3a3a" stroke-width="1" />
<line x1="515.4" y1="105.2" x2="652.2" y2="105.2" stroke="#3a3a3a" stroke-width="1" />
<line x1="515.4" y1="4.5" x2="515.4" y2="105.2" stroke="#3a3a3a" stroke-width="1" />
<line x1="652.2" y1="4.5" x2="652.2" y2="105.2" stroke="#2020ff" stroke-width="0.9" />
<line x1="515.4" y1="105.2" x2="517.8" y2="105.2" stroke="#3a3a3a" stroke-width="0.8" />
<text x="509.9" y="107.9" font-size="8.9" fill="#222" stroke="#222" text-anchor="end" >0</text>
<line x1="515.4" y1="88.42" x2="516.9" y2="88.42" stroke="#3a3a3a" stroke-width="0.8" />
<line x1="515.4" y1="71.63" x2="517.8" y2="71.63" stroke="#3a3a3a" stroke-width="0.8" />
<text x="509.9" y="74.33" font-size="8.9" fill="#222" stroke="#222" text-anchor="end" >20</text>
<line x1="515.4" y1="54.85" x2="516.9" y2="54.85" stroke="#3a3a3a" stroke-width="0.8" />
<line x1="515.4" y1="38.07" x2="517.8" y2="38.07" stroke="#3a3a3a" stroke-width="0.8" />
<text x="509.9" y="40.77" font-size="8.9" fill="#222" stroke="#222" text-anchor="end" >40</text>
<line x1="515.4" y1="21.28" x2="516.9" y2="21.28" stroke="#3a3a3a" stroke-width="0.8" />
<line x1="515.4" y1="4.5" x2="517.8" y2="4.5" stroke="#3a3a3a" stroke-width="0.8" />
<text x="509.9" y="7.2" font-size="8.9" fill="#222" stroke="#222" text-anchor="end" >60</text>
<line x1="652.2" y1="105.2" x2="649.8" y2="105.2" stroke="#2020ff" stroke-width="0.8" />
<line x1="652.2" y1="92.61" x2="650.7" y2="92.61" stroke="#2020ff" stroke-width="0.8" />
<line x1="652.2" y1="80.03" x2="649.8" y2="80.03" stroke="#2020ff" stroke-width="0.8" />
<line x1="652.2" y1="67.44" x2="650.7" y2="67.44" stroke="#2020ff" stroke-width="0.8" />
<line x1="652.2" y1="54.85" x2="649.8" y2="54.85" stroke="#2020ff" stroke-width="0.8" />
<line x1="652.2" y1="42.26" x2="650.7" y2="42.26" stroke="#2020ff" stroke-width="0.8" />
<line x1="652.2" y1="29.67" x2="649.8" y2="29.67" stroke="#2020ff" stroke-width="0.8" />
<line x1="652.2" y1="17.09" x2="650.7" y2="17.09" stroke="#2020ff" stroke-width="0.8" />
<line x1="652.2" y1="4.5" x2="649.8" y2="4.5" stroke="#2020ff" stroke-width="0.8" />
<text x="657.8" y="108.5" font-size="8.9" fill="#2020ff" stroke="#2020ff" text-anchor="start" >0</text>
<text x="657.8" y="83.33" font-size="8.9" fill="#2020ff" stroke="#2020ff" text-anchor="start" >2k</text>
<text x="657.8" y="58.15" font-size="8.9" fill="#2020ff" stroke="#2020ff" text-anchor="start" >4k</text>
<text x="657.8" y="32.97" font-size="8.9" fill="#2020ff" stroke="#2020ff" text-anchor="start" >6k</text>
<text x="657.8" y="7.8" font-size="8.9" fill="#2020ff" stroke="#2020ff" text-anchor="start" >8k</text>
<line x1="530.6" y1="4.5" x2="530.6" y2="6" stroke="#3a3a3a" stroke-width="0.8" />
<line x1="530.6" y1="105.2" x2="530.6" y2="103.7" stroke="#3a3a3a" stroke-width="0.8" />
<line x1="545.8" y1="4.5" x2="545.8" y2="6.9" stroke="#3a3a3a" stroke-width="0.8" />
<line x1="545.8" y1="105.2" x2="545.8" y2="102.8" stroke="#3a3a3a" stroke-width="0.8" />
<line x1="561" y1="4.5" x2="561" y2="6" stroke="#3a3a3a" stroke-width="0.8" />
<line x1="561" y1="105.2" x2="561" y2="103.7" stroke="#3a3a3a" stroke-width="0.8" />
<line x1="576.2" y1="4.5" x2="576.2" y2="6.9" stroke="#3a3a3a" stroke-width="0.8" />
<line x1="576.2" y1="105.2" x2="576.2" y2="102.8" stroke="#3a3a3a" stroke-width="0.8" />
<line x1="591.4" y1="4.5" x2="591.4" y2="6" stroke="#3a3a3a" stroke-width="0.8" />
<line x1="591.4" y1="105.2" x2="591.4" y2="103.7" stroke="#3a3a3a" stroke-width="0.8" />
<line x1="606.6" y1="4.5" x2="606.6" y2="6.9" stroke="#3a3a3a" stroke-width="0.8" />
<line x1="606.6" y1="105.2" x2="606.6" y2="102.8" stroke="#3a3a3a" stroke-width="0.8" />
<line x1="621.8" y1="4.5" x2="621.8" y2="6" stroke="#3a3a3a" stroke-width="0.8" />
<line x1="621.8" y1="105.2" x2="621.8" y2="103.7" stroke="#3a3a3a" stroke-width="0.8" />
<line x1="637" y1="4.5" x2="637" y2="6.9" stroke="#3a3a3a" stroke-width="0.8" />
<line x1="637" y1="105.2" x2="637" y2="102.8" stroke="#3a3a3a" stroke-width="0.8" />
<text x="515.4" y="114.9" font-size="8.9" fill="#222" stroke="#222" text-anchor="middle" >0.0</text>
<text x="545.8" y="114.9" font-size="8.9" fill="#222" stroke="#222" text-anchor="middle" >0.5</text>
<text x="576.2" y="114.9" font-size="8.9" fill="#222" stroke="#222" text-anchor="middle" >1.0</text>
<text x="606.6" y="114.9" font-size="8.9" fill="#222" stroke="#222" text-anchor="middle" >1.5</text>
<text x="637" y="114.9" font-size="8.9" fill="#222" stroke="#222" text-anchor="middle" >2.0</text>
<polyline points="530.6,98.0 545.8,69.9 561,53.3 576.2,53.0 591.4,54.5 606.6,59.7 621.8,63.7 637,66.7" fill="none" stroke="#222" stroke-width="0.75" stroke-linejoin="round" />
<rect x="528.9" y="96.3" width="3.4" height="3.4" fill="#111"/>
<rect x="544.1" y="68.2" width="3.4" height="3.4" fill="#111"/>
<rect x="559.3" y="51.6" width="3.4" height="3.4" fill="#111"/>
<rect x="574.5" y="51.3" width="3.4" height="3.4" fill="#111"/>
<rect x="589.7" y="52.8" width="3.4" height="3.4" fill="#111"/>
<rect x="604.9" y="58" width="3.4" height="3.4" fill="#111"/>
<rect x="620.1" y="62" width="3.4" height="3.4" fill="#111"/>
<rect x="635.3" y="65" width="3.4" height="3.4" fill="#111"/>
<polyline points="545.8,81.6 561,69.4 576.2,59.8 591.4,29.9 606.6,74.4 621.8,92.4" fill="none" stroke="#2020ff" stroke-width="0.75" stroke-linejoin="round" />
<polygon points="545.8,79.5 543.5,83.4 548.1,83.4" fill="#2020ff"/>
<polygon points="561,67.3 558.7,71.2 563.3,71.2" fill="#2020ff"/>
<polygon points="576.2,57.7 573.9,61.6 578.5,61.6" fill="#2020ff"/>
<polygon points="591.4,27.8 589.1,31.7 593.7,31.7" fill="#2020ff"/>
<polygon points="606.6,72.3 604.3,76.2 608.9,76.2" fill="#2020ff"/>
<polygon points="621.8,90.3 619.5,94.2 624.1,94.2" fill="#2020ff"/>
<polyline points="530.6,100.0 545.8,91.6 561,83.4 576.2,74.7 591.4,66.4 606.6,70.4 621.8,75.9 637,79.9" fill="none" stroke="#ff2020" stroke-width="0.75" stroke-linejoin="round" />
<circle cx="530.6" cy="100" r="2.0" fill="#ff2020"/>
<circle cx="545.8" cy="91.6" r="2.0" fill="#ff2020"/>
<circle cx="561" cy="83.4" r="2.0" fill="#ff2020"/>
<circle cx="576.2" cy="74.7" r="2.0" fill="#ff2020"/>
<circle cx="591.4" cy="66.4" r="2.0" fill="#ff2020"/>
<circle cx="606.6" cy="70.4" r="2.0" fill="#ff2020"/>
<circle cx="621.8" cy="75.9" r="2.0" fill="#ff2020"/>
<circle cx="637" cy="79.9" r="2.0" fill="#ff2020"/>
<line x1="520.5" y1="12.8" x2="536.7" y2="12.8" stroke="#333" stroke-width="0.8" />
<rect x="527" y="11" width="3" height="3" fill="#000" shape-rendering="crispEdges"/>
<text x="540.4" y="15.4" font-size="7.3" fill="#222" stroke="#222" text-anchor="start" >Mean OPD</text>
<line x1="520.5" y1="22.8" x2="536.7" y2="22.8" stroke="#4a4aff" stroke-width="0.8" />
<polygon points="528.9,20.6 526.8,24.3 531,24.3" fill="#2020ff"/>
<text x="540.4" y="25.4" font-size="7.3" fill="#222" stroke="#222" text-anchor="start" >LT<tspan font-size="4.3" dy="1.6">50</tspan></text>
<line x1="520.5" y1="32.8" x2="536.7" y2="32.8" stroke="#ff9c9c" stroke-width="1.3" />
<circle cx="528.9" cy="32.8" r="1.9" fill="#ff2020"/>
<text x="540.4" y="35.4" font-size="7.3" fill="#222" stroke="#222" text-anchor="start" >Balance factor</text>
<text x="583.8" y="125.9" font-size="9" fill="#222" stroke="#222" text-anchor="middle" ><tspan font-style="italic">t</tspan><tspan font-size="5.5" dy="1.8">2</tspan><tspan dy="-1.8">/</tspan><tspan font-style="italic">t</tspan><tspan font-size="5.5" dy="1.8">1</tspan></text>
<line x1="475.7" y1="132.4" x2="475.7" y2="233.2" stroke="#ff2020" stroke-width="0.7" />
<line x1="475.7" y1="233.2" x2="478.1" y2="233.2" stroke="#ff2020" stroke-width="0.7" />
<text x="469.9" y="236.9" font-size="10.3" fill="#ff2020" stroke="#ff2020" text-anchor="end" >0.0</text>
<line x1="475.7" y1="223.12" x2="477.2" y2="223.12" stroke="#ff2020" stroke-width="0.7" />
<line x1="475.7" y1="213.04" x2="478.1" y2="213.04" stroke="#ff2020" stroke-width="0.7" />
<text x="469.9" y="216.74" font-size="10.3" fill="#ff2020" stroke="#ff2020" text-anchor="end" >0.5</text>
<line x1="475.7" y1="202.96" x2="477.2" y2="202.96" stroke="#ff2020" stroke-width="0.7" />
<line x1="475.7" y1="192.88" x2="478.1" y2="192.88" stroke="#ff2020" stroke-width="0.7" />
<text x="469.9" y="196.58" font-size="10.3" fill="#ff2020" stroke="#ff2020" text-anchor="end" >1.0</text>
<line x1="475.7" y1="182.8" x2="477.2" y2="182.8" stroke="#ff2020" stroke-width="0.7" />
<line x1="475.7" y1="172.72" x2="478.1" y2="172.72" stroke="#ff2020" stroke-width="0.7" />
<text x="469.9" y="176.42" font-size="10.3" fill="#ff2020" stroke="#ff2020" text-anchor="end" >1.5</text>
<line x1="475.7" y1="162.64" x2="477.2" y2="162.64" stroke="#ff2020" stroke-width="0.7" />
<line x1="475.7" y1="152.56" x2="478.1" y2="152.56" stroke="#ff2020" stroke-width="0.7" />
<text x="469.9" y="156.26" font-size="10.3" fill="#ff2020" stroke="#ff2020" text-anchor="end" >2.0</text>
<line x1="475.7" y1="142.48" x2="477.2" y2="142.48" stroke="#ff2020" stroke-width="0.7" />
<line x1="475.7" y1="132.4" x2="478.1" y2="132.4" stroke="#ff2020" stroke-width="0.7" />
<text x="469.9" y="136.1" font-size="10.3" fill="#ff2020" stroke="#ff2020" text-anchor="end" >2.5</text>
<line x1="515.4" y1="132.4" x2="652.61" y2="132.4" stroke="#3a3a3a" stroke-width="1" />
<line x1="515.4" y1="233.2" x2="652.61" y2="233.2" stroke="#3a3a3a" stroke-width="1" />
<line x1="515.4" y1="132.4" x2="515.4" y2="233.2" stroke="#3a3a3a" stroke-width="1" />
<line x1="652.61" y1="132.4" x2="652.61" y2="233.2" stroke="#2020ff" stroke-width="0.9" />
<line x1="515.4" y1="233.2" x2="517.8" y2="233.2" stroke="#3a3a3a" stroke-width="0.8" />
<text x="509.9" y="235.9" font-size="8.9" fill="#222" stroke="#222" text-anchor="end" >0</text>
<line x1="515.4" y1="216.4" x2="516.9" y2="216.4" stroke="#3a3a3a" stroke-width="0.8" />
<line x1="515.4" y1="199.6" x2="517.8" y2="199.6" stroke="#3a3a3a" stroke-width="0.8" />
<text x="509.9" y="202.3" font-size="8.9" fill="#222" stroke="#222" text-anchor="end" >20</text>
<line x1="515.4" y1="182.8" x2="516.9" y2="182.8" stroke="#3a3a3a" stroke-width="0.8" />
<line x1="515.4" y1="166" x2="517.8" y2="166" stroke="#3a3a3a" stroke-width="0.8" />
<text x="509.9" y="168.7" font-size="8.9" fill="#222" stroke="#222" text-anchor="end" >40</text>
<line x1="515.4" y1="149.2" x2="516.9" y2="149.2" stroke="#3a3a3a" stroke-width="0.8" />
<line x1="515.4" y1="132.4" x2="517.8" y2="132.4" stroke="#3a3a3a" stroke-width="0.8" />
<text x="509.9" y="135.1" font-size="8.9" fill="#222" stroke="#222" text-anchor="end" >60</text>
<line x1="652.61" y1="233.2" x2="650.21" y2="233.2" stroke="#2020ff" stroke-width="0.8" />
<line x1="652.61" y1="220.6" x2="651.11" y2="220.6" stroke="#2020ff" stroke-width="0.8" />
<line x1="652.61" y1="208" x2="650.21" y2="208" stroke="#2020ff" stroke-width="0.8" />
<line x1="652.61" y1="195.4" x2="651.11" y2="195.4" stroke="#2020ff" stroke-width="0.8" />
<line x1="652.61" y1="182.8" x2="650.21" y2="182.8" stroke="#2020ff" stroke-width="0.8" />
<line x1="652.61" y1="170.2" x2="651.11" y2="170.2" stroke="#2020ff" stroke-width="0.8" />
<line x1="652.61" y1="157.6" x2="650.21" y2="157.6" stroke="#2020ff" stroke-width="0.8" />
<line x1="652.61" y1="145" x2="651.11" y2="145" stroke="#2020ff" stroke-width="0.8" />
<line x1="652.61" y1="132.4" x2="650.21" y2="132.4" stroke="#2020ff" stroke-width="0.8" />
<text x="658.21" y="236.5" font-size="8.9" fill="#2020ff" stroke="#2020ff" text-anchor="start" >0</text>
<text x="658.21" y="211.3" font-size="8.9" fill="#2020ff" stroke="#2020ff" text-anchor="start" >1k</text>
<text x="658.21" y="186.1" font-size="8.9" fill="#2020ff" stroke="#2020ff" text-anchor="start" >2k</text>
<text x="658.21" y="160.9" font-size="8.9" fill="#2020ff" stroke="#2020ff" text-anchor="start" >3k</text>
<text x="658.21" y="135.7" font-size="8.9" fill="#2020ff" stroke="#2020ff" text-anchor="start" >4k</text>
<line x1="538.27" y1="132.4" x2="538.27" y2="133.9" stroke="#3a3a3a" stroke-width="0.8" />
<line x1="538.27" y1="233.2" x2="538.27" y2="231.7" stroke="#3a3a3a" stroke-width="0.8" />
<line x1="561.13" y1="132.4" x2="561.13" y2="134.8" stroke="#3a3a3a" stroke-width="0.8" />
<line x1="561.13" y1="233.2" x2="561.13" y2="230.8" stroke="#3a3a3a" stroke-width="0.8" />
<line x1="584" y1="132.4" x2="584" y2="133.9" stroke="#3a3a3a" stroke-width="0.8" />
<line x1="584" y1="233.2" x2="584" y2="231.7" stroke="#3a3a3a" stroke-width="0.8" />
<line x1="606.87" y1="132.4" x2="606.87" y2="134.8" stroke="#3a3a3a" stroke-width="0.8" />
<line x1="606.87" y1="233.2" x2="606.87" y2="230.8" stroke="#3a3a3a" stroke-width="0.8" />
<line x1="629.74" y1="132.4" x2="629.74" y2="133.9" stroke="#3a3a3a" stroke-width="0.8" />
<line x1="629.74" y1="233.2" x2="629.74" y2="231.7" stroke="#3a3a3a" stroke-width="0.8" />
<text x="515.4" y="244.9" font-size="8.9" fill="#222" stroke="#222" text-anchor="middle" >0.5</text>
<text x="561.13" y="244.9" font-size="8.9" fill="#222" stroke="#222" text-anchor="middle" >1.0</text>
<text x="606.87" y="244.9" font-size="8.9" fill="#222" stroke="#222" text-anchor="middle" >1.5</text>
<text x="652.61" y="244.9" font-size="8.9" fill="#222" stroke="#222" text-anchor="middle" >2.0</text>
<polyline points="542.8,206.9 561.1,181.6 579.4,176.3 597.7,178.9 616,180.9 634.3,185.4" fill="none" stroke="#222" stroke-width="0.75" stroke-linejoin="round" />
<rect x="541.14" y="205.2" width="3.4" height="3.4" fill="#111"/>
<rect x="559.43" y="179.9" width="3.4" height="3.4" fill="#111"/>
<rect x="577.73" y="174.6" width="3.4" height="3.4" fill="#111"/>
<rect x="596.02" y="177.2" width="3.4" height="3.4" fill="#111"/>
<rect x="614.32" y="179.2" width="3.4" height="3.4" fill="#111"/>
<rect x="632.61" y="183.7" width="3.4" height="3.4" fill="#111"/>
<polyline points="542.8,151.9 561.1,143.4 579.4,157.3 597.7,211.3 616,222.2" fill="none" stroke="#2020ff" stroke-width="0.75" stroke-linejoin="round" />
<polygon points="542.84,149.8 540.54,153.7 545.14,153.7" fill="#2020ff"/>
<polygon points="561.13,141.3 558.84,145.2 563.43,145.2" fill="#2020ff"/>
<polygon points="579.43,155.2 577.13,159.1 581.73,159.1" fill="#2020ff"/>
<polygon points="597.72,209.2 595.42,213.1 600.02,213.1" fill="#2020ff"/>
<polygon points="616.02,220.1 613.72,224 618.32,224" fill="#2020ff"/>
<polyline points="542.8,218.0 561.1,203.1 579.4,195.1 597.7,205.4 616,211.2 634.3,215.3" fill="none" stroke="#ff2020" stroke-width="0.75" stroke-linejoin="round" />
<circle cx="542.84" cy="218" r="2.0" fill="#ff2020"/>
<circle cx="561.13" cy="203.1" r="2.0" fill="#ff2020"/>
<circle cx="579.43" cy="195.1" r="2.0" fill="#ff2020"/>
<circle cx="597.72" cy="205.4" r="2.0" fill="#ff2020"/>
<circle cx="616.02" cy="211.2" r="2.0" fill="#ff2020"/>
<circle cx="634.31" cy="215.3" r="2.0" fill="#ff2020"/>
<line x1="585.8" y1="140.9" x2="602" y2="140.9" stroke="#aaaaaa" stroke-width="0.8" />
<rect x="593" y="139" width="3" height="3" fill="#000" shape-rendering="crispEdges"/>
<text x="603.7" y="143.5" font-size="7.3" fill="#222" stroke="#222" text-anchor="start" >Mean OPD</text>
<line x1="585.8" y1="150.9" x2="602" y2="150.9" stroke="#a8a8ff" stroke-width="0.8" />
<polygon points="594.2,148.7 592.1,152.4 596.3,152.4" fill="#2020ff"/>
<text x="603.7" y="153.5" font-size="7.3" fill="#222" stroke="#222" text-anchor="start" >LT<tspan font-size="4.3" dy="1.6">50</tspan></text>
<line x1="585.8" y1="160.9" x2="602" y2="160.9" stroke="#ff4040" stroke-width="0.8" />
<circle cx="594.2" cy="160.9" r="1.9" fill="#ff2020"/>
<text x="603.7" y="163.5" font-size="7.3" fill="#222" stroke="#222" text-anchor="start" >Balance factor</text>
<text x="585.6" y="259.6" font-size="9" fill="#222" stroke="#222" text-anchor="middle" ><tspan font-style="italic">V</tspan><tspan font-size="5.5" dy="1.8" dx="-0.3">2</tspan><tspan dy="-1.8">/</tspan><tspan font-style="italic">V</tspan><tspan font-size="5.5" dy="1.8" dx="-0.3">1</tspan></text>
<text transform="translate(447.3,54.3) rotate(-90)" x="0" y="0" font-size="10.1" fill="#ff2020" stroke="#ff2020" text-anchor="middle" >Balance factor</text>
<text transform="translate(488.8,54.6) rotate(-90)" x="0" y="0" font-size="10" fill="#222" stroke="#222" text-anchor="middle" >Mean OPD (&#956;W mm<tspan dy="-4.8" font-size="6.2">&#8722;2</tspan><tspan dy="4.8">)</tspan></text>
<text transform="translate(681.7,55.1) rotate(-90)" x="0" y="0" font-size="10.1" fill="#2020ff" stroke="#2020ff" text-anchor="middle" >LT<tspan font-size="7" dy="2.2">50</tspan><tspan dy="-2.2"> (pulse)</tspan></text>
<text transform="translate(447.3,182.3) rotate(-90)" x="0" y="0" font-size="10.1" fill="#ff2020" stroke="#ff2020" text-anchor="middle" >Balance factor</text>
<text transform="translate(488.8,182.6) rotate(-90)" x="0" y="0" font-size="10" fill="#222" stroke="#222" text-anchor="middle" >Mean OPD (&#956;W mm<tspan dy="-4.8" font-size="6.2">&#8722;2</tspan><tspan dy="4.8">)</tspan></text>
<text transform="translate(681.7,183.1) rotate(-90)" x="0" y="0" font-size="10.1" fill="#2020ff" stroke="#2020ff" text-anchor="middle" >LT<tspan font-size="7" dy="2.2">50</tspan><tspan dy="-2.2"> (pulse)</tspan></text>
</svg>
</body></html>
